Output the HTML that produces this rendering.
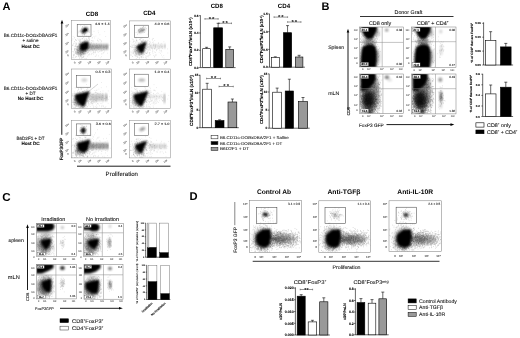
<!DOCTYPE html>
<html><head><meta charset="utf-8"><style>
html,body{margin:0;padding:0;background:#fff;width:520px;height:338px;overflow:hidden}
svg{display:block;font-family:"Liberation Sans", sans-serif;filter:grayscale(1);text-rendering:geometricPrecision}
</style></head><body>
<svg width="520" height="338" viewBox="0 0 520 338">
<defs>
<filter id="b05" x="-50%" y="-50%" width="200%" height="200%"><feGaussianBlur stdDeviation="0.5"/></filter>
<filter id="b08" x="-50%" y="-50%" width="200%" height="200%"><feGaussianBlur stdDeviation="0.8"/></filter>
<filter id="b1" x="-50%" y="-50%" width="200%" height="200%"><feGaussianBlur stdDeviation="1"/></filter>
<filter id="b15" x="-50%" y="-50%" width="200%" height="200%"><feGaussianBlur stdDeviation="1.5"/></filter>
<filter id="b2" x="-50%" y="-50%" width="200%" height="200%"><feGaussianBlur stdDeviation="2"/></filter>
<filter id="b3" x="-50%" y="-50%" width="200%" height="200%"><feGaussianBlur stdDeviation="3"/></filter>
</defs>
<rect width="520" height="338" fill="#fff"/>
<text x="6.4" y="9.8" font-size="11" text-anchor="middle" font-weight="bold" fill="#000">A</text>
<text x="325.5" y="9.8" font-size="11" text-anchor="middle" font-weight="bold" fill="#000">B</text>
<text x="6.4" y="200.5" font-size="11.6" text-anchor="middle" font-weight="bold" fill="#000">C</text>
<text x="193.5" y="200.4" font-size="11.2" text-anchor="middle" font-weight="bold" fill="#000">D</text>
<text x="69.1" y="25.377000000000002" font-size="2.6" text-anchor="end" fill="#555" transform="rotate(-30 69.1 25.377000000000002)" stroke="#555" stroke-width="0.08">10⁴</text>
<text x="69.1" y="34.301" font-size="2.6" text-anchor="end" fill="#555" transform="rotate(-30 69.1 34.301)" stroke="#555" stroke-width="0.08">10³</text>
<text x="69.1" y="43.322" font-size="2.6" text-anchor="end" fill="#555" transform="rotate(-30 69.1 43.322)" stroke="#555" stroke-width="0.08">10²</text>
<text x="69.1" y="51.567" font-size="2.6" text-anchor="end" fill="#555" transform="rotate(-30 69.1 51.567)" stroke="#555" stroke-width="0.08">10¹</text>
<text x="69.1" y="55.73799999999999" font-size="2.6" text-anchor="end" fill="#555" transform="rotate(-30 69.1 55.73799999999999)" stroke="#555" stroke-width="0.08">0</text>
<text x="75.2" y="63.4" font-size="2.6" text-anchor="middle" fill="#555" transform="rotate(-30 75.2 63.4)" stroke="#555" stroke-width="0.08">0</text>
<text x="80.39999999999999" y="63.4" font-size="2.6" text-anchor="middle" fill="#555" transform="rotate(-30 80.39999999999999 63.4)" stroke="#555" stroke-width="0.08">10¹</text>
<text x="89.9" y="63.4" font-size="2.6" text-anchor="middle" fill="#555" transform="rotate(-30 89.9 63.4)" stroke="#555" stroke-width="0.08">10²</text>
<text x="99.4" y="63.4" font-size="2.6" text-anchor="middle" fill="#555" transform="rotate(-30 99.4 63.4)" stroke="#555" stroke-width="0.08">10³</text>
<text x="108.0" y="63.4" font-size="2.6" text-anchor="middle" fill="#555" transform="rotate(-30 108.0 63.4)" stroke="#555" stroke-width="0.08">10⁴</text>
<clipPath id="c1"><rect x="71.3" y="20.6" width="39.4" height="38.8"/></clipPath><g clip-path="url(#c1)">
<path d="M85.7 50.1h.6M86.0 45.1h.6M79.6 45.7h.6M98.0 49.5h.6M97.3 48.5h.6M91.6 48.1h.6M73.0 52.1h.6M92.6 50.0h.6M72.8 36.5h.6M80.0 44.2h.6M90.7 46.7h.6M92.7 43.1h.6M90.8 49.4h.6M82.0 57.3h.6M93.0 54.2h.6M82.4 42.6h.6M84.9 46.4h.6M93.7 48.5h.6M84.0 41.3h.6M83.3 54.3h.6M80.7 48.5h.6M91.8 38.1h.6M88.4 54.8h.6M69.9 45.1h.6M87.0 42.1h.6M92.5 46.6h.6M74.8 52.0h.6M94.0 52.7h.6M101.0 49.2h.6M89.1 39.2h.6M93.5 43.3h.6M83.9 39.4h.6M79.3 43.8h.6M99.6 34.8h.6M74.9 48.4h.6M101.0 50.5h.6M70.9 31.9h.6M91.2 42.6h.6M77.9 52.9h.6M97.9 47.9h.6M90.2 49.6h.6M102.3 50.7h.6M92.7 50.3h.6M73.9 54.7h.6M96.6 50.2h.6M70.2 43.2h.6M95.6 36.1h.6M86.3 53.1h.6M76.2 56.7h.6M93.0 46.1h.6M90.9 50.9h.6M89.1 53.9h.6M82.0 44.5h.6M97.4 47.2h.6M80.1 52.7h.6M101.2 44.3h.6M75.6 46.2h.6M86.7 45.2h.6M100.6 40.8h.6M99.3 39.4h.6M80.9 50.8h.6M98.2 52.2h.6M91.1 47.9h.6M89.4 50.5h.6M86.4 48.7h.6M93.2 47.0h.6M94.9 50.4h.6M106.1 48.9h.6M84.2 44.8h.6M87.9 52.5h.6M85.0 49.3h.6M104.5 31.6h.6M77.9 48.5h.6M91.6 48.4h.6M84.1 50.9h.6M90.5 43.9h.6M109.9 49.1h.6M83.0 46.4h.6M86.0 46.6h.6M63.4 44.1h.6M97.1 40.0h.6M87.4 52.7h.6M95.7 55.9h.6M72.7 44.9h.6M84.9 50.7h.6M97.8 30.9h.6M97.8 38.3h.6M94.1 38.0h.6M89.6 54.2h.6M86.7 48.1h.6M95.2 47.8h.6M87.2 56.2h.6M97.4 45.2h.6M112.7 40.1h.6M96.2 45.4h.6M89.2 51.2h.6M90.0 50.8h.6M74.3 37.9h.6M93.5 41.2h.6M78.8 38.2h.6M99.4 51.5h.6M101.3 41.4h.6M88.0 40.2h.6M94.9 56.5h.6M80.0 56.4h.6M96.9 45.9h.6M70.3 55.4h.6M87.1 43.4h.6M91.6 49.5h.6M101.5 40.9h.6M98.2 55.9h.6M101.1 45.9h.6M81.3 53.1h.6M89.0 47.7h.6M100.8 45.4h.6M67.3 44.7h.6M71.3 51.9h.6M90.9 43.3h.6M87.9 52.0h.6M88.7 55.0h.6M87.4 53.2h.6M101.4 56.7h.6M82.0 52.3h.6M71.1 40.5h.6M70.3 53.4h.6M76.9 46.9h.6M86.3 46.8h.6M82.7 48.4h.6M104.1 47.3h.6M92.8 53.0h.6M86.2 39.4h.6M83.0 53.4h.6M73.2 43.4h.6M97.1 51.8h.6M88.1 51.8h.6M89.5 39.9h.6M73.9 43.2h.6M96.3 43.6h.6M79.9 42.4h.6M74.2 46.3h.6M77.4 49.2h.6M66.8 49.0h.6M82.2 35.3h.6M94.5 45.3h.6M67.9 41.7h.6M90.6 44.2h.6M95.0 51.5h.6M94.0 49.0h.6M100.0 51.0h.6M92.1 34.5h.6M96.1 54.9h.6M85.3 44.2h.6M105.5 36.5h.6M92.2 61.5h.6M79.7 51.1h.6M105.0 46.3h.6M93.1 52.4h.6M79.8 46.5h.6M90.6 52.0h.6M87.7 45.8h.6M78.9 44.8h.6M96.0 47.6h.6M80.3 42.0h.6M112.0 53.8h.6M93.7 31.4h.6M93.6 49.9h.6M103.2 49.6h.6M87.4 50.1h.6M70.5 53.2h.6M90.9 42.8h.6M99.9 57.9h.6M75.4 43.0h.6M90.6 48.1h.6M84.4 41.2h.6M107.1 53.2h.6M77.3 38.9h.6M103.3 52.9h.6M104.4 51.9h.6M80.2 48.6h.6M68.6 42.5h.6M87.5 50.1h.6M81.5 46.3h.6M92.1 49.3h.6M93.7 48.3h.6M85.1 51.7h.6M88.4 42.0h.6M82.4 47.0h.6M87.0 47.9h.6M88.0 48.1h.6M86.8 39.4h.6M91.8 53.3h.6M91.9 45.9h.6M92.0 41.2h.6M70.9 47.4h.6M79.6 51.4h.6M78.2 31.2h.6M78.6 56.5h.6M84.6 38.8h.6M81.1 50.1h.6M92.5 48.1h.6M101.4 51.2h.6M87.8 50.6h.6M102.9 52.8h.6M97.2 40.5h.6M86.7 51.4h.6M85.3 53.4h.6M93.4 52.4h.6M86.1 62.3h.6M99.2 45.7h.6M88.8 62.6h.6M84.9 52.2h.6M96.8 47.0h.6M77.5 48.1h.6M91.2 53.8h.6M95.0 47.1h.6M95.7 50.2h.6M89.9 47.3h.6M85.8 51.1h.6M78.5 43.2h.6M88.0 38.2h.6M84.1 34.9h.6M81.9 50.4h.6M93.1 46.7h.6M85.9 38.5h.6M104.5 50.1h.6M97.8 41.7h.6M86.3 36.1h.6M95.0 52.6h.6M70.9 46.7h.6M93.7 36.4h.6M71.6 40.6h.6M82.3 38.6h.6M88.3 48.5h.6M93.7 51.2h.6M101.5 54.0h.6M76.2 44.0h.6M78.5 40.5h.6M87.3 47.0h.6M92.4 37.5h.6M76.9 46.9h.6M86.2 45.1h.6M87.4 42.4h.6M94.3 49.1h.6M87.2 43.0h.6M86.4 30.7h.6M79.2 47.2h.6M74.5 48.2h.6M89.3 38.7h.6M85.7 45.1h.6M92.1 50.7h.6M87.7 41.9h.6M86.7 46.6h.6M94.6 48.8h.6M81.5 38.9h.6M84.6 42.6h.6M78.0 46.3h.6M83.6 47.6h.6M92.7 44.5h.6M108.9 45.1h.6M97.9 47.7h.6M98.0 32.7h.6M81.2 48.5h.6M93.4 61.0h.6M90.9 54.7h.6M94.9 52.7h.6M92.6 46.1h.6M92.6 40.5h.6M98.6 40.9h.6M90.2 59.7h.6M86.0 47.1h.6M98.5 47.2h.6M80.7 48.5h.6M93.2 51.3h.6M81.0 57.5h.6M103.0 47.1h.6M90.4 44.4h.6M100.7 42.8h.6M94.1 44.1h.6M81.8 51.3h.6M100.0 46.9h.6M81.9 51.9h.6M87.6 48.9h.6M101.7 53.8h.6M83.3 60.7h.6M88.0 51.7h.6M82.2 46.7h.6M72.3 57.7h.6M100.3 39.7h.6M74.5 37.3h.6M98.6 44.2h.6M87.5 45.1h.6M86.9 40.5h.6M88.2 38.4h.6M87.4 48.9h.6M92.2 45.6h.6M79.9 48.0h.6M83.6 56.4h.6M94.9 46.3h.6M83.8 42.8h.6M79.6 44.9h.6" stroke="#000" stroke-width=".6" opacity="0.2"/>
<path d="M81.2 52.6h.6M82.3 60.5h.6M77.2 50.1h.6M91.2 40.7h.6M77.9 50.8h.6M80.6 52.0h.6M79.0 51.8h.6M80.2 53.9h.6M72.4 45.6h.6M80.0 44.8h.6M75.8 53.1h.6M77.4 53.2h.6M83.0 51.5h.6M82.0 49.5h.6M74.4 49.8h.6M81.8 47.4h.6M79.6 53.7h.6M76.5 53.2h.6M87.5 47.2h.6M80.6 49.2h.6M86.2 51.6h.6M83.6 46.5h.6M79.9 50.0h.6M72.9 57.2h.6M83.6 41.3h.6M83.0 49.3h.6M81.8 51.8h.6M74.0 48.9h.6M86.0 47.1h.6M75.9 43.2h.6M75.1 51.7h.6M86.8 52.1h.6M81.0 61.2h.6M77.9 46.6h.6M82.1 52.7h.6M75.9 44.2h.6M81.2 51.2h.6M74.8 49.0h.6M77.8 52.3h.6M79.5 49.6h.6M78.6 55.3h.6M85.6 48.2h.6M83.4 46.2h.6M80.3 53.7h.6M86.1 48.1h.6M79.7 51.0h.6M74.0 50.1h.6M77.3 51.9h.6M75.5 40.1h.6M80.2 51.3h.6M77.8 54.4h.6M78.9 47.0h.6M81.9 42.2h.6M77.3 49.9h.6M83.4 49.2h.6M81.2 46.7h.6M81.2 58.3h.6M77.3 61.8h.6M77.4 50.1h.6M80.7 55.1h.6M75.1 39.5h.6M82.4 54.0h.6M82.5 63.2h.6M80.8 51.3h.6M83.7 51.8h.6M86.7 43.8h.6M78.5 32.8h.6M83.2 48.1h.6M83.7 60.8h.6M80.0 48.7h.6M78.0 45.8h.6M77.5 53.2h.6M80.1 50.3h.6M79.3 54.6h.6M82.0 49.3h.6M82.7 49.2h.6M75.4 57.3h.6M81.9 45.2h.6M84.3 51.7h.6M73.7 58.0h.6M81.3 54.5h.6M80.8 49.3h.6M73.8 54.9h.6M80.1 48.6h.6M81.4 50.4h.6M82.7 48.1h.6M79.9 39.3h.6M78.3 53.4h.6M85.3 48.2h.6M79.5 57.9h.6M78.7 53.7h.6M86.7 50.2h.6M84.9 46.4h.6M80.8 49.6h.6M80.5 55.6h.6M89.6 46.7h.6M77.7 52.5h.6M75.8 52.5h.6M82.3 48.6h.6M82.1 42.3h.6M83.0 42.3h.6M77.2 47.2h.6M78.4 54.3h.6M80.3 48.0h.6M82.2 57.9h.6M80.0 51.8h.6M85.0 51.3h.6M74.9 62.5h.6M88.8 40.1h.6M79.8 52.1h.6M83.9 53.3h.6M78.9 44.7h.6M80.4 55.2h.6M75.6 44.9h.6M79.9 40.3h.6M79.0 47.8h.6M81.8 46.5h.6M76.5 48.0h.6M79.8 46.7h.6M80.0 53.8h.6M84.7 58.5h.6M76.9 47.9h.6M70.1 59.5h.6M77.1 49.8h.6M82.1 43.2h.6M81.9 49.9h.6M72.7 51.5h.6M84.8 40.7h.6M83.2 51.0h.6M81.9 52.2h.6M85.2 48.9h.6M83.5 48.0h.6M82.9 45.9h.6M79.6 58.7h.6M81.8 49.2h.6M75.4 46.0h.6M80.8 54.7h.6M81.7 52.6h.6M79.8 56.8h.6M78.4 47.3h.6M83.6 50.3h.6M78.9 47.1h.6M79.0 53.1h.6M81.4 44.0h.6M81.7 50.9h.6M76.0 53.9h.6M78.9 48.3h.6M83.2 56.6h.6M77.2 52.2h.6M76.5 61.6h.6M78.0 56.0h.6M77.4 54.1h.6M88.9 37.3h.6M78.3 52.5h.6M79.6 46.7h.6M88.6 50.4h.6M73.4 54.3h.6M73.1 55.8h.6M77.7 50.7h.6M85.0 50.6h.6M74.4 41.5h.6M84.7 53.7h.6M76.7 54.3h.6M82.0 53.2h.6M71.0 48.5h.6M83.6 53.7h.6M83.5 37.7h.6M80.7 52.5h.6M90.2 45.2h.6M78.7 50.2h.6M83.5 47.8h.6M84.6 46.1h.6M81.1 47.4h.6M80.6 46.5h.6M73.6 55.5h.6M81.2 47.2h.6M80.8 55.0h.6M76.1 49.4h.6M82.2 52.6h.6M78.7 39.5h.6M85.0 51.6h.6M80.1 48.6h.6M81.1 47.9h.6M75.9 46.3h.6M77.6 46.9h.6M75.4 53.2h.6M74.8 53.3h.6M75.9 51.8h.6M85.5 51.0h.6M77.1 50.2h.6M80.6 41.3h.6M77.6 50.8h.6M78.1 50.4h.6M82.9 53.8h.6M83.6 52.9h.6M78.8 49.9h.6M78.9 48.4h.6M79.3 41.4h.6M78.7 49.9h.6M76.1 49.9h.6M82.1 49.2h.6M88.3 37.0h.6M79.2 40.9h.6M83.9 63.3h.6M70.0 50.6h.6M82.1 48.5h.6M82.2 38.8h.6M83.4 51.9h.6M80.1 47.1h.6M82.6 47.6h.6M80.9 47.4h.6M71.0 49.8h.6M80.8 53.8h.6M76.5 49.8h.6M82.5 50.7h.6M85.0 60.0h.6M76.4 40.4h.6M83.4 57.6h.6M83.7 54.1h.6M77.5 46.4h.6M83.6 45.4h.6M72.7 45.0h.6M90.0 59.6h.6M77.3 46.4h.6M80.9 46.3h.6M85.2 49.6h.6M75.7 56.5h.6M77.7 51.1h.6M79.9 48.4h.6M81.3 46.5h.6M72.6 39.0h.6M74.9 46.2h.6M79.9 50.3h.6M82.2 50.6h.6M76.8 46.5h.6M71.5 49.2h.6M81.9 52.6h.6M79.5 49.1h.6M83.7 50.1h.6M83.0 52.9h.6M80.9 56.5h.6M77.7 48.2h.6M76.8 46.0h.6M86.2 58.8h.6M80.1 52.8h.6M84.7 54.0h.6M84.8 43.7h.6M77.4 52.3h.6M85.7 50.5h.6M76.6 48.2h.6" stroke="#000" stroke-width=".6" opacity="0.3"/>
<path d="M82.3 28.8h.6M87.8 29.2h.6M84.1 34.8h.6M87.0 31.2h.6M82.5 31.3h.6M88.1 31.7h.6M87.2 30.7h.6M85.3 30.1h.6M85.1 33.1h.6M80.4 30.4h.6M84.6 29.4h.6M83.2 32.1h.6M89.0 31.8h.6M84.8 27.4h.6M88.8 30.7h.6M83.9 28.3h.6M83.9 28.3h.6M84.2 31.4h.6M84.1 31.1h.6M81.9 33.4h.6M82.4 26.9h.6M83.5 29.0h.6M81.5 29.8h.6M84.7 28.1h.6M83.7 33.4h.6M85.7 30.2h.6M84.3 30.3h.6M83.9 32.0h.6M83.8 25.7h.6M83.9 28.7h.6M85.6 29.3h.6M84.4 34.9h.6M81.4 28.3h.6M80.5 25.7h.6M79.3 31.2h.6M82.4 26.8h.6M80.3 31.7h.6M82.1 29.8h.6M84.8 33.2h.6M88.9 32.6h.6" stroke="#000" stroke-width=".6" opacity="0.3"/>
<ellipse cx="84.6" cy="30.4" rx="3.6" ry="2.2" fill="#000" opacity="1" filter="url(#b08)" transform="rotate(-35 84.6 30.4)"/>
<ellipse cx="85.3" cy="30" rx="1.8" ry="1.4" fill="#000" opacity="0.6" filter="url(#b05)"/>
<rect x="88.5" y="44.2" width="19.0" height="5.399999999999999" fill="#000" stroke="none" stroke-width="0" opacity="0.25" filter="url(#b1)"/>
<ellipse cx="90" cy="46.75" rx="0.6" ry="3.049999999999997" fill="#000" opacity="0.42" filter="url(#b08)"/>
<ellipse cx="92.7" cy="46.75" rx="0.6" ry="3.049999999999997" fill="#000" opacity="0.42" filter="url(#b08)"/>
<ellipse cx="95.2" cy="46.75" rx="0.6" ry="3.049999999999997" fill="#000" opacity="0.42" filter="url(#b08)"/>
<ellipse cx="97.9" cy="46.75" rx="0.6" ry="3.049999999999997" fill="#000" opacity="0.42" filter="url(#b08)"/>
<ellipse cx="100.6" cy="46.75" rx="0.6" ry="3.049999999999997" fill="#000" opacity="0.42" filter="url(#b08)"/>
<ellipse cx="103.6" cy="46.75" rx="0.6" ry="3.049999999999997" fill="#000" opacity="0.42" filter="url(#b08)"/>
<ellipse cx="107" cy="46.75" rx="0.6" ry="3.049999999999997" fill="#000" opacity="0.75" filter="url(#b08)"/>
<ellipse cx="81" cy="51" rx="4.5" ry="4" fill="#000" opacity="0.35" filter="url(#b15)"/>
<path d="M79.5 44L86 41.2L89 42.5L88.5 49L84 51.3L80 50Z" fill="#000" opacity="1" filter="url(#b1)"/>
</g>
<rect x="71.3" y="20.6" width="39.4" height="38.8" fill="none" stroke="#888" stroke-width="0.5"/>
<rect x="77.2" y="24.4" width="13.799999999999997" height="11.800000000000004" fill="none" stroke="#444" stroke-width="0.5"/>
<text x="109.89999999999999" y="24.8" font-size="3.3" text-anchor="end" fill="#222" textLength="15" lengthAdjust="spacingAndGlyphs" stroke="#222" stroke-width="0.08">4.9 ± 1.1</text>
<text x="127.10000000000001" y="25.64625" font-size="2.6" text-anchor="end" fill="#555" transform="rotate(-30 127.10000000000001 25.64625)" stroke="#555" stroke-width="0.08">10⁴</text>
<text x="127.10000000000001" y="34.50125" font-size="2.6" text-anchor="end" fill="#555" transform="rotate(-30 127.10000000000001 34.50125)" stroke="#555" stroke-width="0.08">10³</text>
<text x="127.10000000000001" y="43.4525" font-size="2.6" text-anchor="end" fill="#555" transform="rotate(-30 127.10000000000001 43.4525)" stroke="#555" stroke-width="0.08">10²</text>
<text x="127.10000000000001" y="51.63375" font-size="2.6" text-anchor="end" fill="#555" transform="rotate(-30 127.10000000000001 51.63375)" stroke="#555" stroke-width="0.08">10¹</text>
<text x="127.10000000000001" y="55.772499999999994" font-size="2.6" text-anchor="end" fill="#555" transform="rotate(-30 127.10000000000001 55.772499999999994)" stroke="#555" stroke-width="0.08">0</text>
<text x="133.20000000000002" y="63.4" font-size="2.6" text-anchor="middle" fill="#555" transform="rotate(-30 133.20000000000002 63.4)" stroke="#555" stroke-width="0.08">0</text>
<text x="138.4" y="63.4" font-size="2.6" text-anchor="middle" fill="#555" transform="rotate(-30 138.4 63.4)" stroke="#555" stroke-width="0.08">10¹</text>
<text x="147.9" y="63.4" font-size="2.6" text-anchor="middle" fill="#555" transform="rotate(-30 147.9 63.4)" stroke="#555" stroke-width="0.08">10²</text>
<text x="157.4" y="63.4" font-size="2.6" text-anchor="middle" fill="#555" transform="rotate(-30 157.4 63.4)" stroke="#555" stroke-width="0.08">10³</text>
<text x="166.0" y="63.4" font-size="2.6" text-anchor="middle" fill="#555" transform="rotate(-30 166.0 63.4)" stroke="#555" stroke-width="0.08">10⁴</text>
<clipPath id="c2"><rect x="129.3" y="20.9" width="41" height="38.5"/></clipPath><g clip-path="url(#c2)">
<path d="M146.3 48.9h.6M161.2 55.1h.6M142.2 50.3h.6M147.6 48.3h.6M140.5 41.4h.6M140.2 40.3h.6M156.0 50.7h.6M134.1 55.0h.6M153.0 38.5h.6M161.6 52.0h.6M163.6 41.8h.6M149.8 50.1h.6M146.8 48.9h.6M154.5 40.5h.6M133.8 41.0h.6M140.0 45.0h.6M148.3 49.3h.6M145.3 44.6h.6M141.0 52.8h.6M151.9 48.5h.6M142.1 55.8h.6M139.7 51.2h.6M155.4 46.7h.6M152.4 42.4h.6M154.1 49.0h.6M130.7 51.3h.6M137.0 54.4h.6M138.9 47.2h.6M147.5 46.3h.6M147.3 45.2h.6M151.0 48.0h.6M146.9 34.2h.6M155.5 48.2h.6M129.0 48.5h.6M149.2 53.4h.6M135.3 55.7h.6M143.6 60.0h.6M143.7 51.4h.6M141.7 42.4h.6M154.9 52.5h.6M158.8 52.3h.6M139.8 39.7h.6M139.1 44.6h.6M137.7 50.9h.6M148.0 46.7h.6M146.6 47.3h.6M146.9 51.8h.6M153.6 44.6h.6M131.4 55.1h.6M146.0 53.5h.6M130.2 46.4h.6M145.2 40.8h.6M140.4 51.6h.6M154.7 56.0h.6M137.2 41.0h.6M149.7 52.7h.6M146.7 41.5h.6M152.0 52.0h.6M150.0 45.6h.6M147.7 52.0h.6M140.0 38.8h.6M148.0 50.4h.6M145.1 52.4h.6M139.7 47.6h.6M142.3 50.9h.6M159.4 46.7h.6M163.5 55.6h.6M152.1 50.9h.6M160.9 47.1h.6M144.0 42.7h.6M149.3 54.7h.6M149.8 50.1h.6M143.2 48.8h.6M132.2 53.2h.6M141.3 42.5h.6M138.2 43.9h.6M152.7 53.3h.6M132.8 52.6h.6M153.0 45.1h.6M131.6 44.3h.6M139.3 49.7h.6M141.8 37.9h.6M147.1 40.3h.6M153.1 42.0h.6M138.8 43.7h.6M140.1 54.5h.6M152.7 51.0h.6M147.9 40.3h.6M140.3 45.2h.6M136.2 50.5h.6M138.3 44.5h.6M135.6 37.7h.6M150.4 54.7h.6M146.6 43.1h.6M120.7 48.9h.6M155.9 49.5h.6M153.3 55.4h.6M155.1 45.8h.6M154.5 51.9h.6M131.2 46.0h.6M132.2 47.5h.6M150.2 42.7h.6M126.5 54.5h.6M148.4 55.4h.6M133.1 53.3h.6M163.7 58.0h.6M143.1 49.3h.6M143.6 53.0h.6M154.3 48.4h.6M132.8 51.7h.6M140.8 51.1h.6M147.4 56.1h.6M155.2 45.7h.6M148.1 56.8h.6M140.2 50.2h.6M155.7 54.3h.6M149.7 41.4h.6M133.7 49.2h.6M148.5 60.7h.6M137.2 53.7h.6M151.9 39.6h.6M137.6 48.8h.6M140.6 47.2h.6M149.2 44.0h.6M149.2 44.8h.6M140.1 50.7h.6M139.8 49.4h.6M159.4 48.1h.6M143.7 51.7h.6M141.7 53.4h.6M133.5 51.1h.6M140.4 44.0h.6M160.9 43.7h.6M160.8 51.3h.6M158.1 43.1h.6M155.8 55.3h.6M144.0 47.4h.6M167.1 48.9h.6M141.2 44.9h.6M149.0 49.7h.6M146.6 56.6h.6M142.0 50.4h.6M158.1 43.0h.6M154.3 57.2h.6M132.8 42.5h.6M135.7 38.8h.6M149.1 38.7h.6M149.5 55.3h.6M130.5 46.4h.6M127.7 51.9h.6M138.4 46.7h.6M145.5 50.7h.6M141.9 48.1h.6M140.1 48.6h.6M134.4 48.3h.6M127.6 45.5h.6M162.2 48.4h.6M133.7 49.3h.6M136.2 39.7h.6M138.4 51.7h.6M148.5 47.5h.6M136.7 42.6h.6M157.1 49.2h.6M136.4 37.4h.6M132.7 60.4h.6M134.7 47.6h.6M146.9 47.2h.6M142.5 41.1h.6M135.5 56.4h.6M138.2 52.2h.6M129.8 46.6h.6M147.3 53.2h.6M134.9 51.0h.6M148.5 44.3h.6M149.3 43.5h.6M137.8 47.9h.6M120.6 47.5h.6M136.0 40.7h.6M141.2 51.8h.6M141.4 54.3h.6M134.6 41.4h.6M159.0 50.0h.6M153.5 43.9h.6M152.2 49.3h.6M150.8 48.1h.6M155.9 44.8h.6M136.3 40.6h.6M155.4 44.3h.6M135.6 43.3h.6M141.0 41.6h.6M142.4 44.9h.6M140.0 43.2h.6M145.3 45.7h.6M146.0 49.2h.6M148.1 37.1h.6M140.2 44.0h.6M152.0 40.1h.6M138.6 46.5h.6M142.0 53.0h.6M141.0 52.8h.6M131.8 38.9h.6M156.0 50.2h.6M149.4 48.6h.6M149.4 41.9h.6M153.5 45.3h.6M153.9 48.4h.6M127.2 41.6h.6M155.1 47.3h.6M141.4 49.2h.6M141.2 45.3h.6M145.9 48.7h.6M158.7 48.2h.6M161.9 57.0h.6M160.4 53.3h.6M146.2 48.7h.6M143.7 44.3h.6M144.4 44.8h.6M159.8 50.7h.6M141.0 38.4h.6M144.5 45.9h.6M135.2 42.3h.6M124.7 50.8h.6M144.4 60.9h.6M144.7 47.3h.6M158.0 48.7h.6M146.5 46.1h.6M139.6 55.5h.6M154.0 56.6h.6M141.9 48.2h.6M137.1 52.8h.6M132.5 50.8h.6M154.9 55.1h.6M136.5 53.4h.6M138.6 44.2h.6M133.1 53.8h.6M159.8 45.0h.6M138.2 46.3h.6M167.6 53.0h.6M140.1 39.0h.6M138.9 53.9h.6M161.8 46.7h.6M138.8 45.5h.6M128.0 52.5h.6M135.2 53.3h.6M129.6 41.6h.6M147.6 44.2h.6M152.0 48.0h.6M134.4 51.1h.6M152.6 38.4h.6M161.4 50.5h.6" stroke="#000" stroke-width=".6" opacity="0.2"/>
<path d="M141.7 41.6h.6M136.5 48.4h.6M142.8 43.4h.6M135.9 40.9h.6M138.2 51.6h.6M133.1 47.3h.6M140.8 57.1h.6M141.3 48.6h.6M134.9 45.8h.6M136.7 50.7h.6M138.8 57.5h.6M140.0 45.2h.6M144.4 54.3h.6M139.4 46.8h.6M132.5 45.4h.6M142.2 46.4h.6M134.4 50.9h.6M139.9 52.7h.6M141.3 56.3h.6M136.1 54.4h.6M135.5 53.1h.6M139.6 51.1h.6M142.4 49.9h.6M142.9 53.9h.6M139.5 47.4h.6M136.4 47.6h.6M138.3 49.9h.6M149.4 52.9h.6M141.7 46.1h.6M136.5 48.6h.6M139.7 45.3h.6M144.6 47.5h.6M142.8 39.5h.6M139.0 51.3h.6M139.7 52.7h.6M140.0 50.7h.6M132.4 46.8h.6M130.8 52.8h.6M140.1 49.1h.6M136.1 47.4h.6M145.5 57.8h.6M138.8 55.8h.6M133.4 41.3h.6M137.3 46.1h.6M137.0 50.8h.6M149.6 47.0h.6M139.2 51.2h.6M138.9 54.2h.6M145.2 44.4h.6M139.6 48.8h.6M140.2 43.1h.6M132.8 39.6h.6M140.8 50.9h.6M139.3 39.4h.6M137.7 46.6h.6M134.1 45.9h.6M141.4 52.4h.6M138.9 52.3h.6M136.9 50.3h.6M139.1 52.5h.6M138.8 49.4h.6M138.5 47.1h.6M146.8 52.3h.6M140.5 60.3h.6M143.9 43.0h.6M141.4 53.8h.6M145.6 55.9h.6M141.7 44.7h.6M136.0 51.2h.6M140.8 45.4h.6M137.7 48.2h.6M139.2 51.5h.6M138.0 44.4h.6M143.3 57.2h.6M138.6 54.6h.6M140.6 53.0h.6M140.7 46.6h.6M141.0 54.5h.6M135.9 58.8h.6M146.3 58.2h.6M146.0 53.3h.6M137.8 47.3h.6M136.2 50.5h.6M138.9 53.0h.6M131.9 60.4h.6M147.0 49.9h.6M141.4 52.1h.6M140.0 49.1h.6M138.6 46.3h.6M139.6 49.9h.6M140.1 46.2h.6M139.1 50.2h.6M141.1 45.2h.6M140.5 54.4h.6M141.1 48.3h.6M137.3 48.9h.6M141.6 57.0h.6M138.4 47.1h.6M140.3 50.9h.6M135.8 46.7h.6M138.6 53.0h.6M134.8 45.4h.6M140.7 44.5h.6M139.4 51.6h.6M138.6 45.4h.6M138.8 48.5h.6M140.2 46.2h.6M142.8 42.5h.6M138.4 50.0h.6M142.4 47.3h.6M140.9 47.4h.6M141.6 57.8h.6M137.6 52.0h.6M135.8 54.4h.6M143.2 50.2h.6M135.0 51.8h.6M143.0 54.9h.6M141.8 41.8h.6M136.6 56.4h.6M134.7 55.1h.6M145.6 53.4h.6M142.9 48.5h.6M134.7 49.5h.6M138.3 49.8h.6M141.4 49.3h.6M139.7 51.9h.6M139.0 58.3h.6M140.5 50.4h.6M138.3 47.2h.6M143.7 50.7h.6M135.2 47.5h.6M138.5 48.0h.6M142.8 44.8h.6M140.7 50.6h.6M134.9 50.2h.6M138.7 52.3h.6M137.4 51.4h.6M133.2 45.1h.6M141.7 54.7h.6M139.0 47.3h.6M142.8 40.6h.6M136.2 53.0h.6M141.3 45.4h.6M132.4 56.5h.6M139.5 46.0h.6M139.2 54.1h.6M129.9 55.0h.6M141.6 40.6h.6M141.7 42.0h.6M143.0 51.8h.6M146.9 47.3h.6M139.0 54.7h.6M136.8 46.8h.6M137.7 49.7h.6M135.2 52.2h.6M140.9 50.3h.6M145.0 48.5h.6M143.6 47.5h.6M141.6 41.3h.6M139.7 49.2h.6M137.3 47.3h.6M137.8 46.8h.6M131.3 47.3h.6M137.1 47.6h.6M135.3 49.4h.6M141.7 48.9h.6M137.3 56.1h.6M142.4 54.1h.6M143.0 48.5h.6M138.5 55.0h.6M137.1 49.5h.6M140.3 51.7h.6M138.0 54.4h.6M138.4 53.3h.6M142.7 53.0h.6M141.6 44.8h.6M134.4 47.2h.6M140.7 56.8h.6M134.7 51.4h.6M136.0 46.7h.6M138.0 53.1h.6M139.7 55.3h.6M135.6 54.0h.6M142.3 50.3h.6M140.7 47.5h.6M135.2 48.2h.6M136.8 63.0h.6M137.3 57.4h.6M139.7 51.4h.6M141.6 46.5h.6M142.2 51.7h.6M133.7 52.7h.6M140.9 52.0h.6M144.5 48.1h.6M140.8 53.4h.6M135.8 55.4h.6M133.9 44.1h.6M140.8 45.1h.6M138.6 42.6h.6M139.2 44.9h.6" stroke="#000" stroke-width=".6" opacity="0.3"/>
<path d="M142.7 27.3h.6M143.0 29.9h.6M141.9 30.3h.6M142.1 27.8h.6M138.9 29.5h.6M143.0 26.4h.6M139.4 29.2h.6M138.5 31.1h.6M141.3 28.8h.6M138.7 32.0h.6M139.7 31.6h.6M143.0 26.6h.6M138.4 30.4h.6M142.7 32.0h.6M144.1 32.5h.6M140.6 30.0h.6M144.0 29.5h.6M144.9 27.2h.6M143.7 30.1h.6M135.8 32.4h.6M142.6 30.4h.6M138.5 29.5h.6M146.2 28.7h.6M138.1 30.1h.6M140.5 28.6h.6M139.2 32.5h.6M137.4 34.3h.6M140.1 28.2h.6" stroke="#000" stroke-width=".6" opacity="0.3"/>
<ellipse cx="141.7" cy="30.4" rx="3.6" ry="1.7" fill="#000" opacity="0.45" filter="url(#b1)" transform="rotate(-25 141.7 30.4)"/>
<rect x="148" y="44.5" width="17" height="3.5" fill="#000" stroke="none" stroke-width="0" opacity="0.1" filter="url(#b1)"/>
<ellipse cx="151" cy="46.1" rx="0.44999999999999996" ry="2.5" fill="#000" opacity="0.12" filter="url(#b08)"/>
<ellipse cx="154.5" cy="46.1" rx="0.44999999999999996" ry="2.5" fill="#000" opacity="0.12" filter="url(#b08)"/>
<ellipse cx="158" cy="46.1" rx="0.44999999999999996" ry="2.5" fill="#000" opacity="0.12" filter="url(#b08)"/>
<ellipse cx="161.5" cy="46.1" rx="0.44999999999999996" ry="2.5" fill="#000" opacity="0.12" filter="url(#b08)"/>
<ellipse cx="165.1" cy="46.1" rx="0.44999999999999996" ry="2.5" fill="#000" opacity="0.45" filter="url(#b08)"/>
<ellipse cx="139.5" cy="50.5" rx="4.5" ry="3.5" fill="#000" opacity="0.3" filter="url(#b15)"/>
<path d="M136.5 46L145.8 41.6L146.5 43L143.5 52L141 53L137.5 49Z" fill="#000" opacity="1" filter="url(#b1)"/>
</g>
<rect x="129.3" y="20.9" width="41" height="38.5" fill="none" stroke="#888" stroke-width="0.5"/>
<rect x="134.3" y="25.2" width="14.299999999999983" height="12.3" fill="none" stroke="#444" stroke-width="0.5"/>
<text x="169.5" y="25.099999999999998" font-size="3.3" text-anchor="end" fill="#222" textLength="15" lengthAdjust="spacingAndGlyphs" stroke="#222" stroke-width="0.08">4.0 ± 0.6</text>
<text x="69.1" y="73.84875" font-size="2.6" text-anchor="end" fill="#555" transform="rotate(-30 69.1 73.84875)" stroke="#555" stroke-width="0.08">10⁴</text>
<text x="69.1" y="82.93375" font-size="2.6" text-anchor="end" fill="#555" transform="rotate(-30 69.1 82.93375)" stroke="#555" stroke-width="0.08">10³</text>
<text x="69.1" y="92.11749999999999" font-size="2.6" text-anchor="end" fill="#555" transform="rotate(-30 69.1 92.11749999999999)" stroke="#555" stroke-width="0.08">10²</text>
<text x="69.1" y="100.51125" font-size="2.6" text-anchor="end" fill="#555" transform="rotate(-30 69.1 100.51125)" stroke="#555" stroke-width="0.08">10¹</text>
<text x="69.1" y="104.7575" font-size="2.6" text-anchor="end" fill="#555" transform="rotate(-30 69.1 104.7575)" stroke="#555" stroke-width="0.08">0</text>
<text x="75.2" y="112.5" font-size="2.6" text-anchor="middle" fill="#555" transform="rotate(-30 75.2 112.5)" stroke="#555" stroke-width="0.08">0</text>
<text x="80.39999999999999" y="112.5" font-size="2.6" text-anchor="middle" fill="#555" transform="rotate(-30 80.39999999999999 112.5)" stroke="#555" stroke-width="0.08">10¹</text>
<text x="89.9" y="112.5" font-size="2.6" text-anchor="middle" fill="#555" transform="rotate(-30 89.9 112.5)" stroke="#555" stroke-width="0.08">10²</text>
<text x="99.4" y="112.5" font-size="2.6" text-anchor="middle" fill="#555" transform="rotate(-30 99.4 112.5)" stroke="#555" stroke-width="0.08">10³</text>
<text x="108.0" y="112.5" font-size="2.6" text-anchor="middle" fill="#555" transform="rotate(-30 108.0 112.5)" stroke="#555" stroke-width="0.08">10⁴</text>
<clipPath id="c3"><rect x="71.3" y="69" width="40" height="39.5"/></clipPath><g clip-path="url(#c3)">
<path d="M95.9 102.4h.6M77.6 103.5h.6M69.6 93.5h.6M99.3 97.5h.6M75.0 102.1h.6M97.2 98.9h.6M69.9 96.9h.6M92.2 103.6h.6M106.5 97.5h.6M83.2 98.8h.6M100.1 93.4h.6M101.1 82.5h.6M96.0 94.9h.6M92.6 103.1h.6M76.2 98.5h.6M90.4 102.5h.6M78.7 93.1h.6M68.8 114.2h.6M86.1 97.7h.6M73.1 104.6h.6M82.7 107.6h.6M96.5 99.1h.6M95.3 92.3h.6M84.7 95.5h.6M75.3 99.1h.6M86.6 107.6h.6M54.5 95.0h.6M78.8 96.2h.6M92.2 101.4h.6M88.3 96.2h.6M92.9 101.2h.6M69.6 97.4h.6M74.3 91.9h.6M89.5 99.4h.6M89.1 93.7h.6M86.0 93.5h.6M91.8 103.1h.6M105.6 106.6h.6M79.9 96.3h.6M78.6 100.8h.6M107.8 103.3h.6M66.0 91.5h.6M75.1 102.1h.6M88.0 100.8h.6M105.8 94.0h.6M79.5 110.8h.6M91.4 94.3h.6M67.7 89.9h.6M63.6 99.4h.6M88.4 105.0h.6M86.6 94.8h.6M80.6 110.4h.6M70.3 100.0h.6M88.3 102.7h.6M84.0 102.0h.6M96.2 98.1h.6M83.4 97.9h.6M78.4 97.8h.6M85.0 100.3h.6M101.4 106.8h.6M83.5 102.6h.6M90.9 103.6h.6M88.2 100.6h.6M83.3 94.3h.6M96.7 106.8h.6M94.6 101.6h.6M90.7 96.3h.6M70.2 103.0h.6M90.0 95.7h.6M78.4 106.7h.6M70.0 109.6h.6M94.4 113.2h.6M80.8 98.9h.6M82.9 99.9h.6M85.9 94.5h.6M98.7 94.3h.6M82.9 102.3h.6M82.6 96.4h.6M91.6 96.8h.6M75.5 98.4h.6M85.8 109.2h.6M77.0 104.8h.6M80.1 96.9h.6M84.7 100.6h.6M96.6 109.5h.6M81.6 107.0h.6M98.0 103.9h.6M80.4 104.4h.6M86.9 101.1h.6M85.3 103.0h.6M99.2 105.8h.6M85.9 105.0h.6M102.5 93.4h.6M102.7 91.0h.6M93.4 102.6h.6M102.8 100.7h.6M83.2 94.2h.6M75.5 103.6h.6M85.6 94.7h.6M93.3 94.4h.6M83.6 96.2h.6M104.5 107.8h.6M86.4 89.6h.6M90.8 99.4h.6M91.5 102.4h.6M84.8 104.6h.6M96.4 100.3h.6M83.9 96.1h.6M94.9 92.4h.6M86.4 94.5h.6M74.1 102.6h.6M87.7 99.2h.6M96.7 90.0h.6M87.3 100.7h.6M96.3 92.5h.6M95.2 100.3h.6M101.6 105.8h.6M93.5 111.9h.6M88.0 96.5h.6M84.6 93.4h.6M87.7 87.7h.6M87.2 101.6h.6M97.9 96.9h.6M101.9 95.1h.6M86.7 87.7h.6M80.4 94.3h.6M102.6 102.1h.6M77.2 102.1h.6M92.7 97.6h.6M88.2 97.2h.6M82.7 88.6h.6M87.1 106.5h.6M102.0 97.4h.6M80.7 97.8h.6M96.8 101.1h.6M82.3 101.1h.6M86.0 102.0h.6M84.0 90.4h.6M88.6 103.5h.6M77.2 98.4h.6M96.6 96.8h.6M81.7 110.9h.6M96.1 105.0h.6M78.8 108.5h.6M71.9 96.0h.6M95.2 106.8h.6M78.9 95.1h.6M89.9 87.7h.6M94.2 102.3h.6M83.6 102.1h.6M95.5 100.8h.6M93.1 107.8h.6M83.4 99.9h.6M82.9 105.0h.6M84.0 101.8h.6M89.3 99.4h.6M104.6 98.5h.6M101.7 103.8h.6M100.8 98.0h.6M97.0 103.4h.6M82.1 100.6h.6M86.8 98.8h.6M100.6 94.8h.6M71.7 88.9h.6M83.6 95.3h.6M88.1 102.3h.6M105.0 100.8h.6M92.5 94.7h.6M93.6 106.9h.6M100.9 87.7h.6M96.6 108.2h.6M96.0 90.4h.6M85.0 102.4h.6M92.0 94.3h.6M79.4 104.6h.6M75.1 107.3h.6M88.2 100.7h.6M75.2 95.6h.6M94.6 90.5h.6M107.9 90.9h.6M76.2 99.2h.6M92.6 103.2h.6M84.4 97.8h.6M85.7 95.7h.6M63.2 104.5h.6M90.4 99.9h.6M82.0 100.4h.6M87.9 98.6h.6M98.6 89.1h.6M90.4 92.9h.6M84.9 107.6h.6M77.6 98.4h.6M82.3 104.5h.6M78.6 89.3h.6M92.9 97.0h.6M84.9 105.2h.6M79.5 96.8h.6M89.4 101.4h.6M83.0 105.0h.6M109.5 96.6h.6M106.0 86.8h.6M101.5 97.0h.6M89.3 97.0h.6M81.9 91.6h.6M84.2 106.5h.6M98.9 97.0h.6M82.9 95.0h.6M76.5 109.4h.6M94.4 99.7h.6M83.3 93.1h.6M100.6 103.5h.6M78.9 104.7h.6M77.4 102.7h.6M78.8 96.6h.6M92.8 101.5h.6M97.7 94.2h.6M103.2 106.7h.6M87.9 101.7h.6M80.5 98.1h.6M75.3 99.5h.6M89.9 106.7h.6M97.1 103.7h.6M84.5 97.7h.6M84.7 100.3h.6M69.5 103.4h.6M73.0 96.0h.6M88.2 96.0h.6M104.0 98.4h.6M103.1 105.8h.6M83.2 101.3h.6M100.5 97.1h.6M88.8 95.8h.6M88.6 97.0h.6M88.8 104.8h.6M101.4 99.8h.6M89.9 103.9h.6M85.2 92.9h.6M98.7 93.6h.6M96.9 93.4h.6M105.6 93.0h.6M96.2 107.6h.6M78.8 107.6h.6M80.1 88.8h.6M94.9 103.0h.6M86.1 84.5h.6M87.5 97.2h.6M84.4 97.3h.6M70.8 95.7h.6M105.3 107.9h.6M84.5 94.9h.6M91.8 105.1h.6M94.9 92.3h.6M89.6 99.8h.6M101.8 105.9h.6M93.0 106.0h.6M84.2 107.9h.6M83.9 101.3h.6M96.8 93.7h.6M81.3 88.9h.6M89.6 98.7h.6M84.9 101.9h.6M67.7 98.9h.6M88.8 97.5h.6M95.6 109.1h.6M83.7 93.6h.6M82.2 99.5h.6M93.6 94.0h.6M97.6 93.1h.6M95.9 101.5h.6M92.5 111.4h.6M85.5 98.0h.6M92.6 104.0h.6M75.1 100.6h.6M80.9 102.6h.6M101.1 99.3h.6M87.0 100.1h.6M59.6 103.4h.6M93.4 99.9h.6M84.2 94.8h.6M86.3 106.0h.6M87.0 106.8h.6M63.3 96.4h.6M90.6 98.9h.6M72.1 95.2h.6M100.0 91.6h.6M78.5 92.7h.6M82.7 102.7h.6M93.7 87.3h.6M102.0 95.6h.6M82.4 108.6h.6M87.2 91.9h.6M81.9 94.8h.6M78.3 97.1h.6M96.4 101.0h.6M74.7 115.1h.6M78.5 99.7h.6M88.3 103.4h.6M84.8 101.6h.6M108.2 99.6h.6M77.6 100.9h.6" stroke="#000" stroke-width=".6" opacity="0.2"/>
<path d="M75.9 99.2h.6M79.7 102.6h.6M77.9 105.1h.6M78.3 94.7h.6M82.4 99.3h.6M83.7 97.9h.6M81.2 102.5h.6M68.6 93.8h.6M74.7 107.8h.6M71.7 105.4h.6M83.2 103.4h.6M81.6 98.6h.6M79.0 102.1h.6M80.6 104.4h.6M78.2 97.6h.6M76.8 103.0h.6M72.6 95.0h.6M77.4 98.3h.6M78.0 88.2h.6M77.7 99.8h.6M82.0 91.5h.6M77.8 103.3h.6M80.9 106.7h.6M83.1 96.0h.6M81.4 99.4h.6M75.9 108.4h.6M76.6 96.9h.6M77.4 96.9h.6M82.9 102.8h.6M84.4 103.0h.6M76.6 106.0h.6M76.5 98.8h.6M78.4 101.2h.6M83.6 98.1h.6M80.4 100.9h.6M74.2 95.7h.6M78.2 102.9h.6M80.2 103.3h.6M79.2 98.8h.6M80.6 96.2h.6M73.8 99.4h.6M73.5 98.5h.6M76.1 98.3h.6M78.8 97.1h.6M77.4 92.8h.6M79.6 96.8h.6M80.6 87.4h.6M75.9 102.2h.6M69.6 99.3h.6M79.4 101.5h.6M73.2 102.1h.6M79.6 96.3h.6M81.9 100.8h.6M79.1 98.8h.6M81.1 101.5h.6M83.4 103.2h.6M76.6 99.9h.6M82.5 99.2h.6M80.5 103.5h.6M78.3 89.8h.6M79.5 102.0h.6M79.5 97.3h.6M83.7 100.3h.6M76.6 97.5h.6M80.4 95.7h.6M75.1 110.7h.6M84.1 106.1h.6M84.3 103.9h.6M72.5 106.8h.6M83.8 103.4h.6M71.4 107.0h.6M84.3 98.6h.6M79.5 104.8h.6M78.7 106.3h.6M79.3 104.3h.6M79.3 93.8h.6M75.1 116.3h.6M80.1 107.3h.6M83.4 109.3h.6M81.1 98.1h.6M79.1 91.7h.6M78.3 105.4h.6M70.6 102.0h.6M82.2 107.4h.6M75.4 97.8h.6M71.7 96.1h.6M81.1 111.0h.6M74.6 107.7h.6M80.7 98.6h.6M87.5 88.8h.6M78.7 102.1h.6M87.3 109.7h.6M87.8 101.7h.6M82.8 107.6h.6M81.0 102.7h.6M78.3 99.0h.6M74.2 110.5h.6M77.3 90.9h.6M80.0 100.8h.6M79.7 109.8h.6M78.6 99.7h.6M76.1 100.9h.6M77.3 102.0h.6M91.1 102.9h.6M75.7 110.4h.6M82.4 105.0h.6M81.8 105.0h.6M81.6 107.9h.6M82.9 107.6h.6M77.0 101.0h.6M76.2 105.7h.6M82.2 98.7h.6M81.3 113.8h.6M83.8 95.6h.6M78.6 104.1h.6M78.9 102.9h.6M83.6 102.6h.6M74.7 104.5h.6M78.6 101.6h.6M76.8 94.3h.6M74.1 99.3h.6M74.8 87.8h.6M83.5 95.3h.6M76.2 103.6h.6M69.6 107.5h.6M76.0 104.2h.6M77.1 102.5h.6M79.4 101.0h.6M71.9 93.8h.6M78.8 107.9h.6M76.9 103.6h.6M79.6 103.4h.6M82.9 93.7h.6M80.1 100.1h.6M77.8 96.8h.6M75.9 96.0h.6M74.7 113.2h.6M85.6 101.0h.6M81.9 96.2h.6M68.2 92.1h.6M79.6 108.0h.6M78.8 96.1h.6M78.1 96.1h.6M73.6 99.9h.6M77.4 97.0h.6M75.5 96.5h.6M79.9 107.8h.6M78.2 111.9h.6M72.7 102.3h.6M74.5 100.2h.6M79.4 103.7h.6M83.4 98.3h.6M74.2 100.1h.6M80.1 97.6h.6M82.5 109.2h.6M73.5 102.8h.6M83.0 91.6h.6M79.8 99.9h.6M73.5 107.4h.6M79.8 98.7h.6M80.7 104.1h.6M82.0 103.8h.6M80.6 95.3h.6M77.4 101.6h.6M68.2 111.4h.6M77.5 95.9h.6M71.9 102.2h.6M79.1 98.2h.6M77.4 96.7h.6M76.1 100.5h.6M76.5 104.3h.6M78.4 101.6h.6M80.6 107.2h.6M81.3 102.1h.6M78.4 97.1h.6M77.7 104.3h.6M79.9 99.1h.6M73.8 93.5h.6M80.3 106.0h.6M80.5 94.3h.6M78.2 102.1h.6M75.4 102.7h.6M78.2 96.9h.6M74.2 105.0h.6M80.4 96.7h.6M75.0 105.3h.6M81.3 99.5h.6M85.2 99.6h.6M74.9 106.3h.6M78.3 102.7h.6M79.1 96.1h.6M74.4 100.1h.6M84.5 96.1h.6M84.3 102.1h.6M74.7 102.3h.6M81.2 96.6h.6M70.7 102.7h.6M74.7 103.1h.6M71.6 100.3h.6M75.8 93.8h.6M78.1 101.8h.6M76.8 95.3h.6M79.8 92.5h.6M81.1 103.4h.6M85.5 105.3h.6M80.4 102.3h.6M79.1 94.6h.6M84.7 103.6h.6M77.9 95.4h.6M84.8 103.6h.6M74.4 104.3h.6M86.4 100.9h.6M80.6 99.0h.6M76.6 106.2h.6M91.0 101.6h.6M78.5 104.9h.6M77.8 104.5h.6M82.2 96.1h.6M74.8 100.6h.6M82.2 102.3h.6M83.8 94.3h.6M80.9 98.0h.6M79.4 102.6h.6M75.2 99.9h.6M74.5 102.3h.6M75.7 98.6h.6M79.8 97.8h.6M83.5 97.9h.6M82.3 102.4h.6M75.0 99.9h.6M75.8 99.2h.6M77.9 109.8h.6M77.4 108.6h.6M80.7 94.7h.6M70.0 104.3h.6M71.3 104.5h.6M83.0 102.9h.6M78.2 99.8h.6M80.0 99.5h.6M76.9 99.2h.6M83.5 98.0h.6M80.5 95.4h.6M76.2 94.3h.6M78.2 104.3h.6M80.2 98.6h.6M81.4 99.3h.6M80.4 102.3h.6M81.1 89.0h.6M74.0 104.7h.6M78.6 111.9h.6" stroke="#000" stroke-width=".6" opacity="0.3"/>
<ellipse cx="84.3" cy="80" rx="3" ry="1.8" fill="#000" opacity="0.18" filter="url(#b1)"/>
<line x1="88" y1="92" x2="98" y2="84" stroke="#bbb" stroke-width="0.6"/>
<rect x="90" y="94" width="16" height="7" fill="#000" stroke="none" stroke-width="0" opacity="0.15" filter="url(#b1)"/>
<ellipse cx="91" cy="97.45" rx="0.55" ry="3.75" fill="#000" opacity="0.25" filter="url(#b08)"/>
<ellipse cx="94" cy="97.45" rx="0.55" ry="3.75" fill="#000" opacity="0.25" filter="url(#b08)"/>
<ellipse cx="96.7" cy="97.45" rx="0.55" ry="3.75" fill="#000" opacity="0.25" filter="url(#b08)"/>
<ellipse cx="99.3" cy="97.45" rx="0.55" ry="3.75" fill="#000" opacity="0.25" filter="url(#b08)"/>
<ellipse cx="102.5" cy="97.45" rx="0.55" ry="3.75" fill="#000" opacity="0.25" filter="url(#b08)"/>
<ellipse cx="106.6" cy="97.45" rx="0.55" ry="3.75" fill="#000" opacity="0.6" filter="url(#b08)"/>
<ellipse cx="79" cy="101" rx="5" ry="5" fill="#000" opacity="0.4" filter="url(#b15)"/>
<path d="M75.2 94.5L88.9 91.2L89.5 92.5L84.5 106L82.5 107L77 101.5L74.8 97Z" fill="#000" opacity="1" filter="url(#b1)"/>
</g>
<rect x="71.3" y="69" width="40" height="39.5" fill="none" stroke="#888" stroke-width="0.5"/>
<rect x="76.5" y="75.5" width="14.099999999999994" height="11.700000000000003" fill="none" stroke="#444" stroke-width="0.5"/>
<text x="110.5" y="73.2" font-size="3.3" text-anchor="end" fill="#222" textLength="15" lengthAdjust="spacingAndGlyphs" stroke="#222" stroke-width="0.08">0.5 ± 0.3</text>
<text x="127.10000000000001" y="73.84875" font-size="2.6" text-anchor="end" fill="#555" transform="rotate(-30 127.10000000000001 73.84875)" stroke="#555" stroke-width="0.08">10⁴</text>
<text x="127.10000000000001" y="82.93375" font-size="2.6" text-anchor="end" fill="#555" transform="rotate(-30 127.10000000000001 82.93375)" stroke="#555" stroke-width="0.08">10³</text>
<text x="127.10000000000001" y="92.11749999999999" font-size="2.6" text-anchor="end" fill="#555" transform="rotate(-30 127.10000000000001 92.11749999999999)" stroke="#555" stroke-width="0.08">10²</text>
<text x="127.10000000000001" y="100.51125" font-size="2.6" text-anchor="end" fill="#555" transform="rotate(-30 127.10000000000001 100.51125)" stroke="#555" stroke-width="0.08">10¹</text>
<text x="127.10000000000001" y="104.7575" font-size="2.6" text-anchor="end" fill="#555" transform="rotate(-30 127.10000000000001 104.7575)" stroke="#555" stroke-width="0.08">0</text>
<text x="133.20000000000002" y="112.5" font-size="2.6" text-anchor="middle" fill="#555" transform="rotate(-30 133.20000000000002 112.5)" stroke="#555" stroke-width="0.08">0</text>
<text x="138.4" y="112.5" font-size="2.6" text-anchor="middle" fill="#555" transform="rotate(-30 138.4 112.5)" stroke="#555" stroke-width="0.08">10¹</text>
<text x="147.9" y="112.5" font-size="2.6" text-anchor="middle" fill="#555" transform="rotate(-30 147.9 112.5)" stroke="#555" stroke-width="0.08">10²</text>
<text x="157.4" y="112.5" font-size="2.6" text-anchor="middle" fill="#555" transform="rotate(-30 157.4 112.5)" stroke="#555" stroke-width="0.08">10³</text>
<text x="166.0" y="112.5" font-size="2.6" text-anchor="middle" fill="#555" transform="rotate(-30 166.0 112.5)" stroke="#555" stroke-width="0.08">10⁴</text>
<clipPath id="c4"><rect x="129.3" y="69" width="41" height="39.5"/></clipPath><g clip-path="url(#c4)">
<path d="M144.0 95.3h.6M159.0 100.7h.6M162.5 100.5h.6M144.2 101.5h.6M139.1 95.8h.6M141.2 96.9h.6M152.8 95.7h.6M148.8 95.6h.6M153.7 84.7h.6M144.2 98.8h.6M136.6 102.9h.6M147.9 104.2h.6M154.4 101.1h.6M144.7 92.7h.6M144.1 95.8h.6M148.2 95.8h.6M172.6 90.3h.6M156.2 95.7h.6M143.9 102.5h.6M146.0 92.1h.6M149.6 97.1h.6M128.1 99.0h.6M136.8 94.4h.6M150.2 99.4h.6M143.5 108.5h.6M149.6 95.0h.6M148.1 97.4h.6M126.8 90.4h.6M133.9 108.0h.6M144.4 96.7h.6M141.1 102.7h.6M146.2 106.2h.6M152.8 105.9h.6M145.0 99.8h.6M142.2 97.2h.6M131.0 95.2h.6M137.7 94.9h.6M156.6 99.3h.6M156.6 102.1h.6M154.0 102.8h.6M140.7 101.9h.6M143.2 95.4h.6M156.4 108.4h.6M137.5 106.4h.6M153.2 93.9h.6M148.4 99.8h.6M149.3 96.3h.6M134.9 98.2h.6M153.5 101.8h.6M151.7 103.3h.6M137.4 97.8h.6M149.0 102.8h.6M147.4 100.5h.6M147.2 108.1h.6M127.1 97.9h.6M167.5 99.1h.6M130.1 98.6h.6M133.6 94.7h.6M147.9 106.3h.6M150.0 101.2h.6M154.8 99.0h.6M138.6 97.5h.6M148.9 96.7h.6M140.2 96.3h.6M133.0 93.1h.6M145.2 96.3h.6M146.3 104.8h.6M148.6 97.8h.6M135.8 92.8h.6M149.3 93.8h.6M149.7 92.8h.6M147.2 97.6h.6M154.6 96.1h.6M142.8 99.2h.6M146.5 106.1h.6M143.8 95.4h.6M143.2 100.3h.6M148.0 101.3h.6M134.0 109.9h.6M161.9 97.8h.6M135.5 98.7h.6M149.6 87.3h.6M146.1 90.9h.6M150.0 104.6h.6M155.0 90.8h.6M158.0 102.4h.6M142.9 100.4h.6M159.1 96.4h.6M145.9 95.3h.6M156.0 87.6h.6M158.3 93.3h.6M154.0 90.2h.6M137.9 95.1h.6M153.2 90.2h.6M151.2 94.9h.6M156.8 96.5h.6M150.2 97.2h.6M161.5 96.3h.6M145.8 107.5h.6M146.7 101.3h.6M139.6 99.0h.6M126.4 98.5h.6M140.4 90.8h.6M133.7 103.5h.6M149.7 90.7h.6M161.7 94.7h.6M142.8 99.2h.6M136.2 90.2h.6M139.5 103.7h.6M154.2 90.4h.6M156.4 98.2h.6M150.3 98.2h.6M149.6 93.2h.6M138.1 94.6h.6M142.8 101.0h.6M135.5 105.7h.6M140.5 95.2h.6M152.1 100.1h.6M143.1 92.9h.6M137.3 90.3h.6M155.9 103.2h.6M162.2 100.4h.6M148.9 101.6h.6M154.2 96.8h.6M149.1 108.4h.6M131.3 91.2h.6M137.7 101.6h.6M156.3 96.4h.6M151.8 97.8h.6M148.6 95.4h.6M145.8 98.0h.6M155.8 108.7h.6M130.3 100.6h.6M146.0 102.7h.6M155.2 101.8h.6M153.0 93.4h.6M131.2 106.0h.6M156.5 93.4h.6M157.2 101.2h.6M124.7 102.3h.6M137.4 103.6h.6M140.1 94.4h.6M132.6 97.0h.6M154.8 94.8h.6M129.9 108.3h.6M162.0 101.3h.6M141.3 92.2h.6M131.8 100.7h.6M157.3 92.9h.6M146.0 96.7h.6M143.8 100.4h.6M164.1 94.9h.6M153.4 103.2h.6M143.5 97.3h.6M134.4 103.2h.6M141.4 94.8h.6M146.6 93.9h.6M137.0 96.6h.6M158.9 97.0h.6M150.6 90.9h.6M129.1 106.8h.6M142.5 90.6h.6M145.1 100.9h.6M131.0 93.7h.6M148.3 93.6h.6M152.9 102.6h.6M149.8 95.9h.6M145.6 94.9h.6M144.9 99.5h.6M143.4 102.7h.6M168.5 95.4h.6M149.0 102.0h.6M151.6 96.9h.6M141.8 102.8h.6M151.4 100.4h.6M139.0 101.0h.6M152.9 97.1h.6M151.6 108.5h.6M129.7 100.9h.6M135.8 91.4h.6M144.0 100.6h.6M146.5 92.4h.6M133.5 95.3h.6M146.1 94.0h.6M132.9 106.5h.6M138.7 97.2h.6M141.2 95.2h.6M146.3 96.6h.6M151.4 92.3h.6M133.1 107.4h.6M145.3 101.7h.6M156.3 100.7h.6M146.3 90.5h.6M132.1 102.7h.6M151.9 100.8h.6M131.5 87.7h.6M136.8 92.3h.6M147.4 93.1h.6M159.8 95.0h.6M141.1 102.2h.6M148.9 93.6h.6M153.2 107.3h.6M135.3 96.8h.6M136.6 88.6h.6M151.5 101.4h.6M154.5 100.1h.6M128.4 97.9h.6M140.2 92.3h.6M136.3 101.7h.6M143.4 107.5h.6M150.1 88.7h.6M153.8 104.1h.6M146.3 92.1h.6M161.5 91.6h.6M145.3 88.7h.6M135.0 89.7h.6M155.5 103.7h.6M142.5 91.4h.6M145.5 99.8h.6M132.6 92.4h.6M145.1 101.4h.6M146.7 100.2h.6M135.1 85.9h.6M148.7 93.5h.6M144.9 96.2h.6M150.2 94.2h.6M158.7 98.2h.6M150.6 101.1h.6M155.1 100.0h.6M130.6 94.9h.6M162.4 100.3h.6M150.9 100.3h.6M140.4 94.7h.6M140.3 103.7h.6M149.2 106.7h.6M150.4 107.2h.6M150.0 92.2h.6M161.3 99.7h.6M156.5 99.1h.6M143.1 98.8h.6M136.1 92.1h.6M138.2 95.4h.6M134.0 97.5h.6M148.7 107.9h.6M162.2 97.8h.6M153.8 96.9h.6M149.5 97.8h.6M141.2 98.4h.6M132.9 100.2h.6M143.4 92.7h.6" stroke="#000" stroke-width=".6" opacity="0.2"/>
<path d="M136.6 103.7h.6M135.3 103.3h.6M140.2 108.7h.6M133.7 100.5h.6M140.0 108.4h.6M139.0 104.7h.6M132.2 98.1h.6M144.5 99.6h.6M146.5 97.4h.6M136.9 93.1h.6M140.5 102.3h.6M146.0 101.8h.6M137.0 94.1h.6M137.7 105.7h.6M140.9 107.1h.6M141.4 100.8h.6M140.4 101.9h.6M132.7 109.4h.6M139.5 95.8h.6M139.5 102.4h.6M141.9 108.1h.6M126.0 103.7h.6M144.1 96.3h.6M130.7 102.4h.6M139.3 102.7h.6M133.6 98.7h.6M138.8 104.7h.6M146.7 102.5h.6M135.6 89.3h.6M142.3 100.3h.6M137.6 96.1h.6M140.9 92.1h.6M138.4 101.6h.6M139.2 107.5h.6M137.6 101.5h.6M141.4 93.3h.6M136.8 101.3h.6M141.8 97.0h.6M141.2 102.9h.6M132.1 93.7h.6M132.3 101.7h.6M138.8 104.6h.6M141.3 98.3h.6M142.2 105.1h.6M139.9 103.4h.6M132.9 102.8h.6M133.9 95.1h.6M136.6 101.7h.6M137.8 99.4h.6M134.0 101.9h.6M135.1 94.0h.6M138.4 108.2h.6M136.4 95.7h.6M143.5 109.5h.6M136.8 100.0h.6M138.8 115.7h.6M138.5 105.9h.6M139.8 91.9h.6M133.6 94.9h.6M139.7 101.5h.6M145.1 99.7h.6M139.2 101.4h.6M138.6 112.5h.6M139.1 108.3h.6M143.2 98.0h.6M140.7 99.1h.6M138.4 101.8h.6M138.1 98.7h.6M144.2 99.7h.6M140.8 109.4h.6M140.5 106.1h.6M143.5 106.4h.6M144.9 93.9h.6M145.8 101.1h.6M131.0 97.8h.6M132.4 100.9h.6M132.1 96.0h.6M139.2 101.8h.6M134.8 99.8h.6M137.6 101.4h.6M138.0 99.9h.6M141.5 93.0h.6M136.0 101.7h.6M136.4 98.2h.6M136.3 102.0h.6M143.0 100.1h.6M136.9 102.8h.6M137.0 91.3h.6M139.1 99.1h.6M135.7 104.1h.6M138.2 98.2h.6M129.3 92.4h.6M138.1 100.4h.6M139.8 102.1h.6M136.1 94.7h.6M133.6 100.3h.6M133.4 104.8h.6M132.7 92.0h.6M137.2 92.1h.6M144.5 96.0h.6M137.8 99.8h.6M134.7 92.2h.6M130.6 105.3h.6M142.1 111.8h.6M132.2 103.8h.6M137.9 105.2h.6M135.9 104.6h.6M141.6 104.0h.6M143.8 100.1h.6M144.2 97.5h.6M144.7 87.3h.6M138.1 97.0h.6M138.0 106.2h.6M140.9 101.5h.6M144.8 93.6h.6M134.7 108.5h.6M139.3 90.6h.6M139.4 95.1h.6M143.9 106.7h.6M135.8 107.5h.6M134.7 105.6h.6M140.3 100.4h.6M132.3 99.6h.6M128.8 98.2h.6M130.6 107.1h.6M134.1 88.8h.6M140.3 102.8h.6M136.0 111.6h.6M141.1 101.3h.6M135.4 86.2h.6M139.9 105.8h.6M135.6 93.9h.6M137.8 92.6h.6M138.0 104.9h.6M144.0 102.3h.6M138.8 104.7h.6M143.6 99.4h.6M133.1 97.0h.6M133.0 96.6h.6M137.5 102.7h.6M138.6 101.3h.6M136.6 103.1h.6M141.5 104.8h.6M144.0 99.5h.6M137.0 109.5h.6M138.8 103.1h.6M136.7 105.8h.6M136.4 96.0h.6M137.8 98.8h.6M141.3 99.1h.6M138.5 99.9h.6M139.4 97.8h.6M142.4 93.9h.6M136.5 97.5h.6M140.6 101.2h.6M139.9 99.3h.6M135.1 95.4h.6M136.7 98.3h.6M139.1 102.8h.6M141.9 100.5h.6M135.0 95.7h.6M138.2 102.8h.6M145.8 101.9h.6M145.0 110.4h.6M133.8 107.1h.6M142.5 107.7h.6M138.0 105.8h.6M136.1 100.6h.6M138.1 109.9h.6M137.1 105.8h.6M138.3 97.5h.6M139.0 104.3h.6M135.2 104.2h.6M135.2 96.6h.6M138.9 99.8h.6M134.1 92.9h.6M138.1 102.2h.6M136.2 101.9h.6M131.9 103.0h.6M139.7 102.4h.6M135.5 101.4h.6M138.5 106.3h.6M139.1 102.3h.6M135.1 105.3h.6M142.7 98.5h.6M140.6 102.5h.6M137.8 94.6h.6M145.0 91.7h.6M139.2 99.1h.6M142.6 98.9h.6M138.2 104.1h.6M139.8 98.4h.6M140.7 103.0h.6M142.0 98.4h.6M137.8 99.0h.6M134.7 102.3h.6M139.6 108.1h.6M136.7 102.9h.6M142.6 100.4h.6M138.3 101.7h.6" stroke="#000" stroke-width=".6" opacity="0.3"/>
<ellipse cx="141.7" cy="80" rx="3.4" ry="1.6" fill="#000" opacity="0.3" filter="url(#b1)"/>
<rect x="148" y="95" width="15" height="3.5" fill="#000" stroke="none" stroke-width="0" opacity="0.08" filter="url(#b1)"/>
<ellipse cx="164.5" cy="98.5" rx="0.7" ry="5" fill="#000" opacity="0.45" filter="url(#b08)"/>
<ellipse cx="138" cy="101" rx="5" ry="5" fill="#000" opacity="0.4" filter="url(#b15)"/>
<path d="M133.9 94.5L147.5 91.1L148.2 92.5L142.5 105.5L140.5 106.5L135.5 101L133.6 97Z" fill="#000" opacity="1" filter="url(#b1)"/>
</g>
<rect x="129.3" y="69" width="41" height="39.5" fill="none" stroke="#888" stroke-width="0.5"/>
<rect x="134.25" y="74.2" width="14.349999999999994" height="12.299999999999997" fill="none" stroke="#444" stroke-width="0.5"/>
<text x="169.5" y="73.2" font-size="3.3" text-anchor="end" fill="#222" textLength="15" lengthAdjust="spacingAndGlyphs" stroke="#222" stroke-width="0.08">1.0 ± 0.4</text>
<text x="69.1" y="124.954" font-size="2.6" text-anchor="end" fill="#555" transform="rotate(-30 69.1 124.954)" stroke="#555" stroke-width="0.08">10⁴</text>
<text x="69.1" y="133.602" font-size="2.6" text-anchor="end" fill="#555" transform="rotate(-30 69.1 133.602)" stroke="#555" stroke-width="0.08">10³</text>
<text x="69.1" y="142.34400000000002" font-size="2.6" text-anchor="end" fill="#555" transform="rotate(-30 69.1 142.34400000000002)" stroke="#555" stroke-width="0.08">10²</text>
<text x="69.1" y="150.334" font-size="2.6" text-anchor="end" fill="#555" transform="rotate(-30 69.1 150.334)" stroke="#555" stroke-width="0.08">10¹</text>
<text x="69.1" y="154.376" font-size="2.6" text-anchor="end" fill="#555" transform="rotate(-30 69.1 154.376)" stroke="#555" stroke-width="0.08">0</text>
<text x="75.2" y="161.9" font-size="2.6" text-anchor="middle" fill="#555" transform="rotate(-30 75.2 161.9)" stroke="#555" stroke-width="0.08">0</text>
<text x="80.39999999999999" y="161.9" font-size="2.6" text-anchor="middle" fill="#555" transform="rotate(-30 80.39999999999999 161.9)" stroke="#555" stroke-width="0.08">10¹</text>
<text x="89.9" y="161.9" font-size="2.6" text-anchor="middle" fill="#555" transform="rotate(-30 89.9 161.9)" stroke="#555" stroke-width="0.08">10²</text>
<text x="99.4" y="161.9" font-size="2.6" text-anchor="middle" fill="#555" transform="rotate(-30 99.4 161.9)" stroke="#555" stroke-width="0.08">10³</text>
<text x="108.0" y="161.9" font-size="2.6" text-anchor="middle" fill="#555" transform="rotate(-30 108.0 161.9)" stroke="#555" stroke-width="0.08">10⁴</text>
<clipPath id="c5"><rect x="71.3" y="120.3" width="40.3" height="37.6"/></clipPath><g clip-path="url(#c5)">
<path d="M81.8 141.1h.6M98.0 148.0h.6M87.3 139.6h.6M89.1 154.0h.6M77.7 141.7h.6M98.0 155.6h.6M101.9 143.7h.6M93.4 142.5h.6M92.7 144.8h.6M89.8 155.0h.6M91.0 145.6h.6M88.5 148.6h.6M83.4 148.2h.6M93.4 156.3h.6M69.5 139.9h.6M76.9 152.2h.6M109.8 148.2h.6M89.1 153.8h.6M66.2 145.9h.6M60.1 147.9h.6M83.5 144.1h.6M91.0 143.5h.6M97.9 147.0h.6M91.4 162.1h.6M84.0 152.5h.6M80.6 154.4h.6M96.6 147.8h.6M96.9 156.6h.6M100.3 147.0h.6M87.5 153.6h.6M74.9 143.4h.6M92.3 150.4h.6M104.6 157.5h.6M90.9 149.6h.6M76.2 145.9h.6M90.3 145.7h.6M88.5 150.6h.6M79.5 143.6h.6M72.2 153.8h.6M78.6 136.9h.6M94.9 145.7h.6M96.6 144.8h.6M106.9 151.2h.6M89.3 147.7h.6M86.2 151.8h.6M105.8 144.5h.6M78.3 150.5h.6M97.5 138.1h.6M81.8 141.1h.6M93.0 150.0h.6M81.5 140.3h.6M94.1 134.8h.6M93.7 146.1h.6M105.1 152.9h.6M82.9 145.4h.6M85.5 142.7h.6M88.7 152.7h.6M74.6 145.7h.6M101.3 151.4h.6M80.8 142.2h.6M80.4 137.5h.6M98.2 147.4h.6M81.8 138.5h.6M84.6 144.0h.6M103.3 144.3h.6M89.0 153.3h.6M93.9 145.9h.6M68.7 155.3h.6M93.3 144.4h.6M87.2 141.4h.6M80.0 138.2h.6M92.4 150.1h.6M89.5 151.6h.6M92.7 147.7h.6M80.2 150.5h.6M98.5 150.7h.6M99.0 144.2h.6M79.3 154.4h.6M82.8 148.4h.6M86.3 147.1h.6M85.6 143.8h.6M72.2 158.2h.6M89.8 135.7h.6M80.0 140.4h.6M81.4 132.0h.6M93.1 156.7h.6M85.8 151.4h.6M93.3 139.7h.6M98.8 137.1h.6M82.9 144.9h.6M99.1 147.7h.6M86.9 142.3h.6M88.8 147.2h.6M94.4 155.2h.6M94.5 147.1h.6M86.7 156.4h.6M89.8 146.9h.6M103.8 156.2h.6M93.0 146.4h.6M82.4 153.3h.6M84.0 152.6h.6M81.1 147.6h.6M91.5 147.9h.6M90.1 149.2h.6M78.1 140.5h.6M86.7 157.6h.6M86.9 141.6h.6M82.2 147.2h.6M98.4 143.7h.6M92.9 148.1h.6M84.9 141.5h.6M86.7 142.8h.6M92.7 136.7h.6M97.9 151.4h.6M93.1 155.8h.6M93.3 137.0h.6M88.5 149.6h.6M82.0 140.4h.6M91.8 150.0h.6M84.3 145.6h.6M83.5 143.7h.6M87.5 153.3h.6M73.9 145.0h.6M102.2 148.9h.6M89.4 151.9h.6M79.2 139.9h.6M73.4 138.5h.6M90.2 152.0h.6M84.3 143.0h.6M91.5 150.6h.6M90.3 135.9h.6M83.2 132.2h.6M90.1 142.0h.6M82.2 155.8h.6M99.6 149.8h.6M90.4 148.0h.6M82.9 146.7h.6M104.8 141.9h.6M82.2 147.9h.6M95.8 151.9h.6M79.5 146.2h.6M85.7 139.8h.6M88.7 144.2h.6M96.1 149.5h.6M81.2 147.5h.6M84.9 143.3h.6M83.7 153.2h.6M84.4 137.0h.6M81.2 151.7h.6M106.8 140.9h.6M84.9 145.1h.6M75.7 149.3h.6M87.6 148.6h.6M107.6 145.4h.6M94.9 151.9h.6M82.4 143.5h.6M101.6 151.2h.6M89.3 140.6h.6M95.7 150.1h.6M107.2 155.6h.6M95.0 148.6h.6M88.5 143.8h.6M90.7 148.4h.6M93.7 153.3h.6M90.7 143.8h.6M95.1 156.1h.6M80.7 149.5h.6M92.8 150.1h.6M92.4 146.5h.6M87.1 156.8h.6M103.2 138.8h.6M65.8 149.6h.6M82.1 144.0h.6M74.1 149.1h.6M87.5 143.9h.6M95.9 161.2h.6M100.9 153.8h.6M84.4 150.8h.6M87.7 153.7h.6M93.1 146.8h.6M92.8 142.8h.6M94.9 155.8h.6M84.8 150.2h.6M73.4 152.5h.6M95.7 141.1h.6M103.2 147.7h.6M72.9 139.0h.6M95.6 145.4h.6M97.7 138.0h.6M87.1 152.7h.6M82.1 151.0h.6M84.9 149.0h.6M90.8 160.0h.6M77.2 151.5h.6M99.5 140.4h.6M88.7 160.5h.6M97.2 129.7h.6M85.9 137.0h.6M90.7 142.8h.6M83.1 142.1h.6M90.6 144.3h.6M80.1 145.7h.6M91.6 142.0h.6M97.7 137.3h.6M91.6 144.7h.6M101.8 143.3h.6M82.2 139.2h.6M105.4 150.6h.6M78.5 145.0h.6M79.6 155.9h.6M91.7 135.1h.6M89.8 152.3h.6M88.0 149.8h.6M87.0 148.2h.6M89.9 142.9h.6M91.0 148.0h.6M87.7 143.0h.6M79.1 148.4h.6M95.2 132.9h.6M83.3 154.9h.6M96.0 142.8h.6M99.8 141.2h.6M81.1 158.3h.6M84.2 145.7h.6M73.6 141.1h.6M77.7 146.2h.6M71.9 153.2h.6M84.9 143.5h.6M82.5 151.3h.6M101.4 144.6h.6M102.1 156.4h.6M99.7 148.7h.6M75.0 150.9h.6M84.4 148.1h.6M71.5 145.4h.6M90.0 141.5h.6M90.6 156.8h.6M90.0 143.0h.6M108.9 134.4h.6M79.9 149.4h.6M82.8 133.6h.6M90.3 151.9h.6M81.0 155.6h.6M92.4 154.0h.6M74.6 147.0h.6M102.0 158.8h.6M99.6 147.0h.6M89.6 143.3h.6M97.6 142.9h.6M89.1 134.9h.6M74.8 157.4h.6M88.5 148.3h.6M68.7 146.8h.6M106.2 138.3h.6M67.1 146.1h.6M83.3 145.8h.6M77.0 139.1h.6M77.2 150.8h.6M87.6 151.8h.6M78.5 150.5h.6M84.1 147.5h.6M96.2 147.2h.6M84.9 137.2h.6M88.6 151.6h.6M82.4 146.6h.6M72.4 139.2h.6M91.5 154.6h.6M85.3 137.2h.6M84.7 137.8h.6M85.6 158.3h.6M90.6 146.1h.6M97.1 144.8h.6M90.9 148.2h.6M91.9 138.4h.6M94.3 152.2h.6M67.9 131.0h.6M80.1 155.8h.6M88.2 151.0h.6M92.9 152.2h.6M82.4 143.6h.6M91.3 150.6h.6M93.1 149.0h.6M83.7 153.5h.6M92.2 153.3h.6M65.5 153.0h.6M66.4 148.2h.6M82.1 147.7h.6M83.8 145.2h.6M89.7 149.0h.6M80.9 132.1h.6M81.1 150.2h.6M80.5 149.5h.6M84.7 141.4h.6M98.4 156.8h.6M87.1 146.7h.6M96.5 139.1h.6M80.3 153.7h.6M96.0 144.1h.6M81.1 149.1h.6M75.5 144.0h.6" stroke="#000" stroke-width=".6" opacity="0.2"/>
<path d="M79.1 137.8h.6M82.3 153.8h.6M84.2 142.9h.6M74.9 146.0h.6M74.8 160.2h.6M76.1 148.5h.6M80.8 152.3h.6M85.7 144.6h.6M83.5 150.7h.6M75.4 150.7h.6M74.4 158.0h.6M77.1 155.0h.6M85.2 146.9h.6M76.4 150.6h.6M75.8 154.5h.6M80.7 146.2h.6M77.3 153.6h.6M74.2 158.4h.6M76.9 149.0h.6M76.3 158.1h.6M83.3 156.5h.6M82.6 150.4h.6M86.7 153.3h.6M81.7 152.9h.6M82.9 151.4h.6M79.3 142.1h.6M88.2 143.5h.6M71.4 146.5h.6M87.7 156.1h.6M77.6 151.3h.6M79.9 140.1h.6M78.7 151.5h.6M84.7 144.0h.6M71.0 142.1h.6M81.3 150.4h.6M80.6 150.7h.6M78.5 143.2h.6M81.8 151.9h.6M82.3 156.2h.6M75.1 138.3h.6M72.9 160.7h.6M76.3 152.0h.6M79.9 153.6h.6M92.8 147.4h.6M79.3 147.0h.6M81.0 152.6h.6M76.1 156.6h.6M84.6 152.2h.6M79.6 148.8h.6M73.4 153.3h.6M76.1 147.5h.6M84.0 145.4h.6M77.9 154.3h.6M87.4 146.5h.6M84.4 146.7h.6M81.6 152.4h.6M75.4 155.1h.6M87.2 150.3h.6M81.1 144.1h.6M87.2 150.3h.6M74.9 153.8h.6M74.2 146.6h.6M71.5 156.9h.6M88.8 146.8h.6M77.4 147.1h.6M77.7 152.8h.6M85.8 145.0h.6M81.8 141.0h.6M86.1 149.6h.6M77.2 157.7h.6M79.6 156.8h.6M84.3 158.3h.6M76.8 150.3h.6M81.5 149.0h.6M86.1 146.4h.6M84.0 156.8h.6M72.2 145.2h.6M76.4 147.3h.6M81.6 149.1h.6M80.3 147.7h.6M79.7 152.4h.6M83.0 146.1h.6M79.5 146.2h.6M79.3 142.8h.6M83.8 153.4h.6M79.5 146.6h.6M78.2 146.7h.6M73.8 158.2h.6M93.2 143.9h.6M75.3 152.9h.6M82.4 142.1h.6M72.3 152.7h.6M72.0 157.1h.6M78.0 150.4h.6M80.0 147.2h.6M79.4 148.5h.6M85.0 149.5h.6M79.9 147.4h.6M77.5 146.3h.6M80.0 159.2h.6M84.5 151.2h.6M86.7 155.1h.6M80.8 149.2h.6M75.6 151.2h.6M78.7 142.1h.6M74.9 159.7h.6M80.9 152.5h.6M80.8 147.7h.6M81.8 155.4h.6M78.8 152.6h.6M84.1 147.6h.6M80.7 146.3h.6M82.4 148.2h.6M84.6 146.2h.6M86.8 148.4h.6M76.6 145.5h.6M82.7 145.7h.6M87.2 156.4h.6M82.1 142.9h.6M79.9 146.4h.6M72.8 152.1h.6M88.8 147.3h.6M83.2 156.4h.6M76.2 148.3h.6M81.1 152.4h.6M75.4 151.1h.6M79.6 154.8h.6M73.6 147.2h.6M78.0 148.4h.6M82.9 146.9h.6M91.0 146.5h.6M83.4 155.1h.6M83.9 149.0h.6M76.7 148.7h.6M82.7 150.6h.6M82.3 152.9h.6M76.5 145.3h.6M85.8 147.6h.6M73.7 159.3h.6M76.7 145.3h.6M83.9 144.3h.6M76.5 155.2h.6M76.7 162.5h.6M80.4 163.4h.6M80.5 150.3h.6M77.4 148.9h.6M78.0 149.9h.6M83.1 143.6h.6M76.3 139.5h.6M86.0 149.6h.6M79.9 149.7h.6M84.0 151.6h.6M83.4 149.2h.6M79.5 149.7h.6M72.6 155.4h.6M73.7 145.0h.6M82.7 150.3h.6M83.3 158.5h.6M87.4 156.9h.6M79.1 160.2h.6M76.5 149.6h.6M84.0 148.9h.6M79.5 148.2h.6M85.5 137.7h.6M85.1 155.3h.6M79.7 152.8h.6M76.1 155.5h.6M92.2 145.4h.6M85.6 149.7h.6M78.6 147.6h.6M79.2 143.7h.6M74.6 158.3h.6M79.9 152.8h.6M81.2 152.4h.6M73.9 145.3h.6M82.5 155.0h.6M75.4 147.1h.6M75.7 153.3h.6M81.4 150.2h.6M77.4 151.7h.6M80.1 146.3h.6M81.3 146.7h.6M83.8 153.1h.6M77.2 152.9h.6M80.3 146.5h.6M76.3 141.7h.6M75.5 151.7h.6M84.8 146.9h.6M80.6 151.7h.6M83.1 152.2h.6M84.9 153.8h.6M77.0 152.0h.6M70.6 149.1h.6M80.1 152.9h.6M78.8 154.2h.6M85.3 145.8h.6M77.8 151.3h.6M82.0 150.7h.6M83.3 144.1h.6M83.1 155.8h.6M84.4 152.1h.6M79.0 152.0h.6M79.7 142.1h.6M77.6 149.8h.6M77.9 145.3h.6M79.1 148.1h.6M80.3 149.8h.6M80.7 155.0h.6M80.5 152.0h.6M75.1 135.3h.6M78.4 153.4h.6M78.6 146.9h.6M75.0 154.5h.6M77.9 151.2h.6M84.5 152.7h.6M89.0 149.3h.6M83.8 153.5h.6M77.4 150.2h.6M77.7 144.9h.6M81.2 146.1h.6M86.7 146.3h.6M77.8 150.5h.6M77.9 150.3h.6M77.6 142.9h.6M70.3 143.6h.6M86.1 152.2h.6M80.6 147.7h.6M79.4 151.5h.6M74.4 146.0h.6M76.4 156.3h.6M75.8 155.9h.6M78.1 163.6h.6M79.7 150.2h.6M85.4 154.4h.6M83.8 144.7h.6M84.5 158.4h.6M79.6 147.6h.6M75.6 155.1h.6M81.2 150.0h.6M75.1 158.1h.6M83.5 149.9h.6M85.9 145.2h.6M83.5 145.0h.6M85.6 148.6h.6M84.9 147.9h.6M81.6 155.7h.6M76.4 150.5h.6M76.6 154.3h.6M77.6 148.1h.6M79.2 155.8h.6" stroke="#000" stroke-width=".6" opacity="0.3"/>
<path d="M80.4 130.3h.6M82.2 129.0h.6M81.0 130.0h.6M83.5 126.5h.6M83.6 127.4h.6M80.6 130.2h.6M82.4 132.9h.6M81.8 125.9h.6M79.0 130.8h.6M83.6 133.1h.6M81.7 132.1h.6M80.3 133.6h.6M82.8 128.7h.6M83.4 134.8h.6M80.9 127.3h.6M80.5 127.5h.6M82.9 131.3h.6M82.6 130.9h.6M86.0 129.7h.6M79.9 124.7h.6M83.6 128.7h.6M82.4 131.4h.6M84.2 126.5h.6M80.6 130.6h.6M82.6 133.3h.6M81.7 125.2h.6M85.9 126.3h.6M80.6 131.4h.6M83.6 131.7h.6M84.3 128.6h.6M86.1 126.2h.6M81.5 131.1h.6M83.3 128.0h.6M87.0 134.1h.6M80.7 131.3h.6M81.4 129.3h.6M85.5 130.7h.6" stroke="#000" stroke-width=".6" opacity="0.3"/>
<ellipse cx="83.3" cy="130.4" rx="2.4" ry="3" fill="#000" opacity="0.95" filter="url(#b08)"/>
<rect x="89.5" y="143" width="18.0" height="6" fill="#000" stroke="none" stroke-width="0" opacity="0.27" filter="url(#b1)"/>
<ellipse cx="91" cy="146.05" rx="0.6" ry="3.3500000000000085" fill="#000" opacity="0.45" filter="url(#b08)"/>
<ellipse cx="93.8" cy="146.05" rx="0.6" ry="3.3500000000000085" fill="#000" opacity="0.45" filter="url(#b08)"/>
<ellipse cx="96.5" cy="146.05" rx="0.6" ry="3.3500000000000085" fill="#000" opacity="0.45" filter="url(#b08)"/>
<ellipse cx="99.3" cy="146.05" rx="0.6" ry="3.3500000000000085" fill="#000" opacity="0.45" filter="url(#b08)"/>
<ellipse cx="102" cy="146.05" rx="0.6" ry="3.3500000000000085" fill="#000" opacity="0.45" filter="url(#b08)"/>
<ellipse cx="104.8" cy="146.05" rx="0.6" ry="3.3500000000000085" fill="#000" opacity="0.45" filter="url(#b08)"/>
<ellipse cx="107.5" cy="146.05" rx="0.6" ry="3.3500000000000085" fill="#000" opacity="0.75" filter="url(#b08)"/>
<ellipse cx="80" cy="151" rx="5" ry="3.5" fill="#000" opacity="0.35" filter="url(#b15)"/>
<path d="M76.5 143L89.5 139.5L90.2 141L88 150L84 153L78 150Z" fill="#000" opacity="1" filter="url(#b1)"/>
</g>
<rect x="71.3" y="120.3" width="40.3" height="37.6" fill="none" stroke="#888" stroke-width="0.5"/>
<rect x="76.5" y="123.9" width="14.299999999999997" height="11.699999999999989" fill="none" stroke="#444" stroke-width="0.5"/>
<text x="110.8" y="124.5" font-size="3.3" text-anchor="end" fill="#222" textLength="15" lengthAdjust="spacingAndGlyphs" stroke="#222" stroke-width="0.08">3.6 ± 0.6</text>
<text x="127.10000000000001" y="124.954" font-size="2.6" text-anchor="end" fill="#555" transform="rotate(-30 127.10000000000001 124.954)" stroke="#555" stroke-width="0.08">10⁴</text>
<text x="127.10000000000001" y="133.602" font-size="2.6" text-anchor="end" fill="#555" transform="rotate(-30 127.10000000000001 133.602)" stroke="#555" stroke-width="0.08">10³</text>
<text x="127.10000000000001" y="142.34400000000002" font-size="2.6" text-anchor="end" fill="#555" transform="rotate(-30 127.10000000000001 142.34400000000002)" stroke="#555" stroke-width="0.08">10²</text>
<text x="127.10000000000001" y="150.334" font-size="2.6" text-anchor="end" fill="#555" transform="rotate(-30 127.10000000000001 150.334)" stroke="#555" stroke-width="0.08">10¹</text>
<text x="127.10000000000001" y="154.376" font-size="2.6" text-anchor="end" fill="#555" transform="rotate(-30 127.10000000000001 154.376)" stroke="#555" stroke-width="0.08">0</text>
<text x="133.20000000000002" y="161.9" font-size="2.6" text-anchor="middle" fill="#555" transform="rotate(-30 133.20000000000002 161.9)" stroke="#555" stroke-width="0.08">0</text>
<text x="138.4" y="161.9" font-size="2.6" text-anchor="middle" fill="#555" transform="rotate(-30 138.4 161.9)" stroke="#555" stroke-width="0.08">10¹</text>
<text x="147.9" y="161.9" font-size="2.6" text-anchor="middle" fill="#555" transform="rotate(-30 147.9 161.9)" stroke="#555" stroke-width="0.08">10²</text>
<text x="157.4" y="161.9" font-size="2.6" text-anchor="middle" fill="#555" transform="rotate(-30 157.4 161.9)" stroke="#555" stroke-width="0.08">10³</text>
<text x="166.0" y="161.9" font-size="2.6" text-anchor="middle" fill="#555" transform="rotate(-30 166.0 161.9)" stroke="#555" stroke-width="0.08">10⁴</text>
<clipPath id="c6"><rect x="129.3" y="120.3" width="41" height="37.6"/></clipPath><g clip-path="url(#c6)">
<path d="M145.0 147.5h.6M135.4 153.1h.6M139.2 153.5h.6M141.9 144.7h.6M159.4 148.0h.6M140.2 144.3h.6M151.4 156.4h.6M151.5 145.0h.6M135.9 143.6h.6M144.9 148.2h.6M140.1 153.4h.6M137.4 143.4h.6M150.5 149.4h.6M142.5 151.8h.6M133.3 155.2h.6M165.7 156.8h.6M147.1 156.8h.6M146.5 153.6h.6M144.2 148.0h.6M150.7 138.3h.6M144.1 155.6h.6M119.7 148.9h.6M154.3 148.6h.6M147.8 153.9h.6M149.0 137.5h.6M137.5 145.5h.6M147.3 144.8h.6M145.1 155.3h.6M119.6 152.8h.6M154.4 150.0h.6M146.1 147.3h.6M149.3 148.2h.6M139.5 150.9h.6M138.6 146.8h.6M142.8 141.2h.6M151.4 146.7h.6M135.5 146.6h.6M133.6 154.2h.6M150.6 156.9h.6M140.9 150.5h.6M137.3 142.7h.6M145.2 149.1h.6M154.3 145.7h.6M155.9 151.8h.6M138.1 146.1h.6M137.8 155.5h.6M141.1 151.4h.6M154.2 145.7h.6M141.6 148.7h.6M139.0 140.7h.6M137.3 148.7h.6M147.7 155.8h.6M129.6 149.5h.6M135.7 152.8h.6M152.2 147.6h.6M159.2 145.1h.6M141.3 141.8h.6M140.1 147.6h.6M152.0 153.4h.6M143.6 143.4h.6M143.0 144.9h.6M141.8 145.0h.6M138.2 146.7h.6M141.4 146.2h.6M133.6 147.7h.6M151.1 150.2h.6M141.1 141.3h.6M134.4 141.2h.6M140.3 145.5h.6M130.1 150.3h.6M132.2 143.6h.6M139.6 151.1h.6M162.4 145.2h.6M143.6 145.1h.6M144.2 146.2h.6M168.0 141.6h.6M145.0 143.1h.6M149.2 144.4h.6M151.1 141.6h.6M164.8 148.0h.6M130.2 150.5h.6M141.8 141.3h.6M149.9 144.4h.6M152.6 144.3h.6M154.0 147.7h.6M149.2 147.8h.6M142.8 145.2h.6M150.0 150.5h.6M142.4 158.1h.6M161.1 141.3h.6M155.7 146.7h.6M148.1 143.1h.6M160.7 142.9h.6M145.3 143.4h.6M163.2 153.2h.6M134.3 144.8h.6M149.2 144.9h.6M142.9 141.7h.6M148.2 141.6h.6M153.4 158.8h.6M143.1 155.1h.6M149.3 143.7h.6M142.9 142.3h.6M147.0 150.5h.6M154.3 145.6h.6M135.4 146.6h.6M160.9 148.4h.6M145.4 136.8h.6M142.2 149.7h.6M137.6 153.6h.6M141.0 142.7h.6M140.9 146.6h.6M154.9 144.2h.6M130.2 146.6h.6M150.6 154.6h.6M136.0 154.3h.6M152.0 149.2h.6M139.2 142.7h.6M137.5 151.6h.6M147.9 152.3h.6M162.1 147.1h.6M145.6 156.4h.6M134.4 144.8h.6M142.7 145.2h.6M147.3 142.9h.6M156.3 140.3h.6M138.8 138.7h.6M133.6 149.9h.6M151.6 146.1h.6M153.5 150.0h.6M140.9 146.8h.6M149.3 156.9h.6M142.1 148.8h.6M150.8 153.0h.6M149.8 152.3h.6M136.6 145.7h.6M128.9 146.8h.6M166.6 148.2h.6M146.8 148.3h.6M147.3 140.5h.6M139.9 146.2h.6M147.5 142.8h.6M145.1 143.4h.6M134.3 143.8h.6M138.9 151.1h.6M157.9 149.9h.6M144.1 144.3h.6M132.1 144.5h.6M159.8 152.7h.6M148.0 145.8h.6M146.0 149.1h.6M145.9 149.1h.6M139.2 147.3h.6M142.9 152.3h.6M135.0 153.4h.6M145.2 144.6h.6M146.2 147.6h.6M143.9 149.1h.6M140.9 138.8h.6M152.2 146.9h.6M160.7 148.9h.6M128.3 153.1h.6M139.9 149.7h.6M165.6 152.4h.6M136.3 146.6h.6M131.8 150.3h.6M151.0 142.0h.6M150.0 151.6h.6M153.1 143.8h.6M139.9 141.6h.6M134.6 148.6h.6M146.4 153.4h.6M148.4 145.5h.6M133.4 154.6h.6M147.5 146.9h.6M137.1 141.9h.6M151.6 142.3h.6M151.2 150.1h.6M142.6 139.1h.6M149.6 153.9h.6M138.7 140.9h.6M155.6 147.7h.6M140.5 153.0h.6M143.6 149.2h.6M142.4 143.4h.6M147.9 142.9h.6M130.3 144.4h.6M156.9 152.4h.6M165.2 151.9h.6M160.3 148.3h.6M142.2 149.3h.6M137.6 150.6h.6M142.0 148.3h.6M138.5 146.4h.6M154.7 146.0h.6M140.1 148.4h.6M153.8 146.1h.6M135.7 139.5h.6M134.2 152.2h.6M145.2 149.4h.6M155.5 148.4h.6M150.3 144.6h.6M131.8 150.1h.6M145.2 149.8h.6M136.6 146.4h.6M163.8 143.0h.6M146.9 153.4h.6M144.0 147.7h.6M127.2 150.8h.6M142.1 153.3h.6M145.2 145.3h.6M149.8 145.9h.6M141.5 154.5h.6M154.7 147.6h.6M153.1 151.0h.6M151.1 147.3h.6M146.6 149.0h.6M151.0 148.8h.6M141.1 146.7h.6M150.0 142.3h.6M145.9 150.7h.6M147.5 145.7h.6M145.8 144.7h.6M154.7 145.3h.6M131.3 141.3h.6M148.6 148.1h.6M141.8 140.8h.6M144.7 143.0h.6M140.2 147.1h.6M139.2 148.6h.6M139.5 144.8h.6M144.0 154.1h.6M159.9 151.6h.6M139.5 147.1h.6M154.1 150.9h.6M131.7 146.8h.6M139.5 150.7h.6M151.6 144.5h.6M164.9 145.7h.6M167.5 146.3h.6M145.3 156.2h.6M141.4 144.8h.6M159.0 146.9h.6M150.2 141.1h.6M161.8 151.8h.6M149.1 150.5h.6M141.6 144.8h.6M132.2 148.8h.6M156.9 151.2h.6M154.1 150.5h.6" stroke="#000" stroke-width=".6" opacity="0.2"/>
<path d="M135.8 144.5h.6M141.2 150.8h.6M142.4 148.9h.6M136.0 152.0h.6M137.1 143.0h.6M136.9 146.3h.6M135.2 147.7h.6M142.3 160.2h.6M144.9 148.3h.6M142.9 149.8h.6M140.4 147.2h.6M138.7 142.9h.6M145.1 146.8h.6M141.0 147.6h.6M139.9 145.0h.6M137.7 154.0h.6M141.0 141.7h.6M141.9 144.5h.6M140.0 152.3h.6M136.8 148.7h.6M138.2 151.8h.6M142.1 155.9h.6M140.1 158.6h.6M135.8 157.7h.6M138.1 153.4h.6M138.6 150.4h.6M135.9 151.7h.6M145.9 150.7h.6M138.9 150.1h.6M141.4 149.2h.6M139.0 151.0h.6M143.5 154.1h.6M135.4 147.4h.6M139.1 153.7h.6M142.3 149.2h.6M146.3 149.4h.6M143.8 156.2h.6M144.5 150.9h.6M141.0 143.5h.6M132.9 147.5h.6M141.5 154.6h.6M138.6 154.5h.6M141.0 156.6h.6M133.5 146.5h.6M135.7 145.6h.6M144.6 146.1h.6M136.2 148.4h.6M142.0 148.1h.6M141.5 152.4h.6M136.8 140.0h.6M135.9 144.7h.6M144.6 147.0h.6M135.3 151.7h.6M139.2 146.1h.6M142.8 154.0h.6M140.0 146.8h.6M136.0 141.3h.6M140.3 151.7h.6M135.8 150.2h.6M150.2 145.2h.6M133.1 152.7h.6M137.5 148.0h.6M141.1 149.5h.6M142.4 152.3h.6M143.0 150.6h.6M131.6 155.9h.6M133.2 154.5h.6M139.9 144.1h.6M139.2 153.8h.6M135.5 150.2h.6M136.5 145.8h.6M136.9 155.5h.6M141.4 149.9h.6M138.7 150.6h.6M140.0 150.8h.6M133.1 154.0h.6M136.1 138.9h.6M141.4 144.9h.6M138.5 149.7h.6M137.0 152.3h.6M138.1 148.9h.6M135.7 148.9h.6M135.4 150.2h.6M143.5 154.4h.6M140.5 144.2h.6M142.5 154.0h.6M146.1 140.4h.6M139.1 148.6h.6M142.7 145.4h.6M137.7 160.0h.6M142.4 141.5h.6M139.1 155.9h.6M136.9 152.6h.6M139.3 143.8h.6M136.8 154.9h.6M143.1 147.5h.6M142.9 147.0h.6M139.9 149.9h.6M134.7 151.4h.6M137.7 138.3h.6M136.1 146.4h.6M136.1 145.8h.6M136.6 139.5h.6M142.1 150.3h.6M139.9 148.9h.6M139.2 148.9h.6M135.2 143.5h.6M139.3 154.4h.6M139.8 157.0h.6M134.3 148.9h.6M136.9 155.3h.6M144.8 147.8h.6M141.5 149.0h.6M135.6 149.6h.6M135.4 156.7h.6M141.0 155.1h.6M140.2 139.6h.6M141.8 150.4h.6M130.8 150.5h.6M142.5 157.4h.6M135.5 153.4h.6M140.1 149.3h.6M138.0 152.3h.6M141.0 152.9h.6M137.6 144.4h.6M143.5 155.6h.6M137.1 149.9h.6M141.8 142.5h.6M140.7 160.4h.6M139.9 147.0h.6M146.0 150.1h.6M139.7 148.2h.6M139.6 142.3h.6M134.6 143.7h.6M142.1 149.6h.6M143.0 141.2h.6M136.9 156.3h.6M136.3 142.0h.6M136.4 148.5h.6M139.0 155.6h.6M143.6 156.7h.6M141.0 147.9h.6M137.3 143.6h.6M143.4 155.4h.6M139.3 146.2h.6M141.3 152.1h.6M139.5 145.0h.6M139.8 147.6h.6M141.5 152.6h.6M140.5 148.2h.6M144.2 153.3h.6M143.4 153.6h.6M141.3 151.7h.6M135.3 142.2h.6M135.8 152.7h.6M142.1 150.8h.6M139.3 157.9h.6M137.6 142.3h.6M133.7 148.6h.6M141.4 153.2h.6M138.2 153.5h.6M138.8 146.9h.6M137.7 153.3h.6M142.3 145.2h.6M135.6 150.5h.6M146.3 145.0h.6M134.7 151.8h.6M140.7 147.4h.6M138.9 152.1h.6M133.0 149.9h.6M141.1 154.0h.6M143.0 149.7h.6M134.1 155.8h.6M141.6 147.3h.6M142.6 154.5h.6M138.5 139.8h.6M137.4 146.7h.6M136.1 149.7h.6M135.3 151.7h.6M145.5 144.9h.6M142.6 147.7h.6M140.9 149.5h.6M143.4 146.9h.6M141.5 146.7h.6M139.8 149.9h.6M142.7 143.2h.6M134.4 156.0h.6M140.3 157.3h.6M135.5 150.9h.6M141.1 157.6h.6M138.8 148.1h.6M141.5 149.6h.6M136.4 153.3h.6M132.5 145.6h.6M143.7 147.8h.6M137.9 151.6h.6M142.8 152.3h.6M135.7 147.6h.6M142.6 149.5h.6M136.8 153.8h.6" stroke="#000" stroke-width=".6" opacity="0.3"/>
<ellipse cx="142.3" cy="129" rx="3" ry="1.5" fill="#000" opacity="0.45" filter="url(#b1)" transform="rotate(-25 142.3 129)"/>
<rect x="148.8" y="144" width="17.19999999999999" height="4.5" fill="#000" stroke="none" stroke-width="0" opacity="0.12" filter="url(#b1)"/>
<ellipse cx="150" cy="146.3" rx="0.44999999999999996" ry="2.8999999999999915" fill="#000" opacity="0.15" filter="url(#b08)"/>
<ellipse cx="153.5" cy="146.3" rx="0.44999999999999996" ry="2.8999999999999915" fill="#000" opacity="0.15" filter="url(#b08)"/>
<ellipse cx="157" cy="146.3" rx="0.44999999999999996" ry="2.8999999999999915" fill="#000" opacity="0.15" filter="url(#b08)"/>
<ellipse cx="160.5" cy="146.3" rx="0.44999999999999996" ry="2.8999999999999915" fill="#000" opacity="0.15" filter="url(#b08)"/>
<ellipse cx="164" cy="146.3" rx="0.44999999999999996" ry="2.8999999999999915" fill="#000" opacity="0.15" filter="url(#b08)"/>
<ellipse cx="165.8" cy="146.3" rx="0.44999999999999996" ry="2.8999999999999915" fill="#000" opacity="0.25" filter="url(#b08)"/>
<ellipse cx="139" cy="151" rx="4.5" ry="3" fill="#000" opacity="0.3" filter="url(#b15)"/>
<path d="M135.2 144.7L146.2 140.8L146.8 142.2L142 152.5L140 153L135.5 148.5Z" fill="#000" opacity="1" filter="url(#b1)"/>
</g>
<rect x="129.3" y="120.3" width="41" height="37.6" fill="none" stroke="#888" stroke-width="0.5"/>
<rect x="134.25" y="123.5" width="14.349999999999994" height="12.099999999999994" fill="none" stroke="#444" stroke-width="0.5"/>
<text x="169.5" y="124.5" font-size="3.3" text-anchor="end" fill="#222" textLength="15" lengthAdjust="spacingAndGlyphs" stroke="#222" stroke-width="0.08">2.7 ± 1.0</text>
<text x="92" y="15.5" font-size="6.2" text-anchor="middle" font-weight="bold" fill="#000" textLength="12.3" lengthAdjust="spacingAndGlyphs">CD8</text>
<text x="149.3" y="15.4" font-size="6.2" text-anchor="middle" font-weight="bold" fill="#000" textLength="12.3" lengthAdjust="spacingAndGlyphs">CD4</text>
<line x1="61.8" y1="22" x2="61.8" y2="134.8" stroke="#000" stroke-width="0.9"/>
<path d="M60.6 23.5L62 19.8L63.4 23.5Z" fill="#000" opacity="1"/>
<text x="63.4" y="148.9" font-size="4.6" text-anchor="middle" fill="#000" transform="rotate(-90 63.4 148.9)" textLength="22.7" lengthAdjust="spacingAndGlyphs" stroke="#000" stroke-width="0.2">FoxP3GFP</text>
<line x1="77" y1="166.2" x2="170.5" y2="166.2" stroke="#000" stroke-width="0.9"/>
<text x="121.75" y="175.5" font-size="6.0" text-anchor="middle" fill="#111" textLength="32.3" lengthAdjust="spacingAndGlyphs" stroke="#111" stroke-width="0.08">Proliferation</text>
<text x="30.5" y="37.3" font-size="4.6" text-anchor="middle" fill="#111" stroke="#111" stroke-width="0.08">B6.CD11c-DOGxDBA/2F1</text>
<text x="30.5" y="42.4" font-size="4.6" text-anchor="middle" fill="#111" stroke="#111" stroke-width="0.08">+ saline</text>
<text x="30.5" y="47.5" font-size="4.6" text-anchor="middle" font-weight="bold" fill="#111" stroke="#111" stroke-width="0.1">Host DC</text>
<text x="30.5" y="89.8" font-size="4.6" text-anchor="middle" fill="#111" stroke="#111" stroke-width="0.08">B6.CD11c-DOGxDBA/2F1</text>
<text x="30.5" y="94.89999999999999" font-size="4.6" text-anchor="middle" fill="#111" stroke="#111" stroke-width="0.08">+ DT</text>
<text x="30.5" y="100.0" font-size="4.6" text-anchor="middle" font-weight="bold" fill="#111" stroke="#111" stroke-width="0.1">No Host DC</text>
<text x="30.5" y="140.2" font-size="4.6" text-anchor="middle" fill="#111" stroke="#111" stroke-width="0.08">B6D2F1 + DT</text>
<text x="30.5" y="145.29999999999998" font-size="4.6" text-anchor="middle" font-weight="bold" fill="#111" stroke="#111" stroke-width="0.1">Host DC</text>
<line x1="200.4" y1="15.3" x2="200.4" y2="67.6" stroke="#000" stroke-width="0.6"/>
<line x1="199.1" y1="15.7" x2="200.4" y2="15.7" stroke="#000" stroke-width="0.6"/>
<text x="198.6" y="16.852" font-size="3.2" text-anchor="end" font-weight="bold" fill="#000" stroke="#000" stroke-width="0.1">0.6</text>
<line x1="199.1" y1="33" x2="200.4" y2="33" stroke="#000" stroke-width="0.6"/>
<text x="198.6" y="34.152" font-size="3.2" text-anchor="end" font-weight="bold" fill="#000" stroke="#000" stroke-width="0.1">0.4</text>
<line x1="199.1" y1="50.3" x2="200.4" y2="50.3" stroke="#000" stroke-width="0.6"/>
<text x="198.6" y="51.452" font-size="3.2" text-anchor="end" font-weight="bold" fill="#000" stroke="#000" stroke-width="0.1">0.2</text>
<line x1="199.1" y1="67.6" x2="200.4" y2="67.6" stroke="#000" stroke-width="0.6"/>
<text x="198.6" y="68.752" font-size="3.2" text-anchor="end" font-weight="bold" fill="#000" stroke="#000" stroke-width="0.1">0.0</text>
<line x1="200.4" y1="67.6" x2="235.6" y2="67.6" stroke="#000" stroke-width="0.6"/>
<line x1="206.6" y1="48.7" x2="206.6" y2="47.3" stroke="#000" stroke-width="0.6"/>
<line x1="205.1" y1="47.3" x2="208.1" y2="47.3" stroke="#000" stroke-width="0.6"/>
<rect x="202.7" y="48.7" width="7.800000000000011" height="18.89999999999999" fill="#fff" stroke="#000" stroke-width="0.6"/>
<line x1="218.14999999999998" y1="27.8" x2="218.14999999999998" y2="23.3" stroke="#000" stroke-width="0.6"/>
<line x1="216.64999999999998" y1="23.3" x2="219.64999999999998" y2="23.3" stroke="#000" stroke-width="0.6"/>
<rect x="213.7" y="27.8" width="8.900000000000006" height="39.8" fill="#000" stroke="#000" stroke-width="0.6"/>
<line x1="229.7" y1="49.4" x2="229.7" y2="46.9" stroke="#000" stroke-width="0.6"/>
<line x1="228.2" y1="46.9" x2="231.2" y2="46.9" stroke="#000" stroke-width="0.6"/>
<rect x="225.8" y="49.4" width="7.799999999999983" height="18.199999999999996" fill="#999" stroke="#000" stroke-width="0.6"/>
<text x="192.3" y="41.7" font-size="4.3" text-anchor="middle" font-weight="bold" fill="#000" transform="rotate(-90 192.3 41.7)" textLength="48.8" lengthAdjust="spacingAndGlyphs" stroke="#000" stroke-width="0.1">CD8⁺FoxP3⁺/mLN (x10⁴)</text>
<line x1="204.9" y1="18.9" x2="218.2" y2="18.9" stroke="#333" stroke-width="0.5"/>
<line x1="204.9" y1="18.099999999999998" x2="204.9" y2="19.7" stroke="#333" stroke-width="0.5"/>
<line x1="218.2" y1="18.099999999999998" x2="218.2" y2="19.7" stroke="#333" stroke-width="0.5"/>
<text x="212.05" y="20.82" font-size="6" text-anchor="middle" font-weight="bold" fill="#000" letter-spacing="1.0">**</text>
<line x1="218.7" y1="23.3" x2="231.5" y2="23.3" stroke="#333" stroke-width="0.5"/>
<line x1="218.7" y1="22.5" x2="218.7" y2="24.1" stroke="#333" stroke-width="0.5"/>
<line x1="231.5" y1="22.5" x2="231.5" y2="24.1" stroke="#333" stroke-width="0.5"/>
<text x="225.6" y="25.22" font-size="6" text-anchor="middle" font-weight="bold" fill="#000" letter-spacing="1.0">**</text>
<line x1="269.5" y1="13.8" x2="269.5" y2="67.2" stroke="#000" stroke-width="0.6"/>
<line x1="268.2" y1="13.9" x2="269.5" y2="13.9" stroke="#000" stroke-width="0.6"/>
<text x="267.7" y="15.052" font-size="3.2" text-anchor="end" font-weight="bold" fill="#000" stroke="#000" stroke-width="0.1">1.5</text>
<line x1="268.2" y1="31.7" x2="269.5" y2="31.7" stroke="#000" stroke-width="0.6"/>
<text x="267.7" y="32.852" font-size="3.2" text-anchor="end" font-weight="bold" fill="#000" stroke="#000" stroke-width="0.1">1.0</text>
<line x1="268.2" y1="49.4" x2="269.5" y2="49.4" stroke="#000" stroke-width="0.6"/>
<text x="267.7" y="50.552" font-size="3.2" text-anchor="end" font-weight="bold" fill="#000" stroke="#000" stroke-width="0.1">0.5</text>
<line x1="268.2" y1="67.2" x2="269.5" y2="67.2" stroke="#000" stroke-width="0.6"/>
<text x="267.7" y="68.352" font-size="3.2" text-anchor="end" font-weight="bold" fill="#000" stroke="#000" stroke-width="0.1">0.0</text>
<line x1="269.5" y1="67.2" x2="304.9" y2="67.2" stroke="#000" stroke-width="0.6"/>
<line x1="275.3" y1="57.6" x2="275.3" y2="56.8" stroke="#000" stroke-width="0.6"/>
<line x1="273.8" y1="56.8" x2="276.8" y2="56.8" stroke="#000" stroke-width="0.6"/>
<rect x="271.3" y="57.6" width="8.0" height="9.600000000000001" fill="#fff" stroke="#000" stroke-width="0.6"/>
<line x1="287.54999999999995" y1="32.7" x2="287.54999999999995" y2="25.6" stroke="#000" stroke-width="0.6"/>
<line x1="286.04999999999995" y1="25.6" x2="289.04999999999995" y2="25.6" stroke="#000" stroke-width="0.6"/>
<rect x="283.4" y="32.7" width="8.300000000000011" height="34.5" fill="#000" stroke="#000" stroke-width="0.6"/>
<line x1="299.1" y1="57" x2="299.1" y2="55.3" stroke="#000" stroke-width="0.6"/>
<line x1="297.6" y1="55.3" x2="300.6" y2="55.3" stroke="#000" stroke-width="0.6"/>
<rect x="295.3" y="57" width="7.599999999999966" height="10.200000000000003" fill="#999" stroke="#000" stroke-width="0.6"/>
<text x="263" y="39.3" font-size="4.3" text-anchor="middle" font-weight="bold" fill="#000" transform="rotate(-90 263 39.3)" textLength="48" lengthAdjust="spacingAndGlyphs" stroke="#000" stroke-width="0.1">CD4⁺FoxP3⁺/mLN (x10⁴)</text>
<line x1="274" y1="17.1" x2="287.6" y2="17.1" stroke="#333" stroke-width="0.5"/>
<line x1="274" y1="16.3" x2="274" y2="17.900000000000002" stroke="#333" stroke-width="0.5"/>
<line x1="287.6" y1="16.3" x2="287.6" y2="17.900000000000002" stroke="#333" stroke-width="0.5"/>
<text x="281.3" y="19.020000000000003" font-size="6" text-anchor="middle" font-weight="bold" fill="#000" letter-spacing="1.0">**</text>
<line x1="287.6" y1="22" x2="301" y2="22" stroke="#333" stroke-width="0.5"/>
<line x1="287.6" y1="21.2" x2="287.6" y2="22.8" stroke="#333" stroke-width="0.5"/>
<line x1="301" y1="21.2" x2="301" y2="22.8" stroke="#333" stroke-width="0.5"/>
<text x="294.8" y="23.92" font-size="6" text-anchor="middle" font-weight="bold" fill="#000" letter-spacing="1.0">**</text>
<line x1="200" y1="74.8" x2="200" y2="127.7" stroke="#000" stroke-width="0.6"/>
<line x1="198.7" y1="75.3" x2="200" y2="75.3" stroke="#000" stroke-width="0.6"/>
<text x="198.2" y="76.452" font-size="3.2" text-anchor="end" font-weight="bold" fill="#000" stroke="#000" stroke-width="0.1">15</text>
<line x1="198.7" y1="92.8" x2="200" y2="92.8" stroke="#000" stroke-width="0.6"/>
<text x="198.2" y="93.952" font-size="3.2" text-anchor="end" font-weight="bold" fill="#000" stroke="#000" stroke-width="0.1">10</text>
<line x1="198.7" y1="110.2" x2="200" y2="110.2" stroke="#000" stroke-width="0.6"/>
<text x="198.2" y="111.352" font-size="3.2" text-anchor="end" font-weight="bold" fill="#000" stroke="#000" stroke-width="0.1">5</text>
<line x1="198.7" y1="127.7" x2="200" y2="127.7" stroke="#000" stroke-width="0.6"/>
<text x="198.2" y="128.852" font-size="3.2" text-anchor="end" font-weight="bold" fill="#000" stroke="#000" stroke-width="0.1">0</text>
<line x1="200" y1="127.7" x2="238.8" y2="127.7" stroke="#000" stroke-width="0.6"/>
<line x1="207.14999999999998" y1="89.2" x2="207.14999999999998" y2="83.3" stroke="#000" stroke-width="0.6"/>
<line x1="205.64999999999998" y1="83.3" x2="208.64999999999998" y2="83.3" stroke="#000" stroke-width="0.6"/>
<rect x="202.7" y="89.2" width="8.900000000000006" height="38.5" fill="#fff" stroke="#000" stroke-width="0.6"/>
<line x1="219.6" y1="120.6" x2="219.6" y2="119.8" stroke="#000" stroke-width="0.6"/>
<line x1="218.1" y1="119.8" x2="221.1" y2="119.8" stroke="#000" stroke-width="0.6"/>
<rect x="215.2" y="120.6" width="8.800000000000011" height="7.1000000000000085" fill="#000" stroke="#000" stroke-width="0.6"/>
<line x1="232.4" y1="102" x2="232.4" y2="99" stroke="#000" stroke-width="0.6"/>
<line x1="230.9" y1="99" x2="233.9" y2="99" stroke="#000" stroke-width="0.6"/>
<rect x="228" y="102" width="8.800000000000011" height="25.700000000000003" fill="#999" stroke="#000" stroke-width="0.6"/>
<text x="192.7" y="100.6" font-size="4.5" text-anchor="middle" font-weight="bold" fill="#000" transform="rotate(-90 192.7 100.6)" textLength="50.6" lengthAdjust="spacingAndGlyphs" stroke="#000" stroke-width="0.1">CD8⁺FoxP3⁺/mLN (x10³)</text>
<line x1="206.6" y1="78.5" x2="220.5" y2="78.5" stroke="#333" stroke-width="0.5"/>
<line x1="206.6" y1="77.7" x2="206.6" y2="79.3" stroke="#333" stroke-width="0.5"/>
<line x1="220.5" y1="77.7" x2="220.5" y2="79.3" stroke="#333" stroke-width="0.5"/>
<text x="214.05" y="80.42" font-size="6" text-anchor="middle" font-weight="bold" fill="#000" letter-spacing="1.0">**</text>
<line x1="219" y1="86.5" x2="233.3" y2="86.5" stroke="#333" stroke-width="0.5"/>
<line x1="219" y1="85.7" x2="219" y2="87.3" stroke="#333" stroke-width="0.5"/>
<line x1="233.3" y1="85.7" x2="233.3" y2="87.3" stroke="#333" stroke-width="0.5"/>
<text x="226.65" y="88.42" font-size="6" text-anchor="middle" font-weight="bold" fill="#000" letter-spacing="1.0">**</text>
<line x1="269.2" y1="73.8" x2="269.2" y2="128.2" stroke="#000" stroke-width="0.6"/>
<line x1="267.9" y1="73.9" x2="269.2" y2="73.9" stroke="#000" stroke-width="0.6"/>
<text x="267.4" y="75.052" font-size="3.2" text-anchor="end" font-weight="bold" fill="#000" stroke="#000" stroke-width="0.1">15</text>
<line x1="267.9" y1="92" x2="269.2" y2="92" stroke="#000" stroke-width="0.6"/>
<text x="267.4" y="93.152" font-size="3.2" text-anchor="end" font-weight="bold" fill="#000" stroke="#000" stroke-width="0.1">10</text>
<line x1="267.9" y1="110.1" x2="269.2" y2="110.1" stroke="#000" stroke-width="0.6"/>
<text x="267.4" y="111.252" font-size="3.2" text-anchor="end" font-weight="bold" fill="#000" stroke="#000" stroke-width="0.1">5</text>
<line x1="267.9" y1="128.2" x2="269.2" y2="128.2" stroke="#000" stroke-width="0.6"/>
<text x="267.4" y="129.35199999999998" font-size="3.2" text-anchor="end" font-weight="bold" fill="#000" stroke="#000" stroke-width="0.1">0</text>
<line x1="269.2" y1="128.2" x2="309.7" y2="128.2" stroke="#000" stroke-width="0.6"/>
<line x1="277.15" y1="92.2" x2="277.15" y2="88.1" stroke="#000" stroke-width="0.6"/>
<line x1="275.65" y1="88.1" x2="278.65" y2="88.1" stroke="#000" stroke-width="0.6"/>
<rect x="272.7" y="92.2" width="8.900000000000034" height="35.999999999999986" fill="#fff" stroke="#000" stroke-width="0.6"/>
<line x1="289.35" y1="91" x2="289.35" y2="79.2" stroke="#000" stroke-width="0.6"/>
<line x1="287.85" y1="79.2" x2="290.85" y2="79.2" stroke="#000" stroke-width="0.6"/>
<rect x="285.2" y="91" width="8.300000000000011" height="37.19999999999999" fill="#000" stroke="#000" stroke-width="0.6"/>
<line x1="303.0" y1="101.6" x2="303.0" y2="97.5" stroke="#000" stroke-width="0.6"/>
<line x1="301.5" y1="97.5" x2="304.5" y2="97.5" stroke="#000" stroke-width="0.6"/>
<rect x="298.3" y="101.6" width="9.399999999999977" height="26.599999999999994" fill="#999" stroke="#000" stroke-width="0.6"/>
<text x="263" y="99.7" font-size="4.3" text-anchor="middle" font-weight="bold" fill="#000" transform="rotate(-90 263 99.7)" textLength="48.8" lengthAdjust="spacingAndGlyphs" stroke="#000" stroke-width="0.1">CD4⁺FoxP3⁺/mLN (x10³)</text>
<text x="216.8" y="7.7" font-size="6.2" text-anchor="middle" font-weight="bold" fill="#000" textLength="12.2" lengthAdjust="spacingAndGlyphs">CD8</text>
<text x="284" y="7.7" font-size="6.2" text-anchor="middle" font-weight="bold" fill="#000" textLength="12.3" lengthAdjust="spacingAndGlyphs">CD4</text>
<rect x="211.1" y="135.6" width="6.8" height="3.2" fill="#fff" stroke="#222" stroke-width="0.55"/>
<text x="219.9" y="138.6" font-size="4.1" text-anchor="start" fill="#222" textLength="68.9" lengthAdjust="spacingAndGlyphs" stroke="#222" stroke-width="0.08">B6.CD11c-DOGxDBA/2F1 + Saline</text>
<rect x="211.1" y="141.5" width="6.8" height="3.2" fill="#000" stroke="#222" stroke-width="0.55"/>
<text x="219.9" y="144.5" font-size="4.1" text-anchor="start" fill="#222" textLength="62.3" lengthAdjust="spacingAndGlyphs" stroke="#222" stroke-width="0.08">B6.CD11c-DOGxDBA/2F1 + DT</text>
<rect x="211.1" y="147.3" width="6.8" height="3.2" fill="#999" stroke="#222" stroke-width="0.55"/>
<text x="219.9" y="150.3" font-size="4.1" text-anchor="start" fill="#222" textLength="29.3" lengthAdjust="spacingAndGlyphs" stroke="#222" stroke-width="0.08">B6D2F1 + DT</text>
<text x="408.5" y="14.1" font-size="5.3" text-anchor="middle" fill="#111" textLength="27.9" lengthAdjust="spacingAndGlyphs" stroke="#111" stroke-width="0.08">Donor Graft</text>
<line x1="360" y1="16.5" x2="453.5" y2="16.5" stroke="#000" stroke-width="0.8"/>
<text x="380" y="25.2" font-size="5.4" text-anchor="middle" fill="#111" textLength="22.2" lengthAdjust="spacingAndGlyphs" stroke="#111" stroke-width="0.08">CD8 only</text>
<text x="432.8" y="25.2" font-size="5.4" text-anchor="middle" fill="#111" textLength="31.5" lengthAdjust="spacingAndGlyphs" stroke="#111" stroke-width="0.08">CD8⁺ + CD4⁺</text>
<text x="336.2" y="49.2" font-size="5.1" text-anchor="middle" fill="#111" textLength="16" lengthAdjust="spacingAndGlyphs" stroke="#111" stroke-width="0.08">Spleen</text>
<text x="333.7" y="95" font-size="5.2" text-anchor="middle" fill="#111" textLength="11" lengthAdjust="spacingAndGlyphs" stroke="#111" stroke-width="0.08">mLN</text>
<line x1="348" y1="32" x2="348" y2="110" stroke="#000" stroke-width="0.9"/>
<path d="M346.7 32.5L348 28.8L349.3 32.5Z" fill="#000" opacity="1"/>
<text x="349.8" y="111.3" font-size="4.3" text-anchor="middle" fill="#111" transform="rotate(-90 349.8 111.3)" textLength="8.6" lengthAdjust="spacingAndGlyphs" stroke="#111" stroke-width="0.08">CD8</text>
<text x="371.35" y="126.6" font-size="4.8" text-anchor="middle" fill="#111" textLength="24.9" lengthAdjust="spacingAndGlyphs" stroke="#111" stroke-width="0.08">FoxP3 GFP</text>
<line x1="386.5" y1="124.6" x2="451" y2="124.6" stroke="#000" stroke-width="0.9"/>
<path d="M450.5 123.3L454.3 124.6L450.5 125.9Z" fill="#000" opacity="1"/>
<text x="357.7" y="31.099999999999998" font-size="2.5" text-anchor="end" fill="#555" stroke="#555" stroke-width="0.08">10⁴</text>
<text x="357.7" y="40.0" font-size="2.5" text-anchor="end" fill="#555" stroke="#555" stroke-width="0.08">10³</text>
<text x="357.7" y="49.3" font-size="2.5" text-anchor="end" fill="#555" stroke="#555" stroke-width="0.08">10²</text>
<text x="357.7" y="59.199999999999996" font-size="2.5" text-anchor="end" fill="#555" stroke="#555" stroke-width="0.08">10¹</text>
<text x="357.7" y="63.699999999999996" font-size="2.5" text-anchor="end" fill="#555" stroke="#555" stroke-width="0.08">0</text>
<text x="362.7" y="70.2" font-size="2.5" text-anchor="middle" fill="#555" stroke="#555" stroke-width="0.08">0</text>
<text x="368.7" y="70.2" font-size="2.5" text-anchor="middle" fill="#555" stroke="#555" stroke-width="0.08">10¹</text>
<text x="381.7" y="70.2" font-size="2.5" text-anchor="middle" fill="#555" stroke="#555" stroke-width="0.08">10²</text>
<text x="391.7" y="70.2" font-size="2.5" text-anchor="middle" fill="#555" stroke="#555" stroke-width="0.08">10³</text>
<text x="400.7" y="70.2" font-size="2.5" text-anchor="middle" fill="#555" stroke="#555" stroke-width="0.08">10⁴</text>
<clipPath id="c7"><rect x="359.7" y="27" width="43.6" height="39.9"/></clipPath><g clip-path="url(#c7)">
<path d="M373.7 47.4h.6M364.0 33.6h.6M365.7 38.7h.6M366.6 42.3h.6M365.9 35.7h.6M371.2 38.0h.6M364.2 44.2h.6M371.2 34.6h.6M369.6 31.7h.6M363.3 35.6h.6M370.3 37.5h.6M365.3 30.4h.6M361.3 44.7h.6M370.3 33.2h.6M373.9 39.6h.6M366.9 34.1h.6M373.7 38.6h.6M375.9 38.7h.6M366.1 34.1h.6M365.6 38.2h.6M369.8 39.9h.6M370.7 32.0h.6M367.8 32.5h.6M370.8 30.7h.6M366.2 32.9h.6M366.0 35.8h.6M375.3 35.8h.6M362.4 35.6h.6M372.0 39.7h.6M369.8 46.6h.6M373.6 37.4h.6M374.0 30.6h.6M368.0 32.8h.6M369.5 44.8h.6M366.5 44.6h.6M364.2 43.8h.6M361.3 32.9h.6M373.1 36.6h.6M369.3 36.9h.6M369.5 36.1h.6M364.4 35.6h.6M369.2 32.7h.6M370.7 45.5h.6M361.5 34.4h.6M367.5 37.1h.6M369.1 33.5h.6M368.6 37.0h.6M368.3 44.4h.6M369.3 29.9h.6M361.8 39.8h.6M367.2 34.0h.6M362.8 35.5h.6M368.3 33.7h.6M367.2 41.3h.6M372.1 39.6h.6M367.9 30.5h.6M372.1 44.2h.6M374.3 42.6h.6M369.9 38.8h.6M368.6 43.0h.6M367.5 47.3h.6M372.1 35.5h.6M368.7 29.3h.6M365.5 35.6h.6M379.4 33.1h.6M372.7 37.4h.6M367.4 40.0h.6M360.0 41.5h.6M377.2 38.4h.6M368.4 37.8h.6M371.6 34.7h.6M369.2 39.4h.6M367.2 38.9h.6M370.2 40.4h.6M364.4 34.4h.6M366.8 42.7h.6M369.8 29.1h.6M363.1 46.3h.6M370.2 30.8h.6M364.7 37.7h.6M374.9 44.8h.6M367.1 35.6h.6M377.1 32.3h.6M375.5 38.6h.6M369.1 43.2h.6M370.8 33.0h.6M362.0 37.1h.6M370.9 43.6h.6M371.4 44.3h.6M372.2 38.0h.6M370.6 38.9h.6M366.0 36.5h.6M369.3 34.8h.6M362.3 30.1h.6M370.9 39.5h.6M369.2 31.4h.6M372.4 35.1h.6M362.2 47.8h.6M371.0 34.9h.6M375.2 43.5h.6M369.8 28.8h.6M367.0 35.6h.6M370.7 36.4h.6M370.2 29.2h.6M365.9 43.9h.6M362.4 41.4h.6M378.8 40.1h.6M362.6 43.0h.6M360.6 38.6h.6M366.9 43.0h.6M373.9 37.9h.6M376.5 41.7h.6M366.6 32.3h.6M379.5 35.1h.6M370.5 36.4h.6M366.6 29.3h.6M368.1 36.4h.6M373.0 34.5h.6M361.9 31.8h.6M368.5 38.2h.6M371.9 35.2h.6M371.1 37.7h.6M376.1 36.7h.6M369.3 39.7h.6M374.0 32.6h.6M366.6 35.7h.6M373.4 37.1h.6M377.5 44.6h.6M372.7 30.2h.6M375.4 39.0h.6M363.5 37.3h.6M372.0 41.7h.6M369.5 34.5h.6M372.0 33.3h.6M368.4 40.7h.6M362.4 38.8h.6M360.1 32.5h.6M363.3 36.6h.6M371.8 36.8h.6M372.7 37.5h.6M367.8 39.4h.6M367.7 37.7h.6M373.3 34.3h.6M373.7 31.7h.6M367.7 28.6h.6M366.4 44.7h.6M370.3 43.1h.6M362.3 32.1h.6M370.7 41.0h.6M372.4 28.9h.6M370.9 36.7h.6M369.2 39.3h.6M367.5 28.8h.6M364.0 30.0h.6M362.9 36.4h.6M374.4 33.6h.6M365.4 31.5h.6M361.1 37.3h.6M366.6 35.8h.6M364.5 39.3h.6M363.4 39.6h.6M365.8 40.8h.6M364.8 39.1h.6M370.6 36.6h.6M375.9 37.8h.6M364.8 40.3h.6M365.1 34.4h.6M368.8 37.9h.6M376.2 28.6h.6M367.6 42.5h.6M368.0 38.6h.6M375.4 31.1h.6M368.9 40.8h.6M366.1 28.5h.6M364.3 37.9h.6M369.5 45.9h.6M374.5 29.5h.6M373.2 41.4h.6M375.8 36.3h.6M366.3 37.7h.6M375.5 40.0h.6M376.1 40.8h.6M366.1 32.1h.6M376.8 29.7h.6M367.2 35.5h.6M364.7 34.2h.6M368.7 48.5h.6M368.4 34.5h.6M369.2 41.5h.6M365.1 35.0h.6M361.0 40.4h.6M371.7 44.3h.6M363.4 47.5h.6M372.5 35.7h.6M367.0 35.5h.6M363.4 40.7h.6M366.0 33.5h.6M371.0 37.5h.6M366.1 35.9h.6M366.5 43.5h.6M373.1 33.5h.6M368.5 43.6h.6M367.4 45.6h.6M370.7 40.2h.6M370.2 39.8h.6M370.8 39.6h.6M366.5 41.4h.6M369.0 31.9h.6M364.2 37.8h.6M368.6 50.8h.6M362.0 35.8h.6M366.1 39.7h.6M374.9 44.8h.6M364.3 43.0h.6M363.4 38.5h.6M369.5 40.0h.6M365.2 43.5h.6M368.4 36.9h.6M367.5 31.8h.6M371.9 38.6h.6M370.7 46.0h.6M364.9 35.6h.6M368.7 41.1h.6M367.9 41.5h.6M370.7 28.5h.6M365.7 27.2h.6M367.4 35.0h.6M371.3 37.8h.6M368.4 43.1h.6M371.3 31.0h.6M365.7 38.6h.6M376.2 36.0h.6M368.0 38.3h.6M372.1 36.6h.6M370.0 35.0h.6M366.3 33.1h.6M371.6 34.3h.6M371.1 39.0h.6M364.5 31.1h.6M368.0 40.9h.6M374.7 38.9h.6M367.0 39.6h.6M368.7 40.0h.6M364.2 31.7h.6M365.9 36.8h.6M370.2 35.3h.6M370.2 40.3h.6M363.6 36.5h.6M361.9 34.3h.6M372.7 33.5h.6M376.9 39.5h.6M372.6 37.5h.6M372.5 42.3h.6M369.2 34.4h.6M366.3 46.4h.6M367.9 34.8h.6M365.6 28.8h.6M366.5 38.6h.6M366.6 33.3h.6M370.5 39.2h.6M366.8 38.5h.6M364.4 41.2h.6M364.4 35.4h.6M369.3 35.0h.6M363.7 47.2h.6M375.4 28.5h.6M369.2 30.8h.6M370.1 30.7h.6M371.3 39.6h.6M376.2 42.9h.6M366.7 41.6h.6M366.7 36.5h.6M366.5 28.4h.6M371.4 27.1h.6M367.7 39.6h.6M369.2 29.3h.6M365.8 40.3h.6M373.5 44.8h.6M360.7 39.2h.6M366.6 40.7h.6M361.3 36.3h.6M371.8 33.9h.6M367.1 32.2h.6M373.6 30.5h.6M364.7 35.4h.6M367.3 47.3h.6M369.9 32.9h.6M371.3 38.7h.6" stroke="#000" stroke-width=".6" opacity="0.3"/>
<path d="M370.1 54.5h.6M371.0 45.9h.6M362.8 51.7h.6M363.3 60.5h.6M378.2 64.6h.6M370.9 57.6h.6M365.4 44.9h.6M371.4 43.5h.6M370.2 53.9h.6M372.4 55.4h.6M369.2 50.5h.6M360.3 52.3h.6M372.1 63.1h.6M375.4 47.2h.6M364.1 60.5h.6M370.2 43.2h.6M359.8 56.2h.6M366.5 47.0h.6M360.4 49.4h.6M379.4 55.8h.6M367.4 46.0h.6M370.4 51.3h.6M364.6 65.8h.6M370.8 48.1h.6M375.9 54.6h.6M371.2 56.2h.6M374.5 59.8h.6M367.0 60.6h.6M366.8 56.0h.6M376.7 46.7h.6M363.6 51.9h.6M366.3 65.1h.6M376.4 51.5h.6M369.6 52.2h.6M372.0 60.2h.6M372.4 61.0h.6M378.1 53.7h.6M372.1 53.5h.6M368.9 56.7h.6M368.4 57.7h.6M364.5 53.8h.6M365.7 45.9h.6M365.2 51.1h.6M368.0 42.8h.6M367.4 46.2h.6M364.7 56.5h.6M374.1 57.2h.6M366.3 51.6h.6M375.3 42.3h.6M374.3 43.3h.6M365.6 55.4h.6M371.1 54.6h.6M373.4 55.3h.6M364.8 63.8h.6M376.0 65.0h.6M366.7 61.0h.6M360.8 47.0h.6M374.5 58.9h.6M367.2 32.2h.6M370.9 53.5h.6M368.7 56.8h.6M372.4 52.9h.6M364.3 52.2h.6M378.4 49.6h.6M373.9 56.0h.6M372.3 52.9h.6M364.3 62.8h.6M367.4 52.1h.6M370.4 53.5h.6M367.2 48.0h.6M369.9 57.5h.6M377.7 54.8h.6M360.1 58.6h.6M379.9 51.6h.6M364.8 53.7h.6M367.8 43.2h.6M371.5 48.2h.6M374.8 56.5h.6M366.2 53.0h.6M373.4 50.9h.6M370.7 62.6h.6M364.3 50.4h.6M370.9 55.1h.6M368.1 50.9h.6M375.4 42.4h.6M368.9 55.7h.6M368.9 44.2h.6M368.1 56.2h.6M365.4 57.5h.6M369.2 58.1h.6M367.9 51.4h.6M369.6 63.5h.6M373.1 54.4h.6M366.4 63.3h.6M371.4 61.9h.6M367.3 48.3h.6M369.6 50.1h.6M374.3 61.7h.6M375.2 63.1h.6M366.4 48.3h.6M373.5 62.9h.6M369.0 46.0h.6M361.2 57.1h.6M364.6 49.7h.6M370.9 63.2h.6M375.1 54.7h.6M367.0 60.0h.6M363.1 45.4h.6M373.7 55.0h.6M373.7 51.8h.6M362.9 41.9h.6M370.0 62.1h.6M370.5 54.7h.6M366.7 63.5h.6M368.5 43.7h.6M375.4 49.9h.6M370.6 55.0h.6M373.9 56.9h.6M374.7 56.7h.6M366.4 51.0h.6M371.9 48.5h.6M373.3 53.1h.6M364.1 48.2h.6M372.5 55.2h.6M367.3 55.0h.6M366.6 65.5h.6M369.6 51.4h.6M369.6 47.2h.6M363.5 53.7h.6M378.5 46.3h.6M368.0 42.6h.6M369.5 56.7h.6M372.3 44.5h.6M365.7 49.9h.6M367.7 54.7h.6M366.2 61.2h.6M376.2 46.6h.6M373.9 55.2h.6M374.8 63.3h.6M371.9 41.9h.6M369.4 51.1h.6M370.9 55.3h.6M373.9 42.4h.6M365.1 54.4h.6M370.3 51.8h.6M368.6 55.4h.6M373.8 54.1h.6M369.9 40.7h.6M370.5 36.9h.6M370.7 54.2h.6M368.7 49.3h.6M366.6 61.5h.6M370.5 54.8h.6M366.3 56.7h.6M374.6 54.8h.6M366.9 45.7h.6M369.2 47.8h.6M361.6 61.8h.6M365.6 39.0h.6M368.2 44.6h.6M363.3 60.6h.6M370.7 56.7h.6M367.7 58.8h.6M376.3 58.8h.6M367.9 44.0h.6M371.9 45.1h.6M369.6 65.2h.6M365.6 58.9h.6M360.9 41.3h.6M370.5 60.5h.6M367.0 54.8h.6M366.7 64.4h.6M362.4 49.7h.6M361.2 47.8h.6M368.6 55.2h.6M377.5 53.3h.6M370.4 57.8h.6M370.0 66.5h.6M369.4 56.2h.6M368.1 55.0h.6M368.4 62.8h.6M368.8 55.5h.6M368.5 61.0h.6M366.4 62.4h.6M365.9 60.5h.6M378.2 56.8h.6M368.3 45.7h.6M372.3 55.1h.6M373.2 49.8h.6M370.7 52.4h.6M362.3 54.9h.6M371.9 59.7h.6M363.2 46.9h.6M363.9 47.0h.6M367.3 57.1h.6M378.2 56.5h.6M375.9 42.0h.6M376.3 61.3h.6M370.9 61.5h.6M372.7 41.3h.6M368.3 65.4h.6M367.0 49.8h.6M367.0 57.5h.6M369.6 50.1h.6M371.3 59.9h.6M364.2 46.2h.6M368.8 49.5h.6M365.7 53.9h.6M368.8 59.5h.6M372.8 58.5h.6M374.2 47.4h.6M371.7 57.9h.6M363.5 49.7h.6M370.9 55.6h.6M362.5 50.6h.6M376.2 61.7h.6M369.1 65.7h.6M364.2 53.6h.6M373.4 52.3h.6M363.2 59.6h.6M376.6 35.0h.6M369.5 45.1h.6M367.2 43.8h.6M368.9 49.4h.6M363.8 51.4h.6M363.4 55.6h.6M366.5 42.6h.6M369.9 49.0h.6M365.9 46.8h.6M373.8 51.8h.6M368.0 56.4h.6M362.6 56.8h.6M367.9 58.5h.6M366.8 55.3h.6M371.3 62.6h.6M365.3 62.7h.6M363.8 53.5h.6M369.3 56.1h.6M367.8 62.3h.6M359.8 55.6h.6M371.4 55.1h.6M370.0 62.4h.6M364.7 59.7h.6M374.0 53.2h.6M364.5 46.6h.6M370.8 48.6h.6M362.2 52.7h.6M376.3 60.4h.6M363.7 63.2h.6M366.0 59.7h.6M371.5 51.5h.6M367.9 64.2h.6M371.2 54.5h.6M373.3 58.8h.6M370.3 42.6h.6M369.4 51.2h.6M372.3 50.2h.6M370.9 46.7h.6M373.1 49.2h.6M368.6 59.6h.6M367.1 55.1h.6M359.8 47.9h.6M372.0 62.4h.6M366.4 55.7h.6M367.7 45.6h.6M361.0 44.9h.6M375.1 51.9h.6M378.3 60.0h.6M370.6 60.1h.6M372.6 62.3h.6M363.9 50.6h.6M366.0 55.8h.6M367.5 45.3h.6M379.2 48.2h.6M370.6 54.7h.6M364.5 60.6h.6M371.0 52.5h.6M372.9 49.4h.6M373.1 60.4h.6M360.0 53.5h.6M370.3 61.0h.6M369.5 54.9h.6M367.0 52.7h.6M368.7 46.6h.6M371.9 52.4h.6M371.3 51.0h.6M370.7 56.0h.6M373.1 58.7h.6M373.3 53.7h.6M368.4 52.9h.6M362.5 54.0h.6M374.1 61.1h.6M364.5 57.4h.6M372.4 44.3h.6M370.4 57.6h.6M372.4 57.0h.6M360.1 39.1h.6M378.5 51.9h.6M375.0 65.0h.6M369.1 46.0h.6M375.5 54.7h.6M371.3 58.8h.6M373.4 63.0h.6M361.7 43.9h.6M369.4 55.1h.6M372.5 53.9h.6M375.5 64.1h.6M373.8 48.8h.6M368.3 54.5h.6M363.3 48.1h.6M369.5 45.4h.6M371.4 58.7h.6M367.5 52.3h.6M371.7 58.8h.6M370.5 45.4h.6M365.5 52.1h.6M365.1 61.3h.6M366.7 51.1h.6M364.9 51.5h.6M360.9 57.1h.6M374.6 56.2h.6M366.1 64.9h.6M371.1 46.9h.6M365.9 50.2h.6M368.5 64.5h.6M365.2 53.8h.6M369.3 45.6h.6M366.3 59.8h.6M374.3 40.3h.6M372.2 52.7h.6M375.1 59.9h.6M378.4 57.4h.6M366.7 48.5h.6M361.6 59.4h.6M371.2 61.4h.6M370.4 43.2h.6M366.7 53.1h.6M369.5 61.0h.6M375.7 57.2h.6M362.8 56.9h.6M367.6 63.8h.6M374.0 51.4h.6M373.4 55.1h.6M371.0 65.6h.6" stroke="#000" stroke-width=".6" opacity="0.3"/>
<ellipse cx="369.2" cy="42" rx="6.5" ry="3" fill="#000" opacity="0.45" filter="url(#b15)"/>
<path d="M361.2 26L377.2 26L376.7 31L374.2 36L372.2 38.8L367.2 39.2L364.2 36L361.7 31Z" fill="#000" opacity="1" filter="url(#b1)"/>
<path d="M362.7 46.5L367.7 44.3L372.7 44.3L375.7 46.5L376.9 52L376.9 60L376.2 68L360.2 68L360.7 57L361.5 50Z" fill="#000" opacity="1" filter="url(#b1)"/>
<ellipse cx="377.7" cy="57" rx="2" ry="8" fill="#000" opacity="0.3" filter="url(#b15)"/>
<ellipse cx="377.2" cy="33" rx="2" ry="4" fill="#000" opacity="0.3" filter="url(#b15)"/>
<ellipse cx="386.7" cy="30.2" rx="1.6" ry="1.4" fill="#000" opacity="0.45" filter="url(#b08)"/>
</g>
<rect x="359.7" y="27" width="43.6" height="39.9" fill="none" stroke="#777" stroke-width="0.5"/>
<line x1="382.2" y1="27" x2="382.2" y2="66.9" stroke="#888" stroke-width="0.5"/>
<line x1="359.7" y1="42.4" x2="403.3" y2="42.4" stroke="#888" stroke-width="0.5"/>
<rect x="360.5" y="28" width="8" height="3.5" fill="#fff" stroke="#333" stroke-width="0.3"/>
<text x="364.5" y="30.8" font-size="3" text-anchor="middle" font-weight="bold" fill="#000" stroke="#000" stroke-width="0.1">20.1</text>
<rect x="360.5" y="62.400000000000006" width="8" height="3.5" fill="#fff" stroke="#333" stroke-width="0.3"/>
<text x="364.5" y="65.2" font-size="3" text-anchor="middle" font-weight="bold" fill="#000" stroke="#000" stroke-width="0.1">80.0</text>
<text x="402.3" y="31" font-size="3" text-anchor="end" fill="#222" stroke="#222" stroke-width="0.08">0.08</text>
<text x="402.3" y="65.4" font-size="3" text-anchor="end" fill="#222" stroke="#222" stroke-width="0.08">0.00</text>
<text x="409.3" y="31.099999999999998" font-size="2.5" text-anchor="end" fill="#555" stroke="#555" stroke-width="0.08">10⁴</text>
<text x="409.3" y="40.0" font-size="2.5" text-anchor="end" fill="#555" stroke="#555" stroke-width="0.08">10³</text>
<text x="409.3" y="49.3" font-size="2.5" text-anchor="end" fill="#555" stroke="#555" stroke-width="0.08">10²</text>
<text x="409.3" y="59.199999999999996" font-size="2.5" text-anchor="end" fill="#555" stroke="#555" stroke-width="0.08">10¹</text>
<text x="409.3" y="63.699999999999996" font-size="2.5" text-anchor="end" fill="#555" stroke="#555" stroke-width="0.08">0</text>
<text x="414.3" y="70.6" font-size="2.5" text-anchor="middle" fill="#555" stroke="#555" stroke-width="0.08">0</text>
<text x="420.3" y="70.6" font-size="2.5" text-anchor="middle" fill="#555" stroke="#555" stroke-width="0.08">10¹</text>
<text x="433.3" y="70.6" font-size="2.5" text-anchor="middle" fill="#555" stroke="#555" stroke-width="0.08">10²</text>
<text x="443.3" y="70.6" font-size="2.5" text-anchor="middle" fill="#555" stroke="#555" stroke-width="0.08">10³</text>
<text x="452.3" y="70.6" font-size="2.5" text-anchor="middle" fill="#555" stroke="#555" stroke-width="0.08">10⁴</text>
<clipPath id="c8"><rect x="411.3" y="27" width="44.7" height="40.3"/></clipPath><g clip-path="url(#c8)">
<path d="M417.4 36.7h.6M429.3 33.3h.6M423.5 37.7h.6M420.7 30.6h.6M419.4 32.2h.6M427.3 38.2h.6M425.6 31.2h.6M424.7 37.7h.6M427.2 33.5h.6M426.1 43.7h.6M430.5 32.4h.6M417.5 29.8h.6M426.8 39.9h.6M424.0 32.8h.6M428.1 44.9h.6M422.3 36.4h.6M427.8 39.5h.6M428.5 35.0h.6M424.0 35.3h.6M420.0 35.5h.6M421.2 39.5h.6M421.2 37.3h.6M418.9 31.0h.6M428.9 32.2h.6M430.6 41.6h.6M412.3 33.9h.6M420.6 37.1h.6M421.7 34.0h.6M428.1 36.4h.6M426.8 33.6h.6M419.4 43.5h.6M421.3 31.6h.6M421.7 42.2h.6M421.8 33.5h.6M425.3 41.8h.6M421.6 35.4h.6M420.9 50.2h.6M421.7 45.5h.6M421.8 39.0h.6M413.5 37.9h.6M422.7 35.5h.6M420.7 30.3h.6M415.9 37.8h.6M419.7 36.6h.6M421.7 34.5h.6M419.3 46.1h.6M417.6 34.5h.6M421.2 31.4h.6M418.2 41.2h.6M426.6 37.6h.6M428.0 33.0h.6M427.3 45.2h.6M420.8 45.8h.6M418.9 31.5h.6M422.3 33.1h.6M425.3 31.6h.6M422.9 27.4h.6M422.4 42.1h.6M421.3 38.5h.6M427.4 31.6h.6M416.9 37.4h.6M423.7 35.7h.6M418.2 42.9h.6M417.3 35.7h.6M422.3 40.5h.6M420.5 33.0h.6M431.5 32.9h.6M426.1 36.3h.6M420.4 36.8h.6M421.4 38.5h.6M422.8 32.3h.6M420.8 48.4h.6M430.7 40.1h.6M423.5 35.5h.6M428.7 34.8h.6M418.9 40.4h.6M418.2 33.1h.6M428.9 29.2h.6M422.2 37.6h.6M423.7 29.9h.6M421.5 35.4h.6M431.1 41.9h.6M419.2 41.3h.6M425.4 36.5h.6M421.4 35.7h.6M415.7 33.9h.6M426.7 44.1h.6M430.8 35.2h.6M421.3 30.8h.6M426.2 28.9h.6M417.9 31.6h.6M424.3 41.1h.6M418.4 45.8h.6M423.2 32.9h.6M424.1 36.9h.6M426.2 38.7h.6M432.2 42.7h.6M419.7 40.8h.6M425.9 32.1h.6M419.2 33.1h.6M411.6 40.1h.6M421.6 43.0h.6M420.0 37.4h.6M425.7 41.7h.6M423.9 31.9h.6M432.3 41.2h.6M428.6 44.9h.6M428.8 39.0h.6M424.6 40.1h.6M415.8 41.0h.6M418.2 39.1h.6M418.0 40.5h.6M420.4 49.1h.6M423.4 39.5h.6M418.5 35.6h.6M422.3 35.6h.6M420.6 32.7h.6M425.9 35.1h.6M418.9 38.8h.6M418.9 36.2h.6M420.3 32.5h.6M421.5 33.0h.6M417.0 38.7h.6M421.2 29.9h.6M420.8 37.9h.6M424.4 38.8h.6M423.7 39.9h.6M420.3 33.1h.6M425.3 35.0h.6M422.6 40.2h.6M426.7 43.0h.6M419.5 35.2h.6M425.0 30.0h.6M417.0 40.0h.6M419.8 32.5h.6M426.1 39.6h.6M426.6 35.4h.6M421.3 35.4h.6M423.9 27.1h.6M419.5 40.5h.6M419.1 36.7h.6M423.1 39.5h.6M420.4 31.5h.6M430.1 28.5h.6M423.0 36.1h.6M430.9 46.9h.6M426.9 32.1h.6M419.0 33.3h.6M420.3 38.3h.6M419.1 35.8h.6M429.1 44.0h.6M414.3 32.4h.6M420.9 43.3h.6M421.1 46.3h.6M424.2 44.0h.6M418.7 35.5h.6M427.1 39.8h.6M414.3 35.7h.6M423.3 40.1h.6M419.7 45.5h.6M423.2 44.0h.6M424.3 37.4h.6M421.1 31.3h.6M426.4 40.7h.6M426.7 35.2h.6M418.1 35.2h.6M421.2 36.9h.6M426.9 32.6h.6M420.4 40.4h.6M426.5 47.7h.6M424.9 32.9h.6M418.0 33.2h.6M422.9 38.2h.6M422.3 34.0h.6M421.7 36.6h.6M425.2 37.4h.6M419.0 31.3h.6M429.1 36.6h.6M421.8 36.9h.6M427.5 35.5h.6M423.3 35.9h.6M425.1 32.1h.6M423.5 42.0h.6M427.8 40.0h.6M423.9 44.6h.6M425.7 43.8h.6M417.3 31.7h.6M426.1 35.7h.6M420.6 32.4h.6M429.1 31.2h.6M423.0 30.3h.6M421.8 47.9h.6M433.3 34.6h.6M418.1 44.9h.6M418.8 28.4h.6M424.1 31.8h.6M416.2 42.5h.6M419.3 31.9h.6M423.3 36.1h.6M427.5 37.5h.6M429.6 42.5h.6M430.4 42.4h.6M422.9 39.6h.6M422.7 29.5h.6M417.4 40.6h.6M412.1 33.0h.6M416.9 36.7h.6M418.0 38.2h.6M421.7 34.7h.6M422.9 30.8h.6M421.3 38.8h.6M427.2 40.4h.6M429.1 30.1h.6M425.5 44.6h.6M424.3 31.6h.6M424.3 34.5h.6M419.7 42.2h.6M421.8 31.6h.6M419.6 46.5h.6M418.8 40.3h.6M423.4 42.7h.6M421.3 32.4h.6M419.7 32.0h.6M421.2 43.1h.6M425.5 36.1h.6M425.3 38.3h.6M427.5 45.0h.6M421.2 36.8h.6M421.8 42.9h.6M424.3 40.8h.6M426.5 33.9h.6M423.1 43.7h.6M426.6 40.9h.6M421.3 35.3h.6M418.8 35.7h.6M422.3 30.1h.6M427.7 33.3h.6M423.7 39.9h.6M420.1 28.3h.6M426.8 39.0h.6M421.5 42.5h.6M426.5 32.4h.6M422.2 28.5h.6M421.4 43.8h.6M418.9 41.0h.6M415.9 35.6h.6M426.7 45.3h.6M424.6 40.7h.6M415.1 46.2h.6M433.4 39.9h.6M422.9 38.3h.6M422.7 34.0h.6M422.5 36.4h.6M425.5 40.3h.6M426.9 39.9h.6M418.3 43.7h.6M424.0 34.5h.6M430.8 31.7h.6M417.4 34.6h.6M424.4 40.9h.6M423.1 40.2h.6M419.5 34.1h.6M423.1 30.5h.6M423.4 35.1h.6M425.6 32.1h.6M420.3 34.3h.6M421.0 32.2h.6M421.4 30.5h.6M424.9 40.3h.6M422.5 36.1h.6M418.7 32.4h.6M421.6 32.6h.6M417.4 37.8h.6M422.5 35.1h.6M419.0 36.8h.6M419.5 34.9h.6M423.4 40.5h.6M425.9 34.1h.6M427.9 31.4h.6M421.8 43.3h.6M432.9 37.6h.6M421.0 35.2h.6M417.3 36.3h.6M420.7 33.4h.6M427.8 33.3h.6M430.0 41.1h.6M425.4 34.2h.6M420.4 27.4h.6M423.8 35.7h.6M424.3 33.8h.6M424.7 29.8h.6M413.0 39.3h.6" stroke="#000" stroke-width=".6" opacity="0.3"/>
<path d="M427.8 30.7h.6M428.8 52.3h.6M421.8 43.1h.6M417.7 60.5h.6M419.0 54.7h.6M426.9 44.8h.6M420.3 46.1h.6M415.9 49.7h.6M427.9 55.4h.6M425.8 54.0h.6M420.5 55.7h.6M431.3 57.9h.6M425.5 39.6h.6M418.7 61.3h.6M428.5 51.9h.6M421.5 51.5h.6M426.4 55.2h.6M429.8 64.2h.6M421.1 50.3h.6M421.4 48.2h.6M420.5 54.5h.6M426.9 42.8h.6M415.8 49.0h.6M421.1 58.5h.6M418.8 66.7h.6M420.0 53.3h.6M422.8 64.1h.6M424.0 55.2h.6M420.0 56.3h.6M424.5 52.3h.6M422.5 40.8h.6M420.0 64.2h.6M429.4 54.4h.6M420.6 62.8h.6M419.6 65.6h.6M428.1 46.8h.6M421.5 45.6h.6M423.9 51.9h.6M415.3 46.9h.6M423.7 43.2h.6M427.8 58.5h.6M421.7 65.9h.6M418.1 60.3h.6M416.0 52.5h.6M425.6 50.9h.6M422.0 60.0h.6M429.9 65.1h.6M424.8 53.0h.6M431.6 38.3h.6M426.7 54.7h.6M426.0 57.5h.6M421.6 55.0h.6M422.4 64.1h.6M421.3 50.8h.6M425.7 60.0h.6M424.6 57.2h.6M429.6 63.7h.6M423.6 53.4h.6M425.7 40.5h.6M420.0 49.5h.6M423.4 52.0h.6M434.4 60.7h.6M422.5 52.5h.6M428.5 61.4h.6M427.0 64.4h.6M420.8 49.9h.6M419.1 55.8h.6M427.4 46.8h.6M420.0 44.6h.6M432.2 61.2h.6M423.6 45.5h.6M417.6 50.0h.6M422.7 45.1h.6M421.5 64.5h.6M422.6 55.8h.6M412.5 52.9h.6M421.8 49.6h.6M415.9 54.4h.6M417.6 50.8h.6M414.9 54.3h.6M426.9 48.5h.6M424.1 43.2h.6M425.3 59.2h.6M420.7 61.9h.6M418.3 55.4h.6M430.6 54.8h.6M417.1 64.0h.6M425.1 52.8h.6M413.8 40.3h.6M415.2 66.6h.6M424.0 48.4h.6M428.1 66.4h.6M418.5 58.8h.6M414.6 57.9h.6M431.3 44.0h.6M422.8 50.1h.6M422.1 55.7h.6M423.9 61.9h.6M425.0 63.2h.6M427.4 63.6h.6M419.3 58.2h.6M420.8 48.4h.6M431.9 57.3h.6M422.8 38.6h.6M421.4 61.0h.6M421.6 50.8h.6M429.6 52.6h.6M420.9 54.2h.6M421.4 63.2h.6M425.3 54.5h.6M420.8 53.2h.6M430.7 52.6h.6M425.7 42.7h.6M424.1 60.4h.6M428.6 57.5h.6M425.3 57.5h.6M423.5 48.6h.6M425.4 54.1h.6M425.6 61.1h.6M423.3 51.6h.6M424.0 45.3h.6M423.9 48.1h.6M424.7 56.0h.6M421.5 45.6h.6M422.8 49.7h.6M421.9 60.4h.6M427.1 44.9h.6M427.0 65.6h.6M427.9 57.2h.6M421.0 43.1h.6M423.0 57.2h.6M417.6 45.5h.6M432.0 55.9h.6M426.3 50.4h.6M415.3 53.6h.6M429.0 49.8h.6M414.0 53.7h.6M421.2 55.1h.6M417.6 52.6h.6M419.9 61.9h.6M423.3 61.8h.6M422.3 38.3h.6M413.2 59.2h.6M426.7 61.8h.6M422.2 41.1h.6M420.2 58.2h.6M429.1 52.3h.6M419.9 49.0h.6M427.4 61.8h.6M413.8 64.5h.6M418.1 43.5h.6M414.9 49.3h.6M416.6 49.8h.6M423.3 58.2h.6M420.3 42.6h.6M420.6 49.7h.6M414.0 56.1h.6M415.5 41.4h.6M429.8 62.3h.6M429.5 55.9h.6M420.6 54.3h.6M416.0 60.8h.6M423.8 52.6h.6M413.6 54.1h.6M430.3 66.3h.6M426.7 52.3h.6M423.2 59.3h.6M423.5 63.2h.6M419.4 36.9h.6M415.9 60.2h.6M427.7 55.0h.6M425.1 55.6h.6M423.4 51.3h.6M420.6 64.3h.6M421.3 54.7h.6M428.3 62.7h.6M420.7 57.0h.6M417.7 56.0h.6M424.1 55.0h.6M423.3 57.9h.6M422.9 51.2h.6M417.9 53.1h.6M430.3 53.2h.6M419.4 51.3h.6M416.9 58.8h.6M417.8 62.1h.6M426.9 59.5h.6M427.5 54.3h.6M414.1 54.5h.6M425.6 42.9h.6M416.7 63.6h.6M424.7 65.5h.6M425.8 55.5h.6M424.6 61.6h.6M422.4 53.4h.6M424.1 52.5h.6M434.1 49.0h.6M415.3 44.9h.6M427.6 51.8h.6M423.3 53.3h.6M423.9 43.7h.6M423.0 50.5h.6M427.8 59.9h.6M416.5 47.4h.6M425.3 64.4h.6M426.2 53.8h.6M427.9 36.6h.6M420.0 47.4h.6M417.6 59.4h.6M423.9 57.2h.6M421.9 59.9h.6M426.3 50.5h.6M427.1 47.7h.6M431.0 44.8h.6M421.2 46.5h.6M422.8 65.3h.6M429.4 58.0h.6M419.7 62.1h.6M427.2 54.7h.6M416.1 53.3h.6M414.1 56.2h.6M428.7 49.7h.6M420.4 45.5h.6M426.3 61.5h.6M425.4 56.9h.6M427.4 54.0h.6M426.0 61.4h.6M428.9 59.0h.6M423.0 60.6h.6M415.1 41.2h.6M430.4 56.1h.6M417.5 50.4h.6M421.8 55.6h.6M418.9 62.8h.6M425.8 41.8h.6M416.6 55.5h.6M423.9 51.7h.6M422.6 56.3h.6M417.0 55.5h.6M433.6 49.9h.6M417.6 60.2h.6M429.1 63.2h.6M419.5 54.4h.6M423.6 53.4h.6M424.5 63.5h.6M425.2 54.9h.6M426.2 55.7h.6M428.5 62.2h.6M432.7 40.9h.6M423.1 52.6h.6M419.0 55.6h.6M425.2 59.1h.6M421.9 44.6h.6M425.3 59.8h.6M432.9 62.4h.6M422.6 46.0h.6M423.5 60.9h.6M425.0 65.5h.6M417.5 49.6h.6M423.4 45.3h.6M419.6 65.9h.6M424.0 54.2h.6M419.8 55.4h.6M422.4 46.5h.6M426.4 44.9h.6M428.9 52.3h.6M411.3 42.8h.6M424.0 48.1h.6M431.5 65.9h.6M432.9 62.1h.6M429.2 50.2h.6M429.0 51.5h.6M422.3 44.2h.6M422.8 58.2h.6M422.3 46.2h.6M427.0 62.2h.6M422.1 61.2h.6M427.4 47.2h.6M422.4 40.3h.6M417.4 58.4h.6M418.2 58.1h.6M424.4 38.6h.6M420.2 67.0h.6M422.6 56.0h.6M419.1 42.3h.6M421.6 48.1h.6M423.1 39.6h.6M418.8 57.6h.6M418.1 61.8h.6M418.4 53.9h.6M429.1 59.2h.6M420.9 42.9h.6M414.6 64.6h.6M425.1 55.5h.6M428.8 56.2h.6M418.9 54.2h.6M422.1 54.9h.6M423.9 53.0h.6M419.2 47.1h.6M413.2 51.3h.6M415.0 40.2h.6M417.9 38.8h.6M429.4 64.9h.6M425.9 34.9h.6M422.7 47.0h.6M413.9 52.9h.6M428.3 58.5h.6M415.3 49.7h.6M418.8 64.1h.6M422.1 47.2h.6M418.0 39.3h.6M418.3 62.2h.6M413.0 56.5h.6M422.0 61.5h.6M416.8 62.3h.6M414.4 54.8h.6M421.5 56.0h.6M417.6 61.9h.6M434.3 67.0h.6M417.8 50.4h.6M426.2 56.1h.6M418.7 64.9h.6M425.1 63.2h.6M421.7 65.2h.6M420.2 46.1h.6M422.5 43.8h.6M428.8 60.9h.6M414.1 56.4h.6M426.8 52.1h.6M424.6 50.3h.6M422.2 54.3h.6M425.0 47.2h.6M416.9 57.6h.6M420.0 59.2h.6M420.0 44.5h.6M426.2 57.1h.6M426.2 52.3h.6M420.7 65.1h.6M425.1 54.5h.6M423.0 59.8h.6M418.7 57.2h.6M417.7 40.2h.6M423.5 55.8h.6M425.8 59.5h.6M426.0 61.3h.6M417.2 64.8h.6M416.2 60.5h.6M427.1 63.1h.6M430.2 43.9h.6M424.4 58.7h.6M428.8 47.8h.6M422.6 52.0h.6M421.7 53.8h.6M421.8 40.8h.6M422.3 55.5h.6M419.0 49.8h.6M427.2 53.5h.6M417.6 58.8h.6M419.5 66.9h.6M428.1 54.0h.6M425.6 48.6h.6M414.6 61.8h.6M430.7 52.6h.6M419.9 40.6h.6M433.3 45.4h.6M417.6 53.4h.6" stroke="#000" stroke-width=".6" opacity="0.3"/>
<ellipse cx="423.0" cy="42" rx="6.5" ry="3" fill="#000" opacity="0.45" filter="url(#b15)"/>
<path d="M415.0 26L431.0 26L430.5 31L428.0 36L426.0 38.8L421.0 39.2L418.0 36L415.5 31Z" fill="#000" opacity="1" filter="url(#b1)"/>
<path d="M416.5 46.5L421.5 44.3L426.5 44.3L429.5 46.5L430.7 52L430.7 60L430.0 68L414.0 68L414.5 57L415.3 50Z" fill="#000" opacity="1" filter="url(#b1)"/>
<ellipse cx="431.5" cy="57" rx="2" ry="8" fill="#000" opacity="0.3" filter="url(#b15)"/>
<ellipse cx="431.0" cy="33" rx="2" ry="4" fill="#000" opacity="0.3" filter="url(#b15)"/>
<ellipse cx="440.8" cy="31.5" rx="1.3" ry="2" fill="#000" opacity="0.2" filter="url(#b08)"/>
<ellipse cx="441.3" cy="50" rx="1.2" ry="5.5" fill="#000" opacity="0.15" filter="url(#b08)"/>
<path d="M443.1 50.3h.6M441.3 50.1h.6M442.6 49.8h.6M441.5 49.6h.6M439.6 56.7h.6M440.3 43.4h.6M440.6 50.2h.6M442.5 42.6h.6M439.4 50.9h.6M441.9 44.5h.6M439.6 50.9h.6M441.1 41.9h.6M440.0 57.5h.6M439.7 55.3h.6M439.0 57.5h.6M443.7 46.8h.6M440.3 53.2h.6M439.4 52.8h.6M443.1 51.3h.6M441.8 49.2h.6M442.8 45.9h.6M443.7 49.9h.6M440.8 41.8h.6M440.6 51.2h.6M443.2 41.9h.6M441.1 46.6h.6M439.5 50.0h.6M440.2 54.4h.6M437.2 53.7h.6M438.4 40.2h.6M442.1 48.3h.6M441.5 45.1h.6M439.7 46.3h.6M441.2 45.8h.6M440.7 45.7h.6M441.7 44.3h.6M438.2 36.8h.6M441.3 50.5h.6M442.8 46.3h.6M439.6 42.5h.6" stroke="#000" stroke-width=".6" opacity="0.2"/>
</g>
<rect x="411.3" y="27" width="44.7" height="40.3" fill="none" stroke="#777" stroke-width="0.5"/>
<line x1="435.5" y1="27" x2="435.5" y2="67.3" stroke="#888" stroke-width="0.5"/>
<line x1="411.3" y1="41.7" x2="456.0" y2="41.7" stroke="#888" stroke-width="0.5"/>
<rect x="412.1" y="28" width="8" height="3.5" fill="#fff" stroke="#333" stroke-width="0.3"/>
<text x="416.1" y="30.8" font-size="3" text-anchor="middle" font-weight="bold" fill="#000" stroke="#000" stroke-width="0.1">27.1</text>
<rect x="412.1" y="62.8" width="8" height="3.5" fill="#fff" stroke="#333" stroke-width="0.3"/>
<text x="416.1" y="65.6" font-size="3" text-anchor="middle" font-weight="bold" fill="#000" stroke="#000" stroke-width="0.1">72.6</text>
<text x="455.0" y="31" font-size="3" text-anchor="end" fill="#222" stroke="#222" stroke-width="0.08">0.08</text>
<text x="455.0" y="65.8" font-size="3" text-anchor="end" fill="#222" stroke="#222" stroke-width="0.08">0.17</text>
<text x="357.7" y="78.10000000000001" font-size="2.5" text-anchor="end" fill="#555" stroke="#555" stroke-width="0.08">10⁴</text>
<text x="357.7" y="87.0" font-size="2.5" text-anchor="end" fill="#555" stroke="#555" stroke-width="0.08">10³</text>
<text x="357.7" y="96.30000000000001" font-size="2.5" text-anchor="end" fill="#555" stroke="#555" stroke-width="0.08">10²</text>
<text x="357.7" y="106.2" font-size="2.5" text-anchor="end" fill="#555" stroke="#555" stroke-width="0.08">10¹</text>
<text x="357.7" y="110.7" font-size="2.5" text-anchor="end" fill="#555" stroke="#555" stroke-width="0.08">0</text>
<text x="362.7" y="116.8" font-size="2.5" text-anchor="middle" fill="#555" stroke="#555" stroke-width="0.08">0</text>
<text x="368.7" y="116.8" font-size="2.5" text-anchor="middle" fill="#555" stroke="#555" stroke-width="0.08">10¹</text>
<text x="381.7" y="116.8" font-size="2.5" text-anchor="middle" fill="#555" stroke="#555" stroke-width="0.08">10²</text>
<text x="391.7" y="116.8" font-size="2.5" text-anchor="middle" fill="#555" stroke="#555" stroke-width="0.08">10³</text>
<text x="400.7" y="116.8" font-size="2.5" text-anchor="middle" fill="#555" stroke="#555" stroke-width="0.08">10⁴</text>
<clipPath id="c9"><rect x="359.7" y="74" width="43.6" height="39.5"/></clipPath><g clip-path="url(#c9)">
<path d="M373.9 92.4h.6M375.2 97.3h.6M368.2 81.2h.6M366.0 105.1h.6M366.3 104.1h.6M360.6 107.2h.6M371.5 86.8h.6M366.8 92.1h.6M370.7 79.8h.6M364.9 105.2h.6M370.5 104.7h.6M374.4 87.7h.6M362.3 102.2h.6M369.9 98.7h.6M365.2 107.2h.6M372.4 108.3h.6M367.7 104.3h.6M369.4 89.5h.6M369.3 83.0h.6M368.7 99.6h.6M373.5 88.5h.6M362.4 91.4h.6M365.5 91.9h.6M379.5 87.5h.6M369.1 97.3h.6M365.7 91.5h.6M360.4 90.4h.6M376.9 110.8h.6M368.1 104.4h.6M372.2 99.0h.6M368.9 109.0h.6M372.8 96.0h.6M368.4 106.4h.6M366.4 91.5h.6M368.2 93.5h.6M376.7 101.2h.6M369.2 93.2h.6M377.5 102.0h.6M381.2 106.2h.6M368.5 93.0h.6M368.1 99.6h.6M374.1 102.4h.6M378.4 84.3h.6M369.9 85.2h.6M364.0 92.6h.6M366.1 89.2h.6M361.3 108.3h.6M367.9 106.7h.6M363.6 77.1h.6M366.4 105.9h.6M366.6 101.6h.6M363.8 110.6h.6M372.1 107.5h.6M368.2 109.6h.6M370.1 93.6h.6M366.2 98.5h.6M364.7 87.2h.6M370.4 104.4h.6M368.1 105.6h.6M378.4 86.6h.6M371.1 89.3h.6M366.1 99.6h.6M374.3 102.9h.6M367.7 107.9h.6M377.7 102.4h.6M359.9 96.6h.6M368.1 83.4h.6M369.4 104.8h.6M368.3 96.4h.6M377.8 92.4h.6M364.5 98.3h.6M375.9 103.3h.6M370.1 93.5h.6M376.5 106.0h.6M360.1 101.0h.6M373.1 92.3h.6M362.6 95.3h.6M360.0 103.1h.6M366.9 82.0h.6M369.6 108.7h.6M362.7 94.8h.6M379.7 99.7h.6M366.6 99.7h.6M374.0 88.9h.6M369.2 83.3h.6M361.0 84.1h.6M374.3 100.8h.6M373.7 109.0h.6M370.0 100.1h.6M371.9 102.2h.6M363.8 95.5h.6M368.9 98.3h.6M365.6 96.8h.6M371.3 99.7h.6M372.9 105.4h.6M372.8 106.7h.6M374.3 110.6h.6M373.2 92.4h.6M376.6 104.6h.6M370.0 87.7h.6M372.1 94.8h.6M367.5 78.7h.6M378.2 87.5h.6M363.6 102.2h.6M372.8 90.8h.6M369.7 100.3h.6M370.6 102.7h.6M374.0 94.7h.6M367.6 89.1h.6M373.8 103.3h.6M369.5 100.8h.6M371.5 95.9h.6M371.5 86.2h.6M374.5 94.3h.6M366.5 84.4h.6M369.0 96.4h.6M366.2 83.9h.6M370.6 101.8h.6M376.0 102.6h.6M378.1 108.8h.6M369.1 88.5h.6M372.1 106.7h.6M361.1 86.8h.6M373.5 93.0h.6M377.7 99.9h.6M366.7 86.0h.6M373.0 82.5h.6M362.5 86.1h.6M379.1 113.4h.6M368.5 94.5h.6M373.6 109.2h.6M368.6 108.2h.6M368.5 86.5h.6M380.5 91.8h.6M369.7 86.7h.6M373.4 99.7h.6M368.1 94.4h.6M366.5 91.5h.6M361.9 108.9h.6M374.6 85.4h.6M363.3 101.7h.6M368.0 95.7h.6M371.1 96.4h.6M375.7 106.9h.6M372.7 112.2h.6M368.4 93.0h.6M361.1 76.7h.6M371.7 88.3h.6M375.6 79.0h.6M368.9 94.5h.6M363.7 108.1h.6M367.5 102.1h.6M366.8 99.3h.6M367.2 98.7h.6M369.1 91.8h.6M372.1 96.3h.6M364.3 88.5h.6M372.1 110.0h.6M362.5 94.2h.6M372.2 107.4h.6M373.6 87.3h.6M369.9 106.1h.6M371.0 96.0h.6M363.2 99.5h.6M369.3 98.3h.6M378.0 108.7h.6M365.3 100.1h.6M368.0 98.9h.6M378.7 106.3h.6M369.9 92.0h.6M368.8 101.3h.6M366.9 107.9h.6M369.8 87.3h.6M368.2 96.9h.6M375.2 108.1h.6M377.7 112.1h.6M371.4 99.0h.6M375.3 97.8h.6M362.7 93.9h.6M373.4 103.5h.6M363.6 108.8h.6M371.4 84.4h.6M372.3 107.1h.6M372.6 95.2h.6M365.3 108.1h.6M370.9 97.9h.6M367.5 88.7h.6M375.8 104.9h.6M365.9 111.8h.6M368.4 88.9h.6M375.1 110.5h.6M367.5 87.0h.6M369.3 76.1h.6M370.0 111.8h.6M371.2 91.4h.6M373.6 93.5h.6M376.7 94.8h.6M381.0 94.8h.6M370.8 89.5h.6M362.6 101.1h.6M371.6 89.2h.6M372.8 94.3h.6M366.6 97.3h.6M371.9 104.6h.6M376.5 101.4h.6M365.7 91.8h.6M371.7 87.2h.6M368.8 94.5h.6M369.2 99.6h.6M375.4 112.8h.6M374.6 107.1h.6M363.8 107.4h.6M376.9 85.8h.6M370.1 90.8h.6M366.5 107.7h.6M371.1 94.6h.6M376.1 89.5h.6M365.0 92.9h.6M365.6 104.2h.6M368.4 88.5h.6M367.2 80.1h.6M370.6 98.9h.6M373.1 95.9h.6M371.9 89.6h.6M369.8 99.4h.6M363.0 103.3h.6M370.5 98.5h.6M369.7 91.1h.6M365.0 103.3h.6M368.5 90.9h.6M365.7 106.4h.6M370.2 107.5h.6M369.6 87.3h.6M374.5 100.9h.6M366.1 95.2h.6M364.3 105.5h.6M367.4 102.3h.6M371.1 95.7h.6M371.7 95.8h.6M363.2 94.2h.6M363.2 104.8h.6M373.3 92.7h.6M373.1 100.2h.6M375.1 89.6h.6M369.8 89.1h.6M365.9 110.3h.6M372.4 105.0h.6M365.4 79.7h.6M360.2 101.3h.6M375.8 106.2h.6M365.7 110.2h.6M368.7 103.5h.6M368.6 112.3h.6M366.8 78.7h.6M368.0 99.7h.6M371.2 91.5h.6M368.4 87.8h.6M368.4 98.8h.6M371.0 112.8h.6M372.1 87.6h.6M370.1 97.9h.6M364.2 104.5h.6M380.2 104.1h.6M374.0 107.6h.6M369.0 106.7h.6M365.3 99.6h.6M373.6 109.7h.6M368.1 95.4h.6M372.3 97.3h.6M370.5 105.2h.6M365.5 105.9h.6M371.8 95.6h.6M362.8 92.3h.6M369.5 106.4h.6M370.8 87.9h.6M374.4 101.6h.6M372.1 89.2h.6M363.6 106.1h.6M377.4 101.3h.6M368.6 94.0h.6M360.3 106.8h.6M369.2 109.0h.6M365.8 107.4h.6M365.8 103.2h.6M377.2 91.7h.6M374.7 97.9h.6M364.6 99.8h.6M373.2 91.6h.6M368.2 92.9h.6M365.5 96.1h.6M374.2 93.6h.6M376.5 94.6h.6M365.9 107.6h.6M377.4 92.2h.6M372.9 87.6h.6M367.5 94.7h.6M373.6 86.8h.6M366.9 91.8h.6M370.2 87.0h.6M370.9 84.6h.6M374.2 86.3h.6M376.5 90.5h.6M363.8 102.2h.6M380.8 103.3h.6M373.3 87.4h.6M360.0 101.4h.6M375.2 99.2h.6M369.7 110.3h.6M365.1 107.8h.6M374.2 92.4h.6M370.4 99.0h.6M372.9 89.3h.6M368.4 98.8h.6M369.9 98.2h.6M371.1 96.3h.6M367.0 107.2h.6M366.2 95.2h.6M364.9 87.8h.6M372.1 97.6h.6M369.0 102.0h.6M368.8 104.0h.6M379.5 101.1h.6M368.3 112.7h.6M373.5 83.2h.6M376.9 99.9h.6M374.3 87.8h.6M365.1 92.2h.6M372.7 88.0h.6M365.9 106.4h.6M366.2 99.0h.6M364.8 82.9h.6M369.2 96.9h.6M361.9 106.6h.6M374.1 105.8h.6M366.9 87.8h.6M369.2 99.5h.6M368.8 92.8h.6M364.3 91.5h.6M369.2 93.7h.6M378.7 95.6h.6M372.1 93.9h.6M368.7 89.4h.6M367.1 84.7h.6M364.0 101.8h.6M369.0 93.0h.6M373.6 93.1h.6M372.0 94.7h.6M374.9 106.4h.6M370.0 107.7h.6M372.4 111.7h.6M369.0 84.3h.6M370.8 100.1h.6M367.7 96.2h.6M368.2 86.9h.6M379.0 91.1h.6M363.9 84.0h.6M365.1 97.6h.6M377.6 103.3h.6M365.8 87.0h.6M363.7 97.3h.6M374.4 93.7h.6M370.5 78.9h.6M375.6 97.1h.6M373.3 106.7h.6M364.3 98.6h.6M370.6 91.3h.6M373.4 96.8h.6M370.6 112.4h.6M368.9 107.1h.6M365.6 99.3h.6M375.5 78.8h.6M372.6 95.6h.6M375.5 99.6h.6M369.3 86.7h.6M367.9 91.6h.6M368.1 99.9h.6M362.5 107.3h.6M368.3 103.3h.6M368.1 94.6h.6M366.1 100.7h.6M371.9 89.3h.6M368.0 107.4h.6M374.4 97.1h.6M362.0 94.8h.6M365.8 108.9h.6M360.6 106.0h.6M361.4 92.9h.6M362.1 91.8h.6M367.3 101.2h.6M366.5 104.0h.6M379.1 99.4h.6M363.5 96.4h.6M369.1 94.8h.6M375.9 108.2h.6M380.4 102.6h.6M373.3 90.9h.6M366.4 106.0h.6M370.4 88.1h.6M369.7 87.2h.6M369.4 87.5h.6M364.7 93.4h.6M363.3 93.2h.6M375.4 105.0h.6M373.4 95.1h.6M370.4 91.2h.6M368.7 90.9h.6M361.9 89.2h.6M380.0 101.5h.6M365.6 97.0h.6M367.2 108.7h.6M369.5 92.4h.6M373.3 100.8h.6M366.0 91.2h.6M370.4 83.5h.6M364.8 106.9h.6M374.3 107.8h.6M367.3 92.7h.6M368.2 93.7h.6M376.5 96.0h.6M376.9 91.7h.6M371.7 112.3h.6M365.7 92.2h.6M366.4 83.8h.6M368.1 92.3h.6M381.5 93.8h.6M374.8 97.7h.6M371.2 104.3h.6M366.6 98.3h.6M370.4 112.6h.6M377.2 99.4h.6M362.5 105.7h.6M369.4 108.3h.6M369.9 99.6h.6M373.2 91.5h.6M365.0 106.2h.6M373.3 105.2h.6M377.0 86.2h.6M374.8 79.8h.6M369.9 100.9h.6M375.2 107.5h.6M364.6 95.6h.6M368.8 91.8h.6M365.2 92.1h.6M375.8 110.0h.6M373.7 112.8h.6M370.1 88.4h.6M366.1 99.8h.6M375.1 108.7h.6M364.8 106.4h.6M366.8 103.2h.6M374.5 111.0h.6M366.8 100.1h.6M371.9 94.3h.6M370.1 103.2h.6M360.8 92.3h.6M366.6 81.8h.6M364.5 102.5h.6M373.3 101.9h.6M372.8 92.7h.6M378.2 88.1h.6M372.4 95.6h.6M360.5 105.9h.6M368.2 104.2h.6M376.4 99.4h.6M366.1 96.1h.6M369.3 110.7h.6M374.2 112.0h.6M373.7 91.2h.6M374.6 106.5h.6M369.0 102.1h.6M367.9 86.9h.6M369.1 104.7h.6M367.7 78.2h.6M365.3 107.6h.6M370.8 107.9h.6M365.6 94.3h.6M364.3 91.1h.6M372.4 99.2h.6M367.0 100.6h.6M362.6 94.5h.6M361.6 84.7h.6M362.4 88.3h.6M378.1 110.1h.6M376.4 92.9h.6M373.0 88.0h.6M366.7 100.1h.6M361.1 99.7h.6M372.9 79.7h.6M369.0 99.3h.6M363.6 103.0h.6M370.3 91.5h.6M378.4 100.3h.6M367.0 96.0h.6M360.3 96.0h.6M372.6 99.8h.6M362.9 90.4h.6M359.7 85.8h.6M370.2 100.6h.6M364.7 96.1h.6M365.3 103.5h.6M373.0 93.0h.6M367.2 87.1h.6M369.5 105.6h.6M372.7 111.1h.6M367.9 90.0h.6M375.2 106.2h.6M366.1 107.7h.6M369.5 97.6h.6M379.5 102.7h.6M371.3 95.2h.6M370.7 107.4h.6M372.1 91.3h.6M372.0 96.9h.6M371.3 96.3h.6M367.5 78.4h.6M373.3 93.9h.6M371.4 78.1h.6M370.9 106.7h.6M370.6 86.3h.6M374.8 93.3h.6M366.5 99.7h.6M372.0 86.9h.6M369.6 98.5h.6M377.3 109.4h.6M364.8 101.2h.6M378.3 89.0h.6M367.7 91.3h.6M372.4 101.6h.6M369.4 103.9h.6M365.4 94.6h.6M369.4 98.5h.6M376.7 98.7h.6M376.6 100.1h.6M375.8 99.6h.6M364.7 90.4h.6M379.6 95.2h.6M365.1 106.3h.6M361.4 106.2h.6M371.6 103.6h.6M363.1 101.4h.6M374.7 97.5h.6M375.1 98.2h.6M371.5 95.2h.6M362.3 96.6h.6M372.3 91.2h.6M376.7 96.0h.6M365.5 109.1h.6M368.7 84.5h.6M367.2 90.1h.6M368.6 89.8h.6M370.0 102.1h.6M366.5 96.2h.6M368.8 105.4h.6M365.7 104.7h.6M376.3 96.3h.6M364.4 95.2h.6M360.1 93.1h.6M363.2 96.5h.6M367.6 102.6h.6M370.2 101.8h.6M369.4 100.5h.6M363.5 103.9h.6M376.6 108.0h.6M362.4 101.8h.6M360.8 104.8h.6M368.5 93.9h.6M365.6 95.9h.6M369.6 89.3h.6M369.9 100.3h.6M372.5 97.6h.6M375.1 100.9h.6M362.1 103.6h.6M372.7 74.1h.6M368.7 101.4h.6M369.8 98.9h.6M368.8 110.4h.6M371.7 95.5h.6M365.0 93.3h.6M371.4 99.3h.6M371.3 110.2h.6M375.8 101.8h.6M369.9 97.4h.6M368.4 107.0h.6M362.8 88.7h.6M367.2 89.3h.6M365.6 108.7h.6M362.5 95.8h.6M366.5 89.1h.6M361.6 98.6h.6M367.5 107.9h.6M379.7 95.4h.6M365.3 95.4h.6M372.2 106.4h.6M364.5 102.3h.6M369.5 108.3h.6M367.4 96.1h.6M365.0 86.1h.6M371.1 104.4h.6M375.7 100.4h.6M367.1 89.7h.6M363.3 91.5h.6M371.5 98.8h.6M368.1 88.6h.6M369.5 102.8h.6M364.0 85.8h.6M367.9 100.4h.6M368.2 111.9h.6M370.4 89.0h.6M373.9 92.2h.6M373.4 98.9h.6M376.3 89.0h.6M373.6 101.8h.6M364.7 104.3h.6M365.5 96.6h.6M376.7 100.3h.6M377.7 92.1h.6M376.8 83.8h.6M368.7 95.3h.6M367.0 109.0h.6M366.4 101.2h.6M379.7 105.4h.6M367.4 91.4h.6M374.5 108.0h.6M373.9 77.2h.6M364.8 105.2h.6M367.5 105.5h.6M361.6 98.9h.6M374.6 92.8h.6M378.3 90.1h.6M368.6 106.3h.6M368.5 93.0h.6M369.6 103.9h.6M379.1 110.2h.6M379.9 97.7h.6M360.6 97.6h.6M367.4 89.0h.6M366.8 97.4h.6M370.0 106.3h.6M364.7 108.3h.6M369.9 104.6h.6M376.5 86.9h.6M378.4 91.5h.6M371.9 107.8h.6M374.7 83.9h.6M370.6 108.2h.6M369.0 97.3h.6M370.1 112.8h.6M366.7 89.5h.6M363.6 93.2h.6M368.4 101.1h.6M369.2 82.5h.6M361.1 104.1h.6M373.6 85.8h.6M374.8 76.1h.6M360.6 102.6h.6M369.5 93.9h.6M367.7 96.0h.6M369.1 89.9h.6M366.6 103.0h.6M372.6 86.0h.6M367.0 112.1h.6M373.6 112.9h.6M362.3 88.6h.6M367.6 88.5h.6M363.7 91.7h.6M368.7 105.5h.6M372.8 82.2h.6M377.9 95.0h.6M364.2 97.7h.6M367.5 85.5h.6M378.3 92.8h.6M366.4 102.9h.6M378.9 102.4h.6M364.7 102.0h.6M375.8 101.4h.6M373.3 93.7h.6M369.3 82.8h.6M365.7 87.8h.6M369.7 111.5h.6M364.6 97.2h.6M376.1 91.0h.6M365.4 108.9h.6M371.7 102.8h.6M374.3 91.3h.6M370.9 92.1h.6M365.7 99.2h.6M372.1 86.5h.6M365.5 103.5h.6M370.6 104.0h.6M368.0 90.8h.6M374.0 103.4h.6M365.5 104.0h.6M378.4 95.5h.6M364.3 100.3h.6M370.2 103.1h.6M362.0 100.2h.6M374.6 104.3h.6M373.2 108.8h.6M365.1 109.0h.6M370.8 89.0h.6M368.1 100.5h.6M371.5 110.2h.6M370.8 93.4h.6M365.2 106.4h.6M367.4 90.9h.6M363.8 108.7h.6M363.8 98.9h.6M367.2 96.3h.6M365.2 99.4h.6M373.0 107.5h.6M367.7 87.5h.6M361.5 98.1h.6M369.9 99.1h.6M362.0 92.2h.6M365.6 104.1h.6M367.4 103.6h.6M372.5 80.7h.6M368.4 109.4h.6M366.9 99.2h.6M369.0 87.0h.6M373.2 94.0h.6M377.4 108.4h.6M376.2 106.6h.6M373.6 110.6h.6M371.9 99.3h.6M374.2 90.0h.6M370.5 91.7h.6M368.2 89.5h.6M365.1 99.8h.6M370.4 105.6h.6M369.2 103.8h.6M373.5 91.7h.6M360.4 91.9h.6M368.3 93.3h.6M372.3 91.2h.6M373.5 86.7h.6M375.0 99.7h.6M367.5 87.3h.6M378.9 92.9h.6M377.7 76.4h.6M379.5 98.2h.6M375.2 103.6h.6M367.7 99.3h.6M363.4 86.0h.6M370.4 104.7h.6M370.6 87.1h.6M374.4 98.9h.6M373.8 95.5h.6M368.2 107.6h.6M377.3 87.3h.6M363.6 106.8h.6M371.7 98.6h.6M364.3 107.2h.6M370.7 100.1h.6M371.8 93.4h.6M371.9 99.3h.6M373.7 101.5h.6M362.6 91.7h.6M368.2 108.6h.6M366.1 108.3h.6M375.7 106.0h.6M371.5 109.1h.6M371.9 107.0h.6M369.0 110.8h.6M371.6 80.9h.6M375.7 96.4h.6M364.8 95.4h.6M368.1 108.4h.6M371.5 97.5h.6M369.6 90.1h.6M366.2 93.9h.6M368.4 87.7h.6M367.5 107.1h.6M372.2 98.1h.6M371.6 96.0h.6M363.2 106.0h.6M363.0 102.8h.6M367.8 95.6h.6M360.6 97.4h.6M371.9 83.8h.6M368.5 93.7h.6M364.2 103.8h.6M378.8 101.9h.6M375.4 104.9h.6M369.3 103.3h.6M377.0 94.3h.6M368.9 85.8h.6M374.6 101.4h.6M371.1 109.9h.6M359.9 110.5h.6M370.2 105.1h.6M377.3 90.9h.6M364.9 101.7h.6M369.4 92.9h.6M369.0 91.6h.6M370.4 94.7h.6M379.1 88.8h.6M372.9 98.8h.6M378.4 89.5h.6M366.1 94.7h.6M367.5 89.4h.6M376.4 111.7h.6M368.9 91.4h.6M362.2 104.0h.6M366.8 103.0h.6M373.2 101.9h.6M370.4 97.9h.6M367.8 94.2h.6M370.5 102.7h.6M374.8 96.2h.6M376.4 89.8h.6M380.3 106.7h.6M377.7 112.3h.6M363.1 97.1h.6M372.3 107.5h.6M370.1 86.5h.6M376.4 96.6h.6M372.1 95.3h.6M369.1 85.9h.6M373.4 92.5h.6M359.9 101.8h.6M369.5 106.7h.6M374.2 87.3h.6M368.7 98.1h.6M370.2 88.7h.6M370.1 106.9h.6M376.6 111.1h.6M373.9 75.6h.6M368.2 93.3h.6M374.7 98.1h.6M371.7 102.4h.6M368.5 110.3h.6M379.8 105.4h.6M366.6 100.4h.6M375.1 104.5h.6M365.9 106.6h.6M373.7 103.3h.6M367.4 97.9h.6M367.3 95.5h.6M368.1 95.3h.6M370.2 99.0h.6M366.3 96.9h.6M369.2 102.5h.6M372.1 94.9h.6M365.1 83.5h.6M362.8 101.7h.6M364.6 112.4h.6M368.8 94.7h.6M368.8 93.3h.6M366.2 98.7h.6M361.7 99.3h.6M369.2 90.1h.6M375.4 101.3h.6M375.7 92.2h.6M362.8 87.5h.6M361.0 81.3h.6M378.3 93.9h.6M370.8 93.3h.6M368.9 112.1h.6M360.1 89.3h.6M370.4 90.0h.6M373.5 109.6h.6M374.6 104.8h.6M368.8 107.0h.6M365.3 87.5h.6M368.3 95.9h.6M376.5 89.3h.6M376.0 91.2h.6M362.7 83.0h.6M369.5 85.2h.6M370.9 98.5h.6M367.5 80.9h.6M366.8 102.0h.6M359.9 104.2h.6M369.8 93.2h.6M370.8 103.9h.6M369.6 91.2h.6M374.0 92.0h.6M371.7 106.7h.6M376.9 112.2h.6M375.4 99.4h.6M368.6 99.7h.6M373.3 90.7h.6M378.1 83.9h.6M375.2 86.7h.6M363.7 93.6h.6M368.1 86.1h.6M373.1 97.0h.6M377.1 89.0h.6M359.7 104.2h.6M368.5 106.7h.6M362.9 81.1h.6M367.2 110.6h.6M378.4 86.0h.6M366.3 81.7h.6M365.1 89.5h.6M372.1 108.2h.6M374.2 100.0h.6M373.6 112.0h.6M371.4 105.7h.6M372.5 97.2h.6M365.9 94.5h.6M369.8 94.6h.6M367.8 91.8h.6M374.4 95.9h.6M369.1 96.1h.6M376.9 93.3h.6M377.5 90.4h.6M378.1 103.5h.6M367.0 102.1h.6M376.0 89.6h.6M368.5 100.8h.6M368.6 95.5h.6M369.8 100.8h.6M374.0 111.2h.6M369.0 85.1h.6M367.3 95.0h.6M375.6 80.1h.6M366.2 96.9h.6M373.3 101.6h.6M374.4 96.6h.6M368.4 108.8h.6M379.2 101.4h.6M370.6 90.4h.6M381.3 101.6h.6M373.1 83.8h.6M368.8 96.2h.6M378.2 96.4h.6M363.3 90.7h.6M373.5 99.1h.6M369.9 96.6h.6M370.4 101.2h.6M367.1 95.6h.6M371.0 88.4h.6M372.2 78.5h.6M373.2 97.0h.6M363.3 110.0h.6M365.7 108.8h.6M369.4 112.4h.6M368.5 107.2h.6M368.0 81.3h.6M371.9 102.3h.6M371.9 112.9h.6M365.7 85.3h.6M371.1 91.9h.6M369.2 98.0h.6M365.2 107.8h.6M371.1 107.5h.6M368.1 92.2h.6M366.8 90.2h.6M372.2 99.3h.6M363.8 84.3h.6M365.0 81.8h.6M364.9 84.5h.6M373.6 87.7h.6M366.5 97.0h.6M369.9 101.8h.6M373.9 103.8h.6M367.8 109.2h.6M371.8 91.7h.6M377.9 87.5h.6M372.3 109.2h.6M370.4 101.1h.6M370.4 104.0h.6M371.0 98.1h.6M373.6 81.1h.6M371.1 95.3h.6M380.4 100.6h.6M366.1 103.9h.6M367.6 87.5h.6M368.2 102.5h.6M376.2 107.4h.6M371.0 96.6h.6M370.8 108.8h.6M369.0 108.4h.6M365.4 97.9h.6M373.9 104.3h.6M370.8 93.4h.6M360.0 94.1h.6M365.1 94.4h.6M378.3 91.2h.6M374.3 97.9h.6M363.7 99.0h.6M373.8 87.5h.6M363.4 94.6h.6M373.7 92.7h.6M372.0 102.1h.6M369.8 102.0h.6M376.6 96.3h.6M371.5 88.5h.6M365.8 97.1h.6M374.1 92.0h.6M362.2 106.3h.6M364.0 99.1h.6M372.4 89.6h.6M371.5 107.8h.6M368.2 104.5h.6M370.4 89.7h.6M366.4 92.6h.6M376.9 108.3h.6M371.0 84.1h.6M367.1 94.5h.6M371.3 86.2h.6M367.4 94.0h.6M379.7 103.9h.6M373.9 98.8h.6M362.8 106.2h.6M366.1 80.9h.6M373.7 94.9h.6M369.7 102.6h.6M368.5 101.7h.6M376.7 95.2h.6M367.8 98.2h.6M373.2 94.5h.6M370.2 92.0h.6M369.3 102.8h.6M365.3 96.4h.6M361.9 91.8h.6M370.1 102.7h.6M364.2 97.1h.6M364.7 100.8h.6M371.1 102.0h.6M368.6 85.4h.6M366.7 86.1h.6M366.1 97.5h.6M375.5 92.3h.6M365.6 99.8h.6M361.4 107.0h.6M375.0 106.6h.6M369.2 104.5h.6M367.9 106.5h.6M366.2 90.8h.6M371.8 94.0h.6M373.3 90.4h.6M371.2 89.3h.6M363.9 87.1h.6M361.1 96.0h.6M378.4 94.0h.6M374.7 96.4h.6M375.5 81.7h.6M364.5 101.7h.6M373.2 96.0h.6M371.4 102.8h.6M367.8 106.9h.6M365.2 104.7h.6M374.6 99.8h.6M367.9 97.8h.6M362.1 80.2h.6M373.8 89.9h.6M371.6 98.4h.6M360.3 90.0h.6M368.3 102.2h.6M370.1 86.8h.6M366.9 98.9h.6M362.9 94.1h.6M366.8 79.2h.6M378.9 105.8h.6M367.2 106.4h.6M364.1 111.6h.6M367.7 99.3h.6M366.6 98.8h.6M371.5 98.3h.6M365.3 104.7h.6M372.7 98.0h.6M375.3 91.5h.6M376.5 96.6h.6M377.8 94.1h.6M368.4 99.9h.6M375.5 110.8h.6M367.3 91.6h.6M373.8 109.0h.6M373.5 95.1h.6M376.5 97.8h.6M370.6 103.5h.6M366.7 78.0h.6M370.9 104.4h.6M372.0 102.8h.6M370.6 107.2h.6M370.3 111.2h.6M370.0 105.1h.6M366.8 100.7h.6M372.0 99.2h.6M377.9 98.4h.6M375.7 101.1h.6M375.5 90.0h.6M367.8 106.6h.6M365.4 101.5h.6M372.7 99.7h.6M372.0 102.8h.6M368.5 101.7h.6M367.0 94.0h.6M361.3 97.1h.6M360.7 98.3h.6M370.8 88.4h.6M370.1 100.6h.6M367.8 89.9h.6M369.1 101.6h.6M372.0 92.4h.6M370.3 110.1h.6M375.4 94.1h.6M377.9 82.4h.6M368.7 91.8h.6M370.8 98.6h.6M375.8 92.8h.6M380.0 82.8h.6M369.2 103.6h.6M374.5 94.9h.6M373.6 79.9h.6M367.1 103.0h.6M361.2 86.1h.6M371.9 108.1h.6M375.9 92.2h.6M372.4 82.3h.6M361.8 102.8h.6M367.6 89.0h.6M359.8 95.9h.6M381.6 80.1h.6M364.1 108.0h.6M370.1 108.1h.6M369.5 97.0h.6M372.1 101.1h.6M361.7 89.6h.6M368.5 101.0h.6M363.2 91.6h.6M365.7 101.0h.6M367.4 103.4h.6M371.8 89.9h.6M368.1 86.9h.6M370.3 105.2h.6M364.4 82.2h.6M372.5 95.4h.6M369.6 102.1h.6M371.7 106.3h.6M367.3 78.4h.6M367.1 95.3h.6M367.5 101.5h.6M368.4 109.6h.6M366.3 97.9h.6M364.6 89.1h.6M367.7 104.8h.6M369.8 96.4h.6M361.9 79.5h.6M368.6 95.9h.6M379.1 101.3h.6M372.0 106.7h.6M364.9 87.0h.6M367.7 111.2h.6M375.0 92.8h.6M363.0 106.3h.6M375.6 88.2h.6M378.3 91.1h.6M373.7 96.2h.6M367.9 92.5h.6M373.4 103.5h.6M374.0 95.5h.6M378.9 96.3h.6M363.5 111.4h.6M370.4 98.5h.6M374.3 101.1h.6M364.4 98.7h.6M368.8 100.4h.6M374.6 103.6h.6M371.3 93.5h.6M373.1 100.4h.6M377.5 105.5h.6M377.8 102.4h.6M370.6 92.6h.6M370.2 94.7h.6M372.8 110.2h.6M372.5 106.5h.6M371.1 101.2h.6M362.9 99.1h.6M370.0 97.3h.6M368.4 100.8h.6M366.6 96.2h.6M364.9 87.2h.6M366.8 94.3h.6M363.9 76.1h.6M378.6 107.2h.6M367.6 103.0h.6M363.7 83.5h.6M371.5 103.2h.6M366.0 98.0h.6M375.4 99.5h.6M370.7 103.2h.6M362.8 100.2h.6M366.3 81.1h.6M374.5 96.3h.6M360.7 86.6h.6M375.6 110.7h.6M371.9 101.2h.6M373.5 103.9h.6M362.8 104.7h.6M375.1 94.4h.6M364.7 93.6h.6M366.5 102.7h.6M373.9 98.2h.6M368.0 82.1h.6M367.4 89.1h.6M366.7 101.1h.6M364.9 93.2h.6M363.4 95.7h.6M368.1 107.0h.6M373.2 93.3h.6M366.0 99.8h.6M372.5 96.6h.6M368.8 98.2h.6M363.8 100.4h.6M372.8 98.5h.6M363.5 98.0h.6M369.1 100.8h.6M367.4 105.4h.6M375.6 105.4h.6M371.0 108.9h.6M369.5 96.5h.6M361.9 98.2h.6M376.3 89.5h.6M373.9 86.7h.6M369.9 87.6h.6M371.3 96.7h.6M374.0 93.4h.6M360.2 93.8h.6M372.9 107.1h.6M371.2 98.2h.6M373.4 96.3h.6M367.2 100.0h.6M375.7 93.6h.6M372.4 92.3h.6M365.7 99.6h.6M362.4 90.5h.6M363.2 92.7h.6M373.0 98.7h.6M362.4 77.0h.6M372.1 92.5h.6M375.4 94.5h.6M362.5 92.4h.6M361.3 85.5h.6M373.6 93.3h.6M373.4 93.1h.6M368.4 93.2h.6M366.7 92.2h.6M377.8 97.5h.6M376.5 107.9h.6M369.1 96.7h.6M367.0 99.1h.6M372.2 98.0h.6M365.2 89.5h.6M378.8 112.9h.6M362.9 92.4h.6M369.4 103.2h.6M369.0 100.1h.6M371.6 108.0h.6M362.5 107.7h.6M372.1 102.8h.6M361.4 96.0h.6M368.2 103.6h.6M373.4 104.1h.6M362.6 109.1h.6M370.0 106.2h.6M369.6 91.9h.6M373.8 94.0h.6M368.4 107.8h.6M372.1 113.3h.6M376.2 88.6h.6M361.2 108.2h.6M372.9 95.8h.6M368.0 93.2h.6M379.5 96.6h.6M362.1 106.0h.6M369.2 101.1h.6M367.5 97.7h.6M365.9 94.7h.6M371.4 109.2h.6M372.6 106.9h.6M364.6 100.8h.6M371.8 106.1h.6M366.2 96.4h.6M366.8 107.9h.6M375.6 94.2h.6M368.9 100.0h.6M364.7 97.1h.6M374.4 104.8h.6M365.9 92.4h.6M369.0 85.3h.6M371.3 99.1h.6M362.3 96.0h.6M366.0 95.7h.6M364.8 109.9h.6M364.3 104.7h.6M370.7 110.6h.6M369.3 98.1h.6M370.0 81.8h.6M367.9 88.4h.6M368.9 112.0h.6M365.5 101.9h.6M375.3 106.2h.6M367.4 83.1h.6M371.8 103.0h.6M367.8 94.4h.6M379.2 84.5h.6M366.8 92.9h.6M361.0 92.1h.6M365.2 108.8h.6M360.0 86.3h.6M371.0 84.8h.6M363.0 89.7h.6M368.7 102.0h.6M366.1 95.7h.6M373.5 96.8h.6M373.6 93.1h.6M372.3 109.0h.6M367.8 95.2h.6M368.7 102.1h.6M363.0 98.4h.6M366.4 110.3h.6M360.1 103.7h.6M367.9 91.7h.6M370.3 96.1h.6M369.8 100.1h.6M376.2 94.7h.6M378.8 75.0h.6M379.6 108.5h.6M378.2 99.8h.6M371.2 89.5h.6M376.9 88.2h.6M365.2 98.1h.6M370.9 101.0h.6M363.2 95.2h.6M372.3 108.2h.6M373.8 101.7h.6M368.2 93.5h.6M366.8 97.3h.6M372.5 93.8h.6M380.9 89.6h.6M374.1 96.4h.6M368.8 94.9h.6M378.0 95.6h.6M372.6 99.1h.6M373.7 103.1h.6M378.7 91.9h.6M365.1 112.6h.6M376.6 98.7h.6M368.0 100.3h.6M376.7 91.6h.6M377.6 97.6h.6M367.6 94.8h.6M362.4 93.4h.6M364.7 100.1h.6M373.6 98.5h.6M370.6 101.6h.6M378.4 103.0h.6M378.2 97.6h.6M371.5 92.6h.6M372.9 90.9h.6M372.2 92.8h.6M367.7 108.5h.6M370.4 104.9h.6M368.3 82.3h.6M377.7 96.6h.6M366.0 106.2h.6M363.4 91.8h.6M375.9 92.2h.6M375.8 95.5h.6M368.4 98.7h.6M366.9 107.2h.6M375.6 98.7h.6M372.9 102.7h.6M378.8 84.7h.6M375.2 105.9h.6M367.9 98.3h.6M367.7 108.6h.6M363.3 103.3h.6M376.6 103.0h.6M367.0 94.2h.6M375.6 90.1h.6M360.6 96.1h.6M361.4 102.0h.6M364.8 106.2h.6M369.0 86.1h.6M365.4 92.7h.6M365.0 108.6h.6M364.1 101.2h.6M366.4 103.1h.6M361.8 84.9h.6M372.4 110.3h.6M362.0 95.5h.6M366.8 90.2h.6M374.9 98.6h.6M362.0 96.3h.6M376.9 92.1h.6M366.8 91.1h.6M370.5 93.4h.6M374.5 91.1h.6M361.6 102.0h.6M371.1 100.2h.6M366.4 94.4h.6M365.2 96.6h.6M367.1 102.8h.6M369.7 102.8h.6M378.6 95.8h.6M368.0 101.3h.6M381.1 95.1h.6M378.9 108.2h.6M364.2 101.5h.6M376.9 98.6h.6M364.7 112.1h.6M366.8 77.6h.6M365.1 94.1h.6M369.4 104.6h.6M373.4 102.6h.6M365.5 113.3h.6M376.2 98.5h.6M366.5 97.7h.6M368.4 92.2h.6M369.6 92.5h.6M373.1 92.6h.6M372.3 100.9h.6M370.5 102.6h.6M365.8 104.4h.6M369.7 94.5h.6M379.2 107.5h.6M368.1 102.9h.6M373.4 111.6h.6M375.2 96.7h.6M368.2 88.3h.6M371.1 105.5h.6M367.5 103.8h.6M370.3 94.2h.6M362.9 107.6h.6M363.7 89.4h.6M371.0 103.7h.6M378.0 77.6h.6M379.8 99.6h.6M370.4 101.4h.6M367.7 95.7h.6M375.4 83.4h.6M369.0 102.9h.6M360.6 96.8h.6M378.0 101.3h.6M373.5 104.1h.6M370.9 101.2h.6M365.2 96.4h.6M379.8 87.7h.6M368.7 87.3h.6M366.7 91.6h.6M362.9 100.2h.6M364.5 102.6h.6M379.6 76.3h.6M368.7 80.3h.6M369.0 101.3h.6M370.8 108.4h.6M370.5 83.4h.6M377.9 90.0h.6M369.1 100.9h.6M364.8 98.9h.6M377.9 83.7h.6M360.5 94.3h.6M368.7 87.2h.6M371.8 86.8h.6M372.8 97.6h.6M370.5 86.7h.6M368.5 102.2h.6M360.0 89.1h.6M373.3 97.5h.6M363.7 94.6h.6M368.3 101.9h.6M377.0 79.3h.6M363.2 98.1h.6M375.1 101.6h.6M377.1 103.2h.6M372.2 111.2h.6M367.2 93.4h.6M364.1 100.2h.6M372.1 106.2h.6M377.7 103.5h.6M376.5 96.0h.6M364.4 104.4h.6M375.3 109.6h.6M368.8 94.1h.6M367.7 101.2h.6M369.4 96.5h.6M371.1 95.6h.6M371.5 93.0h.6M361.2 95.4h.6M380.1 91.1h.6M374.7 109.7h.6M366.7 100.3h.6M378.2 99.7h.6M365.6 99.1h.6M371.3 94.5h.6M368.0 91.0h.6M372.8 99.8h.6M371.6 93.7h.6M372.4 95.5h.6M371.3 96.7h.6M366.0 88.6h.6M360.6 91.0h.6M368.6 88.0h.6M376.5 88.0h.6M369.1 92.6h.6M373.9 85.5h.6M371.4 100.0h.6M372.8 101.8h.6M370.5 82.7h.6M367.9 89.9h.6M372.6 96.0h.6M370.5 107.6h.6M369.1 112.7h.6M374.3 85.2h.6M366.5 108.6h.6M366.9 108.4h.6M366.6 97.0h.6M375.4 84.4h.6M370.1 94.1h.6M370.6 112.9h.6M372.4 86.3h.6M375.0 94.1h.6M370.6 108.1h.6M368.0 106.4h.6M370.7 90.2h.6M368.0 86.3h.6M376.2 99.5h.6M375.0 88.4h.6M374.4 87.7h.6M371.2 97.9h.6M366.4 100.7h.6M369.9 90.5h.6M365.6 86.7h.6M377.2 99.3h.6M367.7 104.0h.6M365.0 87.9h.6M371.7 111.8h.6M371.4 99.4h.6M379.3 84.6h.6M369.3 86.3h.6M363.0 95.9h.6M366.3 100.4h.6M364.1 95.8h.6M374.2 79.0h.6M368.0 95.5h.6M366.9 97.0h.6M359.8 94.2h.6M366.8 89.1h.6M374.1 90.5h.6M377.5 102.4h.6M365.2 103.3h.6M366.5 103.0h.6M374.8 108.1h.6M363.9 96.9h.6M369.7 87.4h.6M372.0 104.0h.6M362.1 93.2h.6M363.6 86.9h.6M363.8 110.0h.6M366.0 94.6h.6M375.1 106.9h.6M377.4 79.9h.6M373.9 82.7h.6M366.2 94.4h.6M368.8 108.2h.6M368.7 97.5h.6M372.5 101.9h.6M372.5 82.9h.6M372.5 100.8h.6M373.0 97.5h.6M372.0 86.6h.6M375.9 87.4h.6M377.4 106.8h.6M369.4 95.4h.6M374.0 95.3h.6M363.2 100.4h.6M363.0 94.0h.6M379.6 105.1h.6M367.2 97.4h.6M366.1 97.9h.6M361.7 104.0h.6M369.8 92.7h.6M367.3 93.8h.6M366.5 93.7h.6M376.9 103.9h.6M372.0 101.2h.6M363.4 76.9h.6M378.0 104.3h.6M370.9 100.4h.6M370.8 98.2h.6M368.3 78.5h.6M372.8 98.4h.6M375.1 100.7h.6M368.1 103.3h.6M370.7 94.1h.6M367.6 94.3h.6M368.1 94.1h.6M369.1 107.8h.6M367.1 96.6h.6M365.6 86.1h.6M365.0 93.5h.6M370.5 95.1h.6M363.1 94.8h.6M378.0 90.3h.6M370.1 106.8h.6M365.3 93.0h.6M366.8 99.4h.6M370.3 99.3h.6M372.3 95.4h.6M370.5 86.0h.6M367.9 111.2h.6M371.0 92.3h.6M370.5 107.2h.6M360.3 87.1h.6M366.1 94.2h.6M369.2 92.9h.6M370.3 98.8h.6M363.3 92.5h.6M362.9 100.5h.6M371.1 103.7h.6M364.9 93.3h.6M360.8 101.0h.6M375.6 101.9h.6M373.2 100.0h.6M371.7 106.2h.6M368.2 105.3h.6M374.5 101.7h.6M371.2 86.9h.6M375.7 90.3h.6M366.1 90.5h.6M372.8 89.5h.6M372.2 102.9h.6M370.3 95.0h.6M373.0 109.5h.6M367.2 88.8h.6M366.4 90.3h.6M368.4 96.6h.6" stroke="#000" stroke-width=".6" opacity="0.4"/>
<path d="M358.5 112.5h.6M364.4 101.5h.6M359.9 92.5h.6M363.6 105.3h.6M371.1 93.5h.6M368.6 112.8h.6M366.6 109.3h.6M368.9 98.6h.6M371.7 100.5h.6M369.1 101.7h.6M366.8 104.9h.6M373.0 94.2h.6M363.2 104.6h.6M371.6 102.9h.6M366.9 107.1h.6M374.0 98.7h.6M361.3 102.4h.6M370.8 96.3h.6M372.2 109.5h.6M370.8 99.1h.6M362.5 107.8h.6M368.7 108.0h.6M362.3 86.8h.6M372.2 109.8h.6M366.6 104.0h.6M369.5 108.3h.6M366.9 101.0h.6M363.8 110.0h.6M368.1 84.2h.6M369.1 100.7h.6M362.6 101.0h.6M362.6 101.4h.6M365.5 107.0h.6M363.7 93.4h.6M365.3 96.0h.6M370.7 102.8h.6M361.0 98.9h.6M367.6 103.8h.6M360.3 103.2h.6M368.9 109.7h.6M372.1 103.3h.6M362.5 101.8h.6M370.3 98.6h.6M372.7 98.4h.6M363.2 108.8h.6M367.3 105.9h.6M366.5 104.2h.6M365.4 115.0h.6M370.3 103.3h.6M369.6 108.8h.6M365.6 105.0h.6M368.5 100.7h.6M364.6 102.8h.6M366.5 101.6h.6M359.9 104.4h.6M370.3 104.4h.6M374.5 109.0h.6M366.3 100.1h.6M369.7 101.8h.6M361.2 104.7h.6M366.5 102.7h.6M370.1 105.1h.6M375.8 99.7h.6M367.3 105.8h.6M365.9 101.0h.6M374.7 95.6h.6M369.1 93.8h.6M369.0 92.9h.6M363.0 110.6h.6M373.8 104.7h.6M356.9 109.9h.6M368.7 97.6h.6M366.3 96.3h.6M367.3 103.5h.6M368.2 108.6h.6M365.1 91.2h.6M363.0 96.7h.6M366.2 101.5h.6M367.5 111.9h.6M367.8 97.7h.6M366.5 98.9h.6M366.7 107.4h.6M363.2 108.1h.6M374.8 112.8h.6M374.2 104.5h.6M362.3 115.6h.6M367.5 105.3h.6M366.3 98.6h.6M370.2 95.9h.6M362.2 107.2h.6M366.2 99.1h.6M369.7 112.2h.6M366.6 103.2h.6M369.9 109.4h.6M371.8 107.9h.6M365.1 107.1h.6M367.7 94.2h.6M372.6 107.3h.6M373.2 103.6h.6M370.6 103.6h.6M368.3 109.3h.6M367.9 107.5h.6M367.6 111.1h.6M370.3 94.4h.6M374.3 106.5h.6M365.7 100.4h.6M375.6 104.5h.6M369.7 107.4h.6M365.3 114.1h.6M376.1 99.5h.6M372.2 94.6h.6M366.4 104.4h.6M367.9 107.3h.6M369.3 106.1h.6M367.2 105.7h.6M365.5 115.3h.6M367.9 111.1h.6M368.1 103.1h.6M367.0 96.6h.6M376.0 106.4h.6M368.2 101.3h.6M372.8 102.1h.6M365.9 100.9h.6M373.8 105.8h.6M367.1 100.3h.6M372.8 105.7h.6M366.4 109.2h.6M371.2 98.3h.6M372.3 110.3h.6M366.7 96.4h.6M372.1 102.0h.6M366.9 102.4h.6M366.6 108.8h.6M363.4 107.1h.6M372.3 110.1h.6M370.6 105.5h.6M366.9 103.3h.6M364.2 113.6h.6M367.3 98.2h.6M371.0 112.7h.6M368.8 102.2h.6M363.3 107.7h.6M366.8 100.2h.6M370.1 96.6h.6M370.6 90.1h.6M365.3 95.8h.6M366.8 108.6h.6M362.6 111.8h.6M365.0 101.3h.6M371.6 99.8h.6M373.5 102.8h.6M367.4 98.5h.6M372.3 103.6h.6M365.8 98.6h.6M365.2 103.5h.6M364.9 108.6h.6M367.6 100.5h.6M369.6 112.2h.6M359.5 106.1h.6M372.0 104.8h.6M371.0 95.2h.6M364.8 109.8h.6M367.4 104.4h.6M370.2 106.1h.6M369.5 101.2h.6M366.6 111.5h.6M365.8 95.8h.6M366.4 109.1h.6M374.8 104.9h.6M365.3 107.5h.6M368.9 110.7h.6M369.8 108.3h.6M369.8 106.4h.6M364.2 103.1h.6M374.0 111.6h.6M371.5 106.3h.6M367.3 106.0h.6M366.5 110.2h.6M366.5 99.7h.6M361.5 112.9h.6M364.8 99.1h.6M369.4 114.2h.6M370.4 102.1h.6M370.0 99.3h.6M366.8 104.2h.6M367.8 108.4h.6M369.9 114.7h.6M371.0 102.4h.6M368.8 99.2h.6M365.4 102.1h.6M371.8 100.1h.6M361.7 98.3h.6M363.1 103.0h.6M366.6 97.4h.6M364.7 101.7h.6M369.3 107.5h.6M373.0 102.6h.6M370.3 104.4h.6M363.6 100.4h.6M376.3 103.1h.6M374.2 108.7h.6M374.3 102.9h.6M371.4 102.3h.6M363.5 97.4h.6M369.5 94.9h.6M369.3 99.1h.6M369.2 96.2h.6M371.1 102.7h.6M361.9 95.9h.6M368.1 94.7h.6M369.1 106.8h.6M365.3 111.9h.6M373.4 105.8h.6M369.6 106.7h.6M366.8 111.5h.6M365.8 89.8h.6M367.9 106.5h.6M371.0 97.8h.6M373.2 99.4h.6M370.3 108.2h.6M368.5 110.4h.6M365.9 115.6h.6M369.8 101.6h.6M377.9 104.0h.6M361.6 112.1h.6M373.8 100.7h.6M364.0 110.4h.6M368.1 98.6h.6M366.0 104.4h.6M371.7 112.9h.6M365.5 112.7h.6M362.0 108.1h.6M367.3 106.5h.6M366.2 100.0h.6M369.0 110.4h.6M359.3 104.3h.6M366.3 97.9h.6M362.7 106.9h.6M370.0 107.7h.6M360.2 95.4h.6M365.5 101.6h.6M374.7 101.8h.6M368.4 109.7h.6M374.3 106.1h.6M369.2 115.0h.6M366.3 93.8h.6M365.0 102.2h.6M372.9 105.8h.6M372.5 104.6h.6M368.0 100.7h.6M363.1 106.9h.6M369.3 107.3h.6M365.8 101.6h.6M369.3 107.5h.6M375.6 99.1h.6M371.7 109.0h.6M366.9 104.8h.6M367.7 112.7h.6M377.7 105.8h.6M366.9 109.4h.6M369.8 103.0h.6M370.8 109.0h.6M366.3 108.8h.6M359.2 96.7h.6M366.7 104.9h.6M362.2 112.4h.6M366.4 104.9h.6M367.7 108.3h.6M365.6 108.2h.6M364.7 95.6h.6M369.9 104.9h.6M371.3 93.0h.6M368.3 100.4h.6M367.1 101.8h.6M366.4 100.2h.6M371.8 94.2h.6M361.4 106.0h.6M375.7 99.7h.6M364.4 97.4h.6M363.9 111.1h.6M370.5 109.1h.6M369.2 105.3h.6M365.6 98.5h.6M370.3 118.1h.6M366.4 111.2h.6M365.1 104.2h.6M374.4 103.6h.6M370.3 100.8h.6M375.1 97.0h.6M370.0 102.7h.6M368.6 106.1h.6M373.0 109.0h.6M371.9 106.1h.6M363.7 111.7h.6M373.8 106.8h.6M370.9 102.7h.6M362.3 109.6h.6M365.1 114.9h.6M370.5 103.9h.6M365.5 104.6h.6M364.0 101.9h.6M374.0 102.3h.6M375.0 103.5h.6M369.5 98.7h.6M366.7 101.5h.6M362.5 115.0h.6M370.1 103.5h.6M363.6 104.2h.6M363.8 98.5h.6M367.1 116.3h.6M361.1 107.2h.6M365.7 87.5h.6M362.4 103.2h.6M368.1 99.7h.6M374.7 107.1h.6M365.4 94.6h.6M368.5 100.2h.6M371.8 98.0h.6M372.5 101.4h.6M368.6 102.5h.6M370.3 110.6h.6M365.7 98.9h.6M375.2 109.5h.6M375.2 109.5h.6M368.4 113.3h.6M365.3 101.6h.6M366.3 107.9h.6M364.5 103.0h.6M364.6 102.7h.6M372.2 110.4h.6M367.0 118.6h.6M365.1 106.6h.6M366.0 91.3h.6M363.2 111.1h.6M361.4 120.7h.6M367.4 105.6h.6M372.7 104.2h.6M365.4 100.5h.6M364.2 107.2h.6M366.0 106.9h.6M362.0 101.5h.6M375.8 106.1h.6M367.4 110.8h.6M368.9 112.8h.6M363.3 108.4h.6M363.7 107.9h.6M377.4 112.8h.6M364.5 106.4h.6M369.6 99.9h.6M368.8 97.9h.6M371.6 109.2h.6M367.2 108.0h.6M377.1 103.1h.6M360.6 105.9h.6M366.1 99.5h.6M371.3 109.8h.6M370.1 113.4h.6M365.4 101.6h.6M369.5 88.5h.6M357.2 106.0h.6M367.0 104.3h.6M364.1 105.3h.6M371.9 100.4h.6M370.0 103.1h.6M367.2 104.7h.6M373.7 107.0h.6M370.5 104.9h.6M359.4 109.4h.6M367.7 104.6h.6M365.8 95.2h.6M373.6 114.5h.6M373.9 93.5h.6M369.9 97.2h.6M367.1 101.1h.6M365.4 99.6h.6M365.9 108.5h.6M374.1 109.3h.6M367.7 103.2h.6M366.8 103.9h.6M365.4 103.0h.6M371.1 102.7h.6M364.6 103.3h.6M368.1 103.6h.6M366.8 108.1h.6M367.6 98.2h.6M370.0 99.9h.6M370.8 108.7h.6M369.7 105.8h.6M362.5 102.9h.6M368.3 107.7h.6M363.4 103.1h.6M361.8 105.0h.6M368.1 104.7h.6M374.2 108.2h.6M367.0 100.7h.6M366.0 108.5h.6M371.4 101.1h.6M367.3 101.5h.6M370.5 105.1h.6M365.0 98.9h.6M372.9 96.0h.6M360.7 86.4h.6M375.7 100.9h.6M371.1 107.2h.6M371.1 110.5h.6M365.9 103.9h.6M371.6 107.2h.6M364.8 99.7h.6M362.1 105.5h.6M365.7 95.1h.6M365.6 105.9h.6M368.5 102.7h.6M368.4 107.8h.6M363.1 99.3h.6M371.6 108.2h.6M362.3 99.9h.6M373.5 108.3h.6M367.2 109.9h.6M373.2 112.1h.6M362.3 96.6h.6M365.8 103.7h.6M366.4 105.4h.6M373.6 110.3h.6M371.7 104.0h.6M374.3 106.6h.6M368.7 103.9h.6M360.5 116.4h.6M367.7 109.2h.6M376.7 102.9h.6M363.2 109.9h.6M368.7 98.6h.6M371.6 104.1h.6M364.0 89.5h.6M363.9 106.2h.6M363.7 109.6h.6M376.5 105.8h.6M368.7 103.6h.6M371.2 104.2h.6M371.9 112.2h.6M371.1 98.5h.6M370.4 102.5h.6M369.0 109.6h.6M365.2 105.2h.6M373.6 99.2h.6M367.0 108.2h.6M366.9 109.9h.6M363.8 95.4h.6M369.3 103.2h.6M369.0 109.5h.6M371.9 102.0h.6M366.2 92.9h.6M363.9 105.4h.6M368.6 95.5h.6M370.9 103.8h.6M372.1 102.0h.6M371.6 97.7h.6M360.5 99.4h.6M370.5 106.4h.6M360.3 104.9h.6M370.4 113.6h.6M370.9 106.9h.6M361.5 106.1h.6M360.0 102.3h.6M366.3 98.5h.6M363.8 103.2h.6M370.1 100.3h.6M369.0 108.1h.6M367.7 114.9h.6M366.5 99.8h.6M360.3 110.1h.6M370.5 103.0h.6M369.0 103.3h.6M371.2 104.0h.6M368.7 103.6h.6M364.3 91.4h.6M369.9 96.9h.6M369.3 107.7h.6M375.2 99.8h.6M368.4 109.4h.6M365.1 100.7h.6M369.5 115.8h.6M372.0 109.5h.6M364.0 107.8h.6M372.3 96.8h.6M367.8 102.9h.6M370.3 94.1h.6M370.6 104.0h.6M366.7 92.0h.6M359.6 100.9h.6M370.3 106.4h.6M370.7 94.4h.6M368.6 111.7h.6M361.6 107.7h.6M364.9 107.1h.6M368.2 94.8h.6M363.6 111.2h.6M367.3 111.1h.6M369.1 109.1h.6M366.2 105.3h.6M366.3 109.2h.6" stroke="#000" stroke-width=".6" opacity="0.45"/>
<ellipse cx="370.2" cy="96" rx="8.5" ry="14" fill="#000" opacity="0.4" filter="url(#b2)"/>
<ellipse cx="368.2" cy="99.5" rx="6" ry="8.5" fill="#000" opacity="0.8" filter="url(#b2)"/>
<ellipse cx="369.2" cy="111.5" rx="4" ry="1.8" fill="#000" opacity="0.7" filter="url(#b1)"/>
<path d="M360.2 73L375.7 73L375.9 79L373.7 84L369.7 88L365.7 90.5L360.7 91.5Z" fill="#000" opacity="1" filter="url(#b1)"/>
<ellipse cx="375.7" cy="83" rx="3" ry="6" fill="#000" opacity="0.35" filter="url(#b15)"/>
<ellipse cx="386.9" cy="77.2" rx="2.2" ry="1.8" fill="#000" opacity="0.55" filter="url(#b08)"/>
<ellipse cx="389.7" cy="80" rx="2.5" ry="1.5" fill="#000" opacity="0.12" filter="url(#b1)"/>
</g>
<rect x="359.7" y="74" width="43.6" height="39.5" fill="none" stroke="#777" stroke-width="0.5"/>
<line x1="382.9" y1="74" x2="382.9" y2="113.5" stroke="#888" stroke-width="0.5"/>
<line x1="359.7" y1="88.7" x2="403.3" y2="88.7" stroke="#888" stroke-width="0.5"/>
<rect x="360.5" y="75" width="8" height="3.5" fill="#fff" stroke="#333" stroke-width="0.3"/>
<text x="364.5" y="77.8" font-size="3" text-anchor="middle" font-weight="bold" fill="#000" stroke="#000" stroke-width="0.1">26.4</text>
<rect x="360.5" y="109.0" width="8" height="3.5" fill="#fff" stroke="#333" stroke-width="0.3"/>
<text x="364.5" y="111.8" font-size="3" text-anchor="middle" font-weight="bold" fill="#000" stroke="#000" stroke-width="0.1">73.5</text>
<text x="402.3" y="78" font-size="3" text-anchor="end" fill="#222" stroke="#222" stroke-width="0.08">0.10</text>
<text x="402.3" y="112.0" font-size="3" text-anchor="end" fill="#222" stroke="#222" stroke-width="0.08">0.02</text>
<text x="409.7" y="78.10000000000001" font-size="2.5" text-anchor="end" fill="#555" stroke="#555" stroke-width="0.08">10⁴</text>
<text x="409.7" y="87.0" font-size="2.5" text-anchor="end" fill="#555" stroke="#555" stroke-width="0.08">10³</text>
<text x="409.7" y="96.30000000000001" font-size="2.5" text-anchor="end" fill="#555" stroke="#555" stroke-width="0.08">10²</text>
<text x="409.7" y="106.2" font-size="2.5" text-anchor="end" fill="#555" stroke="#555" stroke-width="0.08">10¹</text>
<text x="409.7" y="110.7" font-size="2.5" text-anchor="end" fill="#555" stroke="#555" stroke-width="0.08">0</text>
<text x="414.7" y="117.2" font-size="2.5" text-anchor="middle" fill="#555" stroke="#555" stroke-width="0.08">0</text>
<text x="420.7" y="117.2" font-size="2.5" text-anchor="middle" fill="#555" stroke="#555" stroke-width="0.08">10¹</text>
<text x="433.7" y="117.2" font-size="2.5" text-anchor="middle" fill="#555" stroke="#555" stroke-width="0.08">10²</text>
<text x="443.7" y="117.2" font-size="2.5" text-anchor="middle" fill="#555" stroke="#555" stroke-width="0.08">10³</text>
<text x="452.7" y="117.2" font-size="2.5" text-anchor="middle" fill="#555" stroke="#555" stroke-width="0.08">10⁴</text>
<clipPath id="c10"><rect x="411.7" y="74" width="44.3" height="39.9"/></clipPath><g clip-path="url(#c10)">
<path d="M418.7 107.5h.6M430.3 87.7h.6M420.9 102.6h.6M431.4 107.8h.6M422.3 83.3h.6M426.4 93.0h.6M422.8 101.5h.6M414.1 107.1h.6M426.8 102.9h.6M425.0 101.1h.6M414.2 93.7h.6M426.2 95.2h.6M421.9 101.2h.6M422.3 100.2h.6M424.4 98.0h.6M415.8 95.7h.6M427.0 92.3h.6M424.3 100.6h.6M417.0 74.0h.6M421.7 91.4h.6M418.4 106.0h.6M417.6 101.0h.6M422.4 99.7h.6M432.6 81.3h.6M427.0 96.8h.6M420.3 92.3h.6M422.0 98.4h.6M416.8 111.9h.6M417.7 96.9h.6M414.9 99.3h.6M423.7 107.2h.6M427.1 93.8h.6M430.5 97.1h.6M430.2 112.6h.6M419.6 88.9h.6M424.7 110.2h.6M423.9 107.3h.6M425.0 105.6h.6M429.0 95.5h.6M414.1 97.0h.6M417.5 87.9h.6M420.9 104.1h.6M411.8 85.2h.6M426.1 90.5h.6M419.7 109.5h.6M427.9 101.1h.6M424.7 75.0h.6M424.8 101.3h.6M414.2 99.6h.6M424.3 97.0h.6M426.1 105.5h.6M422.1 95.9h.6M415.4 107.7h.6M418.7 100.7h.6M430.1 104.6h.6M414.9 97.3h.6M417.9 84.1h.6M417.4 103.0h.6M423.6 96.3h.6M422.7 88.1h.6M417.6 96.6h.6M426.1 95.3h.6M420.9 100.8h.6M429.7 87.3h.6M424.7 99.6h.6M421.4 100.1h.6M420.5 87.5h.6M426.3 97.0h.6M419.9 104.4h.6M416.8 91.9h.6M426.2 105.4h.6M432.7 94.1h.6M413.9 85.4h.6M415.3 98.9h.6M420.5 92.3h.6M416.3 92.1h.6M419.8 108.1h.6M425.2 109.6h.6M426.2 104.5h.6M428.1 101.8h.6M430.1 107.6h.6M431.6 99.9h.6M420.2 102.4h.6M419.7 92.1h.6M424.1 88.5h.6M420.9 110.0h.6M422.4 105.0h.6M425.2 101.3h.6M422.3 103.2h.6M416.5 102.9h.6M415.9 91.6h.6M418.6 86.7h.6M424.5 103.6h.6M425.8 91.7h.6M425.6 88.3h.6M432.4 89.8h.6M419.5 104.3h.6M416.6 99.7h.6M427.1 99.3h.6M426.8 93.8h.6M425.0 79.6h.6M429.9 92.4h.6M417.1 98.2h.6M431.0 92.0h.6M421.6 95.0h.6M416.7 86.9h.6M424.9 104.0h.6M417.7 99.9h.6M424.2 101.2h.6M420.8 98.4h.6M423.2 89.0h.6M420.9 104.7h.6M418.7 109.1h.6M420.4 88.7h.6M420.1 86.5h.6M425.0 84.5h.6M421.8 96.0h.6M420.1 101.6h.6M423.3 93.3h.6M426.2 94.2h.6M426.6 109.4h.6M423.8 105.9h.6M414.5 102.8h.6M413.6 96.5h.6M425.5 75.3h.6M417.5 91.5h.6M416.6 98.2h.6M425.2 88.2h.6M418.3 82.3h.6M417.9 80.3h.6M413.6 102.0h.6M426.5 91.1h.6M423.6 91.4h.6M427.5 112.8h.6M418.2 94.0h.6M430.2 111.3h.6M421.6 103.4h.6M413.1 95.5h.6M420.2 96.7h.6M423.3 84.8h.6M412.3 98.5h.6M425.7 102.2h.6M422.0 84.3h.6M419.2 84.8h.6M432.4 101.1h.6M425.7 99.7h.6M419.6 108.0h.6M426.5 103.4h.6M424.9 104.3h.6M420.2 101.7h.6M422.1 95.9h.6M419.3 108.2h.6M416.2 96.4h.6M427.3 97.4h.6M423.6 87.8h.6M415.5 112.1h.6M422.6 97.3h.6M414.2 89.2h.6M416.1 97.6h.6M421.1 92.8h.6M418.1 98.9h.6M428.1 86.1h.6M414.0 107.6h.6M414.0 94.5h.6M422.3 113.4h.6M421.3 107.1h.6M422.5 91.2h.6M422.7 80.6h.6M426.2 110.5h.6M420.6 105.0h.6M416.0 110.5h.6M418.2 91.2h.6M417.6 83.0h.6M414.0 96.3h.6M424.1 93.2h.6M413.2 100.8h.6M427.2 98.9h.6M415.9 95.5h.6M428.3 107.4h.6M421.2 101.7h.6M418.9 99.1h.6M418.5 99.4h.6M418.9 99.7h.6M425.5 97.8h.6M414.7 102.2h.6M420.4 93.8h.6M424.8 90.9h.6M426.8 102.7h.6M418.0 92.1h.6M421.0 90.3h.6M426.8 78.9h.6M422.5 95.0h.6M415.8 103.4h.6M419.1 101.9h.6M419.3 95.6h.6M424.5 106.1h.6M427.1 97.8h.6M429.7 95.1h.6M414.3 82.1h.6M413.9 90.7h.6M412.0 100.8h.6M421.9 97.7h.6M423.0 97.1h.6M420.3 95.3h.6M421.9 88.4h.6M428.6 111.1h.6M416.5 105.7h.6M412.9 103.1h.6M417.7 106.6h.6M422.3 106.1h.6M425.0 102.5h.6M420.2 111.6h.6M423.6 102.1h.6M429.5 95.8h.6M431.1 107.2h.6M422.1 85.7h.6M428.3 95.4h.6M422.2 99.1h.6M426.9 103.4h.6M411.9 92.4h.6M423.6 99.5h.6M426.0 102.8h.6M430.5 91.9h.6M428.8 101.3h.6M423.3 103.8h.6M419.9 104.1h.6M420.6 104.1h.6M417.6 108.0h.6M413.5 92.4h.6M421.5 100.1h.6M417.4 94.6h.6M423.1 106.9h.6M428.7 94.0h.6M421.4 95.4h.6M413.5 94.2h.6M427.8 86.6h.6M431.1 99.6h.6M430.3 93.1h.6M428.6 104.5h.6M426.0 104.4h.6M424.9 103.5h.6M428.2 101.6h.6M425.1 101.7h.6M422.5 90.6h.6M412.0 89.4h.6M415.0 85.4h.6M425.5 95.2h.6M425.9 94.1h.6M423.8 96.3h.6M430.4 108.9h.6M423.3 113.2h.6M426.2 105.6h.6M415.4 92.8h.6M422.7 96.2h.6M418.9 81.0h.6M417.7 97.1h.6M423.4 88.9h.6M421.0 113.5h.6M422.6 81.3h.6M420.7 98.1h.6M428.6 99.7h.6M429.2 100.9h.6M428.1 109.6h.6M430.1 99.7h.6M415.2 99.7h.6M424.3 92.0h.6M426.2 96.7h.6M426.0 99.7h.6M416.7 107.0h.6M432.6 105.9h.6M423.3 83.3h.6M423.5 97.8h.6M417.5 81.7h.6M424.2 106.3h.6M421.6 110.2h.6M421.6 89.8h.6M421.4 101.8h.6M417.8 91.3h.6M423.2 105.5h.6M420.5 102.2h.6M419.0 95.1h.6M422.8 106.3h.6M430.3 97.0h.6M426.3 95.0h.6M424.0 85.9h.6M417.9 86.6h.6M427.3 94.2h.6M422.2 98.7h.6M420.7 88.0h.6M432.2 81.1h.6M421.6 104.0h.6M420.7 97.2h.6M423.4 100.1h.6M420.0 107.3h.6M424.5 110.9h.6M422.3 81.0h.6M412.9 93.7h.6M424.2 84.1h.6M418.7 108.7h.6M423.6 92.0h.6M421.2 99.0h.6M419.5 95.4h.6M418.4 100.0h.6M430.3 110.5h.6M421.1 86.1h.6M413.8 99.3h.6M423.0 92.6h.6M417.5 96.2h.6M423.2 103.8h.6M424.8 77.7h.6M418.6 100.3h.6M423.8 104.9h.6M413.8 111.5h.6M415.4 96.3h.6M419.3 94.0h.6M417.6 105.0h.6M426.0 101.1h.6M415.0 92.7h.6M421.5 101.5h.6M418.8 95.8h.6M420.2 77.0h.6M417.8 112.0h.6M426.3 87.8h.6M426.0 99.5h.6M417.5 104.9h.6M418.5 95.5h.6M421.9 99.9h.6M419.5 100.6h.6M421.8 99.7h.6M423.9 92.6h.6M414.5 97.4h.6M428.4 100.9h.6M423.0 91.7h.6M415.7 87.4h.6M416.9 94.9h.6M413.6 97.0h.6M413.4 103.6h.6M421.7 83.0h.6M418.9 100.0h.6M423.8 104.7h.6M419.9 96.8h.6M420.5 102.7h.6M418.1 96.7h.6M422.6 95.1h.6M416.0 109.7h.6M424.5 90.2h.6M432.3 91.5h.6M417.2 94.9h.6M424.7 110.9h.6M429.1 102.8h.6M422.2 103.7h.6M417.6 92.0h.6M424.6 99.8h.6M423.1 89.3h.6M423.1 85.7h.6M426.7 98.2h.6M418.4 94.0h.6M418.1 109.8h.6M421.9 100.3h.6M416.7 86.8h.6M423.1 94.3h.6M424.5 107.1h.6M421.2 102.7h.6M422.7 100.1h.6M419.0 100.1h.6M424.1 98.7h.6M419.4 85.6h.6M416.1 111.5h.6M427.2 100.6h.6M423.4 96.8h.6M425.4 106.3h.6M420.5 100.7h.6M426.9 84.5h.6M416.8 93.2h.6M415.6 94.3h.6M417.3 94.7h.6M424.3 88.0h.6M422.3 109.9h.6M422.8 87.6h.6M418.6 108.1h.6M420.4 92.7h.6M426.0 91.9h.6M415.9 103.3h.6M421.9 92.5h.6M424.3 107.5h.6M427.5 99.0h.6M424.2 102.3h.6M413.9 112.3h.6M418.3 93.3h.6M417.4 89.8h.6M427.6 98.1h.6M418.7 82.4h.6M422.7 97.6h.6M416.3 97.2h.6M412.1 103.6h.6M415.3 102.3h.6M422.3 79.9h.6M415.9 92.5h.6M426.0 103.2h.6M425.2 112.4h.6M420.3 93.7h.6M411.9 89.2h.6M424.8 90.9h.6M417.2 106.2h.6M428.6 82.7h.6M424.3 98.0h.6M426.6 95.2h.6M421.2 110.2h.6M418.7 101.7h.6M425.2 97.1h.6M426.4 102.5h.6M426.2 83.5h.6M416.3 100.6h.6M428.0 110.4h.6M421.9 91.7h.6M416.0 81.4h.6M419.2 103.0h.6M421.4 85.4h.6M421.3 98.5h.6M417.9 110.6h.6M424.1 107.5h.6M422.3 89.7h.6M427.5 107.6h.6M418.7 86.7h.6M426.1 93.2h.6M415.7 97.4h.6M424.7 91.7h.6M422.0 106.6h.6M425.8 84.7h.6M425.6 113.3h.6M426.7 97.4h.6M423.8 84.6h.6M418.7 93.6h.6M432.8 98.1h.6M416.7 112.6h.6M428.3 83.9h.6M420.8 83.6h.6M427.3 78.6h.6M431.6 89.0h.6M424.6 101.1h.6M426.3 89.6h.6M426.4 95.7h.6M424.6 100.1h.6M429.1 87.0h.6M414.5 103.7h.6M420.9 103.9h.6M415.4 98.9h.6M413.0 99.1h.6M425.6 112.7h.6M419.2 106.1h.6M428.9 89.1h.6M420.4 82.2h.6M417.2 101.9h.6M425.6 110.4h.6M418.6 78.3h.6M416.5 103.2h.6M421.7 104.1h.6M420.2 103.8h.6M416.7 89.7h.6M421.0 83.0h.6M428.3 95.9h.6M416.7 90.7h.6M416.7 99.2h.6M419.9 105.5h.6M415.7 97.5h.6M413.9 94.1h.6M429.0 97.1h.6M426.5 97.6h.6M416.1 90.5h.6M415.9 101.0h.6M430.6 105.4h.6M416.7 99.1h.6M418.0 108.2h.6M414.7 104.7h.6M415.4 94.1h.6M422.7 99.3h.6M421.5 97.5h.6M417.3 97.1h.6M421.4 90.0h.6M424.8 99.6h.6M417.8 109.3h.6M418.8 81.7h.6M428.4 94.8h.6M429.5 101.8h.6M417.1 107.7h.6M424.2 106.1h.6M422.0 111.5h.6M426.7 95.2h.6M413.9 97.7h.6M422.2 89.6h.6M420.8 111.0h.6M419.3 107.8h.6M416.9 89.7h.6M426.7 96.6h.6M422.9 107.0h.6M430.4 87.4h.6M424.9 100.0h.6M422.5 113.6h.6M420.5 92.9h.6M424.4 80.6h.6M423.7 90.4h.6M423.5 91.7h.6M424.5 95.9h.6M418.0 102.8h.6M425.7 84.2h.6M415.0 95.8h.6M419.8 109.6h.6M430.1 102.2h.6M427.5 95.3h.6M414.6 100.7h.6M412.5 112.2h.6M423.1 108.1h.6M418.4 84.1h.6M420.7 102.3h.6M420.6 93.7h.6M422.2 96.4h.6M429.1 86.7h.6M423.2 84.8h.6M421.6 101.9h.6M423.5 100.7h.6M417.8 85.5h.6M426.8 95.0h.6M414.6 111.5h.6M413.3 106.4h.6M423.5 108.9h.6M421.8 83.6h.6M420.9 94.3h.6M423.3 96.5h.6M424.7 87.5h.6M418.9 93.6h.6M423.9 83.2h.6M412.3 107.0h.6M422.3 106.7h.6M422.0 100.3h.6M423.7 102.0h.6M415.4 96.9h.6M431.4 110.4h.6M417.3 89.8h.6M420.8 107.3h.6M426.6 93.0h.6M413.0 108.4h.6M429.6 103.9h.6M424.9 103.0h.6M431.5 107.5h.6M429.4 88.1h.6M419.0 98.0h.6M421.6 97.5h.6M420.7 97.0h.6M419.9 85.7h.6M427.7 98.2h.6M423.7 98.4h.6M417.6 84.2h.6M420.2 102.7h.6M421.1 104.4h.6M417.6 95.5h.6M422.5 97.2h.6M422.7 110.5h.6M419.5 99.2h.6M418.3 102.8h.6M422.9 91.6h.6M416.4 87.6h.6M420.2 99.4h.6M419.1 97.1h.6M422.5 99.9h.6M432.0 101.3h.6M425.2 93.6h.6M418.9 104.8h.6M418.6 92.3h.6M413.9 100.6h.6M421.2 102.8h.6M417.2 87.3h.6M427.6 98.2h.6M425.9 88.1h.6M414.9 76.1h.6M423.3 106.6h.6M428.7 113.4h.6M412.1 88.6h.6M418.9 91.2h.6M420.6 91.1h.6M414.0 97.7h.6M422.4 91.3h.6M421.9 86.7h.6M420.0 95.1h.6M419.3 97.4h.6M415.0 86.4h.6M417.3 104.4h.6M416.7 89.9h.6M432.2 95.8h.6M419.7 90.3h.6M429.5 102.6h.6M423.1 111.9h.6M415.4 83.4h.6M427.6 101.8h.6M419.0 104.9h.6M415.0 101.1h.6M426.9 105.7h.6M419.8 94.6h.6M419.4 104.0h.6M419.6 96.8h.6M427.1 97.0h.6M423.0 96.9h.6M421.8 78.7h.6M416.7 101.2h.6M418.3 92.7h.6M417.7 89.7h.6M412.2 102.0h.6M421.4 90.7h.6M419.5 106.5h.6M427.1 101.2h.6M427.8 106.8h.6M419.3 104.9h.6M422.5 104.7h.6M415.1 101.2h.6M419.0 94.8h.6M421.6 97.6h.6M430.7 97.5h.6M423.0 107.3h.6M429.7 89.6h.6M423.3 86.4h.6M424.3 110.4h.6M418.9 95.6h.6M428.0 101.8h.6M426.0 94.0h.6M420.0 94.8h.6M430.0 85.0h.6M419.0 111.6h.6M421.3 88.5h.6M422.9 96.1h.6M421.1 102.4h.6M425.9 84.9h.6M422.8 111.1h.6M414.6 97.2h.6M415.5 103.8h.6M417.2 95.1h.6M419.5 102.0h.6M414.8 85.8h.6M422.7 109.9h.6M419.0 101.6h.6M423.1 98.9h.6M421.6 93.2h.6M420.4 108.5h.6M424.0 109.2h.6M417.8 99.0h.6M418.3 86.4h.6M426.4 95.5h.6M423.0 85.6h.6M420.3 96.9h.6M419.6 106.9h.6M424.1 99.2h.6M422.9 94.1h.6M417.9 95.5h.6M416.3 96.5h.6M421.1 107.9h.6M418.9 99.2h.6M421.5 92.6h.6M421.3 82.5h.6M427.6 92.9h.6M421.5 82.1h.6M424.7 86.7h.6M428.9 88.8h.6M417.8 103.8h.6M428.4 80.6h.6M412.8 112.2h.6M424.0 84.6h.6M419.4 104.1h.6M419.6 111.3h.6M417.9 99.5h.6M427.8 111.0h.6M422.9 103.1h.6M419.9 97.4h.6M418.6 101.4h.6M426.1 89.1h.6M415.5 98.4h.6M432.2 100.0h.6M422.4 97.6h.6M412.8 91.7h.6M429.6 79.4h.6M431.1 87.4h.6M429.6 96.8h.6M424.8 93.1h.6M419.3 99.8h.6M420.0 88.4h.6M420.2 103.7h.6M417.6 101.2h.6M414.6 98.8h.6M415.6 104.8h.6M416.2 103.4h.6M427.5 90.7h.6M421.9 90.4h.6M424.2 104.7h.6M427.7 109.8h.6M428.5 91.5h.6M422.3 102.7h.6M422.7 86.3h.6M422.0 74.9h.6M431.3 96.4h.6M433.6 88.7h.6M424.4 105.0h.6M414.1 95.0h.6M424.2 103.8h.6M423.7 74.8h.6M430.1 84.3h.6M423.7 106.2h.6M416.5 83.9h.6M423.1 94.0h.6M421.1 96.2h.6M421.0 100.7h.6M418.9 97.7h.6M418.7 90.2h.6M423.5 90.6h.6M424.5 97.7h.6M427.3 103.2h.6M425.1 98.9h.6M421.9 107.6h.6M425.2 86.0h.6M422.1 106.9h.6M422.5 86.6h.6M425.7 103.3h.6M427.7 99.5h.6M422.2 105.6h.6M415.8 113.2h.6M423.8 99.9h.6M425.6 105.0h.6M421.1 91.0h.6M426.4 106.3h.6M423.6 92.4h.6M422.2 89.5h.6M426.3 112.5h.6M417.1 93.2h.6M414.7 99.4h.6M420.5 98.1h.6M421.8 93.8h.6M422.2 97.4h.6M417.9 95.2h.6M418.6 86.4h.6M421.5 81.3h.6M424.4 97.7h.6M422.5 108.3h.6M426.7 94.0h.6M423.5 108.6h.6M420.8 101.3h.6M423.8 88.7h.6M423.1 94.5h.6M420.3 101.8h.6M425.1 89.9h.6M420.3 96.2h.6M416.6 101.3h.6M420.6 91.7h.6M426.6 97.2h.6M415.5 97.1h.6M420.7 100.6h.6M433.5 102.9h.6M429.2 96.4h.6M424.1 102.4h.6M421.1 100.1h.6M419.3 104.1h.6M416.9 113.2h.6M421.0 101.2h.6M422.4 83.5h.6M423.9 90.1h.6M422.7 94.2h.6M420.2 84.4h.6M414.7 93.0h.6M416.0 100.1h.6M414.3 99.9h.6M424.5 91.3h.6M416.6 94.9h.6M425.8 110.4h.6M433.0 98.7h.6M424.9 99.7h.6M421.5 88.4h.6M419.8 107.9h.6M428.9 92.6h.6M421.8 102.0h.6M420.7 81.9h.6M423.3 89.3h.6M420.1 92.4h.6M429.6 80.5h.6M413.5 93.5h.6M418.1 104.9h.6M429.9 91.4h.6M424.6 96.1h.6M430.8 90.6h.6M424.9 93.4h.6M421.1 93.9h.6M420.9 98.4h.6M418.4 100.4h.6M414.8 105.2h.6M416.6 81.4h.6M426.0 94.9h.6M418.8 106.1h.6M423.9 85.2h.6M419.0 92.0h.6M420.1 113.0h.6M424.0 102.9h.6M422.5 78.2h.6M418.9 97.7h.6M417.9 96.1h.6M417.1 87.9h.6M428.0 80.6h.6M427.1 87.7h.6M420.3 80.0h.6M425.1 89.0h.6M422.9 103.9h.6M416.5 90.6h.6M416.0 102.9h.6M423.2 107.0h.6M414.0 89.7h.6M421.0 94.0h.6M423.3 108.0h.6M422.3 90.8h.6M421.4 91.5h.6M420.5 97.4h.6M415.0 100.1h.6M425.5 104.1h.6M415.5 98.9h.6M426.5 93.8h.6M425.3 93.5h.6M421.6 92.8h.6M413.8 90.5h.6M422.5 95.4h.6M421.6 92.8h.6M426.3 96.4h.6M423.7 93.7h.6M428.5 97.1h.6M423.9 84.0h.6M418.1 100.9h.6M414.7 84.8h.6M421.0 83.9h.6M427.4 101.8h.6M420.0 108.8h.6M418.1 87.4h.6M426.4 98.1h.6M420.4 107.2h.6M420.9 103.7h.6M422.8 108.3h.6M424.5 93.8h.6M429.6 94.8h.6M430.8 86.6h.6M421.9 78.0h.6M424.4 109.9h.6M419.6 102.2h.6M420.5 110.8h.6M423.4 101.1h.6M427.4 84.4h.6M425.3 99.2h.6M428.5 98.2h.6M424.8 97.5h.6M416.5 93.5h.6M420.7 86.1h.6M421.4 93.8h.6M431.3 95.8h.6M422.3 98.8h.6M425.3 83.6h.6M412.5 112.1h.6M417.3 90.0h.6M427.8 100.6h.6M417.4 104.6h.6M415.7 112.5h.6M420.0 101.0h.6M416.6 97.1h.6M433.0 79.8h.6M419.1 100.5h.6M420.5 102.0h.6M427.8 87.9h.6M418.2 109.7h.6M431.9 74.1h.6M424.5 106.9h.6M418.1 90.2h.6M415.7 96.2h.6M415.6 104.3h.6M418.1 102.6h.6M413.4 105.9h.6M425.2 106.4h.6M426.8 98.4h.6M430.1 94.8h.6M422.5 112.6h.6M419.3 98.0h.6M423.0 99.6h.6M420.5 107.0h.6M433.0 94.6h.6M413.9 93.8h.6M414.4 86.7h.6M416.2 107.5h.6M422.5 104.3h.6M421.1 107.1h.6M419.6 109.6h.6M426.3 100.0h.6M414.0 88.2h.6M423.1 88.7h.6M420.8 96.6h.6M428.9 91.9h.6M422.4 93.9h.6M417.7 101.9h.6M426.8 85.3h.6M422.5 102.6h.6M416.2 94.4h.6M423.3 97.2h.6M429.0 90.2h.6M420.4 102.7h.6M421.3 95.8h.6M421.1 101.6h.6M425.6 88.6h.6M416.9 87.9h.6M424.0 81.5h.6M421.7 102.4h.6M420.7 95.7h.6M432.5 80.5h.6M423.1 91.4h.6M419.9 97.5h.6M412.0 103.5h.6M422.8 103.0h.6M418.6 104.6h.6M419.3 104.9h.6M428.8 103.6h.6M414.1 98.7h.6M422.8 86.7h.6M413.7 109.8h.6M416.4 101.7h.6M420.0 96.7h.6M419.4 98.1h.6M430.2 90.2h.6M424.4 102.3h.6M418.2 88.3h.6M417.0 103.1h.6M422.6 107.1h.6M423.6 99.1h.6M421.8 100.1h.6M422.0 104.0h.6M417.2 107.5h.6M430.3 97.2h.6M424.7 87.6h.6M422.3 85.3h.6M426.9 98.5h.6M427.4 108.0h.6M417.9 105.2h.6M421.2 102.9h.6M418.4 103.7h.6M424.9 110.9h.6M420.9 98.6h.6M424.4 96.5h.6M432.6 78.4h.6M412.7 93.6h.6M425.4 98.2h.6M423.9 84.6h.6M424.9 102.8h.6M430.4 105.3h.6M418.5 91.5h.6M415.8 93.7h.6M421.2 109.1h.6M430.4 98.7h.6M424.9 96.6h.6M414.9 102.7h.6M417.9 83.8h.6M417.3 111.2h.6M415.6 110.1h.6M414.5 97.4h.6M424.4 94.5h.6M416.6 98.1h.6M430.6 103.9h.6M422.8 103.1h.6M428.0 109.8h.6M420.3 90.3h.6M416.5 98.6h.6M420.2 98.1h.6M418.1 110.6h.6M417.2 91.1h.6M415.5 88.4h.6M413.1 90.8h.6M420.5 104.2h.6M412.3 101.9h.6M421.1 98.0h.6M425.3 108.2h.6M420.2 109.0h.6M422.1 90.0h.6M424.5 106.7h.6M423.0 97.8h.6M420.4 104.0h.6M412.2 100.7h.6M414.9 93.5h.6M422.8 108.9h.6M421.7 89.9h.6M417.8 92.7h.6M422.3 86.3h.6M426.3 98.9h.6M419.6 99.9h.6M415.6 99.8h.6M423.6 108.5h.6M432.4 92.5h.6M423.7 91.1h.6M422.4 108.2h.6M425.2 95.5h.6M431.3 105.9h.6M428.3 98.8h.6M428.8 96.8h.6M426.4 98.4h.6M421.7 84.4h.6M427.0 103.1h.6M418.4 98.6h.6M424.9 103.7h.6M427.8 99.3h.6M422.8 100.6h.6M419.6 111.4h.6M418.2 93.4h.6M420.5 84.1h.6M427.3 87.7h.6M429.8 106.4h.6M432.5 92.8h.6M420.1 94.1h.6M426.0 90.2h.6M420.0 77.7h.6M422.0 99.9h.6M432.4 90.7h.6M426.9 103.1h.6M426.5 88.3h.6M426.9 99.6h.6M418.0 94.5h.6M430.0 83.3h.6M423.5 111.5h.6M425.7 97.7h.6M418.7 81.8h.6M424.6 92.7h.6M419.7 100.9h.6M421.1 108.1h.6M416.4 84.0h.6M426.5 95.0h.6M414.5 107.6h.6M424.5 82.8h.6M422.4 86.0h.6M417.2 110.5h.6M429.9 104.2h.6M413.6 105.5h.6M417.3 93.6h.6M419.0 107.7h.6M424.5 103.2h.6M419.4 93.5h.6M427.6 92.6h.6M420.2 103.1h.6M420.8 106.9h.6M424.8 103.8h.6M433.1 86.5h.6M417.5 75.7h.6M418.1 90.9h.6M425.6 109.4h.6M427.6 96.4h.6M419.8 80.6h.6M426.5 89.6h.6M425.3 92.0h.6M424.4 89.5h.6M423.8 85.7h.6M417.5 99.3h.6M426.2 86.9h.6M416.8 83.4h.6M431.4 100.7h.6M423.5 94.1h.6M432.2 103.3h.6M421.2 109.1h.6M425.0 95.5h.6M419.8 98.1h.6M429.3 85.2h.6M412.7 104.2h.6M427.5 111.3h.6M424.9 84.4h.6M426.2 99.6h.6M416.2 83.5h.6M413.3 98.7h.6M414.7 101.3h.6M420.9 103.9h.6M426.5 89.7h.6M419.7 104.8h.6M418.2 107.3h.6M425.0 106.2h.6M418.5 105.2h.6M420.6 100.0h.6M425.2 92.9h.6M421.5 76.3h.6M418.0 103.7h.6M415.8 78.7h.6M413.9 95.3h.6M425.4 102.9h.6M414.0 101.7h.6M415.1 108.0h.6M423.9 92.2h.6M419.2 97.3h.6M418.6 108.7h.6M423.4 92.8h.6M424.2 85.4h.6M422.6 95.0h.6M418.6 97.5h.6M423.0 84.6h.6M426.1 92.6h.6M423.7 113.2h.6M415.9 113.2h.6M417.3 107.6h.6M418.7 109.5h.6M426.6 101.1h.6M417.3 107.6h.6M423.8 88.1h.6M424.7 96.5h.6M421.1 89.0h.6M422.9 105.9h.6M417.2 105.4h.6M412.0 99.0h.6M423.2 89.2h.6M422.6 86.0h.6M431.8 101.6h.6M427.6 89.5h.6M428.9 96.5h.6M427.9 101.7h.6M423.5 107.7h.6M418.6 94.2h.6M427.6 102.2h.6M418.9 88.1h.6M426.6 96.6h.6M414.8 101.7h.6M423.3 74.9h.6M416.8 105.0h.6M419.2 97.5h.6M421.3 111.1h.6M423.5 96.5h.6M418.3 107.2h.6M418.1 101.8h.6M423.9 104.8h.6M425.9 100.6h.6M432.1 105.2h.6M417.8 89.7h.6M418.1 110.2h.6M416.0 112.4h.6M424.0 92.6h.6M416.5 97.1h.6M425.7 97.3h.6M425.5 99.5h.6M428.8 93.5h.6M421.0 87.6h.6M420.1 88.9h.6M413.8 95.9h.6M425.3 77.4h.6M415.1 85.2h.6M423.7 103.2h.6M423.4 96.3h.6M417.7 99.7h.6M417.2 95.9h.6M423.8 95.7h.6M428.0 78.0h.6M413.5 107.1h.6M418.8 93.7h.6M418.9 97.4h.6M420.9 101.3h.6M417.1 99.9h.6M416.5 98.6h.6M423.2 97.6h.6M422.9 104.0h.6M416.3 97.5h.6M427.2 106.5h.6M426.8 90.4h.6M418.3 107.0h.6M421.7 100.7h.6M419.9 106.3h.6M422.6 88.9h.6M423.6 94.8h.6M420.4 103.2h.6M422.5 92.7h.6M415.7 93.9h.6M421.0 87.1h.6M418.4 98.6h.6M415.3 95.0h.6M423.0 99.5h.6M413.0 98.3h.6M416.7 108.0h.6M421.2 112.5h.6M423.6 87.3h.6M426.6 93.5h.6M421.2 98.9h.6M415.0 108.7h.6M422.5 88.5h.6M414.6 102.2h.6M428.0 101.7h.6M423.3 94.2h.6M427.4 103.0h.6M417.6 92.4h.6M424.0 105.0h.6M416.5 90.3h.6M430.1 106.3h.6M425.6 97.0h.6M421.5 99.3h.6M423.9 92.5h.6M419.0 89.3h.6M416.8 110.3h.6M418.2 91.1h.6M427.3 96.5h.6M421.5 104.4h.6M427.6 100.2h.6M429.8 91.9h.6M419.0 104.3h.6M425.1 82.2h.6M420.1 104.3h.6M413.5 99.9h.6M417.3 83.5h.6M420.5 97.5h.6M419.6 92.3h.6M426.2 88.6h.6M418.5 85.3h.6M427.7 84.7h.6M430.6 89.7h.6M421.5 112.9h.6M416.2 110.1h.6M415.0 93.9h.6M424.6 101.2h.6M423.4 101.0h.6M429.8 83.4h.6M418.1 106.0h.6M414.1 91.8h.6M424.4 98.8h.6M420.9 90.1h.6M417.2 89.2h.6M415.1 99.3h.6M423.9 89.6h.6M422.4 86.1h.6M423.7 95.2h.6M421.4 99.9h.6M428.5 100.0h.6M418.3 99.6h.6M423.8 103.0h.6M427.2 90.7h.6M415.5 103.8h.6M415.9 102.3h.6M414.1 90.7h.6M423.7 95.6h.6M425.3 100.4h.6M423.4 103.2h.6M413.6 108.6h.6M414.4 90.1h.6M423.8 94.7h.6M415.5 78.3h.6M424.6 87.7h.6M419.8 100.4h.6M421.4 101.9h.6M430.3 104.6h.6M416.4 97.8h.6M420.5 90.4h.6M425.1 94.7h.6M422.9 104.0h.6M432.6 92.6h.6M430.0 100.9h.6M417.9 99.7h.6M418.5 94.4h.6M412.7 95.6h.6M424.4 94.5h.6M421.9 99.3h.6M420.4 100.8h.6M420.8 102.3h.6M417.5 98.8h.6M430.5 90.8h.6M417.5 106.8h.6M423.4 99.6h.6M422.7 94.5h.6M419.0 102.9h.6M422.6 104.1h.6M422.2 111.0h.6M426.9 91.4h.6M430.0 93.1h.6M427.0 91.4h.6M423.6 99.7h.6M429.2 78.7h.6M425.7 93.7h.6M422.2 82.4h.6M419.7 92.3h.6M426.4 100.6h.6M420.9 108.9h.6M418.3 105.3h.6M420.5 102.5h.6M420.2 111.1h.6M425.9 90.8h.6M419.4 110.6h.6M429.5 87.3h.6M422.6 104.0h.6M420.7 106.8h.6M422.2 90.6h.6M421.5 96.4h.6M420.6 99.2h.6M423.6 91.3h.6M425.3 84.1h.6M425.3 102.9h.6M424.0 84.9h.6M419.1 100.3h.6M424.2 105.3h.6M413.7 98.7h.6M427.4 87.9h.6M415.4 94.2h.6M420.3 96.1h.6M428.3 101.0h.6M411.7 105.7h.6M422.3 106.3h.6M421.6 111.1h.6M422.5 94.1h.6M415.4 106.9h.6M421.0 82.6h.6M426.2 110.4h.6M428.2 91.8h.6M424.2 105.3h.6M414.0 111.7h.6M424.4 106.2h.6M417.1 106.1h.6M421.5 95.8h.6M421.9 101.7h.6M413.8 98.6h.6M423.7 83.9h.6M425.3 98.6h.6M416.3 88.5h.6M415.3 106.7h.6M417.2 100.3h.6M419.4 106.8h.6M428.5 107.0h.6M425.2 108.3h.6M430.7 90.7h.6M423.2 92.7h.6M422.0 96.6h.6M422.4 105.1h.6M414.9 75.0h.6M423.2 108.3h.6M419.7 112.1h.6M433.6 99.3h.6M420.6 103.4h.6M425.8 85.1h.6M424.4 80.0h.6M416.1 100.7h.6M423.4 87.9h.6M422.0 110.4h.6M413.1 103.8h.6M428.5 86.5h.6M428.0 102.8h.6M420.1 98.9h.6M421.5 99.0h.6M420.7 92.0h.6M420.7 111.6h.6M417.7 87.1h.6M425.1 100.9h.6M424.1 90.0h.6M419.7 108.0h.6M430.2 101.1h.6M423.8 74.8h.6M418.3 110.6h.6M431.8 91.2h.6M414.9 94.9h.6M418.6 95.4h.6M416.6 104.7h.6M423.3 86.8h.6M424.7 100.7h.6M416.3 99.9h.6M423.5 92.1h.6M422.4 94.6h.6M418.4 93.9h.6M424.0 113.8h.6M419.4 99.8h.6M420.5 83.4h.6M421.3 96.9h.6M417.3 105.6h.6M423.8 96.0h.6M417.1 101.5h.6M417.5 91.0h.6M419.1 107.4h.6M420.2 97.3h.6M419.9 104.2h.6M420.8 106.3h.6M420.9 106.5h.6M420.1 92.0h.6M423.8 96.9h.6M419.3 111.9h.6M419.0 91.7h.6M419.9 111.9h.6M414.6 109.4h.6M424.3 95.2h.6M419.9 92.2h.6M414.3 84.2h.6M419.3 104.2h.6M416.7 95.8h.6M417.5 97.0h.6M423.7 109.9h.6M424.7 102.2h.6M428.8 105.4h.6M424.1 104.0h.6M425.9 89.4h.6M416.9 99.7h.6M412.2 96.4h.6M419.8 101.8h.6M425.2 110.8h.6M423.3 112.0h.6M418.3 102.7h.6M420.7 90.3h.6M422.8 107.7h.6M419.6 99.7h.6M427.2 97.1h.6M419.8 101.6h.6M423.8 102.6h.6M428.0 102.9h.6M415.2 84.0h.6M421.7 94.9h.6M422.9 103.7h.6M428.0 87.2h.6M425.5 100.6h.6M425.8 108.8h.6M424.1 91.7h.6M420.8 108.5h.6M413.6 106.9h.6M417.0 93.2h.6M426.7 96.3h.6M423.6 75.0h.6M412.8 103.5h.6M424.0 91.5h.6M422.6 90.5h.6M422.1 93.6h.6M416.1 105.3h.6M421.4 99.2h.6M414.9 92.4h.6M420.0 93.4h.6M423.2 99.2h.6M420.2 97.3h.6M423.5 108.1h.6M415.8 107.6h.6M426.1 106.1h.6M418.5 100.8h.6M432.4 86.7h.6M425.8 96.5h.6M430.1 100.1h.6M425.8 93.2h.6M418.8 113.6h.6M414.7 94.1h.6M420.1 87.4h.6M424.7 87.6h.6M421.6 96.7h.6M413.3 99.1h.6M425.7 101.4h.6M427.3 113.8h.6M425.2 97.1h.6M420.8 104.6h.6M414.9 89.3h.6M415.5 101.1h.6M417.7 105.4h.6M423.2 98.5h.6M426.1 96.5h.6M420.8 101.7h.6M425.5 91.4h.6M418.9 91.9h.6M424.4 102.5h.6M422.4 86.9h.6M417.1 85.6h.6M414.2 92.0h.6M422.9 103.4h.6M412.0 104.6h.6M423.3 113.4h.6M425.9 85.0h.6M423.9 101.0h.6M423.1 92.1h.6M428.9 99.7h.6M418.3 82.2h.6M420.0 86.2h.6M413.7 113.8h.6M421.0 107.8h.6M427.2 105.6h.6M419.1 88.0h.6M420.5 99.9h.6M420.6 96.0h.6M422.1 85.5h.6M426.9 87.9h.6M422.0 90.7h.6M428.5 93.6h.6M416.5 95.4h.6M426.0 87.4h.6M414.6 93.9h.6M420.5 107.4h.6M420.7 81.6h.6M419.1 104.5h.6M415.5 96.0h.6M417.9 102.4h.6M419.8 94.9h.6M424.0 105.8h.6M422.5 102.0h.6M422.3 87.6h.6M425.5 106.9h.6M417.3 82.5h.6M418.2 100.5h.6M428.8 100.8h.6M421.7 101.0h.6M413.4 95.4h.6M422.1 105.2h.6M417.8 94.7h.6M419.0 103.3h.6M432.0 100.4h.6M422.3 90.2h.6M420.9 111.9h.6M425.7 94.1h.6M422.7 90.3h.6M424.7 97.3h.6M425.6 110.4h.6M418.3 106.2h.6M423.7 93.8h.6M422.9 110.3h.6M422.3 107.8h.6M423.2 110.5h.6M420.7 95.7h.6M424.8 77.4h.6M418.7 113.0h.6M430.0 94.1h.6M417.4 102.4h.6M429.6 92.1h.6M426.0 94.0h.6M427.2 103.1h.6M429.1 97.9h.6M425.8 86.9h.6M416.3 103.5h.6M422.0 106.9h.6M433.7 92.9h.6M415.2 88.8h.6M418.2 109.6h.6M423.5 95.9h.6M425.0 97.1h.6M422.8 98.5h.6M414.3 106.3h.6M422.0 93.1h.6M422.4 91.9h.6M421.3 95.2h.6M423.3 90.1h.6M420.9 94.8h.6M416.3 98.0h.6M425.2 105.5h.6M423.2 97.6h.6M426.6 96.0h.6M425.1 82.5h.6M415.1 91.8h.6M427.6 96.2h.6M424.0 88.3h.6M421.6 92.4h.6M422.9 96.3h.6M419.0 75.4h.6M422.7 77.9h.6M418.8 84.2h.6M432.2 86.6h.6M419.4 102.1h.6M419.8 100.9h.6M426.5 92.6h.6M424.3 97.4h.6M414.5 101.3h.6M415.8 108.3h.6M421.6 100.2h.6M426.9 90.8h.6M417.3 112.0h.6M425.4 102.6h.6M416.5 92.9h.6M412.8 83.1h.6M419.2 102.1h.6M418.8 96.8h.6M422.0 111.2h.6M418.4 99.7h.6M426.0 87.3h.6M415.8 94.3h.6M429.2 93.8h.6M414.8 80.8h.6M422.5 108.4h.6M417.3 94.7h.6M415.6 91.6h.6M427.1 93.4h.6M415.9 104.2h.6M423.0 98.0h.6M432.8 101.3h.6M427.9 86.8h.6M421.2 110.4h.6M425.7 107.1h.6M413.5 95.8h.6M430.8 112.2h.6M429.1 106.0h.6M422.1 106.0h.6M428.4 89.3h.6M427.4 105.9h.6M418.8 113.4h.6M428.6 106.9h.6M419.1 101.1h.6M432.7 102.6h.6M417.9 91.6h.6M430.2 101.5h.6M418.0 96.6h.6M419.5 97.2h.6M431.7 92.0h.6M424.5 107.3h.6M433.1 92.6h.6M420.0 94.6h.6M414.7 98.4h.6M417.3 96.3h.6M422.5 105.5h.6M423.5 103.3h.6M424.6 97.5h.6M427.1 99.9h.6M414.2 93.4h.6M430.0 83.2h.6M431.5 99.5h.6M423.1 110.1h.6M423.0 93.9h.6M415.1 105.0h.6M422.2 89.5h.6M428.3 106.7h.6M414.8 99.3h.6M426.0 106.7h.6M414.3 102.8h.6M425.5 102.1h.6M412.5 94.0h.6M421.0 96.2h.6M426.8 94.7h.6M424.4 90.7h.6M421.5 108.7h.6M418.7 98.0h.6M413.6 87.0h.6M425.0 109.2h.6M418.0 96.5h.6M423.6 94.2h.6M422.1 94.5h.6M425.1 93.4h.6M419.0 85.4h.6M417.3 84.3h.6M420.9 107.6h.6M414.4 90.2h.6M417.4 102.6h.6M420.0 95.2h.6M416.3 95.7h.6M419.7 90.7h.6M429.7 102.8h.6M420.8 101.1h.6M418.7 97.9h.6M428.2 102.5h.6M420.2 99.1h.6M415.4 95.2h.6M419.4 95.9h.6M429.4 98.5h.6M428.3 98.1h.6M413.2 109.5h.6M418.6 97.1h.6M427.9 111.2h.6M422.6 110.0h.6M418.9 104.2h.6M416.6 107.3h.6M418.5 104.3h.6" stroke="#000" stroke-width=".6" opacity="0.4"/>
<path d="M414.8 113.0h.6M426.4 102.5h.6M420.0 98.1h.6M418.9 95.1h.6M422.7 103.7h.6M424.5 104.1h.6M418.8 98.9h.6M422.3 103.3h.6M414.8 94.9h.6M423.6 103.4h.6M419.4 100.7h.6M417.5 104.0h.6M420.5 96.7h.6M429.9 109.7h.6M411.9 104.5h.6M424.3 100.1h.6M414.1 107.4h.6M417.2 104.0h.6M426.5 104.1h.6M425.2 99.2h.6M412.2 101.7h.6M418.1 108.2h.6M421.5 91.8h.6M415.1 101.4h.6M416.7 100.1h.6M418.3 105.0h.6M413.5 98.3h.6M416.0 111.5h.6M419.0 94.9h.6M421.7 109.8h.6M413.1 96.5h.6M421.5 104.4h.6M422.2 113.9h.6M422.4 110.2h.6M417.7 112.7h.6M416.8 106.1h.6M411.4 101.5h.6M422.9 98.4h.6M417.8 90.7h.6M418.3 96.0h.6M419.9 101.1h.6M416.9 102.0h.6M418.0 104.0h.6M418.6 111.1h.6M424.1 88.6h.6M425.2 102.7h.6M421.2 98.4h.6M422.2 107.5h.6M417.4 97.1h.6M421.8 106.7h.6M416.0 90.9h.6M415.2 106.5h.6M424.9 98.0h.6M417.4 97.3h.6M421.2 99.1h.6M426.6 107.6h.6M418.9 101.5h.6M423.9 101.6h.6M418.1 104.6h.6M424.0 112.7h.6M418.3 96.5h.6M416.0 102.9h.6M422.3 87.9h.6M422.4 106.5h.6M420.6 94.9h.6M420.1 100.8h.6M415.9 107.7h.6M424.8 105.1h.6M422.1 110.1h.6M419.9 101.4h.6M425.8 100.2h.6M418.5 106.0h.6M418.1 98.1h.6M424.2 103.8h.6M417.0 100.4h.6M422.2 108.9h.6M420.6 111.0h.6M419.7 113.6h.6M423.5 97.0h.6M419.4 105.9h.6M419.7 97.9h.6M421.7 103.5h.6M413.8 96.1h.6M418.2 109.6h.6M419.7 105.1h.6M423.6 102.6h.6M419.9 103.5h.6M423.5 99.9h.6M421.4 99.5h.6M420.2 110.6h.6M416.7 106.9h.6M420.1 105.3h.6M421.9 104.4h.6M421.8 114.9h.6M417.1 97.4h.6M422.8 106.3h.6M427.8 100.2h.6M422.7 100.6h.6M417.9 100.3h.6M416.6 98.2h.6M418.6 103.0h.6M420.1 108.9h.6M416.3 103.4h.6M416.4 109.0h.6M416.2 101.8h.6M416.7 110.4h.6M415.1 97.0h.6M418.3 101.8h.6M416.2 110.8h.6M417.7 91.3h.6M419.1 96.0h.6M417.3 101.0h.6M416.3 101.4h.6M418.3 107.7h.6M429.8 99.7h.6M418.0 110.8h.6M426.5 108.7h.6M418.8 115.6h.6M420.2 111.2h.6M417.7 96.5h.6M425.1 98.6h.6M415.8 104.8h.6M416.2 108.0h.6M420.2 102.7h.6M417.6 112.8h.6M425.3 110.8h.6M414.7 113.9h.6M420.3 114.3h.6M421.9 99.9h.6M413.4 99.9h.6M424.6 101.2h.6M426.3 96.2h.6M422.4 103.3h.6M414.4 106.2h.6M418.3 102.2h.6M411.7 97.9h.6M417.3 103.0h.6M416.6 116.3h.6M418.2 105.2h.6M418.6 111.6h.6M422.1 110.0h.6M413.8 104.9h.6M419.3 107.8h.6M417.2 104.8h.6M416.0 101.8h.6M421.2 100.9h.6M416.5 103.1h.6M421.1 106.5h.6M415.2 101.4h.6M415.3 97.9h.6M429.1 111.3h.6M422.6 102.2h.6M423.2 113.3h.6M424.6 108.3h.6M415.9 118.5h.6M422.8 109.2h.6M421.2 106.2h.6M418.2 93.7h.6M426.8 119.7h.6M421.7 108.1h.6M419.7 108.6h.6M419.2 103.5h.6M422.2 93.6h.6M425.3 101.6h.6M421.9 107.7h.6M426.0 114.2h.6M414.7 98.2h.6M420.4 94.1h.6M422.2 103.2h.6M416.7 109.1h.6M416.1 99.5h.6M419.7 109.2h.6M419.0 101.9h.6M420.5 101.7h.6M412.5 109.6h.6M421.6 110.7h.6M420.2 106.8h.6M413.2 95.7h.6M412.1 111.1h.6M417.0 112.1h.6M421.4 101.2h.6M419.3 99.2h.6M417.9 106.0h.6M422.3 101.0h.6M413.5 110.9h.6M415.3 108.3h.6M413.7 98.5h.6M411.8 107.9h.6M421.4 122.8h.6M427.0 104.8h.6M411.6 102.6h.6M420.6 106.2h.6M420.2 97.9h.6M418.4 115.4h.6M417.5 101.6h.6M414.9 100.2h.6M424.3 106.2h.6M417.6 101.8h.6M422.8 100.5h.6M416.5 102.1h.6M409.5 110.9h.6M416.4 108.6h.6M419.5 110.1h.6M417.5 118.9h.6M421.8 102.7h.6M420.8 91.4h.6M415.1 91.6h.6M418.5 117.2h.6M420.9 95.1h.6M413.5 106.3h.6M422.1 102.7h.6M425.3 105.5h.6M427.6 109.1h.6M427.7 87.9h.6M422.6 108.7h.6M425.5 107.6h.6M421.1 105.9h.6M420.4 107.4h.6M425.9 94.2h.6M417.8 95.1h.6M417.2 105.7h.6M420.3 106.3h.6M422.5 106.6h.6M418.3 103.3h.6M415.4 101.3h.6M419.2 106.3h.6M413.3 110.7h.6M419.3 94.6h.6M418.9 107.5h.6M419.9 101.5h.6M416.0 105.3h.6M420.2 105.8h.6M418.0 111.4h.6M412.4 104.0h.6M413.1 92.2h.6M420.2 109.0h.6M418.4 106.7h.6M418.8 110.9h.6M417.2 107.2h.6M420.8 94.5h.6M424.1 100.5h.6M415.0 100.0h.6M422.9 101.5h.6M422.6 98.3h.6M420.5 93.6h.6M418.3 111.8h.6M417.4 105.1h.6M412.3 114.0h.6M418.6 106.7h.6M418.0 97.7h.6M418.1 102.0h.6M415.4 103.0h.6M415.6 101.0h.6M408.3 98.1h.6M420.7 105.3h.6M418.5 106.4h.6M426.2 106.1h.6M419.9 103.4h.6M420.8 107.8h.6M410.7 116.6h.6M423.2 106.8h.6M417.1 103.3h.6M416.4 112.0h.6M416.8 94.3h.6M418.6 98.9h.6M420.2 104.8h.6M416.1 94.7h.6M418.1 96.2h.6M418.7 105.0h.6M417.9 104.9h.6M417.8 113.8h.6M412.4 97.5h.6M423.8 96.6h.6M421.8 102.6h.6M419.4 95.5h.6M417.8 103.1h.6M411.0 104.0h.6M417.6 90.5h.6M420.0 101.8h.6M413.4 110.8h.6M418.9 97.2h.6M415.9 105.7h.6M417.2 108.1h.6M414.4 105.5h.6M421.1 107.0h.6M416.1 98.3h.6M414.9 104.5h.6M411.2 120.5h.6M418.2 111.1h.6M418.1 111.8h.6M418.3 109.9h.6M423.2 105.6h.6M414.4 106.4h.6M419.9 102.1h.6M418.4 108.0h.6M411.2 107.2h.6M425.5 99.9h.6M424.0 101.2h.6M418.1 101.8h.6M419.2 99.4h.6M417.0 102.5h.6M415.7 103.5h.6M423.2 99.0h.6M420.0 99.4h.6M414.8 103.8h.6M418.2 109.8h.6M422.0 104.4h.6M416.7 111.9h.6M414.2 99.4h.6M422.1 106.3h.6M421.6 102.6h.6M422.1 110.8h.6M411.8 107.0h.6M423.0 97.8h.6M415.6 106.0h.6M421.6 103.8h.6M412.9 105.1h.6M418.8 101.6h.6M423.2 91.3h.6M419.6 100.3h.6M421.5 102.0h.6M425.9 104.9h.6M417.2 94.3h.6M418.2 103.6h.6M425.3 106.0h.6M419.9 98.5h.6M420.0 98.2h.6M413.8 106.4h.6M417.5 96.0h.6M423.6 111.0h.6M421.0 94.2h.6M416.0 98.1h.6M420.2 123.8h.6M422.8 103.2h.6M416.0 95.6h.6M416.4 104.8h.6M418.3 106.8h.6M421.3 97.1h.6M422.5 104.0h.6M425.5 103.0h.6M417.9 103.1h.6M424.0 106.9h.6M423.8 109.9h.6M420.5 117.5h.6M418.9 102.5h.6M423.6 97.0h.6M420.5 109.7h.6M415.9 92.7h.6M413.8 110.5h.6M428.9 98.6h.6M414.3 96.4h.6M425.3 108.3h.6M421.9 99.6h.6M421.9 99.5h.6M421.5 99.4h.6M414.4 101.2h.6M420.9 105.7h.6M417.2 109.2h.6M413.2 92.3h.6M421.6 102.9h.6M419.2 101.1h.6M421.4 105.1h.6M424.7 98.2h.6M414.5 103.0h.6M418.4 102.0h.6M411.0 105.9h.6M425.9 105.9h.6M424.1 107.3h.6M420.4 106.1h.6M423.6 106.5h.6M421.9 103.4h.6M416.5 105.9h.6M417.8 107.2h.6M410.8 114.2h.6M424.5 112.7h.6M420.9 97.6h.6M417.9 96.9h.6M421.0 103.9h.6M420.1 92.9h.6M413.6 90.9h.6M424.9 106.7h.6M419.7 101.7h.6M412.5 101.6h.6M417.8 98.8h.6M423.4 91.9h.6M420.1 108.5h.6M422.6 94.9h.6M408.6 111.9h.6M425.0 102.8h.6M418.4 105.8h.6M423.7 104.5h.6M418.2 105.0h.6M421.0 115.9h.6M419.6 98.3h.6M427.0 112.6h.6M425.3 98.2h.6M417.2 95.7h.6M419.0 111.6h.6M423.2 104.1h.6M420.5 106.7h.6M419.0 97.6h.6M416.8 113.6h.6M415.9 97.1h.6M421.8 101.8h.6M418.2 104.7h.6M419.1 94.1h.6M423.3 105.1h.6M426.3 108.8h.6M417.3 101.2h.6M416.8 90.8h.6M422.5 99.8h.6M423.5 104.8h.6M419.2 113.4h.6M415.9 114.2h.6M418.2 116.5h.6M424.2 100.7h.6M426.6 106.3h.6M421.0 101.5h.6M419.5 101.4h.6M418.3 108.5h.6M422.9 111.2h.6M424.4 103.4h.6M422.6 102.3h.6M422.0 107.5h.6M421.2 99.2h.6M415.0 113.9h.6M416.6 100.2h.6M421.2 101.6h.6M421.4 111.9h.6M413.6 104.4h.6M422.1 95.6h.6M422.6 112.6h.6M419.9 106.7h.6M418.6 109.7h.6M417.7 103.9h.6M417.1 99.6h.6M424.3 103.5h.6M423.3 94.5h.6M415.0 98.6h.6M427.2 110.7h.6M428.5 101.2h.6M422.1 106.0h.6M418.7 107.4h.6M419.6 106.7h.6M412.7 97.7h.6M415.8 113.8h.6M423.2 98.2h.6M421.7 100.5h.6M415.3 98.5h.6M431.5 104.4h.6M419.4 111.2h.6M420.8 97.4h.6M428.2 116.9h.6M422.9 98.9h.6M419.5 104.6h.6M415.4 119.5h.6M419.8 100.6h.6M418.7 102.0h.6M409.8 104.7h.6M424.4 105.2h.6M421.5 103.4h.6M412.9 107.4h.6M422.4 97.8h.6M415.3 100.5h.6M414.5 89.3h.6M418.2 100.4h.6M420.2 110.9h.6M416.2 94.7h.6M419.3 107.9h.6M425.4 109.4h.6M420.3 104.2h.6M412.9 108.0h.6M422.8 103.4h.6M418.6 106.3h.6M421.5 106.9h.6M421.4 94.9h.6M417.5 94.2h.6M422.9 119.1h.6M416.6 103.1h.6M420.7 99.7h.6M426.4 105.1h.6M428.2 117.3h.6M421.7 99.4h.6M424.9 102.3h.6M416.6 102.7h.6M424.2 99.2h.6M418.8 109.0h.6M418.6 109.1h.6M424.5 101.0h.6M415.1 96.9h.6M424.7 107.1h.6M420.0 101.6h.6M423.9 101.1h.6M430.4 105.8h.6M413.4 110.1h.6M420.7 103.8h.6M419.0 110.9h.6M417.8 113.0h.6M416.7 109.2h.6M413.8 109.5h.6" stroke="#000" stroke-width=".6" opacity="0.45"/>
<ellipse cx="422.2" cy="96" rx="8.5" ry="14" fill="#000" opacity="0.4" filter="url(#b2)"/>
<ellipse cx="420.2" cy="99.5" rx="6" ry="8.5" fill="#000" opacity="0.8" filter="url(#b2)"/>
<ellipse cx="421.2" cy="111.5" rx="4" ry="1.8" fill="#000" opacity="0.7" filter="url(#b1)"/>
<path d="M412.2 73L427.7 73L427.9 79L425.7 84L421.7 88L417.7 90.5L412.7 91.5Z" fill="#000" opacity="1" filter="url(#b1)"/>
<ellipse cx="427.7" cy="83" rx="3" ry="6" fill="#000" opacity="0.35" filter="url(#b15)"/>
<ellipse cx="440.3" cy="79.8" rx="2" ry="2.2" fill="#000" opacity="0.4" filter="url(#b08)"/>
<ellipse cx="441.0" cy="96" rx="1.4" ry="5" fill="#000" opacity="0.5" filter="url(#b08)"/>
<ellipse cx="441.0" cy="102" rx="1.2" ry="7" fill="#000" opacity="0.2" filter="url(#b1)"/>
<path d="M439.6 96.5h.6M442.1 93.3h.6M441.8 97.9h.6M442.9 103.1h.6M441.4 96.8h.6M439.7 106.1h.6M440.7 90.5h.6M439.8 86.8h.6M439.7 95.2h.6M441.4 103.2h.6M442.2 87.2h.6M440.3 101.3h.6M441.5 97.7h.6M439.8 102.0h.6M440.9 96.4h.6M440.8 96.5h.6M441.4 104.2h.6M441.1 94.1h.6M440.8 96.9h.6M441.7 102.3h.6M443.4 103.0h.6M438.5 92.9h.6M439.1 99.6h.6M444.4 100.5h.6M440.2 105.9h.6M441.9 93.0h.6M439.6 106.4h.6M442.1 85.6h.6M439.9 101.1h.6M439.0 97.8h.6M439.7 88.0h.6M440.2 94.7h.6M441.4 87.7h.6M441.4 95.7h.6M438.6 104.9h.6M440.3 100.2h.6M443.3 100.2h.6M442.4 99.0h.6M440.1 98.9h.6M438.6 100.6h.6M442.2 100.3h.6M440.0 90.7h.6M439.9 96.1h.6M438.9 109.0h.6M439.8 98.6h.6M440.3 98.5h.6M437.8 91.8h.6M440.9 97.6h.6M441.5 94.7h.6M442.2 99.1h.6M440.9 97.9h.6M442.5 97.6h.6M443.3 98.5h.6M441.3 97.8h.6M441.4 100.5h.6M440.0 102.4h.6M444.8 101.0h.6M441.1 93.1h.6M439.8 93.0h.6M441.3 93.8h.6M443.3 95.3h.6M439.6 92.5h.6M440.8 97.0h.6M442.3 93.6h.6M441.5 103.4h.6M440.5 87.7h.6M441.3 103.8h.6M441.5 97.8h.6M438.1 107.2h.6M440.7 90.9h.6" stroke="#000" stroke-width=".6" opacity="0.25"/>
</g>
<rect x="411.7" y="74" width="44.3" height="39.9" fill="none" stroke="#777" stroke-width="0.5"/>
<line x1="435.5" y1="74" x2="435.5" y2="113.9" stroke="#888" stroke-width="0.5"/>
<line x1="411.7" y1="88.7" x2="456.0" y2="88.7" stroke="#888" stroke-width="0.5"/>
<rect x="412.5" y="75" width="8" height="3.5" fill="#fff" stroke="#333" stroke-width="0.3"/>
<text x="416.5" y="77.8" font-size="3" text-anchor="middle" font-weight="bold" fill="#000" stroke="#000" stroke-width="0.1">28.1</text>
<rect x="412.5" y="109.4" width="8" height="3.5" fill="#fff" stroke="#333" stroke-width="0.3"/>
<text x="416.5" y="112.2" font-size="3" text-anchor="middle" font-weight="bold" fill="#000" stroke="#000" stroke-width="0.1">73.5</text>
<text x="455.0" y="78" font-size="3" text-anchor="end" fill="#222" stroke="#222" stroke-width="0.08">0.43</text>
<text x="455.0" y="112.4" font-size="3" text-anchor="end" fill="#222" stroke="#222" stroke-width="0.08">1.36</text>
<line x1="483.6" y1="22.3" x2="483.6" y2="65" stroke="#000" stroke-width="0.6"/>
<line x1="482.3" y1="23.3" x2="483.6" y2="23.3" stroke="#000" stroke-width="0.6"/>
<text x="480.8" y="24.344" font-size="2.9" text-anchor="end" font-weight="bold" fill="#000" stroke="#000" stroke-width="0.1">0.15</text>
<line x1="482.3" y1="37.2" x2="483.6" y2="37.2" stroke="#000" stroke-width="0.6"/>
<text x="480.8" y="38.244" font-size="2.9" text-anchor="end" font-weight="bold" fill="#000" stroke="#000" stroke-width="0.1">0.10</text>
<line x1="482.3" y1="51.1" x2="483.6" y2="51.1" stroke="#000" stroke-width="0.6"/>
<text x="480.8" y="52.144" font-size="2.9" text-anchor="end" font-weight="bold" fill="#000" stroke="#000" stroke-width="0.1">0.05</text>
<line x1="482.3" y1="65" x2="483.6" y2="65" stroke="#000" stroke-width="0.6"/>
<text x="480.8" y="66.044" font-size="2.9" text-anchor="end" font-weight="bold" fill="#000" stroke="#000" stroke-width="0.1">0.00</text>
<line x1="483.6" y1="65" x2="513.1" y2="65" stroke="#000" stroke-width="0.6"/>
<line x1="490.65" y1="40.5" x2="490.65" y2="31.7" stroke="#000" stroke-width="0.6"/>
<line x1="489.15" y1="31.7" x2="492.15" y2="31.7" stroke="#000" stroke-width="0.6"/>
<rect x="485.4" y="40.5" width="10.5" height="24.5" fill="#fff" stroke="#000" stroke-width="0.6"/>
<line x1="505.8" y1="46.9" x2="505.8" y2="43.4" stroke="#000" stroke-width="0.6"/>
<line x1="504.3" y1="43.4" x2="507.3" y2="43.4" stroke="#000" stroke-width="0.6"/>
<rect x="500.5" y="46.9" width="10.600000000000023" height="18.1" fill="#000" stroke="#000" stroke-width="0.6"/>
<text x="472.6" y="42.8" font-size="3.2" text-anchor="middle" font-weight="bold" fill="#000" transform="rotate(-90 472.6 42.8)" textLength="39.2" lengthAdjust="spacingAndGlyphs" stroke="#000" stroke-width="0.1">% of CD8⁺ that are FoxP3⁺</text>
<line x1="482.7" y1="73.8" x2="482.7" y2="116.5" stroke="#000" stroke-width="0.6"/>
<line x1="481.4" y1="74.2" x2="482.7" y2="74.2" stroke="#000" stroke-width="0.6"/>
<text x="479.9" y="75.244" font-size="2.9" text-anchor="end" font-weight="bold" fill="#000" stroke="#000" stroke-width="0.1">0.8</text>
<line x1="481.4" y1="84.8" x2="482.7" y2="84.8" stroke="#000" stroke-width="0.6"/>
<text x="479.9" y="85.844" font-size="2.9" text-anchor="end" font-weight="bold" fill="#000" stroke="#000" stroke-width="0.1">0.6</text>
<line x1="481.4" y1="95.4" x2="482.7" y2="95.4" stroke="#000" stroke-width="0.6"/>
<text x="479.9" y="96.444" font-size="2.9" text-anchor="end" font-weight="bold" fill="#000" stroke="#000" stroke-width="0.1">0.4</text>
<line x1="481.4" y1="106" x2="482.7" y2="106" stroke="#000" stroke-width="0.6"/>
<text x="479.9" y="107.044" font-size="2.9" text-anchor="end" font-weight="bold" fill="#000" stroke="#000" stroke-width="0.1">0.2</text>
<line x1="481.4" y1="116.5" x2="482.7" y2="116.5" stroke="#000" stroke-width="0.6"/>
<text x="479.9" y="117.544" font-size="2.9" text-anchor="end" font-weight="bold" fill="#000" stroke="#000" stroke-width="0.1">0.0</text>
<line x1="482.7" y1="116.5" x2="513.1" y2="116.5" stroke="#000" stroke-width="0.6"/>
<line x1="490.7" y1="93.9" x2="490.7" y2="85" stroke="#000" stroke-width="0.6"/>
<line x1="489.2" y1="85" x2="492.2" y2="85" stroke="#000" stroke-width="0.6"/>
<rect x="485.4" y="93.9" width="10.600000000000023" height="22.599999999999994" fill="#fff" stroke="#000" stroke-width="0.6"/>
<line x1="505.8" y1="87.2" x2="505.8" y2="82.2" stroke="#000" stroke-width="0.6"/>
<line x1="504.3" y1="82.2" x2="507.3" y2="82.2" stroke="#000" stroke-width="0.6"/>
<rect x="500.5" y="87.2" width="10.600000000000023" height="29.299999999999997" fill="#000" stroke="#000" stroke-width="0.6"/>
<text x="472.5" y="93.7" font-size="3.1" text-anchor="middle" font-weight="bold" fill="#000" transform="rotate(-90 472.5 93.7)" textLength="37" lengthAdjust="spacingAndGlyphs" stroke="#000" stroke-width="0.1">% of CD8⁺ that are FoxP3⁺</text>
<rect x="475.9" y="122.8" width="8.1" height="4.3" fill="#fff" stroke="#000" stroke-width="0.6"/>
<rect x="475.9" y="130" width="8.1" height="3.7" fill="#000" stroke="#000" stroke-width="0.6"/>
<text x="487.1" y="127" font-size="5.3" text-anchor="start" fill="#111" textLength="23.7" lengthAdjust="spacingAndGlyphs" stroke="#111" stroke-width="0.08">CD8⁺ only</text>
<text x="487.1" y="133.9" font-size="5.3" text-anchor="start" fill="#111" textLength="30.5" lengthAdjust="spacingAndGlyphs" stroke="#111" stroke-width="0.08">CD8⁺ + CD4⁺</text>
<text x="53.3" y="220.6" font-size="5.4" text-anchor="middle" fill="#111" textLength="24" lengthAdjust="spacingAndGlyphs" stroke="#111" stroke-width="0.08">Irradiation</text>
<text x="102.5" y="220.6" font-size="5.5" text-anchor="middle" fill="#111" textLength="33" lengthAdjust="spacingAndGlyphs" stroke="#111" stroke-width="0.08">No Irradiation</text>
<text x="16.25" y="242" font-size="5.1" text-anchor="middle" fill="#111" textLength="15.3" lengthAdjust="spacingAndGlyphs" stroke="#111" stroke-width="0.08">spleen</text>
<text x="13.8" y="278.6" font-size="5.4" text-anchor="middle" fill="#111" textLength="11.9" lengthAdjust="spacingAndGlyphs" stroke="#111" stroke-width="0.08">mLN</text>
<line x1="27.5" y1="227.5" x2="27.5" y2="290" stroke="#000" stroke-width="0.9"/>
<path d="M26.2 228L27.5 224.3L28.8 228Z" fill="#000" opacity="1"/>
<text x="29.2" y="296.9" font-size="4.1" text-anchor="middle" fill="#111" transform="rotate(-90 29.2 296.9)" textLength="8.3" lengthAdjust="spacingAndGlyphs" stroke="#111" stroke-width="0.08">CD8</text>
<text x="44.5" y="309.7" font-size="3.8" text-anchor="middle" fill="#222" stroke="#222" stroke-width="0.08">FoxP3GFP</text>
<line x1="60" y1="308.3" x2="119.5" y2="308.3" stroke="#000" stroke-width="0.9"/>
<path d="M119 307L122.8 308.3L119 309.6Z" fill="#000" opacity="1"/>
<text x="34.6" y="227.5" font-size="2.3" text-anchor="end" fill="#555" stroke="#555" stroke-width="0.08">10⁴</text>
<text x="34.6" y="234.5" font-size="2.3" text-anchor="end" fill="#555" stroke="#555" stroke-width="0.08">10³</text>
<text x="34.6" y="243.5" font-size="2.3" text-anchor="end" fill="#555" stroke="#555" stroke-width="0.08">10²</text>
<text x="34.6" y="251.5" font-size="2.3" text-anchor="end" fill="#555" stroke="#555" stroke-width="0.08">10¹</text>
<text x="34.6" y="257.5" font-size="2.3" text-anchor="end" fill="#555" stroke="#555" stroke-width="0.08">0</text>
<text x="38.6" y="259.5" font-size="2.3" text-anchor="middle" fill="#555" stroke="#555" stroke-width="0.08">0</text>
<text x="44.6" y="259.5" font-size="2.3" text-anchor="middle" fill="#555" stroke="#555" stroke-width="0.08">10¹</text>
<text x="54.6" y="259.5" font-size="2.3" text-anchor="middle" fill="#555" stroke="#555" stroke-width="0.08">10²</text>
<text x="64.6" y="259.5" font-size="2.3" text-anchor="middle" fill="#555" stroke="#555" stroke-width="0.08">10³</text>
<text x="73.6" y="259.5" font-size="2.3" text-anchor="middle" fill="#555" stroke="#555" stroke-width="0.08">10⁴</text>
<clipPath id="c11"><rect x="36.6" y="223.6" width="39.7" height="32.9"/></clipPath><g clip-path="url(#c11)">
<path d="M36 223L53 223L54.6 226.5L53 230L48 231.6L36 231.6Z" fill="#000" opacity="1" filter="url(#b08)"/>
<ellipse cx="46" cy="234.5" rx="6" ry="1.5" fill="#000" opacity="0.25" filter="url(#b1)"/>
<path d="M43.4 245.7h.6M45.1 240.0h.6M49.3 248.2h.6M43.1 238.5h.6M39.2 250.5h.6M45.2 253.5h.6M46.9 241.9h.6M48.8 241.3h.6M43.6 247.6h.6M45.6 246.3h.6M45.8 250.4h.6M41.1 234.1h.6M53.5 241.3h.6M44.7 246.6h.6M41.4 242.1h.6M46.0 244.9h.6M48.5 243.5h.6M41.9 237.0h.6M37.3 246.2h.6M46.2 242.6h.6M47.7 238.4h.6M43.3 243.6h.6M41.5 243.3h.6M44.8 248.6h.6M48.5 239.7h.6M47.0 242.6h.6M48.8 241.7h.6M49.6 240.0h.6M42.7 249.4h.6M49.4 249.5h.6M53.7 250.3h.6M44.8 249.8h.6M41.1 249.1h.6M46.6 244.0h.6M41.6 250.5h.6M38.5 242.9h.6M42.9 240.4h.6M42.1 246.3h.6M53.6 254.1h.6M44.0 242.6h.6M47.6 240.3h.6M38.2 250.0h.6M43.0 253.0h.6M46.3 237.0h.6M46.1 247.4h.6M45.1 237.5h.6M38.1 254.8h.6M48.4 254.5h.6M47.7 244.7h.6M46.5 250.9h.6M42.5 251.6h.6M46.0 245.9h.6M46.8 246.5h.6M40.7 253.2h.6M42.7 243.4h.6M47.4 244.3h.6M44.4 242.8h.6M47.6 241.3h.6M38.2 236.1h.6M41.3 246.5h.6M51.3 247.9h.6M41.8 237.7h.6M48.5 247.5h.6M44.6 248.2h.6M47.5 247.5h.6M50.8 236.5h.6M41.9 241.9h.6M40.4 255.4h.6M46.4 247.1h.6M48.4 243.5h.6M48.6 243.7h.6M48.2 247.8h.6M50.7 236.6h.6M40.7 240.7h.6M41.2 246.9h.6M49.2 242.9h.6M49.6 249.6h.6M42.2 248.4h.6M51.3 242.2h.6M46.1 248.2h.6M47.2 244.5h.6M44.8 240.5h.6M53.6 253.2h.6M44.2 240.2h.6M46.8 253.5h.6M45.1 240.4h.6M49.1 246.2h.6M41.3 243.7h.6M45.6 238.8h.6M46.2 251.7h.6M49.6 251.6h.6M48.2 244.4h.6M47.6 251.5h.6M45.1 247.7h.6M42.1 244.9h.6M42.7 239.1h.6M37.4 242.3h.6M45.8 240.9h.6M45.6 249.5h.6M37.7 244.3h.6M47.5 248.0h.6M53.0 246.0h.6M50.4 241.9h.6M40.9 242.0h.6M43.0 249.7h.6M48.3 245.0h.6M40.9 245.7h.6M43.1 242.9h.6M37.2 253.4h.6M36.8 244.9h.6M48.5 254.2h.6M49.3 254.5h.6M45.8 236.7h.6M45.7 240.2h.6M40.6 238.6h.6M45.4 250.5h.6M43.6 237.9h.6M42.7 244.1h.6M50.1 245.6h.6M38.0 250.1h.6M39.2 241.6h.6M47.2 246.2h.6M46.3 243.9h.6M36.7 236.1h.6M41.2 239.5h.6M42.9 235.7h.6M44.4 247.6h.6M42.7 252.2h.6M45.9 250.0h.6M41.0 246.1h.6M38.6 234.6h.6M37.1 242.7h.6M46.4 242.9h.6M49.7 245.6h.6M45.0 245.7h.6M49.3 253.7h.6M38.6 245.5h.6M42.9 245.1h.6M42.8 239.9h.6M49.6 246.3h.6M41.7 252.9h.6M43.9 246.2h.6M44.2 245.8h.6M39.7 242.2h.6M44.1 244.5h.6M43.0 250.7h.6M43.9 240.2h.6M51.1 244.3h.6M49.9 247.9h.6M43.7 250.3h.6M38.4 238.2h.6M43.0 243.8h.6M37.1 239.2h.6M50.6 248.2h.6M45.9 252.2h.6M45.4 251.7h.6M49.7 241.8h.6M47.7 251.1h.6M46.3 242.7h.6M48.9 251.2h.6M44.9 247.8h.6M45.6 246.4h.6M46.6 242.8h.6M48.3 246.9h.6M52.8 246.6h.6M45.5 238.2h.6M42.7 243.4h.6M45.0 244.4h.6M52.6 242.3h.6M43.9 242.5h.6M47.7 235.9h.6M49.5 242.9h.6M38.6 253.0h.6M39.0 248.8h.6M45.1 241.3h.6M37.5 241.0h.6M48.4 244.5h.6M42.4 250.2h.6M45.1 245.3h.6M41.1 237.3h.6M42.9 246.5h.6M43.1 246.6h.6M43.8 243.6h.6M44.8 246.8h.6M44.1 242.4h.6M49.4 251.2h.6M50.1 248.9h.6M47.0 245.6h.6M48.4 241.3h.6M44.4 246.6h.6M44.3 238.1h.6M44.5 242.6h.6M42.1 248.2h.6M49.8 245.3h.6M39.8 243.9h.6M44.1 239.1h.6M42.2 245.6h.6M42.3 247.2h.6M39.1 248.4h.6M41.8 245.5h.6M45.0 242.0h.6M49.6 235.1h.6M45.8 248.3h.6M43.8 244.5h.6M39.8 244.5h.6M45.7 241.5h.6M45.0 242.8h.6M40.3 244.3h.6M41.4 249.5h.6M41.4 252.4h.6M44.8 244.6h.6M41.6 247.1h.6M40.3 236.4h.6M50.1 241.9h.6M52.0 246.1h.6M52.3 236.8h.6M42.9 246.2h.6M42.4 245.1h.6M44.2 248.3h.6M47.7 238.5h.6M52.3 236.7h.6M41.1 247.5h.6M44.1 248.4h.6M46.6 240.6h.6M37.5 251.0h.6M43.9 244.1h.6M43.5 243.3h.6M41.6 245.0h.6M46.0 238.0h.6M37.8 247.7h.6M48.9 241.8h.6M44.2 242.0h.6M46.7 244.3h.6M42.4 240.6h.6M46.9 246.7h.6M43.0 246.9h.6M45.7 233.7h.6M42.3 246.0h.6M50.6 246.8h.6M39.3 249.5h.6M43.6 249.2h.6M38.6 235.9h.6M37.7 247.9h.6M50.3 246.0h.6M45.7 244.1h.6M45.8 239.2h.6M50.5 249.0h.6M49.3 244.3h.6M48.7 250.0h.6M41.5 240.4h.6M48.9 247.4h.6M47.4 245.0h.6M41.2 245.5h.6M38.3 246.2h.6M41.0 240.0h.6M42.6 247.8h.6M43.4 239.0h.6M45.6 247.4h.6M50.8 238.0h.6M51.7 243.4h.6M49.5 247.6h.6M48.7 239.9h.6M47.3 235.9h.6M52.5 246.8h.6M47.2 245.2h.6M47.8 245.8h.6M40.7 242.8h.6M44.2 246.7h.6M43.0 244.3h.6M43.2 247.7h.6M49.3 246.8h.6M45.5 250.0h.6M40.5 253.2h.6M42.7 246.8h.6M40.7 241.4h.6M49.5 247.8h.6M44.1 249.1h.6M37.1 250.2h.6M41.2 244.7h.6M41.1 255.8h.6M52.0 235.6h.6M48.0 243.1h.6M51.7 246.5h.6M41.5 242.4h.6M45.2 253.9h.6M45.4 241.9h.6M43.1 249.3h.6M43.6 254.2h.6M49.0 245.6h.6M45.5 243.0h.6M51.9 243.7h.6M46.3 237.5h.6M44.1 245.7h.6M44.6 245.0h.6M49.5 248.6h.6M48.6 241.7h.6M42.6 244.8h.6M37.6 237.0h.6M46.5 244.8h.6M45.4 251.2h.6M43.9 237.7h.6M48.1 252.3h.6M38.2 245.0h.6M49.4 245.0h.6M42.9 250.0h.6M37.1 244.5h.6M42.0 244.4h.6M39.2 245.7h.6M50.7 247.2h.6M39.0 242.0h.6M41.5 236.8h.6M48.4 247.5h.6M44.2 252.7h.6M48.3 241.6h.6M45.2 244.0h.6M44.9 251.9h.6M50.8 239.6h.6M48.1 251.1h.6M45.6 247.5h.6M42.0 252.7h.6M44.1 242.0h.6M38.1 239.3h.6M47.2 245.0h.6M53.0 248.2h.6M46.5 240.6h.6M47.5 237.1h.6M41.5 252.3h.6M46.3 238.6h.6M42.1 244.1h.6M46.5 245.9h.6M48.3 234.8h.6M42.9 245.5h.6M49.8 241.5h.6M38.9 240.4h.6M39.3 242.1h.6M41.7 250.9h.6M47.6 244.0h.6M46.4 253.4h.6M43.7 238.8h.6M45.1 238.2h.6M46.1 249.5h.6M43.3 249.9h.6M50.6 254.8h.6M43.4 248.0h.6M48.8 249.2h.6M49.4 247.5h.6M48.2 249.8h.6M47.3 248.0h.6M46.3 244.6h.6M36.7 244.5h.6M45.2 242.0h.6M43.0 251.7h.6M42.6 244.3h.6M50.7 246.5h.6M47.4 242.0h.6M42.4 236.4h.6M48.0 245.1h.6M41.8 245.2h.6M50.1 249.9h.6M48.7 251.1h.6M46.2 245.0h.6M45.0 247.5h.6M37.2 246.5h.6M45.2 240.2h.6M42.5 251.2h.6M43.3 244.4h.6M51.9 239.8h.6M44.9 242.7h.6M42.7 244.0h.6M47.6 243.5h.6M49.4 248.9h.6M40.1 245.2h.6M44.2 238.0h.6M36.9 250.3h.6M46.4 251.5h.6M52.2 249.1h.6M46.7 251.8h.6M44.5 242.8h.6M49.5 248.4h.6M42.7 242.7h.6M39.3 256.1h.6M43.3 242.3h.6M42.3 242.2h.6M45.6 245.2h.6M45.7 253.9h.6M45.3 241.8h.6M48.2 246.2h.6M44.4 239.6h.6M45.8 246.0h.6M53.3 236.8h.6M38.0 247.9h.6M43.5 251.0h.6M36.7 236.9h.6M51.8 240.2h.6M41.0 244.0h.6M52.3 243.9h.6M48.6 244.0h.6M40.1 246.3h.6M36.8 250.4h.6M37.7 245.7h.6M46.9 240.9h.6M53.9 244.9h.6M47.0 237.0h.6M42.7 246.1h.6M48.4 248.0h.6M38.6 237.0h.6M39.9 250.9h.6M37.0 238.3h.6M45.6 244.6h.6M44.7 240.5h.6M46.6 244.3h.6M44.1 246.1h.6M43.9 243.9h.6M50.1 248.6h.6M45.3 245.6h.6M51.2 237.7h.6M37.2 239.2h.6M46.0 245.9h.6M43.4 240.8h.6M38.3 241.0h.6M41.2 244.7h.6M49.2 243.3h.6M39.8 247.1h.6M50.5 246.5h.6M42.9 242.8h.6M43.5 239.3h.6M49.1 243.2h.6M53.7 251.3h.6M42.8 240.7h.6M36.9 244.9h.6M46.7 242.9h.6M44.5 247.3h.6M41.4 244.6h.6M43.8 252.9h.6M48.0 244.3h.6M40.3 244.1h.6M41.3 242.9h.6M46.6 249.2h.6M49.5 241.8h.6M45.8 244.7h.6M49.6 249.7h.6M46.1 247.6h.6M44.3 244.6h.6M46.2 238.5h.6M43.2 249.3h.6M48.2 245.9h.6M47.5 240.7h.6M51.8 233.9h.6M43.4 240.9h.6M42.9 246.1h.6M45.5 250.1h.6M53.6 247.6h.6M40.8 245.0h.6M41.5 240.7h.6M43.2 249.9h.6M41.4 246.7h.6M41.6 249.5h.6M50.2 237.3h.6M48.3 240.3h.6M46.5 244.4h.6M48.8 238.3h.6M53.6 246.8h.6M42.1 251.6h.6M51.1 247.7h.6M42.7 240.7h.6M41.0 253.5h.6M45.3 244.8h.6M43.4 251.4h.6M43.4 249.5h.6M37.0 240.8h.6M46.5 239.9h.6M53.6 234.1h.6M46.7 247.8h.6M47.0 244.6h.6M46.2 241.7h.6M44.9 254.5h.6M44.9 250.8h.6M51.1 242.0h.6M53.7 237.0h.6M42.7 244.5h.6M43.8 248.2h.6M44.5 248.1h.6M41.3 236.6h.6M53.2 246.3h.6M46.8 238.8h.6M47.1 244.7h.6M47.2 245.6h.6M49.7 252.4h.6M43.4 243.0h.6M48.3 237.3h.6M41.8 243.0h.6M43.8 243.8h.6M39.7 247.9h.6M43.0 238.7h.6M46.5 253.1h.6M38.3 244.8h.6M41.8 253.5h.6M46.0 249.9h.6M52.4 248.4h.6M46.5 255.2h.6M38.3 239.0h.6M44.0 241.7h.6M44.3 235.0h.6M37.7 248.8h.6M44.1 247.2h.6M43.3 244.9h.6M38.2 254.4h.6M49.7 237.9h.6M43.0 246.9h.6M43.1 244.7h.6M45.9 235.2h.6M48.4 247.5h.6M40.6 244.0h.6M44.6 243.6h.6M45.2 236.9h.6M45.3 247.2h.6M46.7 247.4h.6M42.5 245.7h.6M49.3 245.4h.6M46.0 245.3h.6M47.4 238.2h.6M44.7 249.5h.6M41.0 248.0h.6M42.9 242.7h.6M40.0 240.2h.6M50.3 237.3h.6M45.6 237.7h.6M41.4 238.9h.6M43.8 246.8h.6M52.5 252.7h.6M40.6 246.3h.6M49.2 241.2h.6M42.9 249.9h.6M38.8 245.2h.6M44.7 243.5h.6M45.1 236.3h.6M48.7 242.6h.6M53.8 255.6h.6M42.9 255.3h.6M51.4 240.7h.6M43.8 251.4h.6M41.7 243.1h.6M39.7 241.2h.6M41.7 246.4h.6M46.1 243.0h.6M38.9 246.3h.6M47.8 244.7h.6M51.2 242.6h.6M48.8 246.4h.6M50.9 253.7h.6M39.8 235.4h.6M49.6 246.7h.6M46.5 242.6h.6M41.6 251.4h.6M47.1 242.1h.6M45.2 246.6h.6M39.1 241.6h.6M47.3 245.8h.6M38.8 246.7h.6M53.9 248.3h.6M39.1 242.6h.6M42.2 240.9h.6M41.3 241.9h.6M44.6 238.4h.6M49.1 246.7h.6M53.7 249.5h.6M49.3 247.8h.6M44.5 239.3h.6M48.0 245.5h.6M42.1 247.2h.6M46.5 241.6h.6M51.5 242.5h.6M45.6 250.7h.6M42.7 243.4h.6M47.0 243.3h.6M42.8 239.1h.6M46.0 243.0h.6M48.7 250.4h.6M44.9 249.2h.6M41.9 253.6h.6M42.5 244.4h.6M43.4 242.4h.6M48.6 245.0h.6M41.0 249.2h.6M45.2 248.1h.6M46.0 242.6h.6M36.9 243.5h.6M41.0 251.5h.6M44.0 252.9h.6M42.8 239.6h.6M39.0 238.3h.6M49.0 240.9h.6M43.6 248.1h.6M43.2 253.3h.6M50.3 248.9h.6M52.5 247.9h.6M45.9 250.9h.6M49.7 237.9h.6M50.0 250.5h.6M45.7 252.6h.6M39.8 246.2h.6M41.9 240.7h.6M46.2 237.5h.6M44.9 248.8h.6M41.7 239.3h.6M47.5 250.0h.6M49.1 242.3h.6M43.2 252.4h.6M48.9 246.8h.6M46.1 244.3h.6M47.8 248.8h.6M45.2 246.5h.6M38.8 244.4h.6M52.1 246.3h.6M38.9 242.7h.6M45.4 252.8h.6M44.4 245.8h.6M40.1 252.1h.6M39.7 249.0h.6M43.0 239.7h.6M46.5 254.0h.6M39.6 246.3h.6M41.9 250.8h.6M38.5 238.4h.6M43.3 238.3h.6M49.4 237.3h.6M45.3 242.5h.6" stroke="#000" stroke-width=".6" opacity="0.3"/>
<ellipse cx="44" cy="245" rx="7" ry="8" fill="#000" opacity="0.45" filter="url(#b2)"/>
<path d="M40.8 240.5L50.5 238.2L51.4 240L50 245L46.5 249.5L45 249L41.5 244Z" fill="#000" opacity="1" filter="url(#b1)"/>
<ellipse cx="62.4" cy="227.5" rx="1.6" ry="1.6" fill="#000" opacity="0.25" filter="url(#b08)"/>
<ellipse cx="62.4" cy="243" rx="1" ry="3" fill="#000" opacity="0.18" filter="url(#b08)"/>
<path d="M63.6 241.3h.6M62.2 248.8h.6M63.2 247.3h.6M64.1 244.8h.6M62.8 237.5h.6M60.4 241.7h.6M62.7 246.8h.6M61.5 242.0h.6M64.9 239.4h.6M62.2 242.7h.6M61.6 248.1h.6M60.5 242.1h.6M60.4 240.7h.6M64.3 236.4h.6M60.4 243.1h.6M62.8 240.6h.6M62.9 242.4h.6M61.9 243.4h.6M63.9 239.1h.6M63.4 244.0h.6M62.2 240.6h.6M62.8 245.8h.6M61.3 245.6h.6M62.4 245.9h.6M62.7 242.4h.6M62.7 245.3h.6M60.7 243.1h.6M59.5 243.8h.6M61.8 243.2h.6M63.6 246.2h.6" stroke="#000" stroke-width=".6" opacity="0.25"/>
</g>
<rect x="36.6" y="223.6" width="39.7" height="32.9" fill="none" stroke="#777" stroke-width="0.5"/>
<line x1="56.5" y1="223.6" x2="56.5" y2="256.5" stroke="#888" stroke-width="0.5"/>
<line x1="36.6" y1="232.8" x2="76.30000000000001" y2="232.8" stroke="#888" stroke-width="0.5"/>
<rect x="37.2" y="224.4" width="7" height="3" fill="#fff" stroke="#444" stroke-width="0.3"/>
<text x="40.7" y="226.79999999999998" font-size="2.6" text-anchor="middle" font-weight="bold" fill="#000" stroke="#000" stroke-width="0.1">78.1</text>
<rect x="37.2" y="252.7" width="8" height="3" fill="#fff" stroke="#444" stroke-width="0.3"/>
<text x="41.2" y="255.1" font-size="2.6" text-anchor="middle" font-weight="bold" fill="#000" stroke="#000" stroke-width="0.1">21.9</text>
<text x="75.30000000000001" y="227.1" font-size="2.8" text-anchor="end" fill="#222" stroke="#222" stroke-width="0.08">0.0</text>
<text x="75.30000000000001" y="255.0" font-size="2.8" text-anchor="end" fill="#222" stroke="#222" stroke-width="0.08">0.4</text>
<text x="81.6" y="227.5" font-size="2.3" text-anchor="end" fill="#555" stroke="#555" stroke-width="0.08">10⁴</text>
<text x="81.6" y="234.5" font-size="2.3" text-anchor="end" fill="#555" stroke="#555" stroke-width="0.08">10³</text>
<text x="81.6" y="243.5" font-size="2.3" text-anchor="end" fill="#555" stroke="#555" stroke-width="0.08">10²</text>
<text x="81.6" y="251.5" font-size="2.3" text-anchor="end" fill="#555" stroke="#555" stroke-width="0.08">10¹</text>
<text x="81.6" y="257.5" font-size="2.3" text-anchor="end" fill="#555" stroke="#555" stroke-width="0.08">0</text>
<text x="85.6" y="259.5" font-size="2.3" text-anchor="middle" fill="#555" stroke="#555" stroke-width="0.08">0</text>
<text x="91.6" y="259.5" font-size="2.3" text-anchor="middle" fill="#555" stroke="#555" stroke-width="0.08">10¹</text>
<text x="101.6" y="259.5" font-size="2.3" text-anchor="middle" fill="#555" stroke="#555" stroke-width="0.08">10²</text>
<text x="111.6" y="259.5" font-size="2.3" text-anchor="middle" fill="#555" stroke="#555" stroke-width="0.08">10³</text>
<text x="120.6" y="259.5" font-size="2.3" text-anchor="middle" fill="#555" stroke="#555" stroke-width="0.08">10⁴</text>
<clipPath id="c12"><rect x="83.6" y="223.6" width="39.7" height="32.9"/></clipPath><g clip-path="url(#c12)">
<ellipse cx="94.6" cy="227.3" rx="5" ry="4" fill="#000" opacity="1" filter="url(#b1)"/>
<path d="M83 225.5L92 224.5L93 230.5L83 230Z" fill="#000" opacity="0.9" filter="url(#b1)"/>
<ellipse cx="91" cy="234.5" rx="6" ry="1.5" fill="#000" opacity="0.2" filter="url(#b1)"/>
<path d="M98.4 250.1h.6M91.1 241.0h.6M90.4 247.4h.6M88.4 246.0h.6M92.9 242.3h.6M87.4 245.3h.6M93.9 239.9h.6M92.6 245.7h.6M88.1 247.3h.6M85.9 249.9h.6M88.8 250.5h.6M92.5 245.5h.6M86.0 249.1h.6M94.0 246.2h.6M92.1 248.8h.6M94.1 247.2h.6M95.9 244.4h.6M99.2 237.2h.6M84.7 248.2h.6M91.9 237.2h.6M86.6 241.4h.6M97.7 248.6h.6M84.6 238.0h.6M92.6 238.6h.6M89.3 242.1h.6M92.2 248.2h.6M88.9 242.4h.6M93.2 253.7h.6M93.9 243.2h.6M96.2 244.4h.6M85.9 248.6h.6M99.3 239.2h.6M95.4 238.7h.6M91.6 244.5h.6M90.5 244.6h.6M95.0 242.5h.6M91.0 243.5h.6M93.2 241.7h.6M95.5 246.7h.6M89.4 238.4h.6M90.8 250.5h.6M94.9 245.2h.6M94.3 252.5h.6M90.9 243.2h.6M93.0 235.2h.6M92.2 242.5h.6M98.0 248.1h.6M99.0 242.8h.6M98.6 245.9h.6M94.4 247.3h.6M86.4 249.9h.6M90.0 248.5h.6M91.8 239.9h.6M90.6 246.7h.6M90.7 254.1h.6M97.4 245.6h.6M90.4 252.8h.6M92.2 251.3h.6M86.0 234.6h.6M95.5 250.0h.6M91.3 244.2h.6M94.1 247.9h.6M91.7 245.2h.6M93.1 250.8h.6M93.6 243.5h.6M96.8 248.9h.6M89.7 244.7h.6M87.2 245.8h.6M88.8 251.7h.6M97.8 243.2h.6M88.1 252.0h.6M86.0 243.3h.6M90.3 246.4h.6M92.3 240.3h.6M95.9 247.1h.6M93.5 253.5h.6M100.4 246.5h.6M90.2 243.7h.6M91.5 239.4h.6M88.9 242.4h.6M94.4 249.0h.6M89.3 239.4h.6M91.9 235.8h.6M91.0 246.2h.6M93.8 242.8h.6M93.9 249.1h.6M90.5 239.5h.6M89.7 246.6h.6M93.3 236.1h.6M85.3 236.6h.6M100.1 247.3h.6M92.8 238.8h.6M99.2 247.1h.6M91.8 246.5h.6M96.0 234.5h.6M93.3 238.3h.6M90.2 244.0h.6M90.1 241.1h.6M92.8 242.9h.6M93.2 249.1h.6M88.2 244.1h.6M88.2 249.4h.6M95.3 250.5h.6M96.8 245.7h.6M87.6 241.1h.6M97.4 245.7h.6M95.6 242.0h.6M91.0 255.3h.6M96.4 236.7h.6M88.9 245.8h.6M96.7 250.2h.6M95.8 251.6h.6M95.1 249.6h.6M88.1 238.7h.6M89.7 251.8h.6M98.1 239.4h.6M90.8 245.5h.6M94.6 246.8h.6M98.7 246.5h.6M91.1 243.8h.6M96.9 243.7h.6M94.4 242.9h.6M86.8 233.7h.6M90.7 240.8h.6M95.6 243.1h.6M87.9 248.9h.6M90.1 256.1h.6M90.0 245.5h.6M88.6 253.2h.6M93.3 243.9h.6M91.6 234.1h.6M97.6 245.1h.6M97.2 240.6h.6M98.5 241.6h.6M92.2 255.7h.6M89.8 245.2h.6M91.3 245.7h.6M92.7 244.3h.6M94.0 242.8h.6M98.0 248.7h.6M86.9 242.3h.6M90.6 250.1h.6M88.2 243.2h.6M95.5 250.0h.6M91.5 244.0h.6M87.7 251.3h.6M85.0 241.5h.6M95.1 254.7h.6M90.6 247.4h.6M89.3 246.2h.6M89.6 247.3h.6M91.4 239.9h.6M85.1 239.8h.6M91.8 248.9h.6M97.0 250.2h.6M100.0 249.3h.6M93.4 236.0h.6M96.3 244.3h.6M90.3 238.0h.6M97.6 245.0h.6M90.1 240.9h.6M91.6 247.4h.6M94.7 245.7h.6M93.0 245.4h.6M90.1 251.2h.6M91.4 242.0h.6M99.7 240.1h.6M90.0 245.7h.6M91.2 244.6h.6M96.3 250.4h.6M86.0 255.0h.6M86.7 239.6h.6M95.0 239.7h.6M86.6 249.5h.6M94.3 247.1h.6M98.3 250.6h.6M89.9 242.6h.6M93.9 242.9h.6M93.2 249.7h.6M93.2 237.6h.6M99.4 244.7h.6M93.6 236.4h.6M91.8 238.3h.6M99.1 242.6h.6M85.8 244.4h.6M87.9 245.4h.6M87.8 236.0h.6M91.1 243.5h.6M88.4 248.7h.6M95.8 244.6h.6M91.6 247.0h.6M96.1 246.0h.6M87.0 248.4h.6M93.4 242.1h.6M85.2 247.8h.6M94.6 247.4h.6M92.7 251.8h.6M91.5 235.1h.6M91.4 246.0h.6M95.5 248.1h.6M95.1 247.5h.6M93.3 238.9h.6M90.6 250.4h.6M91.3 242.8h.6M95.8 234.7h.6M89.5 246.0h.6M88.4 235.9h.6M100.3 243.7h.6M92.3 248.3h.6M100.5 241.3h.6M91.3 243.3h.6M96.2 250.0h.6M99.1 242.7h.6M86.6 241.7h.6M87.3 247.3h.6M98.6 244.4h.6M91.4 245.3h.6M89.2 246.9h.6M90.8 245.9h.6M88.3 247.9h.6M93.5 240.5h.6M91.7 237.7h.6M85.6 239.2h.6M93.8 243.0h.6M91.8 246.5h.6M90.7 244.1h.6M89.4 256.5h.6M88.3 248.3h.6M90.9 254.6h.6M86.8 244.6h.6M93.7 242.5h.6M93.8 236.2h.6M93.8 238.7h.6M94.5 247.0h.6M91.4 242.1h.6M88.3 241.7h.6M98.9 240.8h.6M90.6 247.2h.6M85.9 242.8h.6M97.0 246.4h.6M94.5 248.8h.6M95.3 248.0h.6M98.3 238.9h.6M96.2 252.7h.6M91.4 243.6h.6M87.4 248.4h.6M93.0 248.0h.6M91.7 245.3h.6M89.2 250.7h.6M91.3 251.6h.6M95.9 241.2h.6M86.9 250.5h.6M93.7 243.1h.6M96.6 234.4h.6M94.5 243.2h.6M95.2 242.0h.6M89.8 248.6h.6M93.6 237.5h.6M94.3 248.7h.6M84.6 240.0h.6M86.8 239.9h.6M88.8 255.0h.6M87.4 240.0h.6M90.8 252.0h.6M90.1 250.0h.6M96.5 242.9h.6M93.7 250.3h.6M93.0 253.6h.6M93.7 253.4h.6M87.5 246.3h.6M89.4 242.9h.6M90.9 247.8h.6M85.4 236.0h.6M95.3 246.6h.6M96.2 249.4h.6M93.3 242.3h.6M94.1 240.1h.6M86.1 243.3h.6M97.9 244.1h.6M99.6 242.4h.6M86.6 241.6h.6M91.0 248.0h.6M88.7 246.1h.6M88.5 245.0h.6M90.4 246.4h.6M88.3 243.4h.6M95.2 245.1h.6M93.6 255.1h.6M88.2 246.9h.6M87.8 249.2h.6M89.3 251.8h.6M92.4 233.5h.6M86.8 248.5h.6M95.2 250.3h.6M94.1 242.6h.6M92.5 245.3h.6M91.9 250.3h.6M87.7 243.4h.6M97.8 244.3h.6M94.4 242.2h.6M92.1 251.8h.6M99.1 245.2h.6M89.0 252.9h.6M96.6 244.3h.6M91.6 244.7h.6M87.6 242.9h.6M93.3 236.1h.6M96.1 245.6h.6M84.5 237.2h.6M88.7 253.7h.6M94.0 239.1h.6M89.6 236.4h.6M87.6 235.9h.6M99.9 248.7h.6M97.7 247.4h.6M88.5 250.2h.6M94.0 241.2h.6M84.5 244.8h.6M86.4 243.5h.6M96.2 247.9h.6M92.5 243.6h.6M92.7 239.9h.6M95.3 253.4h.6M89.1 236.8h.6M91.9 235.9h.6M100.8 244.4h.6M93.7 245.9h.6M89.6 241.0h.6M87.0 255.5h.6M92.2 250.7h.6M98.6 243.4h.6M89.6 242.8h.6M93.5 239.7h.6M96.2 243.6h.6M88.4 248.7h.6M98.3 240.2h.6M91.0 244.0h.6M94.2 249.1h.6M91.3 240.0h.6M89.1 249.6h.6M100.2 245.9h.6M97.1 241.1h.6M86.1 240.0h.6M87.4 240.8h.6M90.2 238.0h.6M94.5 239.1h.6M90.8 248.0h.6M90.7 250.2h.6M89.5 251.2h.6M88.9 241.8h.6M85.2 246.7h.6M95.0 245.0h.6M98.4 248.4h.6M93.4 236.1h.6M91.1 246.8h.6M86.5 252.8h.6M93.3 253.0h.6M86.2 254.5h.6M98.1 245.7h.6M90.3 253.6h.6M87.4 243.8h.6M97.0 244.5h.6M88.2 238.7h.6M89.6 251.7h.6M86.3 248.3h.6M91.1 242.6h.6M91.2 252.1h.6M95.4 240.8h.6M94.2 238.3h.6M97.0 234.0h.6M89.9 249.8h.6M99.7 247.7h.6M96.1 248.4h.6M93.6 241.9h.6M92.6 241.3h.6M88.0 247.0h.6M90.3 245.9h.6M96.7 241.1h.6M96.4 238.8h.6M95.9 247.1h.6M94.1 248.8h.6M92.8 235.5h.6M99.5 246.1h.6M92.8 245.2h.6M93.7 243.7h.6M85.8 238.5h.6M99.9 248.2h.6M87.0 253.6h.6M93.2 238.9h.6M88.3 241.3h.6M97.1 249.0h.6M90.7 243.6h.6M88.6 245.5h.6M87.1 249.7h.6M91.4 250.0h.6M99.0 246.6h.6M87.6 246.3h.6M87.9 250.8h.6M90.4 243.9h.6M89.6 252.0h.6M94.2 244.6h.6M95.9 243.5h.6M88.1 244.7h.6M90.8 250.8h.6M88.7 239.1h.6M98.1 249.8h.6M90.2 245.6h.6M84.5 253.9h.6M91.3 247.7h.6M94.9 246.2h.6M93.0 244.0h.6M91.5 243.6h.6M92.6 233.7h.6M91.7 248.0h.6M95.1 236.5h.6M91.6 253.5h.6M91.0 243.9h.6M94.6 244.4h.6M89.5 241.4h.6M84.0 245.9h.6M94.5 248.2h.6M88.5 247.2h.6M87.1 236.0h.6M94.8 238.0h.6M85.5 243.2h.6M90.4 253.3h.6M96.6 256.3h.6M92.7 236.0h.6M86.0 246.4h.6M85.6 247.3h.6M96.7 248.2h.6M84.2 251.0h.6M99.8 250.6h.6M91.3 249.6h.6M96.5 253.1h.6M91.2 241.2h.6M91.0 241.0h.6M92.3 243.1h.6M95.4 241.1h.6M96.1 240.7h.6M97.5 251.6h.6M91.8 243.7h.6M93.5 247.4h.6M87.2 248.8h.6M86.4 246.0h.6M96.9 241.8h.6M90.4 246.8h.6M93.5 248.1h.6M86.0 246.7h.6M96.3 249.0h.6M98.7 237.0h.6M97.4 237.0h.6M86.8 246.0h.6M91.3 245.4h.6M96.9 238.2h.6M90.3 241.7h.6M97.4 248.0h.6M93.4 251.6h.6M90.8 240.0h.6M96.1 234.9h.6M93.2 244.8h.6M84.6 246.0h.6M88.0 252.4h.6M95.5 249.9h.6M96.5 244.9h.6M97.0 248.3h.6M94.5 250.8h.6M89.9 236.9h.6M86.3 248.8h.6M87.5 243.8h.6M89.4 250.3h.6M99.3 245.6h.6M88.8 241.8h.6M91.1 236.1h.6M86.4 246.0h.6M93.1 245.9h.6M93.5 240.9h.6M91.5 239.4h.6M93.1 234.0h.6M94.4 246.3h.6M90.1 245.8h.6M96.6 245.3h.6M100.8 251.6h.6M92.5 243.9h.6M86.6 239.1h.6M92.9 245.6h.6M93.6 254.1h.6M93.9 247.1h.6M90.9 239.0h.6M89.9 244.5h.6M95.2 248.7h.6M87.4 244.4h.6M95.4 237.2h.6M90.9 237.0h.6M88.9 251.3h.6M87.3 250.0h.6M91.3 236.3h.6M92.9 246.2h.6M90.8 251.6h.6M90.6 249.0h.6M92.0 242.1h.6M93.8 250.8h.6M98.5 251.5h.6M84.3 237.7h.6M90.8 251.5h.6M86.6 249.3h.6M96.7 243.5h.6M98.2 249.1h.6M91.3 252.9h.6M93.2 246.8h.6M95.8 242.8h.6M91.0 251.5h.6M91.5 252.3h.6M93.3 254.4h.6M98.8 238.7h.6M95.2 243.7h.6M89.4 249.8h.6M96.9 247.9h.6M97.1 253.9h.6M93.7 248.4h.6M94.3 253.3h.6M88.2 244.7h.6M86.6 242.0h.6M93.7 243.1h.6M88.7 243.8h.6M97.2 256.4h.6M92.7 241.1h.6M93.0 241.7h.6M93.6 248.8h.6M100.8 241.0h.6M91.5 240.5h.6M97.0 239.9h.6M98.0 254.9h.6M84.4 251.1h.6M91.9 256.2h.6M91.2 244.6h.6M88.0 248.7h.6M98.1 240.9h.6M95.9 247.9h.6M99.2 244.6h.6M88.7 246.4h.6M94.2 243.7h.6M87.9 248.6h.6M85.0 238.8h.6M91.6 237.7h.6M94.4 236.3h.6M91.3 247.4h.6M98.3 240.6h.6M93.4 251.7h.6M88.5 247.2h.6M97.3 251.2h.6M91.9 247.1h.6M88.9 248.1h.6M94.1 242.3h.6M88.4 245.3h.6M94.4 239.4h.6M88.1 249.2h.6M91.8 244.8h.6M96.8 243.7h.6M85.4 239.0h.6M91.5 244.1h.6M90.4 240.3h.6M84.2 243.8h.6M94.1 246.7h.6M86.9 241.8h.6M95.3 244.6h.6M91.7 245.2h.6M91.1 241.5h.6M97.1 247.0h.6M93.6 243.7h.6M93.7 243.7h.6M92.5 253.8h.6M94.6 250.6h.6M90.7 243.3h.6M85.8 253.2h.6M97.2 244.7h.6M94.2 246.5h.6M98.3 247.9h.6M91.7 239.4h.6M91.0 251.7h.6M88.9 243.8h.6M94.9 254.0h.6M89.9 249.6h.6M90.3 235.5h.6M90.2 239.2h.6M85.9 256.0h.6M85.2 243.4h.6M97.6 245.1h.6M91.9 252.5h.6M88.3 236.6h.6M90.3 238.9h.6M93.0 248.6h.6M91.7 244.8h.6M86.5 237.4h.6M93.4 252.8h.6M91.8 246.5h.6M88.2 234.6h.6M98.2 234.6h.6M94.3 249.7h.6M98.0 244.7h.6M96.3 243.7h.6M95.4 252.4h.6M91.9 235.5h.6M98.4 241.6h.6M89.5 250.5h.6M96.0 247.8h.6M89.4 249.0h.6M92.7 243.1h.6M88.4 247.7h.6M88.6 252.2h.6M83.8 239.5h.6M92.9 235.6h.6M100.5 237.3h.6M89.2 242.7h.6M92.8 252.7h.6M90.0 242.2h.6M97.9 244.9h.6M95.6 245.3h.6M89.7 241.6h.6M87.5 240.6h.6M92.8 244.8h.6M95.6 245.6h.6M93.9 240.2h.6M84.6 250.6h.6M100.2 243.4h.6M96.0 240.1h.6M87.9 247.2h.6M95.9 248.2h.6M97.1 245.5h.6M91.3 245.5h.6M88.0 243.0h.6M84.4 238.5h.6M95.6 242.0h.6M95.6 244.6h.6M91.6 248.2h.6M97.3 243.3h.6M93.1 256.0h.6M94.8 242.0h.6M88.2 242.5h.6" stroke="#000" stroke-width=".6" opacity="0.3"/>
<ellipse cx="91" cy="245" rx="7" ry="8" fill="#000" opacity="0.45" filter="url(#b2)"/>
<path d="M87.6 241L98 238.3L99 240L98 244.5L94.5 249L93 248.8L88.5 245Z" fill="#000" opacity="1" filter="url(#b1)"/>
<ellipse cx="110" cy="226.3" rx="1.3" ry="1.6" fill="#000" opacity="0.2" filter="url(#b08)"/>
<ellipse cx="109.4" cy="242.5" rx="1.3" ry="4.5" fill="#000" opacity="0.4" filter="url(#b08)"/>
<path d="M110.8 234.8h.6M110.2 241.3h.6M110.2 243.8h.6M107.5 241.0h.6M107.0 242.4h.6M108.5 246.7h.6M107.2 244.1h.6M108.2 241.0h.6M107.3 250.4h.6M109.1 243.3h.6M112.2 236.1h.6M109.3 239.3h.6M109.1 241.3h.6M110.0 246.0h.6M109.5 247.7h.6M109.0 237.8h.6M107.3 246.4h.6M109.0 244.9h.6M110.3 239.4h.6M111.0 246.0h.6M111.4 245.9h.6M108.0 245.3h.6M109.6 237.2h.6M110.5 242.0h.6M109.9 249.6h.6M111.0 241.3h.6M110.3 247.1h.6M109.6 247.4h.6M110.1 241.2h.6M111.1 242.0h.6M108.8 241.5h.6M107.2 247.3h.6M107.9 235.7h.6M109.8 234.2h.6M109.1 246.0h.6M109.8 244.5h.6M109.0 239.2h.6M109.8 246.1h.6M109.3 246.9h.6M106.4 239.3h.6M106.2 241.3h.6M109.6 237.9h.6M108.7 242.6h.6M108.4 242.1h.6M110.6 243.0h.6M110.7 244.8h.6M108.8 243.3h.6M110.5 240.7h.6M108.6 247.9h.6M110.4 245.6h.6" stroke="#000" stroke-width=".6" opacity="0.25"/>
</g>
<rect x="83.6" y="223.6" width="39.7" height="32.9" fill="none" stroke="#777" stroke-width="0.5"/>
<line x1="102.3" y1="223.6" x2="102.3" y2="256.5" stroke="#888" stroke-width="0.5"/>
<line x1="83.6" y1="232.8" x2="123.3" y2="232.8" stroke="#888" stroke-width="0.5"/>
<rect x="84.19999999999999" y="224.4" width="7" height="3" fill="#fff" stroke="#444" stroke-width="0.3"/>
<text x="87.69999999999999" y="226.79999999999998" font-size="2.6" text-anchor="middle" font-weight="bold" fill="#000" stroke="#000" stroke-width="0.1">44.0</text>
<rect x="84.19999999999999" y="252.7" width="8" height="3" fill="#fff" stroke="#444" stroke-width="0.3"/>
<text x="88.19999999999999" y="255.1" font-size="2.6" text-anchor="middle" font-weight="bold" fill="#000" stroke="#000" stroke-width="0.1">53.5</text>
<text x="122.3" y="227.1" font-size="2.8" text-anchor="end" fill="#222" stroke="#222" stroke-width="0.08">0.4</text>
<text x="122.3" y="255.0" font-size="2.8" text-anchor="end" fill="#222" stroke="#222" stroke-width="0.08">2.5</text>
<text x="34.6" y="268.5" font-size="2.3" text-anchor="end" fill="#555" stroke="#555" stroke-width="0.08">10⁴</text>
<text x="34.6" y="275.5" font-size="2.3" text-anchor="end" fill="#555" stroke="#555" stroke-width="0.08">10³</text>
<text x="34.6" y="284.5" font-size="2.3" text-anchor="end" fill="#555" stroke="#555" stroke-width="0.08">10²</text>
<text x="34.6" y="292.5" font-size="2.3" text-anchor="end" fill="#555" stroke="#555" stroke-width="0.08">10¹</text>
<text x="34.6" y="298.5" font-size="2.3" text-anchor="end" fill="#555" stroke="#555" stroke-width="0.08">0</text>
<text x="38.6" y="301.90000000000003" font-size="2.3" text-anchor="middle" fill="#555" stroke="#555" stroke-width="0.08">0</text>
<text x="44.6" y="301.90000000000003" font-size="2.3" text-anchor="middle" fill="#555" stroke="#555" stroke-width="0.08">10¹</text>
<text x="54.6" y="301.90000000000003" font-size="2.3" text-anchor="middle" fill="#555" stroke="#555" stroke-width="0.08">10²</text>
<text x="64.6" y="301.90000000000003" font-size="2.3" text-anchor="middle" fill="#555" stroke="#555" stroke-width="0.08">10³</text>
<text x="73.6" y="301.90000000000003" font-size="2.3" text-anchor="middle" fill="#555" stroke="#555" stroke-width="0.08">10⁴</text>
<clipPath id="c13"><rect x="36.6" y="264.6" width="39.7" height="34.3"/></clipPath><g clip-path="url(#c13)">
<path d="M36 264L53.5 264L53.5 268L48 271L42 273.5L36 273.8Z" fill="#000" opacity="1" filter="url(#b08)"/>
<ellipse cx="46" cy="276" rx="6" ry="1.2" fill="#000" opacity="0.2" filter="url(#b1)"/>
<path d="M42.6 285.9h.6M46.8 289.5h.6M49.0 280.4h.6M49.1 281.0h.6M40.6 284.1h.6M42.6 293.3h.6M41.9 287.9h.6M51.0 276.6h.6M48.7 298.4h.6M49.5 282.6h.6M44.6 287.9h.6M41.9 280.8h.6M50.3 281.8h.6M49.9 280.5h.6M42.1 284.7h.6M48.9 278.3h.6M45.0 293.8h.6M48.7 295.9h.6M44.4 277.9h.6M45.1 290.2h.6M40.3 285.1h.6M42.0 282.2h.6M44.1 283.2h.6M45.2 283.9h.6M39.3 282.8h.6M51.3 286.3h.6M46.0 291.2h.6M46.5 281.6h.6M41.0 291.9h.6M43.8 289.6h.6M43.2 292.3h.6M44.3 288.5h.6M49.2 295.0h.6M42.8 277.2h.6M46.8 281.7h.6M40.5 296.4h.6M44.5 280.5h.6M39.1 289.4h.6M46.6 289.4h.6M39.8 282.9h.6M44.9 284.6h.6M45.3 285.0h.6M44.8 288.1h.6M48.0 294.8h.6M51.6 277.8h.6M46.2 294.2h.6M47.9 295.0h.6M47.5 277.1h.6M48.3 285.1h.6M50.0 282.7h.6M48.9 279.2h.6M43.8 286.4h.6M50.2 282.1h.6M46.5 293.8h.6M36.8 296.4h.6M44.6 288.3h.6M53.9 286.7h.6M48.3 294.6h.6M51.7 294.4h.6M42.3 289.3h.6M38.5 279.6h.6M43.6 285.1h.6M42.4 282.4h.6M52.8 279.0h.6M47.4 279.4h.6M46.5 281.9h.6M50.4 294.5h.6M43.7 285.9h.6M46.6 277.6h.6M43.0 276.9h.6M42.4 287.0h.6M43.6 297.6h.6M47.9 283.5h.6M46.1 284.3h.6M41.4 296.3h.6M44.2 283.5h.6M51.5 285.3h.6M48.2 280.1h.6M43.2 292.5h.6M51.1 285.1h.6M42.8 293.3h.6M44.4 283.5h.6M44.0 285.6h.6M42.7 293.6h.6M52.6 281.5h.6M42.0 286.2h.6M41.5 287.6h.6M45.7 286.9h.6M41.7 288.8h.6M39.2 284.6h.6M44.3 287.3h.6M48.8 285.8h.6M40.4 289.5h.6M44.4 291.7h.6M52.5 296.2h.6M44.9 281.0h.6M46.0 285.8h.6M41.6 277.7h.6M50.2 281.0h.6M49.7 293.5h.6M40.7 289.4h.6M44.6 278.1h.6M42.1 287.8h.6M49.3 282.5h.6M44.0 293.3h.6M43.1 282.8h.6M38.1 289.6h.6M41.8 281.0h.6M42.9 282.4h.6M48.5 279.1h.6M48.9 289.1h.6M40.7 280.3h.6M41.7 286.5h.6M48.5 286.4h.6M41.5 281.0h.6M52.4 284.2h.6M52.9 286.3h.6M43.3 284.6h.6M47.2 291.8h.6M43.3 290.0h.6M39.1 276.9h.6M37.7 284.1h.6M41.9 291.2h.6M43.4 284.3h.6M43.6 278.0h.6M39.3 298.6h.6M47.6 278.1h.6M39.4 289.1h.6M42.8 283.4h.6M48.5 280.4h.6M39.1 289.6h.6M40.6 287.8h.6M53.2 278.2h.6M44.7 286.2h.6M45.5 286.0h.6M48.3 282.8h.6M40.7 288.1h.6M46.0 275.9h.6M48.3 284.6h.6M49.4 286.9h.6M39.3 284.6h.6M48.1 293.2h.6M44.1 290.8h.6M50.9 288.7h.6M51.5 290.9h.6M40.6 279.3h.6M41.2 297.4h.6M50.3 281.4h.6M41.2 287.0h.6M43.4 292.2h.6M45.8 293.9h.6M46.9 289.3h.6M40.7 288.7h.6M42.7 298.0h.6M46.4 287.2h.6M45.7 287.4h.6M43.2 291.0h.6M44.9 281.5h.6M49.0 291.6h.6M50.1 284.5h.6M49.2 296.3h.6M48.0 289.5h.6M44.8 277.5h.6M40.4 286.6h.6M49.7 290.2h.6M42.6 288.3h.6M44.5 282.6h.6M44.8 292.2h.6M39.9 284.5h.6M44.8 280.8h.6M40.8 289.8h.6M42.7 296.7h.6M45.7 275.5h.6M43.6 295.9h.6M49.5 285.1h.6M42.1 284.7h.6M40.2 281.4h.6M46.6 287.9h.6M45.9 286.1h.6M38.3 290.5h.6M45.1 292.0h.6M45.7 281.0h.6M49.3 291.9h.6M43.9 291.5h.6M47.1 284.2h.6M46.1 282.5h.6M51.1 284.4h.6M49.4 298.1h.6M45.3 291.2h.6M51.7 275.7h.6M39.6 288.1h.6M51.3 293.6h.6M42.2 289.4h.6M52.9 282.4h.6M45.5 283.8h.6M42.7 286.0h.6M37.3 281.3h.6M42.5 293.5h.6M40.1 292.5h.6M43.2 282.5h.6M37.5 288.1h.6M44.7 292.0h.6M47.5 295.3h.6M45.2 287.9h.6M47.3 288.8h.6M47.4 292.7h.6M47.5 276.8h.6M46.8 285.2h.6M40.6 292.9h.6M42.1 289.7h.6M41.9 290.8h.6M51.1 282.0h.6M41.5 292.9h.6M41.0 293.6h.6M46.8 281.7h.6M42.5 295.3h.6M48.9 288.1h.6M46.1 293.9h.6M42.3 289.3h.6M47.1 295.3h.6M43.4 286.1h.6M46.3 285.9h.6M43.9 290.6h.6M42.9 285.6h.6M46.2 288.0h.6M43.4 286.7h.6M39.6 282.7h.6M41.9 280.6h.6M44.0 286.7h.6M44.4 285.1h.6M42.5 292.7h.6M47.4 279.4h.6M46.0 282.2h.6M47.9 282.6h.6M46.4 282.8h.6M44.2 289.5h.6M48.1 278.9h.6M42.6 282.3h.6M37.5 288.7h.6M44.1 285.4h.6M41.4 298.0h.6M43.4 289.0h.6M40.2 286.4h.6M45.3 281.5h.6M40.1 280.8h.6M42.6 293.6h.6M45.5 283.5h.6M42.8 291.9h.6M42.0 281.8h.6M48.5 287.2h.6M50.9 285.7h.6M43.7 289.8h.6M45.9 287.4h.6M40.8 283.1h.6M41.6 284.2h.6M50.8 281.7h.6M47.1 289.8h.6M38.1 293.3h.6M46.0 289.4h.6M45.9 293.2h.6M46.8 283.2h.6M42.2 282.0h.6M41.5 282.0h.6M46.0 293.0h.6M44.1 293.4h.6M50.1 291.3h.6M49.8 290.1h.6M38.7 282.7h.6M46.0 287.0h.6M39.2 286.8h.6M38.4 285.6h.6M47.8 288.8h.6M42.4 290.9h.6M53.7 285.4h.6M45.6 278.5h.6M48.5 277.4h.6M44.0 292.6h.6M43.7 278.3h.6M40.5 285.3h.6M45.3 293.0h.6M51.2 291.1h.6M38.1 280.1h.6M48.4 279.1h.6M50.8 291.9h.6M45.3 292.1h.6M41.8 293.4h.6M45.4 283.5h.6M43.5 290.3h.6M43.2 284.3h.6M38.9 294.6h.6M44.9 287.0h.6M41.3 285.5h.6M46.4 289.6h.6M42.4 283.8h.6M47.9 296.2h.6M43.1 290.2h.6M48.3 289.3h.6M40.9 287.2h.6M45.4 280.3h.6M45.2 287.0h.6M41.8 297.1h.6M46.4 281.9h.6M50.4 285.3h.6M40.5 279.8h.6M49.8 279.9h.6M46.5 289.9h.6M42.4 291.6h.6M49.7 286.7h.6M45.0 291.1h.6M45.4 295.1h.6M48.4 287.6h.6M46.0 284.7h.6M48.0 282.7h.6M44.9 279.5h.6M45.3 289.9h.6M37.5 295.9h.6M37.6 290.9h.6M43.3 291.6h.6M47.9 288.7h.6M49.6 285.2h.6M46.1 285.2h.6M42.0 280.5h.6M46.7 297.5h.6M41.2 284.1h.6M41.9 289.5h.6M41.7 281.0h.6M46.1 288.3h.6M46.3 294.5h.6M38.7 293.8h.6M51.3 290.2h.6M51.9 292.1h.6M44.7 279.6h.6M45.3 278.1h.6M41.5 284.6h.6M46.9 283.2h.6M44.7 286.9h.6M46.2 290.8h.6M47.2 285.3h.6M45.8 283.2h.6M39.6 283.5h.6M48.5 289.3h.6M37.9 280.8h.6M37.2 289.6h.6M51.4 296.6h.6M47.3 294.2h.6M51.0 281.1h.6M52.2 282.2h.6M43.5 276.5h.6M49.1 284.1h.6M49.3 290.4h.6M43.3 290.4h.6M43.1 279.1h.6M42.9 283.3h.6M51.0 286.1h.6M46.6 287.1h.6M46.4 287.6h.6M43.7 278.8h.6M45.6 285.2h.6M40.5 285.6h.6M50.0 281.4h.6M48.6 277.4h.6M53.8 291.6h.6M41.8 289.5h.6M40.5 279.2h.6M43.2 282.0h.6M46.5 279.2h.6M46.8 289.8h.6M48.7 291.0h.6M48.2 293.5h.6M50.8 293.6h.6M50.4 278.8h.6M43.8 296.1h.6M42.3 291.6h.6M49.9 295.4h.6M42.2 288.5h.6M44.4 291.1h.6M50.4 286.9h.6M49.7 295.9h.6M45.7 284.4h.6M42.5 279.6h.6M43.0 285.9h.6M49.5 282.8h.6M41.8 286.7h.6M44.0 294.9h.6M45.1 295.9h.6M44.2 280.1h.6M45.1 281.3h.6M49.2 285.3h.6M43.6 284.1h.6M43.5 291.6h.6M46.2 287.2h.6M50.4 283.3h.6M48.4 292.2h.6M46.5 283.9h.6M44.4 294.0h.6M40.7 292.9h.6M47.5 289.7h.6M47.5 284.0h.6M52.5 287.4h.6M48.8 285.8h.6M43.6 293.8h.6M40.6 286.8h.6M41.2 277.1h.6M49.6 287.2h.6M44.0 289.3h.6M43.8 288.5h.6M44.5 288.2h.6M42.9 292.4h.6M39.6 276.3h.6M37.3 282.8h.6M45.6 290.6h.6M48.7 277.5h.6M37.9 290.9h.6M53.2 290.9h.6M44.5 293.5h.6M52.6 293.3h.6M46.0 285.2h.6M42.5 284.3h.6M39.5 289.2h.6M49.8 285.2h.6M48.6 291.2h.6M44.5 286.7h.6M51.9 282.4h.6M41.9 284.5h.6M41.6 290.6h.6M47.8 285.3h.6M48.0 275.9h.6M49.5 280.7h.6M49.1 283.0h.6M47.9 291.4h.6M38.5 298.6h.6M38.7 284.3h.6M48.2 290.9h.6M46.1 285.1h.6M48.8 289.4h.6M43.6 294.1h.6M52.3 283.4h.6M43.3 280.5h.6M39.6 288.2h.6M49.5 278.1h.6M44.0 289.2h.6M42.4 292.5h.6M47.9 286.8h.6M50.5 289.3h.6M50.2 291.0h.6M44.0 296.6h.6M42.0 289.5h.6M43.6 282.0h.6M39.2 294.4h.6M51.3 294.0h.6M45.6 290.9h.6M46.4 290.9h.6M47.3 293.9h.6M45.8 283.8h.6M45.0 286.4h.6M41.7 298.1h.6M38.6 294.7h.6M43.8 286.4h.6M45.4 290.1h.6M37.1 290.3h.6M44.4 287.0h.6M45.2 286.4h.6M50.1 281.6h.6M41.6 290.3h.6M44.2 292.9h.6M45.5 298.2h.6M49.8 281.4h.6M50.0 281.9h.6M46.5 284.8h.6M38.7 292.2h.6M47.7 285.2h.6M41.2 282.3h.6M44.4 294.0h.6M43.1 286.7h.6M43.3 279.5h.6M43.4 283.2h.6M50.5 288.2h.6M51.0 286.6h.6M45.9 295.8h.6M47.2 287.6h.6M47.3 289.2h.6M50.3 283.3h.6M43.0 281.6h.6M50.6 291.1h.6M43.7 290.6h.6M53.8 292.0h.6M44.7 281.2h.6M50.5 285.2h.6M38.0 293.2h.6M41.3 284.6h.6M48.7 285.6h.6M45.9 283.3h.6M46.5 291.1h.6M43.7 292.1h.6M48.5 279.9h.6M53.3 288.1h.6M49.1 296.0h.6M41.0 280.6h.6M43.5 298.5h.6M52.5 292.2h.6M40.7 284.7h.6M44.2 287.8h.6M39.9 287.4h.6M42.9 289.9h.6M40.7 283.7h.6M45.7 291.2h.6M45.5 288.2h.6M44.4 283.3h.6M43.1 281.7h.6M47.5 289.5h.6M44.3 281.8h.6M43.2 286.0h.6M49.7 285.0h.6M46.0 283.0h.6M48.0 285.4h.6M43.5 284.9h.6M50.4 279.3h.6M42.3 279.4h.6M48.6 288.7h.6M43.4 290.8h.6M45.8 284.0h.6M44.8 290.7h.6M49.3 297.8h.6M46.3 287.4h.6M45.5 282.0h.6M44.3 290.5h.6M43.3 285.2h.6M39.2 290.7h.6M49.8 287.0h.6M45.8 288.2h.6M45.3 285.7h.6M49.6 288.9h.6M43.4 279.5h.6M49.7 285.8h.6M47.6 283.9h.6M39.6 290.7h.6M50.3 277.0h.6M45.8 286.4h.6M38.1 297.7h.6M42.8 290.2h.6M45.2 298.5h.6M40.9 284.6h.6M46.3 291.4h.6M45.0 294.0h.6M50.2 289.6h.6M38.9 281.3h.6M37.7 284.1h.6M49.1 296.9h.6M46.0 292.4h.6M43.3 285.3h.6M48.3 277.0h.6M44.2 281.7h.6M46.2 290.6h.6M46.0 295.4h.6M45.5 294.7h.6M44.9 281.7h.6M43.9 284.9h.6M40.0 285.6h.6M48.7 287.5h.6M48.1 281.6h.6M52.8 281.5h.6M39.5 288.2h.6M47.7 295.0h.6M48.4 292.9h.6M38.1 288.2h.6M51.7 279.8h.6M48.0 292.2h.6M43.6 281.0h.6M51.0 287.1h.6M45.8 287.8h.6M46.6 290.8h.6M45.8 293.0h.6M44.9 278.8h.6M41.5 290.4h.6M41.0 288.4h.6M48.4 283.1h.6M44.9 279.4h.6M39.4 290.0h.6M46.0 280.3h.6M43.1 282.8h.6M43.5 283.1h.6M42.8 279.0h.6M43.2 294.5h.6M44.1 291.0h.6M43.5 284.5h.6M51.5 288.6h.6M42.4 291.3h.6M38.8 277.9h.6M43.7 284.4h.6M45.4 279.5h.6M46.9 285.8h.6M43.9 289.0h.6M43.4 293.3h.6M41.1 288.8h.6M40.6 283.9h.6M47.0 279.1h.6M42.4 284.0h.6M38.5 283.7h.6M49.2 292.6h.6M40.3 282.3h.6M46.3 283.9h.6M43.6 277.6h.6M40.1 285.9h.6M41.8 291.0h.6M42.5 289.3h.6M47.2 279.6h.6M50.3 285.7h.6M49.5 291.3h.6M38.1 277.4h.6M38.3 291.9h.6M44.9 292.6h.6M40.0 291.6h.6M44.8 290.6h.6M47.7 287.6h.6M51.0 278.4h.6M43.2 293.2h.6M40.3 291.4h.6M45.1 288.7h.6M48.0 279.7h.6M48.4 291.3h.6" stroke="#000" stroke-width=".6" opacity="0.3"/>
<ellipse cx="44" cy="287" rx="7" ry="8.5" fill="#000" opacity="0.5" filter="url(#b2)"/>
<path d="M41.5 282L50.5 278.2L51.5 280L51.2 288L50 292.5L46.5 292L42.5 288Z" fill="#000" opacity="1" filter="url(#b1)"/>
<ellipse cx="62.4" cy="267.9" rx="2.4" ry="2" fill="#000" opacity="0.85" filter="url(#b08)"/>
<ellipse cx="62.4" cy="283" rx="1.2" ry="3.5" fill="#000" opacity="0.25" filter="url(#b08)"/>
<path d="M58.9 283.4h.6M61.0 279.2h.6M60.4 284.0h.6M63.9 291.9h.6M64.1 281.3h.6M60.4 286.7h.6M63.3 283.2h.6M60.7 278.7h.6M62.1 288.3h.6M64.2 279.6h.6M60.3 282.6h.6M63.3 280.3h.6M62.5 286.2h.6M60.3 289.5h.6M64.1 283.2h.6M62.7 284.9h.6M61.5 285.6h.6M62.5 280.3h.6M62.3 282.0h.6M61.8 285.5h.6M63.3 286.3h.6M61.8 285.3h.6M62.0 289.0h.6M61.1 286.6h.6M61.7 276.9h.6M63.3 278.3h.6M61.3 282.8h.6M62.9 282.6h.6M62.8 284.0h.6M60.4 287.4h.6M64.1 280.9h.6M63.2 282.0h.6M61.4 282.0h.6M60.0 280.7h.6M63.2 286.6h.6M62.9 283.8h.6M61.6 286.4h.6M64.6 284.2h.6M64.5 283.4h.6M62.1 286.2h.6" stroke="#000" stroke-width=".6" opacity="0.25"/>
</g>
<rect x="36.6" y="264.6" width="39.7" height="34.3" fill="none" stroke="#777" stroke-width="0.5"/>
<line x1="55.9" y1="264.6" x2="55.9" y2="298.90000000000003" stroke="#888" stroke-width="0.5"/>
<line x1="36.6" y1="275" x2="76.30000000000001" y2="275" stroke="#888" stroke-width="0.5"/>
<rect x="37.2" y="265.40000000000003" width="7" height="3" fill="#fff" stroke="#444" stroke-width="0.3"/>
<text x="40.7" y="267.8" font-size="2.6" text-anchor="middle" font-weight="bold" fill="#000" stroke="#000" stroke-width="0.1">21.8</text>
<rect x="37.2" y="295.1" width="8" height="3" fill="#fff" stroke="#444" stroke-width="0.3"/>
<text x="41.2" y="297.50000000000006" font-size="2.6" text-anchor="middle" font-weight="bold" fill="#000" stroke="#000" stroke-width="0.1">75.7</text>
<text x="75.30000000000001" y="268.1" font-size="2.8" text-anchor="end" fill="#222" stroke="#222" stroke-width="0.08">1.86</text>
<text x="75.30000000000001" y="297.40000000000003" font-size="2.8" text-anchor="end" fill="#222" stroke="#222" stroke-width="0.08">1.06</text>
<text x="82" y="268.5" font-size="2.3" text-anchor="end" fill="#555" stroke="#555" stroke-width="0.08">10⁴</text>
<text x="82" y="275.5" font-size="2.3" text-anchor="end" fill="#555" stroke="#555" stroke-width="0.08">10³</text>
<text x="82" y="284.5" font-size="2.3" text-anchor="end" fill="#555" stroke="#555" stroke-width="0.08">10²</text>
<text x="82" y="292.5" font-size="2.3" text-anchor="end" fill="#555" stroke="#555" stroke-width="0.08">10¹</text>
<text x="82" y="298.5" font-size="2.3" text-anchor="end" fill="#555" stroke="#555" stroke-width="0.08">0</text>
<text x="86" y="302.20000000000005" font-size="2.3" text-anchor="middle" fill="#555" stroke="#555" stroke-width="0.08">0</text>
<text x="92" y="302.20000000000005" font-size="2.3" text-anchor="middle" fill="#555" stroke="#555" stroke-width="0.08">10¹</text>
<text x="102" y="302.20000000000005" font-size="2.3" text-anchor="middle" fill="#555" stroke="#555" stroke-width="0.08">10²</text>
<text x="112" y="302.20000000000005" font-size="2.3" text-anchor="middle" fill="#555" stroke="#555" stroke-width="0.08">10³</text>
<text x="121" y="302.20000000000005" font-size="2.3" text-anchor="middle" fill="#555" stroke="#555" stroke-width="0.08">10⁴</text>
<clipPath id="c14"><rect x="84" y="264.6" width="39" height="34.6"/></clipPath><g clip-path="url(#c14)">
<path d="M83 264L100.5 264L100.5 268L96 271.5L90 273.5L83 273.8Z" fill="#000" opacity="1" filter="url(#b08)"/>
<ellipse cx="93" cy="277" rx="6" ry="1.2" fill="#000" opacity="0.2" filter="url(#b1)"/>
<path d="M92.5 286.6h.6M89.2 288.8h.6M91.7 278.3h.6M94.3 298.4h.6M93.7 290.8h.6M94.5 293.4h.6M95.7 286.0h.6M86.3 290.8h.6M94.0 284.7h.6M90.6 290.9h.6M99.7 284.4h.6M87.3 288.0h.6M88.0 285.1h.6M87.2 295.1h.6M94.1 289.1h.6M94.9 293.3h.6M87.2 291.5h.6M88.9 279.0h.6M93.9 284.6h.6M99.1 286.5h.6M90.6 282.9h.6M91.1 287.6h.6M95.1 283.5h.6M88.4 281.7h.6M88.6 285.6h.6M91.2 284.0h.6M96.4 283.7h.6M93.1 287.2h.6M93.8 288.6h.6M89.8 288.0h.6M89.4 287.2h.6M97.6 293.1h.6M98.6 283.1h.6M97.8 290.7h.6M95.1 286.4h.6M100.5 282.8h.6M93.2 280.0h.6M90.5 290.4h.6M93.1 289.7h.6M98.4 281.9h.6M84.6 286.2h.6M91.3 293.7h.6M87.8 292.5h.6M90.0 283.9h.6M87.2 284.5h.6M93.2 298.9h.6M96.6 293.7h.6M91.3 298.3h.6M91.5 296.7h.6M86.0 291.7h.6M86.8 286.2h.6M91.0 277.2h.6M93.8 288.5h.6M91.4 278.6h.6M88.7 294.2h.6M89.9 286.9h.6M91.4 286.8h.6M86.6 287.2h.6M90.4 280.1h.6M84.6 289.3h.6M89.7 284.3h.6M89.2 289.4h.6M97.0 285.5h.6M87.3 290.6h.6M97.3 290.2h.6M87.8 293.7h.6M89.8 281.0h.6M91.8 283.9h.6M95.6 283.4h.6M97.5 292.3h.6M85.5 285.6h.6M90.1 283.3h.6M93.7 286.6h.6M100.2 289.7h.6M96.5 293.8h.6M94.1 292.9h.6M88.6 294.0h.6M96.7 294.4h.6M89.2 284.8h.6M97.6 287.6h.6M86.3 291.9h.6M93.2 276.8h.6M87.9 286.1h.6M88.0 295.3h.6M90.7 279.7h.6M95.7 290.1h.6M85.0 293.6h.6M85.4 282.7h.6M99.1 285.1h.6M92.2 283.1h.6M90.5 276.0h.6M90.5 283.4h.6M96.5 285.4h.6M87.8 285.2h.6M93.2 286.1h.6M93.6 298.6h.6M88.8 280.3h.6M88.2 293.0h.6M95.2 288.7h.6M96.0 286.4h.6M95.1 286.5h.6M91.1 281.6h.6M91.7 287.4h.6M87.5 283.7h.6M90.1 296.3h.6M94.3 292.0h.6M98.4 292.1h.6M100.1 296.4h.6M95.5 287.4h.6M92.6 287.5h.6M88.4 278.9h.6M94.0 280.1h.6M95.4 298.3h.6M92.5 282.5h.6M88.9 291.6h.6M91.5 285.5h.6M93.3 281.2h.6M87.0 290.3h.6M88.5 291.7h.6M89.6 288.5h.6M91.2 295.5h.6M90.6 288.5h.6M86.5 288.9h.6M91.2 289.8h.6M92.3 289.8h.6M93.9 294.0h.6M87.3 284.9h.6M93.2 279.2h.6M94.6 285.2h.6M95.1 296.9h.6M101.1 283.9h.6M92.3 283.5h.6M85.3 288.8h.6M89.0 280.7h.6M90.4 284.5h.6M86.5 289.2h.6M94.6 290.2h.6M88.7 282.7h.6M96.7 282.9h.6M85.3 281.0h.6M98.8 286.9h.6M89.9 288.4h.6M92.0 286.2h.6M91.1 291.8h.6M96.6 281.6h.6M91.3 287.6h.6M95.3 292.4h.6M91.5 291.2h.6M97.8 295.2h.6M88.0 289.0h.6M93.7 281.7h.6M90.3 285.3h.6M96.3 288.3h.6M89.9 289.6h.6M92.5 283.4h.6M93.8 279.9h.6M92.9 285.3h.6M92.5 284.0h.6M100.4 284.2h.6M95.8 288.4h.6M97.6 284.1h.6M85.9 292.1h.6M97.0 291.9h.6M99.1 288.2h.6M87.7 291.0h.6M95.0 296.1h.6M90.1 286.8h.6M85.4 287.3h.6M88.6 288.1h.6M88.4 290.6h.6M91.5 284.1h.6M94.8 291.1h.6M90.7 287.0h.6M95.9 291.0h.6M89.6 280.5h.6M88.9 289.3h.6M96.4 282.5h.6M93.8 280.7h.6M91.8 286.7h.6M99.5 277.3h.6M89.6 277.1h.6M89.6 286.2h.6M92.0 294.0h.6M87.6 284.9h.6M99.1 288.3h.6M87.3 288.2h.6M86.6 283.0h.6M89.4 279.3h.6M100.7 285.7h.6M93.1 286.6h.6M91.5 283.3h.6M94.0 285.5h.6M87.9 293.3h.6M99.3 290.6h.6M94.5 286.2h.6M92.5 292.2h.6M92.1 295.7h.6M98.9 289.4h.6M93.1 283.2h.6M89.9 284.3h.6M90.3 282.9h.6M93.8 289.9h.6M91.2 297.4h.6M93.2 287.7h.6M92.9 284.6h.6M95.6 282.8h.6M93.3 281.9h.6M86.5 294.6h.6M98.4 285.4h.6M93.2 285.3h.6M87.4 290.5h.6M88.7 291.5h.6M93.5 284.5h.6M92.3 288.3h.6M91.2 286.7h.6M97.9 283.8h.6M92.7 293.9h.6M93.9 285.7h.6M86.5 286.5h.6M91.9 295.6h.6M95.0 294.0h.6M94.2 289.4h.6M84.3 284.7h.6M90.9 287.5h.6M86.0 279.3h.6M92.8 286.5h.6M92.0 286.7h.6M90.8 281.5h.6M96.1 290.3h.6M91.8 297.8h.6M88.5 292.7h.6M91.7 288.1h.6M96.1 288.0h.6M91.9 281.2h.6M93.3 290.3h.6M89.9 281.3h.6M96.6 288.8h.6M97.6 287.6h.6M95.4 288.8h.6M93.2 286.8h.6M94.7 292.9h.6M92.4 282.2h.6M96.7 293.6h.6M86.3 289.4h.6M99.3 291.5h.6M89.6 289.6h.6M93.7 281.9h.6M90.6 286.2h.6M90.4 295.5h.6M88.5 295.1h.6M91.6 286.6h.6M90.9 296.9h.6M101.3 289.4h.6M87.3 286.5h.6M91.0 294.3h.6M89.2 283.8h.6M86.9 287.6h.6M97.0 298.6h.6M99.9 289.6h.6M85.0 283.4h.6M94.4 288.1h.6M88.1 287.6h.6M90.4 291.3h.6M93.4 292.3h.6M88.7 296.4h.6M98.5 290.9h.6M86.8 282.0h.6M91.0 287.4h.6M87.7 287.3h.6M84.5 287.0h.6M85.5 289.6h.6M89.9 279.8h.6M89.8 286.9h.6M98.2 291.9h.6M90.0 292.6h.6M91.6 292.6h.6M89.9 289.6h.6M90.4 293.4h.6M100.4 297.1h.6M98.7 287.2h.6M99.6 286.4h.6M91.8 283.0h.6M96.5 278.9h.6M91.5 291.9h.6M86.5 290.7h.6M86.7 286.2h.6M93.6 295.9h.6M93.0 287.4h.6M85.7 283.1h.6M93.0 288.3h.6M86.0 294.2h.6M89.4 288.7h.6M97.8 284.8h.6M90.7 288.2h.6M92.1 297.6h.6M98.8 284.4h.6M98.1 279.5h.6M88.6 284.0h.6M88.9 288.9h.6M93.2 282.9h.6M93.8 284.3h.6M94.5 289.6h.6M86.5 282.8h.6M96.6 287.5h.6M93.3 286.1h.6M99.4 290.5h.6M88.5 289.2h.6M86.7 285.7h.6M90.2 282.2h.6M87.8 293.9h.6M87.6 286.7h.6M86.0 294.9h.6M87.3 292.1h.6M95.0 291.0h.6M87.6 286.6h.6M84.9 281.4h.6M93.5 287.9h.6M96.9 290.5h.6M98.1 289.5h.6M91.2 289.0h.6M96.1 293.3h.6M95.1 285.3h.6M86.9 293.6h.6M97.0 282.3h.6M92.1 282.5h.6M90.2 285.6h.6M91.7 285.4h.6M93.8 279.1h.6M95.5 283.7h.6M97.9 289.0h.6M91.2 290.7h.6M101.5 296.2h.6M88.1 296.2h.6M91.2 289.0h.6M90.2 286.0h.6M94.7 289.1h.6M95.5 285.1h.6M87.7 285.7h.6M90.7 290.0h.6M100.8 288.8h.6M100.8 293.1h.6M96.7 278.0h.6M90.2 287.8h.6M92.0 277.0h.6M93.4 298.2h.6M98.7 289.6h.6M94.5 288.0h.6M96.6 279.9h.6M94.5 296.1h.6M87.3 287.5h.6M84.8 293.4h.6M95.7 285.7h.6M90.3 287.7h.6M89.5 286.1h.6M92.7 284.6h.6M88.0 286.7h.6M91.7 282.4h.6M84.8 287.2h.6M92.1 295.1h.6M89.2 287.9h.6M91.0 284.4h.6M85.5 277.0h.6M87.5 285.0h.6M93.7 280.9h.6M88.4 285.4h.6M94.9 294.6h.6M94.8 291.9h.6M98.0 291.8h.6M92.9 291.0h.6M96.6 288.9h.6M96.8 284.9h.6M86.6 287.7h.6M91.0 282.1h.6M90.3 285.6h.6M93.5 288.1h.6M89.2 286.4h.6M85.8 284.3h.6M93.2 278.2h.6M90.3 283.6h.6M92.2 291.3h.6M91.4 293.3h.6M89.3 289.9h.6M87.3 278.7h.6M86.9 286.3h.6M94.3 298.3h.6M93.9 291.5h.6M87.7 297.5h.6M88.8 287.2h.6M101.2 293.1h.6M93.9 281.0h.6M93.7 284.3h.6M98.3 290.9h.6M88.1 288.4h.6M96.9 281.1h.6M90.8 291.7h.6M87.5 285.5h.6M88.7 293.8h.6M95.6 281.5h.6M97.1 297.1h.6M90.3 289.8h.6M94.8 291.9h.6M90.5 289.2h.6M91.5 277.6h.6M96.1 289.6h.6M87.9 283.0h.6M84.3 288.9h.6M93.3 288.8h.6M96.6 286.5h.6M86.4 288.3h.6M99.5 295.7h.6M91.9 298.7h.6M87.4 284.7h.6M92.2 282.8h.6M93.9 276.7h.6M93.1 282.4h.6M88.4 289.5h.6M91.4 285.0h.6M92.0 283.8h.6M98.2 289.9h.6M93.4 295.9h.6M101.0 279.4h.6M92.6 281.0h.6M95.1 284.6h.6M88.6 286.4h.6M97.5 282.4h.6M93.7 286.4h.6M90.4 288.6h.6M100.5 285.5h.6M93.0 290.1h.6M84.5 286.4h.6M94.6 290.0h.6M92.4 282.3h.6M90.2 291.2h.6M88.4 293.2h.6M93.9 297.0h.6M84.2 287.8h.6M84.3 281.6h.6M101.5 292.0h.6M93.7 281.9h.6M92.1 290.7h.6M98.4 276.5h.6M91.5 281.3h.6M92.2 286.1h.6M99.0 297.3h.6M90.0 293.3h.6M93.5 289.2h.6M91.5 281.9h.6M85.4 296.6h.6M93.3 293.3h.6M92.6 280.1h.6M91.0 283.4h.6M86.7 288.8h.6M88.4 289.8h.6M92.7 285.0h.6M87.6 286.5h.6M97.0 294.0h.6M97.8 283.1h.6M87.7 289.2h.6M91.8 291.6h.6M94.0 279.8h.6M93.1 296.5h.6M91.4 287.6h.6M92.2 279.0h.6M95.4 290.3h.6M96.1 284.8h.6M88.5 281.9h.6M91.3 287.7h.6M94.7 282.5h.6M88.3 281.3h.6M89.5 292.8h.6M96.2 288.1h.6M97.4 290.4h.6M89.8 291.7h.6M85.8 283.8h.6M93.0 288.0h.6M88.8 286.1h.6M86.8 283.4h.6M96.6 294.8h.6M84.5 292.2h.6M88.4 279.8h.6M89.3 288.5h.6M97.2 294.1h.6M92.7 295.0h.6M90.9 286.4h.6M94.5 286.7h.6M87.4 285.3h.6M90.9 285.2h.6M84.6 285.1h.6M89.1 288.6h.6M94.6 285.5h.6M94.9 283.5h.6M89.2 289.7h.6M90.0 291.9h.6M95.9 284.4h.6M89.0 281.1h.6M91.2 288.1h.6M95.1 289.7h.6M95.0 279.3h.6M89.1 287.4h.6M95.7 287.1h.6M93.1 282.1h.6M97.5 288.3h.6M85.5 286.2h.6M90.7 288.7h.6M101.4 281.0h.6M98.4 280.8h.6M91.5 281.4h.6M91.6 294.1h.6M100.3 293.0h.6M91.3 292.6h.6M84.6 287.0h.6M90.5 280.5h.6M97.7 282.6h.6M97.7 286.5h.6M97.1 291.4h.6M98.6 282.6h.6M85.6 288.8h.6M92.3 294.0h.6M91.9 289.0h.6M98.0 289.7h.6M91.4 288.5h.6M97.7 295.3h.6M99.4 290.6h.6M87.2 292.9h.6M90.5 283.3h.6M91.5 283.7h.6M85.8 288.3h.6M87.5 292.9h.6M93.6 280.7h.6M94.1 290.2h.6M86.3 292.4h.6M90.1 286.2h.6M89.4 291.9h.6M93.8 296.1h.6M94.8 288.3h.6M97.6 287.0h.6M84.9 294.0h.6M97.3 290.9h.6M97.0 277.9h.6M94.2 280.2h.6M89.4 283.3h.6M97.2 283.2h.6M96.7 292.2h.6M93.7 290.2h.6M97.9 289.2h.6M95.5 290.8h.6M94.6 287.4h.6M95.1 282.5h.6M91.2 281.1h.6M91.4 294.1h.6M85.7 282.0h.6M94.6 284.1h.6M97.6 288.1h.6M94.3 293.9h.6M95.4 287.2h.6M95.9 292.8h.6M91.8 282.9h.6M87.6 279.7h.6M93.8 294.2h.6M94.8 286.6h.6M86.7 290.5h.6M91.7 296.2h.6M92.1 287.9h.6M92.6 280.2h.6M99.9 285.3h.6M92.7 289.4h.6M95.0 283.4h.6M88.7 286.3h.6M87.5 283.0h.6M95.7 286.2h.6M95.1 286.3h.6M93.9 284.2h.6M99.5 284.5h.6M94.4 298.3h.6M99.6 284.0h.6M88.8 289.4h.6M93.5 295.3h.6M90.0 291.3h.6M91.3 284.5h.6M99.2 296.5h.6M95.1 289.8h.6M90.3 298.4h.6M87.7 294.7h.6M89.1 291.6h.6M92.9 285.9h.6M91.2 289.3h.6M90.0 283.9h.6M98.9 283.5h.6M92.7 281.4h.6M86.1 285.1h.6M95.8 292.9h.6M87.2 282.6h.6M91.7 293.8h.6M92.9 281.1h.6M91.7 278.7h.6M93.5 280.2h.6M87.6 277.2h.6M88.2 284.4h.6M96.2 285.4h.6M90.9 284.9h.6M92.5 285.6h.6M86.2 286.4h.6M95.0 278.4h.6M91.3 283.0h.6M84.6 286.2h.6M97.3 284.3h.6M95.4 287.1h.6M86.4 295.0h.6M96.9 286.0h.6M96.0 291.2h.6M100.1 293.2h.6M92.7 292.4h.6M91.1 281.9h.6M90.5 285.3h.6M98.0 288.4h.6M94.7 283.3h.6M95.8 284.6h.6M84.7 291.6h.6M93.2 296.1h.6M100.4 287.9h.6M92.3 280.1h.6M98.6 290.9h.6" stroke="#000" stroke-width=".6" opacity="0.3"/>
<ellipse cx="91" cy="288" rx="7.5" ry="8.5" fill="#000" opacity="0.5" filter="url(#b2)"/>
<path d="M85.2 283L98.5 279.4L99.3 281L98.5 288L97.5 293.5L92 293.5L86 289Z" fill="#000" opacity="1" filter="url(#b1)"/>
<ellipse cx="110" cy="268.5" rx="2" ry="1.8" fill="#000" opacity="0.55" filter="url(#b08)"/>
<ellipse cx="110" cy="284.5" rx="1.4" ry="4" fill="#000" opacity="0.45" filter="url(#b08)"/>
<path d="M108.6 277.0h.6M111.8 288.7h.6M111.2 290.3h.6M110.6 281.7h.6M110.3 284.6h.6M109.3 284.0h.6M106.7 280.0h.6M109.7 275.6h.6M110.2 281.9h.6M112.9 290.0h.6M111.1 283.7h.6M107.7 280.0h.6M109.6 288.2h.6M107.5 283.7h.6M111.5 286.7h.6M108.8 283.8h.6M110.5 288.6h.6M109.5 283.4h.6M109.8 279.9h.6M109.3 287.2h.6M109.5 282.3h.6M109.1 281.2h.6M110.9 285.6h.6M110.5 285.1h.6M110.1 287.0h.6M109.2 283.1h.6M108.7 289.3h.6M110.9 284.7h.6M110.5 287.1h.6M110.9 286.8h.6M110.0 284.0h.6M111.2 287.2h.6M110.5 288.8h.6M109.1 284.5h.6M108.7 288.8h.6M110.8 284.6h.6M109.5 283.9h.6M107.0 287.6h.6M110.8 286.6h.6M109.1 282.9h.6M109.4 284.1h.6M109.2 281.0h.6M112.2 281.9h.6M110.3 286.0h.6M111.5 289.3h.6M109.6 286.9h.6M111.1 285.8h.6M107.6 277.3h.6M109.1 291.2h.6M111.2 283.9h.6" stroke="#000" stroke-width=".6" opacity="0.25"/>
</g>
<rect x="84" y="264.6" width="39" height="34.6" fill="none" stroke="#777" stroke-width="0.5"/>
<line x1="103.5" y1="264.6" x2="103.5" y2="299.20000000000005" stroke="#888" stroke-width="0.5"/>
<line x1="84" y1="274.8" x2="123" y2="274.8" stroke="#888" stroke-width="0.5"/>
<rect x="84.6" y="265.40000000000003" width="7" height="3" fill="#fff" stroke="#444" stroke-width="0.3"/>
<text x="88.1" y="267.8" font-size="2.6" text-anchor="middle" font-weight="bold" fill="#000" stroke="#000" stroke-width="0.1">25.7</text>
<rect x="84.6" y="295.40000000000003" width="8" height="3" fill="#fff" stroke="#444" stroke-width="0.3"/>
<text x="88.6" y="297.80000000000007" font-size="2.6" text-anchor="middle" font-weight="bold" fill="#000" stroke="#000" stroke-width="0.1">72.0</text>
<text x="122" y="268.1" font-size="2.8" text-anchor="end" fill="#222" stroke="#222" stroke-width="0.08">0.4</text>
<text x="122" y="297.70000000000005" font-size="2.8" text-anchor="end" fill="#222" stroke="#222" stroke-width="0.08">1.5</text>
<line x1="145.7" y1="223.1" x2="145.7" y2="257.2" stroke="#000" stroke-width="0.6"/>
<line x1="144.7" y1="257.2" x2="145.7" y2="257.2" stroke="#000" stroke-width="0.5"/>
<text x="144.1" y="257.9" font-size="2.0" text-anchor="end" font-weight="bold" fill="#222" stroke="#222" stroke-width="0.1">0</text>
<line x1="144.7" y1="250.38" x2="145.7" y2="250.38" stroke="#000" stroke-width="0.5"/>
<text x="144.1" y="251.07999999999998" font-size="2.0" text-anchor="end" font-weight="bold" fill="#222" stroke="#222" stroke-width="0.1">20</text>
<line x1="144.7" y1="243.56" x2="145.7" y2="243.56" stroke="#000" stroke-width="0.5"/>
<text x="144.1" y="244.26" font-size="2.0" text-anchor="end" font-weight="bold" fill="#222" stroke="#222" stroke-width="0.1">40</text>
<line x1="144.7" y1="236.73999999999998" x2="145.7" y2="236.73999999999998" stroke="#000" stroke-width="0.5"/>
<text x="144.1" y="237.43999999999997" font-size="2.0" text-anchor="end" font-weight="bold" fill="#222" stroke="#222" stroke-width="0.1">60</text>
<line x1="144.7" y1="229.92" x2="145.7" y2="229.92" stroke="#000" stroke-width="0.5"/>
<text x="144.1" y="230.61999999999998" font-size="2.0" text-anchor="end" font-weight="bold" fill="#222" stroke="#222" stroke-width="0.1">80</text>
<line x1="144.7" y1="223.1" x2="145.7" y2="223.1" stroke="#000" stroke-width="0.5"/>
<text x="144.1" y="223.79999999999998" font-size="2.0" text-anchor="end" font-weight="bold" fill="#222" stroke="#222" stroke-width="0.1">100</text>
<rect x="147.4" y="223.1" width="8.799999999999983" height="34.099999999999994" fill="#fff" stroke="#555" stroke-width="0.4"/>
<rect x="147.4" y="247.4" width="8.799999999999983" height="9.799999999999983" fill="#000" stroke="#000" stroke-width="0.4"/>
<rect x="159.7" y="223.1" width="8.600000000000023" height="34.099999999999994" fill="#fff" stroke="#555" stroke-width="0.4"/>
<rect x="159.7" y="252.6" width="8.600000000000023" height="4.599999999999994" fill="#000" stroke="#000" stroke-width="0.4"/>
<line x1="145.7" y1="257.2" x2="169.3" y2="257.2" stroke="#000" stroke-width="0.6"/>
<text x="138.5" y="241.14999999999998" font-size="2.8" text-anchor="middle" fill="#111" transform="rotate(-90 138.5 241.14999999999998)" textLength="40" lengthAdjust="spacingAndGlyphs" stroke="#111" stroke-width="0.08">% of FoxP3⁺ population (spleen)</text>
<rect x="147.6" y="223.4" width="1.6" height="24" fill="#bbb" stroke="none" stroke-width="0"/>
<line x1="146.7" y1="265.3" x2="146.7" y2="299.5" stroke="#000" stroke-width="0.6"/>
<line x1="145.7" y1="299.5" x2="146.7" y2="299.5" stroke="#000" stroke-width="0.5"/>
<text x="145.1" y="300.2" font-size="2.0" text-anchor="end" font-weight="bold" fill="#222" stroke="#222" stroke-width="0.1">0</text>
<line x1="145.7" y1="292.66" x2="146.7" y2="292.66" stroke="#000" stroke-width="0.5"/>
<text x="145.1" y="293.36" font-size="2.0" text-anchor="end" font-weight="bold" fill="#222" stroke="#222" stroke-width="0.1">20</text>
<line x1="145.7" y1="285.82" x2="146.7" y2="285.82" stroke="#000" stroke-width="0.5"/>
<text x="145.1" y="286.52" font-size="2.0" text-anchor="end" font-weight="bold" fill="#222" stroke="#222" stroke-width="0.1">40</text>
<line x1="145.7" y1="278.98" x2="146.7" y2="278.98" stroke="#000" stroke-width="0.5"/>
<text x="145.1" y="279.68" font-size="2.0" text-anchor="end" font-weight="bold" fill="#222" stroke="#222" stroke-width="0.1">60</text>
<line x1="145.7" y1="272.14" x2="146.7" y2="272.14" stroke="#000" stroke-width="0.5"/>
<text x="145.1" y="272.84" font-size="2.0" text-anchor="end" font-weight="bold" fill="#222" stroke="#222" stroke-width="0.1">80</text>
<line x1="145.7" y1="265.3" x2="146.7" y2="265.3" stroke="#000" stroke-width="0.5"/>
<text x="145.1" y="266.0" font-size="2.0" text-anchor="end" font-weight="bold" fill="#222" stroke="#222" stroke-width="0.1">100</text>
<rect x="148.1" y="265.3" width="8.800000000000011" height="34.19999999999999" fill="#fff" stroke="#555" stroke-width="0.4"/>
<rect x="148.1" y="281.6" width="8.800000000000011" height="17.899999999999977" fill="#000" stroke="#000" stroke-width="0.4"/>
<rect x="160.8" y="265.3" width="8.5" height="34.19999999999999" fill="#fff" stroke="#555" stroke-width="0.4"/>
<rect x="160.8" y="293.6" width="8.5" height="5.899999999999977" fill="#000" stroke="#000" stroke-width="0.4"/>
<line x1="146.7" y1="299.5" x2="170.3" y2="299.5" stroke="#000" stroke-width="0.6"/>
<text x="138.5" y="283.4" font-size="2.8" text-anchor="middle" fill="#111" transform="rotate(-90 138.5 283.4)" textLength="40" lengthAdjust="spacingAndGlyphs" stroke="#111" stroke-width="0.08">% of FoxP3⁺ population (mLN)</text>
<text x="152.8" y="303.6" font-size="3.0" text-anchor="end" fill="#111" transform="rotate(-42 152.8 303.6)" textLength="13.5" lengthAdjust="spacingAndGlyphs" stroke="#111" stroke-width="0.15">Irradiation</text>
<text x="165.8" y="303.6" font-size="3.0" text-anchor="end" fill="#111" transform="rotate(-42 165.8 303.6)" textLength="18.5" lengthAdjust="spacingAndGlyphs" stroke="#111" stroke-width="0.15">No Irradiation</text>
<rect x="60" y="318.8" width="8.5" height="3.8" fill="#000" stroke="#000" stroke-width="0.5"/>
<rect x="60" y="326.2" width="8.5" height="3.8" fill="#fff" stroke="#333" stroke-width="0.5"/>
<text x="72.1" y="322.7" font-size="5.2" text-anchor="start" fill="#111" textLength="31.4" lengthAdjust="spacingAndGlyphs" stroke="#111" stroke-width="0.08">CD8⁺FoxP3⁺</text>
<text x="72.1" y="330.2" font-size="5.2" text-anchor="start" fill="#111" textLength="31.4" lengthAdjust="spacingAndGlyphs" stroke="#111" stroke-width="0.08">CD4⁺FoxP3⁺</text>
<text x="274" y="193.9" font-size="6.7" text-anchor="middle" font-weight="bold" fill="#000" textLength="34.2" lengthAdjust="spacingAndGlyphs">Control Ab</text>
<text x="343.9" y="194" font-size="6.7" text-anchor="middle" font-weight="bold" fill="#000" textLength="33" lengthAdjust="spacingAndGlyphs">Anti-TGFβ</text>
<text x="415.2" y="194" font-size="6.7" text-anchor="middle" font-weight="bold" fill="#000" textLength="35.8" lengthAdjust="spacingAndGlyphs">Anti-IL-10R</text>
<line x1="234.8" y1="202" x2="234.8" y2="225.2" stroke="#333" stroke-width="0.6"/>
<text x="236.6" y="239.9" font-size="4.9" text-anchor="middle" fill="#111" transform="rotate(-90 236.6 239.9)" textLength="25.7" lengthAdjust="spacingAndGlyphs" stroke="#111" stroke-width="0.08">FoxP3 GFP</text>
<line x1="252.7" y1="261.3" x2="439.5" y2="261.3" stroke="#000" stroke-width="0.8"/>
<text x="346.5" y="269.3" font-size="5.2" text-anchor="middle" fill="#111" textLength="28" lengthAdjust="spacingAndGlyphs" stroke="#111" stroke-width="0.08">Proliferation</text>
<text x="247.5" y="205.0" font-size="2.9" text-anchor="end" fill="#444" stroke="#444" stroke-width="0.08">10⁴</text>
<text x="247.5" y="217.5" font-size="2.9" text-anchor="end" fill="#444" stroke="#444" stroke-width="0.08">10³</text>
<text x="247.5" y="230.5" font-size="2.9" text-anchor="end" fill="#444" stroke="#444" stroke-width="0.08">10²</text>
<text x="247.5" y="242.0" font-size="2.9" text-anchor="end" fill="#444" stroke="#444" stroke-width="0.08">10¹</text>
<text x="247.5" y="247.5" font-size="2.9" text-anchor="end" fill="#444" stroke="#444" stroke-width="0.08">0</text>
<text x="255.3" y="257.5" font-size="2.9" text-anchor="middle" fill="#444" stroke="#444" stroke-width="0.08">0</text>
<text x="261.3" y="257.5" font-size="2.9" text-anchor="middle" fill="#444" stroke="#444" stroke-width="0.08">10¹</text>
<text x="274.3" y="257.5" font-size="2.9" text-anchor="middle" fill="#444" stroke="#444" stroke-width="0.08">10²</text>
<text x="286.8" y="257.5" font-size="2.9" text-anchor="middle" fill="#444" stroke="#444" stroke-width="0.08">10³</text>
<text x="298.8" y="257.5" font-size="2.9" text-anchor="middle" fill="#444" stroke="#444" stroke-width="0.08">10⁴</text>
<clipPath id="c15"><rect x="249.3" y="200.5" width="52" height="51.8"/></clipPath><g clip-path="url(#c15)">
<path d="M265.9 215.1h.6M265.5 216.3h.6M263.1 213.3h.6M264.8 211.2h.6M261.6 212.3h.6M261.6 216.6h.6M268.7 215.6h.6M262.1 215.3h.6M265.8 210.9h.6M269.1 215.6h.6M267.7 209.1h.6M262.5 219.8h.6M262.6 218.7h.6M266.9 213.0h.6M263.0 212.2h.6M264.0 208.5h.6M269.9 220.9h.6M266.1 214.6h.6M263.6 214.0h.6M263.8 217.3h.6M263.0 214.1h.6M270.1 218.1h.6M263.4 209.9h.6M271.3 212.3h.6M264.4 214.5h.6M267.9 213.2h.6M264.3 213.3h.6M261.8 217.0h.6M264.0 214.9h.6M263.2 216.6h.6M271.6 212.7h.6M265.6 214.3h.6M270.2 213.1h.6M269.1 215.2h.6M268.3 213.1h.6M263.0 213.7h.6M268.3 214.1h.6M268.0 218.4h.6M260.5 211.7h.6M263.6 212.7h.6M267.2 211.6h.6M262.7 214.1h.6M265.3 214.7h.6M265.4 210.4h.6M263.7 215.6h.6M266.4 215.5h.6M261.9 212.7h.6M259.8 213.7h.6M262.4 216.1h.6M264.4 217.3h.6M272.2 215.1h.6M266.8 211.3h.6M263.8 208.2h.6M263.3 220.4h.6M267.4 217.7h.6M264.7 213.7h.6M265.9 213.3h.6M267.0 216.1h.6M261.2 209.1h.6M264.7 213.9h.6M260.8 216.2h.6M269.7 215.8h.6M261.0 214.9h.6M262.4 216.9h.6M266.5 215.3h.6M268.2 216.0h.6M273.6 210.9h.6M265.9 216.6h.6M267.9 207.6h.6M268.8 213.2h.6M262.2 218.9h.6M264.9 216.4h.6M267.3 216.0h.6M268.8 215.3h.6M269.5 214.5h.6M262.6 218.1h.6M265.6 216.4h.6M260.8 207.9h.6M265.8 215.1h.6M270.3 211.2h.6M262.7 215.1h.6M269.3 215.2h.6M267.1 216.6h.6M272.2 218.2h.6M264.5 210.3h.6M259.9 213.7h.6M262.5 214.7h.6M264.9 208.5h.6M268.5 216.0h.6M262.7 211.1h.6M270.0 215.1h.6M264.6 211.9h.6M263.2 218.4h.6M263.1 214.4h.6M264.1 214.0h.6M261.5 217.6h.6M265.7 216.5h.6M262.3 214.0h.6M271.8 214.3h.6M264.0 210.8h.6M263.3 215.8h.6M264.0 212.8h.6M268.9 218.6h.6M265.1 221.4h.6M264.2 213.4h.6M260.3 211.9h.6M263.0 220.7h.6M261.8 214.2h.6M265.9 215.7h.6M258.2 213.9h.6" stroke="#000" stroke-width=".6" opacity="0.3"/>
<ellipse cx="265.5" cy="214.5" rx="2.6" ry="2.1" fill="#000" opacity="0.9" filter="url(#b08)"/>
<path d="M274.5 238.4h.6M281.8 234.5h.6M285.2 240.3h.6M290.4 234.4h.6M273.5 238.9h.6M284.4 236.6h.6M270.8 238.8h.6M292.7 235.3h.6M288.3 234.1h.6M289.3 233.7h.6M292.3 238.6h.6M292.8 237.3h.6M273.0 235.2h.6M276.0 239.8h.6M278.8 241.0h.6M283.0 237.0h.6M279.7 237.8h.6M287.8 243.8h.6M280.1 239.0h.6M292.2 244.1h.6M277.0 234.4h.6M279.4 243.5h.6M280.4 242.5h.6M282.7 241.1h.6M287.5 238.4h.6M278.8 239.1h.6M290.2 238.0h.6M273.3 238.5h.6M291.0 234.2h.6M275.1 241.7h.6M273.0 243.3h.6M293.0 236.3h.6M285.3 243.3h.6M291.3 231.3h.6M272.3 239.2h.6M293.0 244.8h.6M287.2 238.5h.6M277.1 241.6h.6M284.2 246.3h.6M299.4 241.9h.6M277.7 238.6h.6M292.9 240.0h.6M288.4 236.7h.6M298.8 237.4h.6M285.9 232.0h.6M295.7 248.0h.6M295.3 235.1h.6M285.2 239.6h.6M287.0 236.8h.6M287.9 239.6h.6M274.9 235.2h.6M297.5 239.9h.6M287.8 246.7h.6M279.0 243.6h.6M293.3 236.3h.6M282.9 240.3h.6M271.8 232.6h.6M279.3 243.9h.6M282.3 245.0h.6M270.6 237.8h.6M287.0 243.2h.6M290.4 243.0h.6M289.9 239.6h.6M296.7 242.1h.6M279.1 242.3h.6M289.2 239.8h.6M289.0 238.0h.6M281.1 233.0h.6M281.0 244.3h.6M289.2 241.5h.6M271.7 238.9h.6M286.2 243.1h.6M285.0 236.6h.6M288.8 239.5h.6M275.3 239.1h.6M286.5 238.7h.6M280.7 238.9h.6M284.9 241.7h.6M275.4 237.2h.6M289.2 237.4h.6M276.9 234.3h.6M272.8 235.4h.6M283.7 241.4h.6M285.4 239.6h.6M289.1 238.7h.6M273.9 239.4h.6M285.4 246.8h.6M284.3 246.9h.6M283.0 233.9h.6M282.0 238.1h.6M283.4 237.8h.6M282.9 238.9h.6M283.9 243.0h.6M284.2 242.5h.6M276.5 239.9h.6M283.4 239.7h.6M274.7 236.7h.6M271.8 240.6h.6M294.2 238.9h.6M273.0 237.7h.6M292.8 233.0h.6M281.5 239.4h.6M280.4 240.0h.6M287.6 240.4h.6M291.3 242.9h.6M271.6 235.1h.6M282.4 239.4h.6M285.7 234.8h.6M274.1 245.6h.6M285.3 240.3h.6M298.0 232.0h.6M286.0 238.2h.6M283.2 244.2h.6M283.3 233.7h.6M274.9 234.2h.6M293.2 236.8h.6M275.0 238.3h.6M273.2 240.7h.6M285.0 239.8h.6M293.2 237.6h.6M291.4 232.8h.6M291.6 245.8h.6M277.5 242.0h.6M276.1 239.4h.6M288.3 237.1h.6M275.4 238.6h.6M283.6 240.5h.6M284.7 232.6h.6M292.8 240.8h.6M272.3 238.5h.6M292.5 246.9h.6M283.0 237.0h.6M294.1 238.8h.6M283.9 233.1h.6M275.8 240.5h.6M299.0 240.5h.6M282.8 237.7h.6M274.9 234.6h.6M290.2 245.9h.6M281.6 235.9h.6M271.6 237.4h.6M292.4 232.9h.6M281.8 243.6h.6M296.8 236.5h.6M286.2 240.8h.6M285.5 238.8h.6M285.7 239.7h.6M282.7 238.3h.6M281.3 247.6h.6M284.2 243.1h.6M277.0 244.5h.6M292.6 239.6h.6M299.1 235.8h.6M284.6 236.7h.6M275.9 241.1h.6M291.0 243.2h.6M283.9 237.5h.6M273.2 235.4h.6M295.1 234.1h.6M283.3 237.3h.6M278.6 234.3h.6M280.9 240.8h.6M281.9 240.2h.6M278.7 235.2h.6M290.6 238.6h.6M282.1 241.0h.6M292.0 237.0h.6M284.7 238.2h.6M295.0 234.1h.6M278.3 238.8h.6M288.0 243.2h.6M297.3 237.9h.6M288.4 239.2h.6M278.0 239.9h.6M283.7 243.8h.6M282.1 233.8h.6M286.2 236.8h.6M285.1 240.5h.6M269.9 232.7h.6M286.9 242.1h.6M279.3 238.8h.6M288.0 236.8h.6M283.4 237.1h.6M292.3 238.9h.6M276.3 239.9h.6M278.2 237.8h.6M274.1 238.2h.6M290.4 241.6h.6M288.9 235.8h.6M283.9 238.9h.6M282.1 237.9h.6M272.1 246.0h.6M278.1 239.5h.6M285.6 234.9h.6M279.2 240.4h.6M283.8 241.0h.6M276.0 238.7h.6M276.5 239.1h.6M278.8 237.1h.6M288.8 243.1h.6M283.5 239.9h.6M276.5 237.2h.6M280.6 240.5h.6M297.8 232.1h.6M293.3 244.2h.6M288.8 237.8h.6M290.1 233.6h.6M273.3 239.6h.6M279.3 241.7h.6M277.0 232.2h.6M282.8 241.2h.6M272.3 239.3h.6M284.9 240.6h.6M290.5 240.0h.6M278.6 234.1h.6M289.1 238.0h.6M291.5 243.5h.6M279.2 237.0h.6M294.3 239.8h.6M275.2 238.4h.6M280.9 243.6h.6M274.0 236.6h.6M290.6 242.2h.6M285.9 237.1h.6M276.7 229.5h.6M289.6 240.1h.6M284.7 234.3h.6M269.9 237.5h.6M280.7 243.5h.6M278.0 242.1h.6M291.9 242.0h.6M283.0 237.2h.6M280.6 234.0h.6M278.6 236.1h.6M293.2 244.3h.6M286.4 233.2h.6M282.7 237.1h.6M293.8 235.3h.6M287.4 238.8h.6M290.9 236.9h.6M297.2 240.3h.6M282.8 238.2h.6M280.4 243.1h.6M290.6 238.1h.6M291.7 244.9h.6M293.1 240.7h.6M276.4 235.6h.6M290.5 238.7h.6M281.9 243.7h.6M289.9 244.4h.6M281.8 235.4h.6M283.3 242.3h.6M275.6 238.9h.6M289.1 239.9h.6M287.9 229.8h.6M288.4 242.7h.6M276.9 240.2h.6M284.0 238.9h.6M274.2 236.1h.6M278.7 239.2h.6M287.4 237.2h.6M284.4 237.7h.6M286.0 235.8h.6M282.7 237.0h.6M290.4 236.1h.6M275.0 237.4h.6M293.0 240.5h.6M280.8 238.6h.6M277.8 236.0h.6M286.6 236.5h.6M277.3 237.7h.6M284.6 241.0h.6M280.3 239.8h.6M287.5 245.5h.6M285.2 230.8h.6M286.6 235.1h.6M287.1 239.5h.6M275.7 230.3h.6M288.3 236.0h.6M292.5 233.7h.6M273.8 233.5h.6M286.2 244.5h.6M285.7 234.5h.6M288.8 233.6h.6M284.6 244.6h.6M283.6 233.6h.6M284.1 240.3h.6M271.7 240.8h.6M284.7 230.5h.6M288.2 235.0h.6M280.3 243.3h.6M289.3 236.9h.6M290.0 246.5h.6M296.5 237.0h.6M298.7 238.0h.6M275.1 235.4h.6M283.0 245.6h.6M281.7 235.3h.6M287.4 239.2h.6M293.4 234.9h.6M290.1 235.1h.6M280.4 242.5h.6M279.7 240.8h.6M280.5 242.5h.6M286.8 240.7h.6M297.4 234.6h.6M290.3 239.7h.6M275.8 238.8h.6M286.8 234.7h.6M280.3 243.7h.6M281.5 233.8h.6M280.3 240.5h.6M281.7 240.5h.6M289.9 247.3h.6M291.7 246.6h.6M286.0 236.3h.6M286.8 238.2h.6M278.6 245.9h.6M273.1 237.4h.6M297.8 236.3h.6M285.0 244.7h.6M276.2 242.6h.6M286.1 236.1h.6M284.5 241.1h.6M298.9 247.9h.6M286.8 237.1h.6M287.1 240.1h.6M275.7 234.0h.6M278.0 238.7h.6M283.6 241.8h.6M282.0 238.7h.6M293.8 234.3h.6M270.0 244.3h.6M292.3 235.9h.6M294.3 240.2h.6M278.8 245.2h.6M271.6 236.1h.6M285.1 241.9h.6M285.1 242.6h.6M275.6 238.1h.6M295.6 237.8h.6M279.7 236.8h.6M284.2 238.1h.6M296.5 243.9h.6M283.4 242.4h.6M278.5 241.4h.6M292.3 237.3h.6M282.2 240.1h.6M293.1 237.2h.6M290.0 238.9h.6M279.4 243.3h.6M296.0 234.4h.6M285.8 237.7h.6M274.8 239.4h.6M283.8 236.7h.6M273.6 241.9h.6M293.0 239.2h.6M297.5 238.7h.6M271.1 234.3h.6M283.4 237.5h.6M281.7 238.9h.6M289.9 244.9h.6M287.8 238.2h.6M279.9 233.1h.6M295.7 237.7h.6M283.2 233.8h.6M287.5 238.7h.6M277.9 240.7h.6M282.6 241.2h.6M278.7 237.9h.6M296.5 238.0h.6M285.6 235.6h.6M274.1 237.9h.6M283.3 234.5h.6M280.0 240.3h.6M285.9 245.3h.6M278.2 234.6h.6M287.6 237.6h.6M289.1 236.2h.6M269.5 245.9h.6M280.5 241.3h.6M296.8 237.3h.6M272.9 239.9h.6M289.6 240.9h.6M270.6 237.9h.6M294.6 233.4h.6M279.2 234.3h.6M293.1 242.7h.6M288.7 235.8h.6M288.2 240.8h.6M296.9 234.3h.6M283.1 241.3h.6M283.0 235.2h.6M281.1 247.0h.6M291.1 243.3h.6M287.9 238.6h.6M281.5 238.1h.6M281.9 238.0h.6M274.3 237.3h.6M285.1 235.2h.6M295.8 245.0h.6M277.0 234.6h.6M278.6 238.3h.6M271.7 240.0h.6M275.9 239.7h.6M281.7 241.8h.6M279.4 241.6h.6M280.6 234.2h.6M291.8 239.2h.6M297.0 239.0h.6M283.0 246.4h.6M277.4 234.4h.6M286.9 234.1h.6M283.2 232.4h.6M295.2 241.4h.6M287.7 236.6h.6M272.7 244.2h.6M289.6 237.8h.6M275.0 239.1h.6M279.6 237.8h.6M272.7 244.0h.6M285.5 246.5h.6M287.5 238.7h.6M289.6 237.4h.6M290.8 242.0h.6M295.0 239.0h.6M282.8 244.0h.6M283.0 236.8h.6M292.6 237.4h.6M291.4 243.4h.6M277.7 238.9h.6M285.4 238.5h.6M282.0 244.1h.6M285.3 239.7h.6M284.6 236.9h.6M287.2 242.5h.6M276.1 240.9h.6M296.3 242.1h.6M295.7 239.4h.6M280.1 237.1h.6M283.3 247.6h.6M283.4 236.0h.6M294.9 243.1h.6M287.8 240.7h.6M280.8 234.3h.6M283.2 237.4h.6M272.4 248.4h.6M281.9 235.6h.6M282.8 240.5h.6M285.0 244.3h.6M283.2 244.9h.6M283.9 239.3h.6M286.2 239.2h.6M277.4 232.6h.6M271.3 236.8h.6M279.9 238.3h.6M285.2 242.6h.6M270.7 236.2h.6M288.4 235.7h.6M287.3 236.1h.6M273.8 236.1h.6M280.5 233.2h.6M282.5 236.2h.6M292.3 234.0h.6M287.6 236.4h.6M278.6 241.1h.6M289.6 235.1h.6M273.7 233.3h.6M277.7 242.4h.6M277.4 239.2h.6M273.7 238.7h.6M293.4 241.5h.6M281.1 241.0h.6M276.9 232.6h.6M278.4 232.4h.6M288.0 242.5h.6M284.7 240.4h.6M282.1 237.2h.6M289.1 235.1h.6M269.6 241.7h.6M277.6 246.1h.6M281.5 233.6h.6M288.0 234.8h.6M275.8 243.3h.6M290.3 244.4h.6M298.3 244.4h.6M290.5 237.8h.6M278.0 244.0h.6M293.1 237.7h.6M275.2 240.5h.6M296.5 243.7h.6M276.6 234.1h.6M286.3 237.3h.6M280.9 244.6h.6M288.8 243.3h.6M277.6 238.7h.6M293.5 241.4h.6M294.6 243.0h.6M287.2 237.4h.6M278.1 234.8h.6M278.8 237.1h.6M284.6 248.1h.6M284.8 237.2h.6M286.2 242.6h.6M280.5 239.8h.6M294.1 235.4h.6M281.3 242.5h.6M287.2 241.5h.6M284.5 246.9h.6M281.3 238.6h.6M289.9 237.0h.6M297.2 240.4h.6M284.1 232.2h.6M297.1 244.4h.6M289.8 243.7h.6M296.8 238.6h.6M275.5 242.5h.6M272.8 238.3h.6M284.5 235.2h.6M284.5 233.3h.6M283.9 244.8h.6M279.8 238.0h.6M275.1 237.2h.6M269.6 238.2h.6M279.0 231.3h.6M292.3 245.6h.6M284.9 238.6h.6M269.6 242.4h.6M280.7 247.7h.6M298.0 241.6h.6M295.2 238.5h.6M274.4 238.8h.6M278.9 241.1h.6M283.2 235.2h.6M282.2 238.2h.6M282.2 245.2h.6M271.2 237.2h.6M289.2 245.8h.6M273.4 239.9h.6M282.9 238.2h.6M271.5 238.5h.6M289.1 242.3h.6M279.1 238.5h.6M285.5 236.1h.6M274.2 239.9h.6M291.7 244.8h.6M289.0 239.0h.6M286.1 233.5h.6M280.6 231.2h.6M279.9 232.6h.6M289.6 247.7h.6M282.3 235.4h.6M285.9 236.2h.6M289.3 233.6h.6M294.7 245.0h.6M282.9 234.8h.6M286.9 234.9h.6M286.1 238.4h.6M295.0 241.8h.6M274.8 239.1h.6M279.4 244.2h.6M293.2 238.7h.6M285.7 235.2h.6M274.9 239.9h.6M288.0 236.0h.6M297.5 240.8h.6M298.0 232.9h.6M281.2 240.8h.6M289.7 240.3h.6M277.7 237.9h.6M273.1 241.5h.6M276.9 239.7h.6M292.2 245.2h.6M293.9 239.7h.6M275.8 242.8h.6M269.9 238.4h.6M280.4 238.4h.6M287.6 238.4h.6M291.6 240.1h.6M278.0 234.6h.6M293.8 241.8h.6M280.6 233.4h.6M278.2 237.1h.6M287.9 239.8h.6M290.4 242.2h.6M278.2 235.3h.6M280.9 235.9h.6M288.5 243.7h.6M287.9 235.7h.6M294.1 246.0h.6M293.3 242.5h.6M277.6 241.5h.6M288.6 237.4h.6M291.4 231.2h.6M296.5 229.4h.6M285.0 237.5h.6M282.8 240.5h.6M282.3 243.1h.6M269.8 243.4h.6M296.3 237.3h.6M286.4 239.5h.6M291.7 235.9h.6M291.9 234.6h.6M276.8 237.9h.6M283.7 229.9h.6M278.5 238.5h.6M278.8 240.8h.6M288.0 236.0h.6M276.6 237.8h.6M300.2 242.8h.6M277.8 233.7h.6M275.7 247.5h.6M276.4 239.7h.6M295.9 240.8h.6M277.6 234.6h.6M290.3 242.0h.6M282.5 239.2h.6M293.9 239.8h.6M293.7 242.6h.6M286.7 245.7h.6M281.0 242.3h.6M276.3 243.8h.6M270.9 234.5h.6M277.4 246.6h.6M287.1 246.2h.6M290.1 233.7h.6M284.6 240.6h.6M280.1 242.7h.6M290.2 238.5h.6M280.7 235.3h.6M284.7 240.8h.6M285.8 239.9h.6M283.3 238.6h.6M283.9 236.4h.6M279.7 246.0h.6M293.1 244.2h.6M299.2 238.1h.6M283.1 241.3h.6M286.0 237.7h.6M276.7 242.8h.6M288.9 234.4h.6M277.4 239.1h.6M280.5 233.1h.6M287.7 235.2h.6M285.0 235.2h.6M290.4 243.3h.6M288.6 239.7h.6M291.8 238.9h.6M276.0 245.9h.6M297.3 235.9h.6M282.0 243.1h.6M278.8 233.6h.6M291.8 236.9h.6M283.8 237.7h.6M288.5 236.5h.6M284.0 238.3h.6M276.7 241.4h.6M274.6 239.4h.6M299.7 238.5h.6M282.3 239.9h.6M288.4 245.7h.6M282.1 234.5h.6M283.9 236.4h.6M275.4 239.6h.6M279.8 242.7h.6M291.7 242.5h.6M278.2 235.2h.6M287.8 231.8h.6M278.8 235.8h.6M279.4 241.6h.6M286.9 238.4h.6M289.2 241.9h.6M288.9 244.1h.6M296.1 237.7h.6M275.1 237.6h.6M277.2 242.0h.6M282.6 235.7h.6M285.6 241.4h.6M294.5 239.8h.6M282.2 236.8h.6M276.3 237.0h.6M287.1 240.6h.6M286.4 230.5h.6M281.4 243.9h.6M275.3 240.9h.6M280.0 243.1h.6M287.8 241.4h.6M289.1 243.0h.6M276.5 235.7h.6M280.0 244.0h.6M281.7 240.6h.6M278.0 240.3h.6M290.3 233.5h.6M293.0 237.7h.6M285.4 233.5h.6M287.2 239.8h.6M299.5 233.5h.6M282.2 239.9h.6M288.1 245.9h.6M275.6 243.6h.6M282.4 236.0h.6M288.7 240.2h.6M283.8 241.8h.6M272.1 239.2h.6M278.1 238.7h.6M285.7 238.5h.6M287.0 235.2h.6M284.3 238.7h.6M275.0 239.7h.6M300.0 241.3h.6M273.1 246.1h.6M290.3 241.2h.6M295.1 232.4h.6M286.4 238.1h.6M286.8 231.8h.6M293.2 234.7h.6M288.3 243.1h.6M285.4 239.7h.6M274.3 236.5h.6M286.5 238.0h.6M289.4 235.3h.6M284.0 235.9h.6M271.5 239.6h.6M283.2 239.9h.6M280.3 244.4h.6M274.4 238.5h.6M295.8 242.4h.6M276.9 237.4h.6M284.8 237.0h.6M286.0 246.8h.6M293.0 247.3h.6M294.7 228.6h.6M288.5 234.2h.6M287.9 245.6h.6M287.9 230.0h.6M284.2 237.7h.6M291.5 233.9h.6M281.9 238.5h.6M284.9 240.4h.6M292.9 239.7h.6M296.5 240.0h.6M285.4 235.1h.6M281.5 237.2h.6M294.7 237.9h.6M283.9 240.7h.6M283.8 241.9h.6M279.6 236.2h.6M282.1 242.8h.6M276.2 231.1h.6M284.9 236.9h.6M287.3 238.2h.6M296.6 240.3h.6M280.4 238.0h.6M297.1 236.6h.6M286.9 245.3h.6M290.1 242.7h.6M275.9 239.8h.6M295.6 241.8h.6M269.9 243.6h.6M291.0 239.7h.6M290.1 235.4h.6M296.4 244.2h.6M290.6 242.7h.6M274.6 238.4h.6M284.3 241.8h.6M274.1 239.5h.6M294.0 235.6h.6M297.4 241.1h.6M280.2 235.7h.6M297.0 237.2h.6M278.3 238.6h.6M293.0 243.8h.6M281.5 231.5h.6M295.9 239.4h.6M281.8 239.3h.6M271.2 245.0h.6M288.0 246.9h.6M273.2 235.6h.6M272.0 244.0h.6M279.2 239.8h.6M277.9 234.6h.6M278.8 240.1h.6M280.4 237.3h.6M284.9 236.9h.6M283.8 234.7h.6M272.0 234.0h.6M275.5 241.8h.6M271.8 234.1h.6M293.1 235.5h.6M281.1 238.0h.6M280.5 240.8h.6M285.1 243.2h.6M282.0 240.1h.6M277.3 243.4h.6M273.9 233.7h.6M278.3 236.5h.6M270.9 232.3h.6M276.1 239.5h.6M296.8 236.3h.6M276.7 239.3h.6M290.7 244.0h.6M290.0 236.4h.6M290.6 230.4h.6M286.4 245.2h.6M291.1 247.8h.6M280.5 239.5h.6M283.1 242.1h.6M293.4 238.8h.6M289.3 240.5h.6M285.6 233.8h.6M285.9 242.3h.6M279.7 232.9h.6M292.1 245.2h.6M282.4 242.9h.6M273.3 243.9h.6M281.9 243.5h.6M274.9 240.1h.6M278.9 231.8h.6M271.3 241.1h.6M279.6 241.9h.6M287.4 242.0h.6M281.4 236.6h.6M282.3 240.6h.6M277.7 241.0h.6M284.3 239.1h.6M295.0 242.6h.6M269.8 234.7h.6M286.0 235.6h.6M277.3 240.2h.6M294.1 237.1h.6M289.5 241.0h.6M278.7 242.5h.6M279.9 245.4h.6M280.5 234.1h.6M278.8 231.9h.6M287.7 234.0h.6M287.7 239.7h.6M286.1 239.4h.6M287.7 242.4h.6M275.3 241.0h.6M272.4 237.8h.6M274.8 243.8h.6M287.3 237.3h.6M281.9 235.1h.6M289.5 235.7h.6M288.8 243.8h.6M291.2 244.0h.6M277.0 232.7h.6M281.4 237.7h.6M285.1 234.4h.6M287.6 239.9h.6M279.3 232.7h.6M276.2 237.9h.6M295.3 245.0h.6M276.6 242.4h.6M284.4 241.9h.6M284.2 236.8h.6M273.4 240.9h.6M277.4 236.0h.6M289.8 247.3h.6M297.4 236.8h.6M298.8 232.3h.6M289.7 239.9h.6" stroke="#000" stroke-width=".6" opacity="0.35"/>
<path d="M275.0 240.1h.6M270.2 235.9h.6M270.0 236.7h.6M276.5 233.0h.6M277.6 238.7h.6M273.5 237.7h.6M280.0 233.1h.6M276.4 238.0h.6M278.1 240.7h.6M286.1 238.3h.6M280.4 234.3h.6M274.6 235.7h.6M276.5 243.7h.6M272.3 239.3h.6M283.0 244.8h.6M280.5 238.0h.6M278.4 239.0h.6M272.1 235.1h.6M277.2 233.3h.6M270.8 235.5h.6M280.5 235.8h.6M273.7 235.7h.6M276.6 241.8h.6M287.9 243.1h.6M277.4 235.1h.6M282.4 230.4h.6M284.3 239.0h.6M271.8 241.4h.6M279.0 240.8h.6M274.5 232.9h.6M281.5 240.3h.6M272.8 239.5h.6M284.0 239.3h.6M281.5 242.6h.6M273.2 239.8h.6M273.0 240.6h.6M277.1 241.5h.6M276.7 238.5h.6M276.4 240.6h.6M280.3 231.9h.6M274.4 242.3h.6M272.2 240.6h.6M278.4 241.0h.6M278.7 237.5h.6M282.6 234.7h.6M281.4 236.2h.6M275.2 242.3h.6M274.5 239.1h.6M277.2 235.8h.6M276.5 231.5h.6M272.8 237.9h.6M279.6 238.0h.6M269.5 238.1h.6M284.4 239.2h.6M278.3 238.9h.6M275.6 236.0h.6M276.1 239.3h.6M271.3 242.2h.6M277.0 244.1h.6M276.6 242.0h.6M269.8 240.7h.6M275.4 237.9h.6M270.6 242.7h.6M277.3 242.5h.6M281.7 235.8h.6M274.7 234.8h.6M275.1 237.4h.6M272.0 239.0h.6M273.3 239.0h.6M282.2 241.6h.6M278.1 243.6h.6M276.7 239.4h.6M276.3 233.2h.6M276.4 234.6h.6M284.1 240.0h.6M272.4 242.2h.6M276.5 235.9h.6M281.7 241.4h.6M279.5 243.5h.6M274.7 239.4h.6M271.5 237.0h.6M279.0 247.2h.6M279.6 234.1h.6M281.5 240.4h.6M277.9 236.9h.6M271.3 235.6h.6M285.7 242.3h.6M271.1 238.8h.6M270.2 236.7h.6M277.3 245.4h.6M280.8 234.4h.6M271.8 243.4h.6M286.4 241.9h.6M277.6 241.0h.6M272.9 236.9h.6M271.6 238.2h.6M274.0 239.5h.6M273.9 243.0h.6M270.2 242.1h.6M277.3 243.1h.6M275.8 245.1h.6M274.2 245.1h.6M271.5 241.2h.6M277.8 238.3h.6M277.7 238.7h.6M278.1 240.2h.6M269.6 239.0h.6M279.7 235.5h.6M278.6 240.9h.6M281.1 239.1h.6M271.7 237.0h.6M273.5 242.6h.6M282.0 240.6h.6M273.6 242.8h.6M270.2 243.3h.6M274.4 239.5h.6M271.1 242.3h.6M279.1 243.6h.6M274.2 246.7h.6M278.4 241.6h.6M272.9 239.8h.6M273.5 241.2h.6M277.1 236.2h.6M280.8 233.3h.6M274.4 241.1h.6M284.9 242.6h.6M270.8 238.9h.6M277.7 249.0h.6M276.9 241.5h.6M277.6 237.2h.6M275.9 238.6h.6M274.9 239.0h.6M272.7 235.8h.6M277.2 241.3h.6M284.4 246.7h.6M274.9 239.0h.6M278.0 241.0h.6M273.9 237.4h.6M290.7 239.0h.6M278.8 239.1h.6M271.3 236.6h.6M287.8 234.6h.6M281.9 239.6h.6M282.9 239.9h.6M280.9 238.3h.6M274.6 242.9h.6M271.1 233.2h.6M279.2 239.9h.6M273.7 240.5h.6M276.3 235.7h.6M274.9 241.9h.6M271.3 247.5h.6M275.3 235.1h.6M282.7 239.5h.6M278.0 245.2h.6M276.4 238.8h.6M286.0 239.5h.6M273.2 238.5h.6M279.5 243.6h.6M273.2 236.7h.6M277.9 240.9h.6M275.2 237.5h.6M275.5 233.6h.6M280.9 239.2h.6M270.5 241.8h.6M282.1 241.4h.6M289.2 237.6h.6M271.4 240.4h.6M277.9 242.8h.6M275.8 235.6h.6M271.9 243.5h.6M276.3 238.8h.6M281.2 236.3h.6M279.6 233.7h.6M276.5 237.3h.6M280.5 242.0h.6M276.4 239.3h.6M279.0 247.4h.6M284.9 245.1h.6M275.9 236.0h.6M270.4 238.0h.6M270.2 243.2h.6M274.3 233.2h.6M270.9 245.0h.6M280.3 240.4h.6M272.0 236.3h.6M283.4 242.3h.6M278.8 234.5h.6M279.6 245.0h.6M273.2 232.7h.6M270.5 238.5h.6M274.9 240.9h.6M273.9 239.4h.6M279.4 244.9h.6M285.6 239.9h.6M272.0 232.3h.6M273.8 234.8h.6M277.5 240.8h.6M282.1 233.9h.6M279.7 247.7h.6M271.7 233.8h.6M276.7 235.9h.6M273.1 240.6h.6M279.8 242.8h.6M269.9 243.7h.6M275.4 240.5h.6M281.9 240.0h.6M286.6 238.0h.6M271.6 234.0h.6M284.8 240.0h.6M273.4 237.6h.6M283.7 240.1h.6M281.7 240.7h.6M283.3 239.9h.6M288.4 241.0h.6M276.5 237.9h.6M288.7 239.5h.6M280.4 233.6h.6M275.6 232.5h.6M275.9 240.4h.6M269.7 239.8h.6M281.5 236.6h.6M276.5 239.8h.6M282.0 246.5h.6M283.6 239.1h.6M281.6 237.4h.6M280.9 235.4h.6M272.2 240.9h.6M279.5 239.8h.6M283.3 241.1h.6M276.2 238.9h.6M275.0 239.4h.6M272.8 237.1h.6M273.9 237.8h.6M282.7 236.4h.6M276.1 232.4h.6M274.8 239.4h.6M270.3 236.9h.6M276.4 234.5h.6M273.0 238.6h.6M277.3 240.5h.6M271.7 243.7h.6M281.3 240.5h.6M274.5 238.1h.6M287.6 245.3h.6M276.6 237.1h.6M281.7 238.6h.6M279.4 245.8h.6M273.5 240.6h.6M276.4 243.7h.6M275.2 238.8h.6M279.7 240.8h.6M276.6 233.6h.6M282.0 241.8h.6M277.3 237.0h.6M269.8 238.8h.6M273.4 237.6h.6M274.0 234.8h.6M279.7 238.5h.6M276.9 240.8h.6M273.7 235.9h.6M280.1 243.2h.6M282.2 242.4h.6M278.2 237.4h.6M274.0 238.0h.6M275.5 235.4h.6M278.1 241.9h.6M273.8 232.8h.6M274.5 244.1h.6M271.0 242.4h.6M272.9 238.8h.6M276.7 239.4h.6M279.9 237.9h.6M271.6 232.7h.6M269.7 242.9h.6M277.1 244.1h.6M271.4 236.4h.6M277.2 237.6h.6M270.1 242.5h.6M275.3 237.5h.6M275.4 239.6h.6M274.9 239.0h.6M282.3 236.5h.6M277.5 237.8h.6M273.8 240.1h.6M271.1 241.8h.6M282.8 230.7h.6M271.3 244.2h.6M281.8 232.2h.6M276.4 245.0h.6M282.4 240.8h.6M279.6 237.6h.6M272.3 242.8h.6M272.1 243.2h.6M278.0 240.0h.6M279.3 239.9h.6M272.7 238.3h.6M270.1 245.0h.6M274.4 231.2h.6M280.0 237.6h.6M279.4 243.0h.6M277.2 236.9h.6M274.9 240.0h.6M278.2 236.4h.6M281.4 240.2h.6M271.0 245.3h.6M283.0 241.2h.6M272.8 238.2h.6M282.8 232.2h.6M269.3 236.7h.6M273.3 240.3h.6M283.4 240.2h.6M271.0 240.1h.6M280.1 245.2h.6M271.5 239.0h.6M269.5 242.9h.6M271.4 238.0h.6M276.5 242.9h.6M272.0 237.2h.6M271.5 241.5h.6M275.3 242.2h.6M276.2 240.4h.6M277.3 235.7h.6M284.7 243.6h.6M276.3 240.9h.6M274.0 239.4h.6M276.0 235.8h.6M277.1 232.7h.6M281.0 239.0h.6M279.7 233.1h.6M275.7 245.9h.6M273.4 242.9h.6M272.6 238.9h.6M272.7 238.8h.6M271.5 250.2h.6M270.2 242.7h.6M274.1 242.8h.6M274.4 238.4h.6M273.2 235.6h.6M275.9 237.5h.6M276.1 241.1h.6M272.8 245.7h.6M277.4 236.5h.6M274.8 241.5h.6M277.1 238.4h.6M270.3 231.2h.6M272.2 244.4h.6M273.9 241.6h.6M274.8 240.9h.6M275.5 239.2h.6M281.9 234.0h.6M279.8 237.1h.6M274.9 238.8h.6M287.0 248.3h.6M276.0 244.7h.6M278.6 236.7h.6M279.8 234.0h.6M278.3 237.2h.6M279.8 237.3h.6M277.4 239.1h.6M276.8 242.6h.6M274.9 231.4h.6M274.2 243.6h.6M276.7 243.9h.6M270.9 233.9h.6M278.0 232.9h.6M280.9 242.1h.6M277.0 242.9h.6M284.2 242.7h.6M274.1 243.5h.6M273.3 233.5h.6M274.0 238.2h.6M273.5 246.0h.6M270.0 241.1h.6M284.5 241.9h.6M283.0 236.0h.6M279.0 239.8h.6M277.7 241.9h.6M277.2 234.8h.6M280.3 238.6h.6M273.6 232.2h.6M275.9 240.7h.6M280.1 232.1h.6M280.1 233.3h.6M280.8 236.9h.6M278.0 233.5h.6M280.0 241.2h.6M281.7 244.4h.6M279.7 238.7h.6M275.8 238.7h.6M271.8 238.9h.6M273.0 236.1h.6M278.4 241.5h.6M279.3 236.8h.6M279.5 237.4h.6M277.9 238.4h.6M277.8 245.6h.6M283.1 239.2h.6M275.9 237.9h.6M284.0 233.7h.6M273.3 235.6h.6M274.8 235.5h.6M275.6 239.6h.6M271.1 242.2h.6M274.8 238.5h.6M272.0 242.6h.6M284.8 238.8h.6M277.2 232.9h.6M285.9 238.6h.6M278.9 238.8h.6M272.0 237.5h.6M287.3 241.3h.6M275.7 235.4h.6M280.1 236.5h.6M278.4 239.1h.6M271.8 239.2h.6M278.0 231.6h.6M283.7 240.1h.6M279.1 236.9h.6M269.5 239.8h.6M283.3 238.4h.6M279.3 239.6h.6M275.8 242.2h.6M275.7 245.0h.6M274.0 232.0h.6M277.1 240.8h.6M286.5 234.0h.6M275.3 240.7h.6M270.2 237.7h.6M270.2 246.7h.6M270.6 235.3h.6M275.5 235.4h.6M277.7 239.9h.6M281.4 240.5h.6M276.8 238.9h.6M270.2 237.5h.6M269.9 239.1h.6M280.9 241.7h.6M283.9 239.2h.6M274.8 243.2h.6M273.4 237.9h.6M279.9 242.9h.6M269.9 237.1h.6M279.2 232.7h.6M272.8 239.4h.6M272.0 246.7h.6M285.8 241.9h.6M270.9 239.0h.6M271.2 238.8h.6M272.7 236.9h.6M276.3 241.3h.6M272.0 244.3h.6M274.0 239.3h.6M272.8 233.3h.6M280.2 242.0h.6M275.9 238.5h.6M278.0 236.6h.6M279.3 241.4h.6M279.4 238.3h.6M277.7 236.5h.6M281.3 241.2h.6M279.3 240.7h.6M273.4 238.7h.6M278.2 231.5h.6M279.8 244.4h.6M277.8 236.1h.6" stroke="#000" stroke-width=".6" opacity="0.35"/>
<path d="M260.8 248.6h.6M264.0 244.7h.6M269.8 247.6h.6M259.7 249.1h.6M260.1 245.9h.6M258.0 242.0h.6M265.0 244.8h.6M261.7 241.2h.6M259.3 243.6h.6M263.9 240.1h.6M259.9 247.0h.6M262.9 242.6h.6M263.5 244.5h.6M260.1 248.6h.6M254.9 241.9h.6M265.9 247.6h.6M263.1 242.4h.6M262.2 246.2h.6M263.8 249.0h.6M254.6 244.7h.6M266.6 244.8h.6M265.2 246.4h.6M267.7 247.3h.6M265.7 240.1h.6M255.8 245.4h.6M259.5 246.7h.6M261.7 242.3h.6M261.9 242.6h.6M258.4 245.5h.6M263.2 248.2h.6M263.1 245.3h.6M262.1 243.3h.6M263.5 238.2h.6M264.3 251.0h.6M266.2 241.4h.6M264.5 245.5h.6M267.8 244.1h.6M257.4 240.4h.6M264.8 249.4h.6M257.3 244.7h.6M272.9 243.7h.6M262.2 247.9h.6M256.3 244.5h.6M256.9 243.6h.6M263.2 240.6h.6M262.6 247.9h.6M261.8 244.5h.6M257.8 243.9h.6M265.9 245.9h.6M268.4 241.2h.6M258.7 245.1h.6M263.0 242.6h.6M259.6 242.8h.6M263.7 242.8h.6M258.2 248.2h.6M263.7 242.3h.6M251.8 243.5h.6M258.0 241.8h.6M264.1 241.9h.6M263.2 242.0h.6M264.1 242.6h.6M268.7 243.2h.6M260.6 246.3h.6M261.9 243.1h.6M259.0 243.6h.6M255.1 243.9h.6M264.9 245.2h.6M261.0 250.0h.6M260.6 242.2h.6M260.3 243.6h.6M267.0 246.1h.6M257.6 244.7h.6M261.3 248.5h.6M264.0 243.4h.6M265.7 247.1h.6M263.8 245.5h.6M262.8 245.0h.6M261.2 242.5h.6M264.2 243.3h.6M257.7 248.4h.6M261.2 242.9h.6M259.1 244.4h.6M261.5 242.7h.6M267.3 242.9h.6M258.1 249.4h.6M264.7 245.8h.6M262.4 244.4h.6M260.4 242.0h.6M255.3 247.5h.6M258.3 239.9h.6M260.9 236.7h.6M258.4 247.2h.6M259.6 242.7h.6M269.7 246.7h.6M264.5 244.2h.6M261.4 249.9h.6M263.2 245.5h.6M261.9 247.2h.6M263.6 244.8h.6M258.8 242.9h.6M263.5 245.5h.6M264.1 241.8h.6M251.5 240.4h.6M259.3 243.4h.6M256.2 246.1h.6M261.1 241.8h.6M265.1 244.7h.6M260.2 243.9h.6M260.3 246.5h.6M252.9 246.8h.6M264.4 245.4h.6M271.6 245.1h.6M263.4 246.4h.6M264.7 240.3h.6M255.4 241.5h.6M266.7 245.8h.6M251.6 247.6h.6M267.0 247.0h.6M255.6 245.0h.6M264.6 248.0h.6M258.3 249.2h.6M265.3 243.9h.6M259.0 243.7h.6M261.8 240.6h.6M263.5 247.0h.6M264.2 245.6h.6M273.1 245.5h.6M260.4 247.8h.6M262.0 245.0h.6M269.5 250.9h.6M257.8 248.6h.6M259.6 249.5h.6M258.9 252.3h.6M258.7 243.1h.6M261.1 246.0h.6M261.4 249.1h.6M266.0 242.5h.6M263.9 243.5h.6M257.3 241.8h.6M260.8 246.7h.6M261.1 245.0h.6M258.3 238.1h.6M265.0 250.8h.6M256.9 241.5h.6M265.1 246.6h.6M265.5 247.8h.6M256.5 243.6h.6M260.7 248.0h.6M259.2 238.6h.6M266.8 242.6h.6M259.5 242.6h.6M257.5 246.9h.6M262.1 244.9h.6M263.3 242.1h.6M257.2 248.7h.6M260.5 242.4h.6M256.5 242.8h.6M252.5 247.0h.6M259.9 248.6h.6M263.2 243.9h.6M257.3 244.0h.6M249.9 247.4h.6M260.2 242.8h.6M269.1 242.5h.6M267.6 247.2h.6M260.2 244.6h.6M268.2 236.8h.6M265.1 242.3h.6M265.8 245.4h.6M256.0 243.8h.6M255.9 237.2h.6M255.1 243.1h.6M253.2 241.5h.6M264.3 249.8h.6M266.2 250.3h.6M259.9 247.0h.6M255.6 244.1h.6M261.1 247.1h.6M256.3 248.8h.6M264.7 246.0h.6M259.7 245.1h.6M262.0 248.9h.6M257.6 243.6h.6M255.9 246.1h.6M262.2 242.1h.6M267.2 248.3h.6M264.5 246.6h.6M267.5 249.7h.6M263.4 242.6h.6M258.7 242.1h.6M263.1 245.5h.6M260.7 242.6h.6M260.4 247.8h.6M256.9 244.5h.6M263.4 242.6h.6M259.8 245.8h.6M263.5 248.4h.6M259.9 247.2h.6M263.8 245.2h.6M253.6 239.6h.6M258.6 242.2h.6M264.1 242.9h.6M262.2 243.9h.6M251.7 243.7h.6M258.0 246.9h.6M259.9 245.4h.6M257.2 244.5h.6M262.0 242.7h.6M269.7 246.7h.6M267.4 249.4h.6M256.8 243.1h.6M263.4 247.4h.6M260.8 244.2h.6M261.4 240.4h.6M263.6 241.6h.6M266.9 241.4h.6M257.2 249.6h.6M260.0 247.4h.6M262.1 247.7h.6M266.3 245.1h.6M261.9 245.6h.6M259.6 240.8h.6M258.7 244.2h.6M261.8 244.0h.6M264.6 246.2h.6M261.4 247.5h.6M269.7 240.9h.6M261.8 246.5h.6M259.5 246.7h.6M266.3 247.1h.6M264.6 246.3h.6M267.1 248.1h.6M260.2 245.8h.6M260.8 242.4h.6M260.6 247.4h.6M260.5 247.9h.6M263.2 246.4h.6M257.7 242.7h.6M265.6 247.0h.6M258.3 240.9h.6M257.0 246.3h.6M257.4 250.1h.6M255.2 245.7h.6M259.7 241.5h.6M263.5 247.0h.6M260.5 241.7h.6M263.9 247.1h.6M259.4 237.3h.6M261.6 242.6h.6M261.5 248.9h.6M260.6 247.1h.6M268.3 238.0h.6M265.6 240.6h.6M258.6 244.0h.6M259.2 246.3h.6M258.9 243.7h.6M264.3 242.7h.6M251.5 244.6h.6M258.7 240.3h.6M270.1 246.3h.6M260.4 244.7h.6M250.4 247.5h.6M257.2 246.9h.6M251.7 248.1h.6M261.9 240.9h.6M261.7 246.5h.6M259.7 251.0h.6M258.5 249.3h.6M265.7 241.6h.6M254.0 244.9h.6M266.6 242.7h.6M259.2 239.1h.6M265.0 245.2h.6M261.7 241.1h.6M258.1 244.4h.6M263.8 239.8h.6M264.3 245.5h.6M257.6 246.2h.6M262.7 239.3h.6M262.1 242.9h.6M262.4 247.0h.6M261.6 243.2h.6M262.9 243.8h.6M262.4 247.1h.6M264.5 243.9h.6M261.9 246.3h.6M260.8 243.9h.6M267.5 249.8h.6M258.7 242.0h.6M260.1 238.2h.6M268.2 246.7h.6M269.4 247.1h.6M252.5 241.3h.6M265.2 244.4h.6M263.5 245.8h.6M257.7 239.9h.6M263.6 244.5h.6M265.5 245.8h.6M254.5 242.6h.6M259.4 245.2h.6M255.5 237.5h.6M263.8 240.3h.6M263.0 247.7h.6M265.0 247.1h.6M265.7 240.0h.6M258.8 246.2h.6M267.3 243.2h.6M255.5 243.5h.6M267.7 245.9h.6M254.9 242.5h.6M263.6 247.6h.6M264.1 249.4h.6M262.1 246.1h.6M262.6 247.7h.6M261.3 247.4h.6M264.3 243.0h.6M263.4 244.7h.6M261.8 244.3h.6M262.2 245.3h.6M256.0 241.7h.6M261.5 242.1h.6M254.8 250.9h.6M260.6 240.5h.6M264.8 245.2h.6M263.1 244.7h.6M260.0 245.8h.6M255.5 245.6h.6M265.1 247.1h.6M264.1 244.9h.6M266.1 247.0h.6M253.2 242.8h.6M255.7 243.0h.6M268.7 242.4h.6M264.8 241.3h.6M254.8 241.3h.6M260.4 242.5h.6M251.9 242.2h.6M261.3 243.2h.6M256.1 239.6h.6M258.3 246.8h.6M265.7 251.4h.6M260.8 242.5h.6M256.9 246.8h.6M259.0 243.3h.6M255.8 244.3h.6M263.7 241.8h.6M262.9 243.5h.6M263.3 241.6h.6M258.4 241.8h.6" stroke="#000" stroke-width=".6" opacity="0.35"/>
<ellipse cx="283.3" cy="239.0" rx="12.5" ry="4" fill="#000" opacity="0.24" filter="url(#b15)"/>
<path d="M262.1 234.8h.6M255.6 237.3h.6M266.8 243.4h.6M262.3 236.8h.6M268.7 231.8h.6M274.5 244.5h.6M264.2 241.0h.6M271.1 228.9h.6M257.9 239.1h.6M261.0 243.4h.6M264.0 232.7h.6M256.2 249.1h.6M258.0 230.5h.6M258.0 235.3h.6M265.1 237.5h.6M254.5 249.1h.6M270.0 238.8h.6M253.8 241.4h.6M264.4 237.5h.6M267.3 249.7h.6M261.3 237.5h.6M263.4 239.9h.6M261.4 248.8h.6M267.7 246.7h.6M255.7 242.3h.6M260.5 227.3h.6M269.8 228.7h.6M256.2 223.8h.6M256.4 240.9h.6M269.7 245.0h.6M263.9 244.6h.6M260.4 238.1h.6M261.6 232.7h.6M269.1 228.6h.6M263.3 239.4h.6M254.3 229.9h.6M264.3 233.0h.6M263.0 235.6h.6M262.3 235.2h.6M261.2 244.2h.6M254.3 232.0h.6M264.4 241.2h.6M265.9 240.1h.6M250.4 245.4h.6M258.6 237.8h.6M255.6 243.3h.6M263.1 230.9h.6M265.1 245.3h.6M265.6 225.6h.6M266.0 242.5h.6M274.2 243.3h.6M271.5 240.1h.6M253.2 225.9h.6M268.4 242.4h.6M263.3 247.7h.6M261.9 239.5h.6M263.9 238.9h.6M259.8 238.4h.6M264.7 247.0h.6M262.4 241.2h.6M265.2 232.6h.6M257.3 239.2h.6M260.6 232.0h.6M259.5 227.4h.6M268.0 241.8h.6M268.5 223.3h.6M262.1 240.2h.6M258.6 244.3h.6M262.2 241.3h.6M262.1 236.6h.6M260.0 238.8h.6M269.1 237.7h.6M258.5 234.3h.6M266.7 248.0h.6M265.5 241.4h.6M266.1 231.6h.6M260.1 241.8h.6M264.2 251.4h.6M259.8 244.3h.6M270.4 232.5h.6M261.7 243.0h.6M264.4 240.8h.6M270.1 246.7h.6M257.5 233.8h.6M257.8 237.1h.6M266.1 239.8h.6M267.1 242.6h.6M259.4 225.6h.6M259.7 230.5h.6M255.7 236.2h.6M272.1 235.1h.6M266.2 242.8h.6M262.6 232.7h.6M271.9 238.5h.6M272.5 240.4h.6M261.9 238.6h.6M260.0 234.1h.6M265.4 233.3h.6M265.9 231.3h.6M253.4 236.7h.6M267.9 233.6h.6M272.2 246.5h.6M261.7 246.6h.6M261.0 238.2h.6M264.6 238.1h.6M268.6 231.1h.6M257.1 228.0h.6M260.8 237.0h.6M256.7 242.5h.6M255.2 232.0h.6M270.1 234.4h.6M263.5 219.9h.6M262.5 238.9h.6M261.5 242.8h.6M261.1 238.7h.6M258.6 237.4h.6M262.2 244.8h.6M258.9 231.5h.6M260.4 234.6h.6M261.0 246.8h.6M260.1 250.5h.6M268.4 238.6h.6M261.8 239.3h.6M258.1 242.2h.6M264.9 236.5h.6M259.9 241.9h.6M255.7 234.7h.6M257.4 227.2h.6M257.3 242.3h.6M268.7 232.4h.6M259.5 242.3h.6M263.1 234.0h.6M259.0 245.5h.6M253.3 229.2h.6M262.3 240.6h.6M258.0 232.2h.6M268.0 239.6h.6M256.2 240.8h.6M261.0 246.1h.6M266.9 232.4h.6M258.6 238.3h.6M259.9 242.0h.6M261.0 250.0h.6M257.1 229.0h.6M259.6 235.0h.6M259.7 234.3h.6M257.8 241.3h.6M262.0 236.3h.6M255.0 242.0h.6M269.2 237.3h.6M262.3 246.1h.6M262.0 244.0h.6M260.2 233.3h.6M269.5 229.4h.6M265.9 246.7h.6M263.2 238.8h.6M267.4 231.8h.6M261.8 240.7h.6M263.1 227.8h.6M263.5 235.6h.6M269.1 251.8h.6M255.0 240.4h.6M260.5 222.8h.6M265.4 254.2h.6M260.1 249.7h.6M269.8 241.8h.6M263.2 250.1h.6M253.4 237.2h.6M257.5 241.7h.6M262.7 240.8h.6M264.9 252.5h.6M269.8 239.3h.6M261.1 247.2h.6M264.4 245.3h.6M249.1 246.2h.6M267.8 221.8h.6M262.8 241.1h.6M253.7 246.2h.6M264.2 232.1h.6M258.0 238.1h.6M262.7 235.3h.6M263.9 247.0h.6M263.1 238.1h.6M272.0 245.9h.6M260.5 238.5h.6M259.4 237.6h.6M260.4 232.9h.6M265.8 236.1h.6M258.1 235.0h.6M257.2 237.7h.6M261.3 232.8h.6M267.1 240.0h.6M266.5 239.3h.6M265.4 228.7h.6M260.8 244.9h.6M259.7 240.9h.6M254.9 227.0h.6M255.0 251.4h.6M265.3 233.0h.6M264.3 237.8h.6M264.2 235.7h.6M262.1 245.4h.6M266.3 239.6h.6M265.4 239.4h.6M264.0 232.2h.6M261.4 247.9h.6M263.0 241.5h.6M270.3 246.1h.6M271.6 245.6h.6M270.9 231.7h.6M265.0 239.1h.6M254.3 240.7h.6M263.7 239.7h.6M264.7 238.9h.6M271.0 236.2h.6M262.8 227.8h.6M261.5 242.3h.6M264.8 243.0h.6M263.2 240.2h.6M260.0 249.2h.6M257.4 237.3h.6M255.8 245.0h.6M260.9 238.3h.6M255.7 249.0h.6M259.4 245.9h.6M262.6 238.6h.6M261.7 234.0h.6M265.0 243.2h.6M274.5 228.4h.6M261.4 232.8h.6M260.1 230.1h.6M257.5 243.7h.6M259.7 236.8h.6M266.8 240.3h.6M264.1 237.9h.6M263.0 235.7h.6M269.2 237.8h.6M259.4 236.4h.6M263.8 234.7h.6M270.5 241.4h.6M265.7 239.6h.6M257.3 235.7h.6M265.3 239.7h.6M259.9 229.8h.6M258.3 242.1h.6M251.5 250.3h.6M249.7 233.4h.6M269.6 237.0h.6M260.7 226.6h.6M260.3 241.0h.6M258.6 239.6h.6M259.4 235.1h.6M260.1 247.7h.6M268.8 247.2h.6M256.8 231.2h.6M257.5 237.0h.6M266.6 248.3h.6M255.1 244.4h.6M260.0 235.7h.6M266.9 227.8h.6M267.1 251.9h.6M268.4 233.2h.6M264.1 242.1h.6M257.4 248.9h.6M262.0 245.8h.6M261.7 235.4h.6M260.3 242.8h.6M265.0 246.8h.6M254.4 227.5h.6M266.4 237.3h.6M268.8 242.6h.6M261.4 240.2h.6M260.6 232.7h.6M263.6 235.6h.6M262.0 237.3h.6M255.8 237.7h.6M264.0 232.5h.6M265.9 234.9h.6M273.4 223.2h.6M268.4 249.4h.6M263.7 232.5h.6M262.0 251.3h.6M261.4 241.6h.6M262.7 236.2h.6M264.2 247.8h.6M271.3 230.2h.6M260.8 236.7h.6M267.9 235.1h.6M258.9 235.3h.6M262.8 242.4h.6M264.7 231.6h.6M256.1 257.2h.6M262.4 232.6h.6M268.8 232.0h.6M260.8 246.0h.6M265.3 249.8h.6M263.2 243.4h.6M258.6 237.9h.6M270.2 241.5h.6M262.3 232.2h.6M267.3 251.6h.6M264.5 248.8h.6M265.0 233.5h.6M266.1 235.0h.6M263.9 247.1h.6M263.3 239.6h.6M256.2 234.9h.6M262.6 229.0h.6M266.6 243.7h.6M263.6 234.0h.6M257.0 232.8h.6M263.2 236.2h.6M254.8 238.6h.6M257.9 230.2h.6M261.0 238.1h.6M264.9 228.3h.6M262.4 242.5h.6M265.2 233.5h.6M258.2 237.8h.6M262.0 241.9h.6M253.7 235.1h.6M262.2 240.3h.6M266.3 226.2h.6M261.0 234.7h.6M260.3 232.5h.6M261.4 242.6h.6M263.3 239.6h.6M259.7 251.7h.6M254.9 241.7h.6M263.9 243.6h.6M259.8 241.7h.6M257.6 237.1h.6M268.3 238.5h.6M270.0 242.9h.6M258.2 239.8h.6M257.9 239.6h.6M268.4 230.7h.6M266.7 225.4h.6M257.7 242.4h.6M260.4 249.7h.6M258.0 229.8h.6M263.6 227.9h.6M259.1 234.4h.6M256.0 236.9h.6M261.5 236.0h.6M264.4 232.5h.6M261.7 226.6h.6M255.8 241.0h.6M257.2 242.3h.6M270.4 241.0h.6M260.3 235.6h.6M269.0 229.9h.6M257.6 247.7h.6M266.1 241.9h.6M260.9 234.3h.6M259.8 234.1h.6M259.1 239.6h.6M254.6 251.5h.6M254.9 233.8h.6M262.6 237.9h.6M261.2 235.5h.6M265.8 233.3h.6M265.0 235.3h.6M268.0 245.1h.6M267.2 252.9h.6M261.9 235.6h.6M262.7 230.1h.6M263.6 236.1h.6M269.8 223.3h.6M264.5 234.9h.6M263.2 253.2h.6M254.8 238.7h.6M256.9 239.8h.6M253.2 239.7h.6M265.3 233.7h.6M267.0 244.0h.6M261.3 248.4h.6M262.4 239.8h.6M264.0 237.6h.6M253.6 241.9h.6M262.7 230.7h.6M276.2 234.8h.6M263.6 248.3h.6M272.7 238.4h.6M265.0 240.2h.6M258.4 239.9h.6M257.5 245.1h.6M271.1 233.0h.6M263.6 234.5h.6M270.5 235.4h.6M261.3 241.5h.6M268.8 235.7h.6M261.8 230.4h.6M260.9 250.7h.6M267.6 229.8h.6M265.7 229.9h.6M271.7 238.5h.6M261.1 246.0h.6M260.5 237.2h.6M265.0 245.1h.6M266.0 246.5h.6M252.6 229.9h.6M255.4 235.4h.6M263.0 231.3h.6M265.8 225.9h.6M261.2 233.7h.6M259.9 240.7h.6M263.9 253.4h.6M265.5 234.5h.6M262.4 239.1h.6M262.9 231.5h.6M258.5 247.7h.6M255.9 232.3h.6M268.7 236.3h.6M256.4 242.8h.6M268.0 231.2h.6M257.8 232.4h.6M269.5 227.2h.6M255.8 239.5h.6M258.2 240.3h.6M264.6 231.3h.6M268.3 234.8h.6M270.0 243.7h.6M272.0 234.9h.6M268.6 239.0h.6M267.6 228.3h.6M271.2 244.6h.6M256.4 241.1h.6M267.4 231.5h.6M268.6 228.7h.6M258.6 237.1h.6M259.9 224.9h.6M262.7 242.0h.6M262.8 240.2h.6M263.3 235.5h.6M262.8 245.2h.6M268.8 242.1h.6M265.4 251.4h.6M259.4 235.0h.6M266.3 237.3h.6M265.6 235.8h.6M266.9 244.5h.6M266.2 234.4h.6M267.2 241.9h.6M265.3 235.4h.6M269.3 233.5h.6M266.0 243.0h.6M265.3 246.5h.6M268.4 240.2h.6M274.5 239.8h.6M266.8 231.3h.6M261.9 242.7h.6M259.6 234.3h.6M265.3 235.3h.6M258.9 242.9h.6M262.2 230.9h.6M269.4 241.5h.6M259.4 241.0h.6M267.7 238.1h.6M256.7 221.2h.6M263.6 237.8h.6M263.2 239.2h.6M259.4 235.7h.6M268.8 230.2h.6M259.2 232.4h.6M266.3 250.0h.6M259.6 242.1h.6M256.8 229.8h.6M270.5 233.0h.6M270.9 230.8h.6M261.8 237.1h.6M266.0 232.6h.6M257.5 232.4h.6M271.2 226.1h.6M255.7 236.4h.6M256.7 237.2h.6M263.5 239.0h.6M265.4 230.2h.6M265.4 237.7h.6M262.7 232.5h.6M259.1 234.2h.6M271.9 243.5h.6M260.0 229.7h.6M260.3 240.8h.6M264.7 248.4h.6M262.7 247.3h.6M260.8 238.1h.6M268.8 233.4h.6M275.3 235.9h.6M271.4 233.5h.6M261.8 234.5h.6M263.7 243.7h.6M269.1 243.4h.6M263.8 231.8h.6M258.3 255.8h.6M256.3 244.4h.6M259.4 236.6h.6M267.4 231.9h.6M259.0 235.5h.6M255.2 237.0h.6M266.1 240.6h.6M267.6 240.4h.6M260.4 236.9h.6M259.7 233.6h.6M260.2 248.2h.6M264.9 239.3h.6M252.9 238.8h.6M258.2 237.8h.6M255.3 254.9h.6M261.1 236.7h.6M255.6 226.1h.6M265.6 242.8h.6M263.7 239.2h.6M254.2 238.5h.6M256.1 241.8h.6M262.6 234.4h.6M265.2 225.0h.6M261.6 249.2h.6M259.0 239.2h.6M263.7 230.9h.6M266.2 246.5h.6M263.3 231.5h.6M258.6 240.4h.6M270.0 243.9h.6M265.9 246.3h.6M266.8 252.4h.6M264.3 243.5h.6M266.9 240.5h.6M253.5 243.8h.6M272.4 242.3h.6M258.2 248.6h.6M254.7 245.3h.6M253.9 247.8h.6M267.3 242.5h.6M267.5 233.9h.6M256.8 248.9h.6M260.6 243.1h.6M258.6 251.2h.6M261.2 250.8h.6M267.5 233.2h.6M259.0 235.7h.6M254.4 232.9h.6M259.5 243.5h.6M264.1 238.9h.6M267.0 237.7h.6M263.0 238.6h.6M255.6 244.0h.6M268.8 248.4h.6M260.4 252.5h.6M263.5 245.2h.6M261.7 240.0h.6M264.5 245.2h.6M260.8 241.7h.6M265.8 245.5h.6M265.9 229.2h.6M271.3 233.4h.6M266.6 233.6h.6M261.1 235.4h.6M253.1 235.1h.6M261.1 250.1h.6M261.8 235.4h.6M265.6 243.3h.6M262.5 242.4h.6M254.9 233.7h.6M272.7 231.4h.6M255.1 228.3h.6M258.9 250.6h.6M271.9 249.0h.6M276.5 249.5h.6M267.2 226.3h.6M269.5 235.8h.6M263.8 230.6h.6M263.0 227.9h.6M271.5 248.6h.6M262.6 228.8h.6M263.4 235.4h.6M260.8 243.9h.6M266.5 239.3h.6M269.0 243.9h.6M265.0 240.6h.6M263.1 224.3h.6M255.4 242.1h.6M264.9 243.1h.6M261.9 229.9h.6M268.4 235.5h.6M262.5 233.4h.6M262.4 233.9h.6M258.2 240.5h.6M260.6 239.5h.6M263.2 237.9h.6M261.0 233.1h.6M264.7 244.8h.6M261.2 248.6h.6M263.6 246.2h.6M256.1 238.9h.6M260.6 228.0h.6M255.2 243.1h.6M272.7 221.0h.6M261.1 248.1h.6M265.4 235.0h.6M250.4 239.1h.6M270.1 247.6h.6M255.1 240.8h.6M264.7 230.7h.6M255.2 233.5h.6M267.1 231.3h.6M261.7 237.2h.6M267.0 252.1h.6M264.3 245.1h.6M275.0 223.0h.6M271.1 240.5h.6M270.9 246.5h.6M266.7 236.7h.6M260.9 238.1h.6M261.0 243.5h.6M265.2 246.5h.6M264.0 238.5h.6M268.1 242.6h.6M255.6 246.7h.6M261.5 232.6h.6M260.3 232.8h.6M261.9 232.4h.6M257.1 235.2h.6M266.8 238.9h.6M263.0 241.4h.6M264.4 236.3h.6M266.1 243.1h.6M251.7 234.5h.6M262.5 248.1h.6M264.5 224.6h.6M263.9 240.4h.6M263.0 239.2h.6M267.0 244.2h.6M254.4 231.2h.6M263.8 228.0h.6M272.2 234.0h.6M263.1 245.4h.6M259.2 232.4h.6M265.0 232.1h.6M266.3 241.3h.6M266.0 238.4h.6M259.4 231.9h.6M253.7 227.2h.6M260.0 243.8h.6M267.3 228.1h.6M263.8 236.1h.6M263.8 234.5h.6M261.3 248.8h.6M259.5 232.5h.6M268.4 242.4h.6M263.5 252.2h.6M266.3 236.1h.6M266.8 236.5h.6M260.7 245.0h.6M256.2 241.7h.6M260.4 234.4h.6M262.9 231.5h.6M265.7 232.5h.6M261.3 237.1h.6M262.9 249.9h.6M256.2 237.3h.6M266.1 256.9h.6M262.8 245.3h.6M265.8 233.6h.6M264.5 246.3h.6M265.3 237.2h.6M262.9 230.8h.6M257.0 232.7h.6M270.6 234.1h.6M268.1 234.2h.6M269.1 232.7h.6M256.0 240.4h.6M266.3 234.3h.6M262.2 233.8h.6M257.8 244.7h.6M269.8 241.6h.6M266.5 238.4h.6M262.4 233.0h.6M265.4 240.4h.6M266.9 241.5h.6M257.5 228.9h.6M261.5 239.2h.6M255.1 238.5h.6M255.1 239.9h.6M255.7 236.1h.6M263.1 235.9h.6M263.3 237.0h.6M254.4 233.4h.6M261.7 237.8h.6M255.7 244.8h.6M266.3 230.4h.6M263.2 232.9h.6M258.1 231.7h.6M270.4 237.7h.6M267.8 235.3h.6M258.3 241.5h.6M268.9 253.2h.6M260.0 239.3h.6M255.9 235.0h.6M268.4 243.4h.6" stroke="#000" stroke-width=".6" opacity="0.3"/>
<ellipse cx="262.8" cy="238.5" rx="9" ry="10" fill="#000" opacity="0.35" filter="url(#b2)"/>
<path d="M256.1 234.5L262.3 229.5L270.3 229.0L271.1 236.5L269.3 245.5L264.3 247.5L258.3 245.5L255.60000000000002 240.5Z" fill="#000" opacity="1" filter="url(#b1)"/>
</g>
<rect x="249.3" y="200.5" width="52" height="51.8" fill="none" stroke="#777" stroke-width="0.5"/>
<rect x="256.4" y="207.4" width="20.5" height="16.19999999999999" fill="none" stroke="#333" stroke-width="0.5"/>
<text x="300.1" y="204.9" font-size="3.1" text-anchor="end" fill="#222" textLength="12" lengthAdjust="spacingAndGlyphs" stroke="#222" stroke-width="0.08">3.1 ± 0.9</text>
<text x="317.0" y="205.3" font-size="2.9" text-anchor="end" fill="#444" stroke="#444" stroke-width="0.08">10⁴</text>
<text x="317.0" y="217.8" font-size="2.9" text-anchor="end" fill="#444" stroke="#444" stroke-width="0.08">10³</text>
<text x="317.0" y="230.8" font-size="2.9" text-anchor="end" fill="#444" stroke="#444" stroke-width="0.08">10²</text>
<text x="317.0" y="242.3" font-size="2.9" text-anchor="end" fill="#444" stroke="#444" stroke-width="0.08">10¹</text>
<text x="317.0" y="247.8" font-size="2.9" text-anchor="end" fill="#444" stroke="#444" stroke-width="0.08">0</text>
<text x="324.8" y="257.6" font-size="2.9" text-anchor="middle" fill="#444" stroke="#444" stroke-width="0.08">0</text>
<text x="330.8" y="257.6" font-size="2.9" text-anchor="middle" fill="#444" stroke="#444" stroke-width="0.08">10¹</text>
<text x="343.8" y="257.6" font-size="2.9" text-anchor="middle" fill="#444" stroke="#444" stroke-width="0.08">10²</text>
<text x="356.3" y="257.6" font-size="2.9" text-anchor="middle" fill="#444" stroke="#444" stroke-width="0.08">10³</text>
<text x="368.3" y="257.6" font-size="2.9" text-anchor="middle" fill="#444" stroke="#444" stroke-width="0.08">10⁴</text>
<clipPath id="c16"><rect x="318.8" y="200.8" width="51.8" height="51.6"/></clipPath><g clip-path="url(#c16)">
<path d="M333.7 211.3h.6M334.9 220.8h.6M331.1 215.4h.6M331.9 213.5h.6M336.3 212.5h.6M335.0 214.3h.6M334.2 215.2h.6M329.4 215.7h.6M341.1 214.6h.6M330.3 216.7h.6M333.5 213.9h.6M334.5 218.1h.6M333.7 213.3h.6M336.8 213.3h.6M335.0 217.1h.6M335.7 216.5h.6M335.9 219.0h.6M335.9 215.7h.6M334.0 217.0h.6M329.5 211.9h.6M340.3 214.3h.6M337.2 219.0h.6M332.9 217.3h.6M331.9 213.9h.6M339.3 214.7h.6M332.3 213.7h.6M337.7 217.4h.6M338.6 208.6h.6M330.4 213.4h.6M338.5 212.3h.6M329.9 217.5h.6M340.1 214.7h.6M335.0 214.3h.6M337.8 216.6h.6M337.7 213.0h.6M338.3 220.1h.6M337.8 217.3h.6M334.7 214.2h.6M342.2 215.0h.6M334.8 213.3h.6M337.9 218.9h.6M332.7 209.7h.6M333.6 215.9h.6M333.1 214.3h.6M339.0 217.6h.6M331.7 215.8h.6M334.7 216.0h.6M335.7 216.4h.6M332.3 216.1h.6M330.0 213.6h.6M332.0 213.7h.6M336.5 218.1h.6M333.6 218.5h.6M334.1 214.6h.6M331.2 213.9h.6M342.9 216.0h.6M337.6 216.8h.6M330.1 213.4h.6M336.4 211.6h.6M338.6 214.4h.6M332.7 213.2h.6M339.2 216.0h.6M338.9 210.3h.6M339.4 214.9h.6M336.7 218.6h.6M331.6 214.1h.6M337.8 216.4h.6M337.6 211.2h.6M336.6 215.2h.6M337.7 211.4h.6M334.2 214.8h.6M340.8 215.3h.6M330.9 212.1h.6M334.7 207.9h.6M334.3 218.2h.6M337.0 210.0h.6M333.4 218.0h.6M331.1 213.7h.6M331.6 212.6h.6M338.5 216.0h.6M334.1 215.9h.6M334.6 214.2h.6M336.1 216.8h.6M337.1 214.9h.6M340.6 214.9h.6M330.9 218.8h.6M333.6 212.3h.6M335.7 215.3h.6M335.0 211.5h.6M334.6 216.3h.6M340.6 216.2h.6M339.3 218.9h.6M338.5 217.2h.6M338.1 216.6h.6M331.9 210.9h.6M332.9 216.4h.6M339.6 214.3h.6M334.0 218.7h.6M338.8 215.6h.6M334.9 210.1h.6M339.3 216.0h.6M335.0 215.1h.6M334.4 216.3h.6M335.2 214.4h.6M337.8 211.4h.6M335.5 213.4h.6M338.9 220.5h.6" stroke="#000" stroke-width=".6" opacity="0.3"/>
<ellipse cx="335.3" cy="215" rx="2.6" ry="2.1" fill="#000" opacity="0.2" filter="url(#b08)"/>
<path d="M358.4 243.9h.6M363.4 239.4h.6M354.4 245.6h.6M357.4 242.1h.6M339.5 239.7h.6M363.9 236.6h.6M350.7 240.6h.6M359.1 235.2h.6M355.2 241.8h.6M343.5 242.4h.6M339.6 243.0h.6M359.8 244.4h.6M351.9 239.8h.6M347.1 244.1h.6M353.0 238.9h.6M345.1 237.4h.6M348.1 239.4h.6M339.7 238.2h.6M359.0 237.9h.6M353.2 235.6h.6M350.3 239.8h.6M350.2 242.3h.6M344.2 237.8h.6M358.6 243.4h.6M339.8 240.8h.6M350.6 239.1h.6M354.7 238.7h.6M358.0 238.4h.6M361.1 241.4h.6M339.6 241.3h.6M353.8 231.8h.6M342.3 235.8h.6M360.4 240.7h.6M354.0 233.9h.6M355.5 239.4h.6M356.9 241.5h.6M356.1 237.6h.6M354.6 228.5h.6M360.4 241.5h.6M356.0 235.9h.6M355.6 237.5h.6M354.7 243.0h.6M358.6 239.1h.6M355.3 239.5h.6M353.3 237.7h.6M358.9 237.4h.6M354.6 240.7h.6M352.9 239.8h.6M365.4 240.9h.6M355.4 237.5h.6M347.8 239.6h.6M355.8 243.9h.6M346.6 243.8h.6M352.9 239.9h.6M361.6 242.3h.6M357.9 236.5h.6M354.1 238.5h.6M363.4 236.0h.6M364.4 239.8h.6M349.4 239.8h.6M357.8 235.1h.6M364.0 238.6h.6M362.6 237.6h.6M349.7 242.0h.6M359.5 239.4h.6M342.3 243.1h.6M360.8 233.5h.6M342.3 238.4h.6M358.3 239.9h.6M343.1 240.3h.6M357.8 241.3h.6M352.9 236.7h.6M348.0 242.6h.6M356.1 239.6h.6M357.3 242.0h.6M357.6 243.0h.6M343.6 243.5h.6M361.0 237.1h.6M359.5 236.6h.6M357.2 237.6h.6M344.2 242.3h.6M352.8 245.9h.6M342.1 241.0h.6M347.8 234.9h.6M347.7 236.7h.6M357.8 241.7h.6M368.2 230.5h.6M356.2 237.8h.6M362.1 240.9h.6M349.6 237.0h.6M368.8 235.7h.6M345.7 235.7h.6M357.5 240.4h.6M360.2 233.8h.6M356.2 235.7h.6M355.2 233.4h.6M347.1 238.0h.6M354.4 230.7h.6M357.3 236.6h.6M355.0 241.8h.6M366.2 243.6h.6M363.2 243.2h.6M343.1 237.1h.6M353.7 239.2h.6M364.5 241.5h.6M360.4 240.8h.6M341.8 244.2h.6M357.0 239.0h.6M343.5 233.0h.6M359.6 242.5h.6M343.2 232.8h.6M356.4 236.5h.6M364.5 241.2h.6M355.1 229.3h.6M367.7 238.3h.6M345.2 240.6h.6M351.0 241.6h.6M368.5 235.0h.6M363.0 235.9h.6M357.1 241.4h.6M369.3 239.7h.6M358.0 238.1h.6M350.7 237.1h.6M340.9 232.5h.6M349.8 241.7h.6M355.4 244.8h.6M343.0 237.4h.6M352.9 244.0h.6M347.1 241.2h.6M363.7 243.6h.6M351.5 238.8h.6M362.5 238.6h.6M360.0 239.6h.6M362.9 241.0h.6M358.4 238.1h.6M359.2 238.8h.6M355.8 238.2h.6M358.2 241.0h.6M353.2 243.9h.6M358.2 236.9h.6M346.0 243.9h.6M351.2 237.2h.6M345.0 236.8h.6M360.0 241.5h.6M354.0 242.4h.6M362.8 242.5h.6M339.6 239.2h.6M351.0 246.1h.6M367.8 240.9h.6M347.2 243.4h.6M353.4 237.2h.6M363.9 240.3h.6M355.0 236.6h.6M348.6 246.2h.6M349.0 233.7h.6M366.0 237.9h.6M353.5 239.6h.6M357.1 240.4h.6M357.7 240.8h.6M357.1 248.9h.6M357.5 244.4h.6M354.7 236.6h.6M352.6 233.1h.6M366.0 237.6h.6M352.2 237.0h.6M349.8 235.8h.6M353.7 240.1h.6M356.0 244.2h.6M357.1 234.7h.6M368.1 236.3h.6M352.6 239.0h.6M347.7 246.7h.6M351.0 240.5h.6M348.2 236.9h.6M353.3 239.1h.6M357.6 235.8h.6M363.0 242.6h.6M358.0 237.7h.6M364.6 239.4h.6M360.1 241.2h.6M345.2 240.3h.6M360.6 234.6h.6M365.4 235.4h.6M340.1 242.3h.6M361.3 242.2h.6M352.1 244.5h.6M364.2 243.3h.6M357.1 238.4h.6M353.0 237.1h.6M353.0 246.0h.6M349.7 244.0h.6M354.0 243.7h.6M369.9 233.0h.6M349.5 238.1h.6M352.2 237.6h.6M356.6 238.3h.6M355.5 239.4h.6M357.4 229.8h.6M368.7 238.9h.6M361.5 245.9h.6M346.5 240.5h.6M355.6 241.3h.6M342.2 237.2h.6M366.5 237.3h.6M352.5 234.9h.6M355.3 240.7h.6M358.4 247.3h.6M352.9 242.4h.6M343.8 239.0h.6M350.5 240.3h.6M365.0 239.2h.6M359.5 242.1h.6M358.5 241.3h.6M349.2 243.2h.6M355.1 236.7h.6M355.8 242.2h.6M362.4 239.0h.6M347.7 242.1h.6M356.9 246.2h.6M353.0 238.5h.6M343.0 237.6h.6M340.6 230.6h.6M353.8 239.8h.6M364.9 237.4h.6M358.2 239.1h.6M346.9 238.3h.6M353.8 238.3h.6M355.5 241.0h.6M345.2 237.9h.6M358.3 236.0h.6M363.8 236.3h.6M356.4 239.3h.6M353.2 237.0h.6M354.9 239.3h.6M360.1 230.7h.6M356.5 239.7h.6M348.0 241.9h.6M351.0 240.0h.6M365.6 244.8h.6M348.3 242.8h.6M356.0 249.8h.6M362.4 237.1h.6M357.3 240.7h.6M355.7 233.1h.6M355.7 236.0h.6M355.4 242.8h.6M361.6 237.7h.6M352.3 232.4h.6M360.4 241.4h.6M357.5 237.2h.6M341.0 240.2h.6M360.5 244.2h.6M355.7 242.7h.6M342.4 244.3h.6M368.5 236.7h.6M346.3 240.2h.6M361.5 238.1h.6M364.1 239.3h.6M361.4 236.4h.6M347.9 233.8h.6M360.2 235.7h.6M361.6 239.7h.6M351.2 237.7h.6M351.1 231.1h.6M357.3 238.2h.6M359.4 234.6h.6M350.5 235.6h.6M349.7 239.4h.6M356.1 234.1h.6M351.4 245.8h.6M364.1 241.1h.6M354.9 237.4h.6M352.2 237.0h.6M343.2 234.3h.6M350.2 244.3h.6M347.8 232.8h.6M358.1 238.8h.6M352.8 238.5h.6M345.8 243.7h.6M365.5 237.2h.6M356.2 239.2h.6M355.5 240.0h.6M357.4 240.2h.6M358.1 235.0h.6M353.1 241.5h.6M343.8 241.3h.6M363.4 246.8h.6M366.4 237.2h.6M364.6 234.0h.6M358.9 241.7h.6M346.0 238.9h.6M350.1 237.2h.6M365.8 240.1h.6M354.2 241.2h.6M353.5 243.7h.6M345.7 236.8h.6M349.0 235.9h.6M350.9 238.7h.6M356.5 238.5h.6M350.3 236.5h.6M366.1 240.2h.6M355.3 234.0h.6M344.1 238.8h.6M357.3 241.4h.6M354.2 240.6h.6M352.5 237.2h.6M351.3 238.0h.6M359.0 244.5h.6M353.2 240.1h.6M362.8 232.2h.6M340.6 249.2h.6M355.2 239.2h.6M354.6 237.4h.6M348.7 239.7h.6M346.3 239.1h.6M356.9 237.4h.6M351.2 238.2h.6M360.4 237.3h.6M348.8 241.3h.6M364.0 235.8h.6M364.9 235.4h.6M364.4 243.1h.6M357.6 242.7h.6M358.6 243.8h.6M356.9 242.1h.6M363.5 238.4h.6M348.1 242.5h.6M366.0 235.9h.6M359.6 235.4h.6M359.1 241.5h.6M352.3 239.8h.6M358.7 243.8h.6M358.8 235.9h.6M343.5 237.0h.6M345.3 234.2h.6M368.0 241.9h.6M345.2 239.0h.6M357.6 236.5h.6M344.8 238.8h.6M357.6 243.3h.6M345.7 236.2h.6M359.7 239.9h.6M343.5 239.3h.6M351.1 241.8h.6M362.3 240.5h.6M354.8 239.1h.6M356.1 238.7h.6M346.4 237.4h.6M355.2 241.6h.6M358.8 244.2h.6M346.3 233.6h.6M352.2 241.5h.6M364.3 232.8h.6M343.8 232.5h.6M347.4 249.9h.6M352.0 239.9h.6M362.9 244.2h.6M346.1 240.5h.6M351.3 235.7h.6M358.6 233.7h.6M345.8 240.6h.6M344.8 237.9h.6M352.0 239.9h.6M359.8 236.3h.6M351.1 244.3h.6M355.3 241.8h.6M349.3 235.7h.6M357.9 238.9h.6M345.6 233.5h.6M346.0 237.9h.6M349.4 239.7h.6M340.7 235.1h.6M362.5 242.3h.6M360.9 242.6h.6M363.9 239.7h.6M358.0 244.5h.6M365.9 232.8h.6M356.0 241.8h.6M343.8 240.2h.6M362.0 241.2h.6M363.2 230.7h.6M349.1 239.0h.6M351.5 248.7h.6M350.7 237.9h.6M366.6 239.2h.6M360.4 241.6h.6M361.3 240.8h.6M365.1 238.7h.6M360.9 242.3h.6M348.1 240.0h.6M361.7 237.1h.6M361.9 238.5h.6M362.7 244.7h.6M360.1 245.4h.6M347.3 240.4h.6M342.3 233.3h.6M363.3 234.4h.6M346.6 238.2h.6M359.2 240.5h.6M360.3 242.4h.6M355.2 238.4h.6M361.0 240.9h.6M356.0 236.7h.6M360.3 231.1h.6M344.6 238.7h.6M352.5 242.2h.6M366.1 233.5h.6M357.3 239.1h.6M366.6 243.9h.6M366.1 238.9h.6M350.1 244.6h.6M360.7 239.8h.6M363.7 241.2h.6M349.3 236.6h.6M356.4 234.9h.6M345.7 247.2h.6M348.7 238.8h.6M350.8 236.9h.6M352.2 238.9h.6M360.6 240.3h.6M357.1 239.3h.6M360.3 237.4h.6M364.2 240.5h.6M359.5 237.3h.6M350.1 240.7h.6M359.0 240.6h.6M362.9 238.0h.6M355.4 240.6h.6M356.6 230.9h.6M353.4 240.0h.6M361.2 233.6h.6M342.8 241.1h.6M352.9 236.2h.6M352.8 227.5h.6M370.0 245.3h.6M351.5 238.7h.6M356.9 241.3h.6M353.4 235.5h.6M358.0 235.0h.6M355.9 237.9h.6M350.3 242.7h.6M350.3 241.8h.6M361.1 242.6h.6M343.0 239.7h.6M356.8 239.5h.6M359.2 239.7h.6M356.9 246.2h.6M357.1 235.9h.6M365.9 244.1h.6M347.9 239.1h.6M352.3 239.7h.6M358.3 244.4h.6M349.5 239.8h.6M359.4 238.4h.6M341.8 242.8h.6M349.0 242.7h.6M342.7 245.3h.6M346.4 236.9h.6M358.8 238.9h.6M351.3 243.4h.6M366.6 245.9h.6M356.5 237.7h.6M356.3 238.4h.6M350.2 244.5h.6M355.2 240.6h.6M362.0 244.0h.6M354.4 244.7h.6M360.3 238.1h.6M359.7 240.8h.6M355.8 234.9h.6M346.8 233.3h.6M345.9 239.0h.6M355.4 239.5h.6M353.1 234.1h.6M359.4 244.9h.6M348.0 239.2h.6M356.7 237.4h.6M360.5 235.3h.6M363.6 235.0h.6M360.9 240.1h.6M347.4 241.0h.6M356.7 235.7h.6M359.5 234.0h.6M353.0 237.8h.6M355.5 238.5h.6M350.5 244.2h.6M357.7 239.8h.6M348.3 235.3h.6M354.3 243.0h.6M360.0 239.9h.6M339.9 246.2h.6M344.4 237.2h.6M355.2 244.3h.6M349.6 244.1h.6M361.6 242.3h.6M355.0 239.3h.6M348.6 240.5h.6M364.2 240.3h.6M358.3 234.7h.6M360.3 236.2h.6M342.2 240.8h.6M360.9 231.6h.6M341.0 241.4h.6M362.6 240.8h.6M361.3 245.0h.6M362.0 241.8h.6M349.5 242.0h.6M357.8 240.2h.6M359.0 239.7h.6M355.3 233.7h.6M352.1 235.8h.6M354.4 235.9h.6M344.3 241.3h.6M367.2 237.6h.6M347.3 242.2h.6M358.0 240.5h.6M361.0 239.6h.6M364.0 241.0h.6M353.1 240.8h.6M364.6 244.8h.6M354.8 248.1h.6M352.5 233.5h.6M345.1 233.4h.6M356.8 237.6h.6M354.1 235.9h.6M355.6 236.2h.6M352.6 242.6h.6M353.9 241.8h.6M344.0 231.7h.6M359.4 238.8h.6M350.0 231.8h.6M351.0 238.6h.6M358.4 233.6h.6M340.9 238.3h.6M352.3 241.6h.6M353.8 239.5h.6M349.7 233.9h.6M345.5 247.8h.6M354.5 237.4h.6M359.7 238.9h.6M352.9 243.0h.6M354.8 233.0h.6M340.5 240.1h.6M353.8 237.0h.6M343.0 240.2h.6M361.4 237.8h.6M358.0 238.8h.6M349.3 243.1h.6M350.7 237.4h.6M370.4 240.9h.6M353.7 241.0h.6M357.1 241.7h.6M358.7 242.2h.6M361.9 238.3h.6M345.6 232.8h.6M345.5 246.3h.6M366.8 232.6h.6M356.4 238.3h.6M365.6 235.5h.6M346.3 245.1h.6M351.3 242.9h.6M361.3 237.2h.6M364.1 234.3h.6M365.2 234.9h.6M357.6 246.1h.6M348.2 235.5h.6M342.7 238.5h.6M351.4 245.3h.6M368.1 243.4h.6M359.1 239.5h.6M361.7 236.3h.6M343.7 239.3h.6M348.0 239.5h.6M355.4 246.0h.6M343.9 244.5h.6M355.8 233.6h.6M352.6 235.1h.6M343.7 235.4h.6M342.5 241.0h.6M350.9 235.7h.6M349.1 238.4h.6M350.9 231.9h.6M368.7 237.6h.6M353.8 243.0h.6M352.0 236.0h.6M352.9 230.8h.6M364.7 234.7h.6M350.3 235.2h.6M341.5 234.3h.6M343.7 227.8h.6M347.5 237.1h.6M357.3 235.2h.6M347.6 239.9h.6M359.3 241.8h.6M352.1 240.5h.6M341.4 243.1h.6M350.1 230.2h.6M354.9 240.3h.6M357.1 241.9h.6M356.7 241.5h.6M351.3 243.4h.6M368.7 244.1h.6M353.3 240.4h.6M348.5 238.0h.6M354.1 244.0h.6M351.9 242.9h.6M343.5 236.7h.6M344.3 236.4h.6M354.3 238.7h.6M346.2 237.9h.6M352.7 241.5h.6M351.5 243.0h.6M355.3 242.7h.6M364.7 238.2h.6M364.6 238.6h.6M348.8 239.7h.6M367.8 239.5h.6M356.9 236.0h.6M353.7 242.9h.6M349.3 240.5h.6M343.8 236.3h.6M352.8 245.1h.6M358.0 241.8h.6M351.5 233.3h.6M349.2 242.2h.6M363.3 235.3h.6M354.2 237.1h.6M358.3 238.4h.6M357.0 242.1h.6M353.5 237.3h.6M352.6 236.7h.6M355.3 236.8h.6M362.7 244.8h.6M363.2 239.3h.6M346.8 241.3h.6M359.7 240.2h.6M348.4 237.5h.6M364.8 238.8h.6M361.3 241.3h.6M350.0 241.1h.6M350.8 242.7h.6M353.6 238.2h.6M350.9 236.8h.6M343.6 236.6h.6M346.6 247.4h.6M358.6 240.7h.6M353.1 237.7h.6M360.2 235.0h.6M350.3 233.8h.6M355.3 244.3h.6M343.6 235.2h.6M363.1 237.1h.6M362.0 238.5h.6M353.0 237.4h.6M353.6 236.2h.6M356.8 236.8h.6M353.1 241.5h.6M353.6 234.0h.6M354.9 240.9h.6M351.3 240.9h.6M363.7 238.0h.6M355.0 238.5h.6M356.0 234.5h.6M353.2 241.6h.6M362.1 244.2h.6M349.0 230.4h.6M356.1 237.7h.6M362.2 235.0h.6M354.0 234.8h.6M353.5 244.6h.6M362.7 241.0h.6M360.5 240.4h.6M352.7 244.4h.6M362.2 240.0h.6M362.1 240.6h.6M363.3 233.3h.6M347.1 237.5h.6M355.6 237.6h.6M356.3 237.0h.6M358.2 247.5h.6M349.2 237.9h.6M346.3 241.9h.6M343.6 242.8h.6M352.2 236.5h.6M367.9 237.9h.6M360.6 246.0h.6M344.1 237.5h.6M362.6 240.9h.6M357.4 241.1h.6M355.6 231.9h.6M364.8 241.8h.6M360.7 242.2h.6M354.7 236.7h.6M356.9 238.5h.6M359.8 234.4h.6M363.5 243.7h.6M346.3 232.7h.6M354.8 237.3h.6M352.5 236.6h.6M342.2 241.4h.6M342.1 240.4h.6M354.6 235.7h.6M353.2 240.1h.6M358.2 240.2h.6M361.4 232.6h.6M347.6 231.9h.6M347.9 239.2h.6M357.7 237.8h.6M343.0 241.8h.6M353.2 243.1h.6M341.6 230.9h.6M364.2 241.1h.6M356.0 242.8h.6M366.7 238.1h.6M348.8 243.6h.6M358.6 235.8h.6M361.8 236.6h.6M362.2 239.5h.6M346.0 239.2h.6M352.6 238.8h.6M355.5 240.7h.6M358.9 240.9h.6M350.3 244.0h.6M360.1 240.6h.6M356.4 239.5h.6M349.4 234.7h.6M358.5 243.6h.6M357.7 236.9h.6M355.6 240.3h.6M347.2 240.2h.6M368.4 236.9h.6M346.5 237.9h.6M354.4 237.7h.6M357.6 237.5h.6M356.0 240.2h.6M343.3 235.0h.6M345.3 234.6h.6M360.8 237.1h.6M364.3 243.5h.6M350.7 235.3h.6M349.9 243.4h.6M366.7 237.2h.6M360.0 243.1h.6M356.4 241.4h.6M358.2 240.9h.6M342.6 243.5h.6M364.5 237.6h.6M345.7 239.8h.6M354.3 241.2h.6M354.5 239.5h.6M346.6 243.3h.6M352.7 243.0h.6M356.4 234.3h.6M358.3 241.4h.6M352.8 239.5h.6M350.3 239.1h.6M357.3 237.6h.6M350.7 242.6h.6M346.3 238.0h.6M368.4 242.6h.6M350.5 237.0h.6M343.3 242.2h.6M358.3 246.8h.6M354.2 241.9h.6M359.0 236.8h.6M367.4 243.3h.6M363.8 236.8h.6M353.3 237.9h.6M355.7 241.4h.6M354.6 234.1h.6M361.1 240.8h.6M352.6 242.0h.6M348.7 238.8h.6M360.9 243.1h.6M357.2 237.6h.6M357.6 239.5h.6M351.2 243.9h.6M342.5 239.2h.6M367.2 230.0h.6M365.2 242.4h.6M354.8 231.6h.6M358.4 238.1h.6M353.8 241.8h.6M354.2 236.9h.6M351.6 243.1h.6M364.5 240.5h.6M360.5 243.0h.6M355.9 243.1h.6M351.3 244.1h.6M340.3 243.8h.6M344.8 238.3h.6M362.9 245.6h.6M356.6 251.6h.6M362.4 240.8h.6M359.7 240.9h.6M352.6 240.0h.6M363.5 239.5h.6M362.1 241.3h.6M354.4 240.2h.6M365.0 241.7h.6M353.2 236.6h.6M355.2 237.5h.6M370.4 239.4h.6M351.3 237.0h.6M356.1 236.4h.6M362.2 232.8h.6M349.2 235.4h.6M348.7 244.1h.6M364.9 232.8h.6M362.1 244.0h.6M354.6 241.7h.6M353.0 236.9h.6M352.2 238.0h.6M359.4 244.8h.6M345.7 239.5h.6M360.9 245.6h.6M359.3 234.4h.6M357.6 237.9h.6M353.1 238.1h.6M357.1 241.0h.6M345.9 237.6h.6M349.1 249.1h.6M363.0 235.3h.6M359.2 239.3h.6M350.2 241.3h.6M357.1 235.1h.6M351.1 239.0h.6M351.4 243.4h.6M353.9 239.0h.6M352.6 245.4h.6M359.3 237.3h.6M355.9 243.7h.6M349.8 239.6h.6M345.9 239.5h.6M354.0 236.1h.6M367.3 238.8h.6M355.4 245.4h.6M354.5 233.7h.6M359.2 237.6h.6M350.7 241.1h.6M360.7 243.7h.6M366.8 242.2h.6M347.8 244.4h.6M363.9 238.9h.6M364.5 233.8h.6M360.8 235.9h.6M341.4 237.9h.6M349.3 237.9h.6M361.5 235.6h.6M348.9 234.5h.6M352.2 235.0h.6M352.9 241.0h.6M347.5 242.7h.6M355.3 239.2h.6" stroke="#000" stroke-width=".6" opacity="0.35"/>
<path d="M341.5 247.3h.6M343.7 232.2h.6M348.5 242.4h.6M341.3 236.7h.6M351.9 238.4h.6M351.5 236.1h.6M342.2 238.3h.6M341.9 235.6h.6M343.7 241.3h.6M345.3 242.2h.6M340.8 238.0h.6M355.0 239.5h.6M348.0 236.8h.6M347.4 234.1h.6M357.7 231.1h.6M350.1 237.8h.6M346.9 238.3h.6M351.5 238.1h.6M348.2 237.6h.6M354.9 238.4h.6M347.0 241.1h.6M353.1 237.2h.6M344.0 234.5h.6M345.7 240.4h.6M357.1 235.2h.6M346.4 235.8h.6M346.5 238.5h.6M349.9 239.3h.6M345.2 241.0h.6M349.1 237.6h.6M351.5 237.1h.6M341.5 236.3h.6M342.6 241.3h.6M349.9 236.9h.6M348.3 241.3h.6M350.3 238.4h.6M343.5 240.4h.6M350.6 238.6h.6M355.5 238.8h.6M352.6 236.5h.6M344.0 243.1h.6M342.6 238.2h.6M350.3 235.2h.6M347.5 239.2h.6M351.4 233.1h.6M344.6 236.4h.6M347.7 243.7h.6M344.3 239.8h.6M341.9 247.0h.6M356.9 235.5h.6M347.5 237.9h.6M341.0 236.5h.6M342.0 238.2h.6M352.3 240.6h.6M355.7 240.2h.6M353.3 247.0h.6M348.1 237.4h.6M350.6 239.5h.6M345.8 247.2h.6M350.1 236.1h.6M347.9 244.2h.6M347.7 236.0h.6M349.3 243.5h.6M347.2 240.9h.6M345.4 238.9h.6M362.0 235.8h.6M347.7 237.6h.6M345.4 242.2h.6M346.5 244.1h.6M343.8 239.7h.6M353.6 236.2h.6M341.8 236.9h.6M346.5 243.8h.6M345.0 242.0h.6M343.9 239.5h.6M349.1 236.9h.6M350.0 238.2h.6M344.3 240.6h.6M347.7 235.6h.6M339.5 235.8h.6M346.1 241.4h.6M348.6 238.6h.6M345.0 227.7h.6M340.9 241.2h.6M350.0 236.6h.6M339.6 243.0h.6M348.2 237.4h.6M341.7 238.2h.6M343.7 235.7h.6M351.5 238.8h.6M341.4 236.8h.6M353.4 239.2h.6M349.6 239.8h.6M351.5 237.6h.6M346.7 236.3h.6M348.5 240.3h.6M348.8 237.4h.6M343.7 236.2h.6M350.9 235.2h.6M349.8 242.3h.6M343.2 239.2h.6M354.1 232.8h.6M349.4 240.1h.6M347.0 233.7h.6M347.6 241.3h.6M355.7 241.9h.6M343.2 238.7h.6M345.7 239.9h.6M348.9 244.1h.6M346.7 240.2h.6M340.3 240.8h.6M345.2 236.2h.6M345.0 235.0h.6M348.0 240.0h.6M344.2 244.3h.6M340.4 239.0h.6M339.5 242.6h.6M345.7 243.9h.6M340.8 242.5h.6M351.6 238.2h.6M343.2 236.3h.6M349.2 238.8h.6M346.5 233.9h.6M348.5 235.3h.6M345.8 237.4h.6M344.6 236.7h.6M342.9 238.3h.6M346.2 243.9h.6M348.8 240.1h.6M340.6 238.7h.6M341.5 237.8h.6M352.9 239.0h.6M350.5 239.2h.6M342.3 231.7h.6M341.7 244.4h.6M356.9 240.9h.6M344.9 238.6h.6M348.0 236.4h.6M355.5 245.3h.6M340.1 242.1h.6M343.1 243.2h.6M348.1 241.2h.6M347.8 235.3h.6M346.0 233.1h.6M342.6 235.2h.6M348.1 241.7h.6M351.6 236.8h.6M343.4 234.8h.6M341.8 239.8h.6M347.9 237.3h.6M352.2 244.0h.6M346.4 233.4h.6M342.6 245.3h.6M346.5 234.8h.6M356.3 237.7h.6M343.9 236.8h.6M346.6 237.4h.6M348.1 238.5h.6M348.5 242.7h.6M353.7 235.5h.6M351.5 237.7h.6M353.2 237.8h.6M361.0 241.5h.6M351.7 242.9h.6M344.1 239.5h.6M343.8 239.8h.6M354.9 237.2h.6M342.4 238.4h.6M350.8 244.3h.6M353.4 240.3h.6M350.7 240.8h.6M347.2 239.6h.6M352.0 243.5h.6M343.2 228.8h.6M349.0 243.4h.6M348.7 242.9h.6M348.6 240.7h.6M343.1 238.1h.6M347.9 240.9h.6M344.4 245.7h.6M348.1 234.5h.6M351.1 247.4h.6M342.2 239.9h.6M347.8 239.3h.6M347.3 244.1h.6M345.4 243.4h.6M347.4 242.2h.6M351.7 236.2h.6M352.6 231.4h.6M347.7 243.4h.6M350.1 239.5h.6M348.1 247.7h.6M346.3 234.8h.6M349.4 241.1h.6M344.7 243.2h.6M346.6 238.2h.6M345.7 237.6h.6M347.8 236.2h.6M341.4 238.4h.6M357.0 231.8h.6M341.0 238.4h.6M342.2 241.0h.6M345.7 240.5h.6M347.0 239.1h.6M342.6 245.8h.6M346.7 235.4h.6M340.1 226.6h.6M351.8 243.8h.6M348.7 237.3h.6M343.5 240.4h.6M352.2 246.9h.6M345.3 239.3h.6M346.6 242.7h.6M343.3 241.7h.6M341.5 242.9h.6M356.8 234.4h.6M340.9 240.7h.6M349.1 236.9h.6M340.5 239.1h.6M342.8 236.4h.6M347.0 234.6h.6M348.0 233.6h.6M344.9 240.1h.6M345.4 232.4h.6M343.2 235.6h.6M343.4 235.1h.6M347.6 237.7h.6M342.5 241.7h.6M349.9 238.9h.6M343.1 232.2h.6M345.3 237.2h.6M345.1 234.7h.6M342.4 234.7h.6M356.7 235.9h.6M354.4 243.4h.6M354.4 242.5h.6M340.9 237.9h.6M342.6 237.5h.6M350.6 242.4h.6M349.7 240.3h.6M357.6 240.6h.6M347.7 240.3h.6M348.5 239.1h.6M348.6 235.5h.6M346.6 236.2h.6M349.0 237.8h.6M346.3 241.9h.6M347.5 244.8h.6M345.3 240.8h.6M348.9 237.0h.6M347.7 239.0h.6M350.4 235.7h.6M342.3 240.2h.6M346.8 234.2h.6M348.8 239.6h.6M346.9 238.1h.6M343.4 241.5h.6M343.7 241.8h.6M343.4 240.4h.6M340.3 242.2h.6M342.8 240.0h.6M347.5 239.7h.6M344.0 234.0h.6M341.6 234.4h.6M343.8 240.7h.6M347.0 237.4h.6M342.6 240.9h.6M347.2 240.6h.6M350.9 238.0h.6M347.2 238.8h.6M347.7 239.7h.6M350.8 244.1h.6M342.1 237.8h.6M342.7 239.2h.6M340.4 240.5h.6M346.6 241.9h.6M352.7 240.3h.6M339.4 241.2h.6M341.5 240.6h.6M342.1 235.4h.6M348.8 237.5h.6M344.1 239.2h.6M348.6 236.9h.6M347.3 238.3h.6M352.7 245.0h.6M344.5 236.4h.6M339.5 245.5h.6M354.2 241.7h.6M342.5 238.0h.6M347.9 246.0h.6M348.2 243.2h.6M349.9 238.5h.6M346.9 237.9h.6M344.8 236.2h.6M345.6 242.7h.6M354.6 241.6h.6M342.5 238.9h.6M345.1 237.7h.6M348.1 232.8h.6M344.8 237.5h.6M354.2 242.3h.6M345.8 236.8h.6M339.9 238.8h.6M349.4 243.6h.6M340.3 238.9h.6M348.6 241.0h.6M346.1 239.5h.6M344.8 242.6h.6M350.8 242.0h.6M341.0 240.7h.6M344.5 241.5h.6M351.1 238.2h.6M340.0 239.7h.6M347.8 235.5h.6M346.2 237.8h.6M350.8 236.6h.6M343.4 235.9h.6M347.6 241.6h.6M346.8 242.3h.6M343.9 235.6h.6M342.3 239.5h.6M355.9 241.1h.6M347.9 240.1h.6M349.7 238.1h.6M353.2 240.0h.6M351.4 235.7h.6M345.4 237.9h.6M348.7 233.8h.6M344.6 241.9h.6M351.1 238.9h.6M349.4 242.0h.6M351.1 240.0h.6M341.7 241.2h.6M342.9 237.4h.6M342.2 237.9h.6M344.6 237.1h.6M346.2 239.9h.6M349.6 238.2h.6M350.4 242.3h.6M341.3 238.7h.6M342.7 236.4h.6M348.5 237.8h.6M346.0 231.5h.6M346.2 240.1h.6M350.4 238.5h.6M340.3 236.3h.6M343.9 237.8h.6M341.6 236.5h.6M340.5 237.0h.6M348.4 238.8h.6M344.8 240.5h.6M353.0 242.5h.6M343.9 240.9h.6M350.4 241.0h.6M358.2 238.1h.6M344.5 240.7h.6M343.4 236.9h.6M343.0 241.1h.6M345.6 238.7h.6M349.0 235.8h.6M355.4 238.4h.6M340.3 237.5h.6M345.5 239.8h.6M344.5 232.1h.6M353.9 246.3h.6M348.9 236.5h.6M353.1 237.3h.6M358.0 235.9h.6M343.4 240.7h.6M344.3 240.7h.6M347.5 238.4h.6M342.9 231.1h.6M347.7 240.1h.6M342.1 238.6h.6M353.5 235.9h.6M343.3 234.1h.6M347.5 233.9h.6M343.1 235.9h.6M346.4 242.0h.6M343.9 233.5h.6M351.1 238.3h.6M344.0 236.1h.6M347.9 241.7h.6M342.7 239.0h.6M343.3 235.8h.6M349.1 239.6h.6M340.9 236.9h.6M340.9 247.5h.6M342.5 240.0h.6M341.3 241.6h.6M346.4 239.2h.6M347.5 240.3h.6M345.2 242.0h.6M350.6 237.4h.6M344.5 243.5h.6M350.1 243.1h.6M340.0 241.4h.6M346.4 235.1h.6M349.5 235.8h.6M355.1 236.0h.6M341.7 235.1h.6M346.8 234.5h.6M358.7 240.7h.6M347.7 233.1h.6M350.2 242.6h.6M350.9 237.6h.6M341.8 234.8h.6M346.6 228.4h.6M351.1 239.9h.6M351.7 243.5h.6M344.2 243.3h.6M346.3 245.0h.6M351.5 235.3h.6M349.0 240.8h.6M347.1 234.9h.6M352.9 241.6h.6M353.3 239.7h.6M342.5 235.9h.6M348.2 241.0h.6M344.7 239.4h.6M343.7 241.6h.6M350.5 240.5h.6M343.4 240.0h.6M348.2 237.5h.6M351.9 238.1h.6M346.0 237.1h.6M353.7 245.9h.6M348.5 239.6h.6M339.5 234.0h.6M342.7 238.6h.6M344.9 235.3h.6M346.5 240.0h.6M351.0 236.6h.6M339.3 238.8h.6M345.5 238.6h.6M344.0 240.6h.6M347.6 238.0h.6M343.0 242.1h.6M348.6 243.8h.6M349.4 240.9h.6M347.7 235.7h.6M346.7 240.0h.6M350.0 240.0h.6M349.4 241.0h.6M347.7 238.8h.6M344.9 242.0h.6M352.4 235.0h.6M351.8 243.2h.6M348.1 235.6h.6M354.0 242.9h.6M346.4 242.0h.6M344.5 239.3h.6M345.2 241.6h.6M348.7 239.9h.6M351.2 237.7h.6M345.0 233.7h.6M347.0 241.0h.6M341.7 241.7h.6" stroke="#000" stroke-width=".6" opacity="0.35"/>
<path d="M331.2 246.6h.6M332.5 241.5h.6M329.3 244.7h.6M335.9 242.8h.6M337.4 240.3h.6M330.6 242.7h.6M332.3 244.9h.6M333.0 246.5h.6M332.0 242.1h.6M333.8 245.3h.6M322.1 243.5h.6M332.1 245.3h.6M324.0 246.2h.6M331.9 241.9h.6M326.2 242.4h.6M335.7 250.9h.6M333.7 243.0h.6M325.3 241.0h.6M333.8 243.1h.6M331.0 246.4h.6M334.5 242.5h.6M335.0 246.8h.6M327.7 244.3h.6M327.0 247.2h.6M327.3 243.4h.6M330.2 248.3h.6M333.1 244.4h.6M333.0 246.0h.6M329.9 246.7h.6M328.9 242.8h.6M330.7 245.6h.6M329.3 242.1h.6M326.3 245.8h.6M330.0 248.2h.6M330.3 246.5h.6M335.8 246.1h.6M333.7 243.6h.6M332.0 250.6h.6M332.1 240.0h.6M333.7 240.7h.6M339.1 249.9h.6M339.5 239.1h.6M331.9 235.6h.6M339.4 247.5h.6M327.3 248.9h.6M325.5 246.7h.6M335.6 249.1h.6M331.4 245.4h.6M332.5 246.1h.6M331.0 247.0h.6M335.2 247.1h.6M329.0 249.0h.6M328.4 242.8h.6M333.4 240.9h.6M332.1 249.3h.6M332.9 241.3h.6M332.3 244.8h.6M329.0 243.6h.6M335.2 247.3h.6M331.4 245.7h.6M330.8 246.6h.6M328.9 249.3h.6M334.8 246.4h.6M327.2 246.9h.6M332.6 239.4h.6M328.5 244.4h.6M326.4 243.4h.6M336.2 249.8h.6M334.6 242.7h.6M327.4 244.7h.6M331.5 241.6h.6M331.4 245.5h.6M330.2 243.8h.6M336.3 244.4h.6M332.3 240.7h.6M333.3 240.5h.6M332.1 239.7h.6M332.2 243.9h.6M331.1 241.5h.6M333.9 242.4h.6M326.1 247.7h.6M333.1 249.6h.6M328.5 242.4h.6M332.2 249.5h.6M336.1 246.4h.6M333.9 243.4h.6M329.7 245.3h.6M329.6 244.1h.6M330.1 243.4h.6M327.1 243.3h.6M326.0 247.1h.6M320.3 243.6h.6M329.4 241.7h.6M333.2 243.5h.6M339.0 240.4h.6M336.9 246.2h.6M332.9 243.8h.6M324.5 243.5h.6M331.5 241.5h.6M335.4 241.6h.6M327.5 243.6h.6M332.4 242.4h.6M330.8 249.5h.6M333.7 245.6h.6M327.6 248.2h.6M331.3 248.0h.6M330.0 241.9h.6M335.8 242.0h.6M331.2 247.2h.6M333.1 240.3h.6M332.5 250.0h.6M335.0 242.1h.6M338.0 245.8h.6M326.6 249.7h.6M328.5 247.7h.6M335.0 246.8h.6M331.5 247.5h.6M327.2 245.0h.6M323.9 246.9h.6M326.9 249.5h.6M326.9 242.2h.6M329.4 248.4h.6M333.3 246.1h.6M336.8 240.9h.6M334.7 245.3h.6M324.7 242.3h.6M334.9 241.4h.6M332.1 243.7h.6M327.5 242.1h.6M325.7 243.6h.6M341.8 241.3h.6M328.9 244.6h.6M332.2 244.6h.6M326.1 241.9h.6M328.3 242.7h.6M329.5 245.9h.6M331.2 247.0h.6M328.8 248.4h.6M329.7 244.9h.6M331.2 247.5h.6M323.6 242.7h.6M329.1 246.7h.6M332.9 245.4h.6M337.5 246.3h.6M336.2 245.1h.6M333.9 241.9h.6M335.5 242.1h.6M334.9 246.6h.6M327.2 245.0h.6M331.0 243.8h.6M328.3 247.7h.6M327.4 245.0h.6M331.3 240.8h.6M333.2 244.6h.6M329.4 243.6h.6M328.4 243.0h.6M326.0 247.4h.6M334.5 243.6h.6M326.0 239.3h.6M326.3 250.4h.6M327.3 243.1h.6M329.6 239.1h.6M328.9 244.1h.6M332.9 244.6h.6M333.2 244.0h.6M326.9 245.9h.6M332.1 244.8h.6M325.5 249.1h.6M333.0 247.1h.6M331.0 240.2h.6M326.7 247.9h.6M340.7 238.0h.6M336.4 246.2h.6M331.7 244.9h.6M334.7 246.4h.6M335.4 243.6h.6M331.8 244.2h.6M327.3 244.0h.6M328.6 246.4h.6M331.3 250.4h.6M332.2 243.2h.6M336.2 244.9h.6M329.3 243.7h.6M335.3 243.0h.6M330.6 247.1h.6M338.8 249.9h.6M331.8 248.2h.6M332.0 242.8h.6M329.9 244.9h.6M333.2 244.0h.6M330.4 245.8h.6M332.2 250.7h.6M334.5 246.2h.6M337.9 243.9h.6M337.8 248.0h.6M338.8 248.3h.6M330.0 249.7h.6M333.5 246.5h.6M329.8 245.9h.6M320.6 239.9h.6M334.5 244.5h.6M328.8 246.7h.6M335.4 247.5h.6M327.6 248.1h.6M332.3 245.8h.6M336.0 247.5h.6M335.3 245.9h.6M327.8 244.1h.6M334.9 241.1h.6M329.5 242.9h.6M327.7 244.5h.6M331.0 241.7h.6M332.6 242.1h.6M335.9 245.9h.6M327.5 245.6h.6M325.6 245.2h.6M324.7 245.9h.6M335.9 240.3h.6M329.7 246.7h.6M333.1 243.1h.6M335.1 246.3h.6M326.4 248.7h.6M325.9 243.0h.6M331.4 239.9h.6M330.9 245.9h.6M335.4 240.9h.6M332.2 245.9h.6M328.4 240.2h.6M328.5 245.0h.6M330.0 246.2h.6M328.6 243.5h.6M329.2 242.8h.6M323.8 242.5h.6M329.4 243.1h.6M325.1 242.6h.6M331.7 247.8h.6M328.1 243.7h.6M328.1 245.1h.6M328.8 248.9h.6M333.3 247.2h.6M330.9 244.8h.6M337.6 245.4h.6M338.1 246.3h.6M332.3 243.5h.6M329.9 235.1h.6M335.8 244.8h.6M328.8 245.2h.6M323.5 243.8h.6M326.8 247.3h.6M336.6 243.9h.6M337.6 245.8h.6M333.8 243.9h.6M331.8 243.2h.6M333.7 241.3h.6M330.8 248.0h.6M332.6 237.0h.6M327.9 245.1h.6M335.3 244.5h.6M334.6 248.2h.6M326.4 244.2h.6M334.8 243.6h.6M333.5 248.7h.6M329.3 245.6h.6M328.6 248.9h.6M337.1 237.7h.6M332.1 239.3h.6M324.8 244.6h.6M343.7 242.5h.6M329.6 246.3h.6M332.1 245.8h.6M336.0 245.3h.6M326.5 243.6h.6M330.0 242.2h.6M329.2 243.7h.6M332.8 241.5h.6M333.3 243.6h.6M328.7 243.0h.6M335.2 244.4h.6M328.9 242.4h.6M331.9 242.0h.6M329.5 246.8h.6M335.5 240.4h.6M332.2 248.7h.6M334.8 242.6h.6M331.9 243.7h.6M328.4 247.9h.6M333.9 245.4h.6M334.8 247.8h.6M332.2 245.4h.6M332.8 239.5h.6M330.3 244.5h.6M321.9 247.2h.6M331.8 245.1h.6M330.4 247.5h.6M334.0 243.7h.6M325.1 247.8h.6M336.7 246.9h.6M334.8 244.4h.6M330.7 245.9h.6M330.6 238.6h.6M325.0 248.2h.6M326.5 241.4h.6M334.3 248.3h.6M329.6 244.1h.6M326.6 241.4h.6M325.5 243.2h.6M332.6 241.7h.6M325.1 245.2h.6M332.3 244.5h.6M334.4 244.8h.6M335.4 243.5h.6M329.5 242.4h.6M331.8 245.5h.6M328.9 246.1h.6M333.8 245.2h.6M326.8 246.0h.6M326.3 241.6h.6M331.0 246.0h.6M331.6 244.7h.6M333.3 247.6h.6M328.9 246.1h.6M332.1 244.9h.6M337.3 241.2h.6M333.1 248.6h.6M340.0 246.1h.6M331.2 243.4h.6M325.1 245.4h.6M336.0 245.0h.6M329.3 244.9h.6M331.8 245.4h.6M337.4 247.0h.6M337.1 244.2h.6M334.7 241.0h.6M329.0 245.0h.6M328.4 243.8h.6M330.1 243.9h.6M334.5 239.7h.6M340.1 242.2h.6M332.8 248.1h.6M327.3 249.4h.6M328.3 246.9h.6M332.2 245.6h.6M344.3 240.1h.6M336.3 250.4h.6M331.0 243.4h.6M333.7 239.1h.6M333.2 243.5h.6M331.3 241.8h.6M327.2 239.6h.6" stroke="#000" stroke-width=".6" opacity="0.35"/>
<ellipse cx="353.3" cy="239.3" rx="12.5" ry="4" fill="#000" opacity="0.27999999999999997" filter="url(#b15)"/>
<path d="M326.0 237.3h.6M328.0 250.9h.6M324.5 240.3h.6M327.5 235.2h.6M333.7 237.9h.6M338.4 244.1h.6M333.1 232.3h.6M328.3 246.4h.6M332.3 254.3h.6M339.9 229.0h.6M332.1 233.4h.6M333.4 243.5h.6M328.9 242.1h.6M327.4 239.9h.6M334.7 235.1h.6M334.4 248.4h.6M331.1 231.7h.6M333.6 234.9h.6M331.4 246.8h.6M331.6 232.3h.6M337.4 236.7h.6M335.2 231.4h.6M334.2 231.3h.6M330.6 235.5h.6M327.7 238.8h.6M327.0 237.8h.6M331.1 252.8h.6M331.2 239.6h.6M330.6 225.2h.6M334.5 226.4h.6M333.9 238.9h.6M332.1 233.1h.6M341.8 235.4h.6M332.4 242.1h.6M330.8 235.1h.6M339.7 233.4h.6M329.9 238.5h.6M325.1 235.8h.6M328.1 233.3h.6M319.1 229.6h.6M335.7 238.3h.6M339.7 244.9h.6M326.1 242.3h.6M334.1 254.2h.6M333.8 231.2h.6M335.0 247.6h.6M332.6 242.0h.6M331.6 236.0h.6M330.1 255.8h.6M329.7 239.2h.6M331.7 233.3h.6M333.2 239.1h.6M336.8 244.7h.6M332.4 233.6h.6M335.3 242.7h.6M326.7 233.4h.6M334.6 228.2h.6M331.7 242.8h.6M332.2 245.6h.6M336.2 243.5h.6M326.1 243.8h.6M327.0 239.2h.6M328.3 240.8h.6M329.7 242.9h.6M332.2 235.8h.6M327.7 242.4h.6M340.5 242.7h.6M319.5 245.0h.6M331.5 246.2h.6M336.8 233.3h.6M331.1 231.0h.6M335.9 235.2h.6M337.2 231.3h.6M332.9 237.2h.6M336.9 235.1h.6M331.1 241.0h.6M328.5 242.1h.6M337.1 240.7h.6M337.6 237.8h.6M325.4 229.4h.6M333.8 245.3h.6M333.1 230.1h.6M329.9 235.7h.6M328.1 233.4h.6M341.0 242.9h.6M336.8 238.7h.6M331.3 236.1h.6M342.4 239.5h.6M337.0 229.7h.6M330.6 227.8h.6M333.0 226.8h.6M329.7 243.2h.6M333.1 232.5h.6M334.6 244.3h.6M330.7 241.7h.6M338.2 242.2h.6M333.0 247.0h.6M328.7 236.7h.6M332.1 240.8h.6M332.8 240.7h.6M323.2 231.1h.6M326.2 237.4h.6M334.9 236.8h.6M325.7 244.6h.6M331.8 246.4h.6M336.7 245.7h.6M331.6 231.0h.6M335.6 234.2h.6M326.4 236.6h.6M336.9 241.9h.6M329.9 247.7h.6M325.2 238.9h.6M332.8 240.6h.6M343.9 239.7h.6M333.0 234.9h.6M333.4 238.0h.6M337.2 230.5h.6M337.8 258.1h.6M327.6 251.2h.6M322.2 241.1h.6M328.8 241.4h.6M326.8 243.8h.6M336.2 244.1h.6M327.5 243.7h.6M335.4 237.6h.6M328.9 238.4h.6M335.3 246.7h.6M325.5 238.3h.6M328.8 235.1h.6M323.7 236.0h.6M336.6 236.3h.6M340.0 237.9h.6M333.0 238.3h.6M326.0 236.4h.6M344.7 241.1h.6M332.5 242.1h.6M339.9 241.2h.6M335.3 246.2h.6M327.1 226.2h.6M328.3 242.0h.6M333.9 226.0h.6M328.5 244.2h.6M331.8 241.6h.6M331.4 238.7h.6M325.1 233.0h.6M328.1 240.5h.6M332.1 245.6h.6M316.8 240.5h.6M323.7 245.9h.6M326.2 239.0h.6M324.0 235.8h.6M323.9 227.5h.6M325.2 238.8h.6M328.0 246.9h.6M329.0 246.3h.6M328.3 242.8h.6M333.7 235.4h.6M333.6 242.7h.6M338.2 237.4h.6M334.7 241.4h.6M327.5 239.3h.6M324.8 251.2h.6M340.9 240.5h.6M334.8 234.2h.6M325.8 236.6h.6M334.9 245.7h.6M324.6 229.8h.6M336.7 232.5h.6M332.6 234.1h.6M336.4 245.5h.6M326.9 240.4h.6M333.6 241.7h.6M339.0 231.7h.6M329.4 247.1h.6M337.3 230.8h.6M330.8 226.7h.6M335.8 241.1h.6M332.3 242.8h.6M331.0 220.0h.6M327.2 235.5h.6M330.4 244.1h.6M329.9 228.8h.6M330.1 231.3h.6M333.2 241.5h.6M343.5 239.8h.6M321.1 250.4h.6M333.6 243.4h.6M328.8 243.1h.6M331.9 240.2h.6M333.4 225.1h.6M329.0 240.3h.6M319.3 239.0h.6M340.7 230.6h.6M328.8 242.0h.6M328.4 231.6h.6M324.7 228.8h.6M327.5 242.1h.6M329.5 232.2h.6M333.3 232.1h.6M326.9 240.7h.6M335.2 232.0h.6M333.6 248.0h.6M327.8 252.4h.6M331.8 246.4h.6M326.9 238.5h.6M329.1 230.8h.6M333.6 242.0h.6M328.8 223.4h.6M331.8 245.6h.6M334.8 237.4h.6M328.4 237.3h.6M332.7 248.1h.6M334.4 232.2h.6M336.6 228.3h.6M333.3 238.2h.6M328.7 248.5h.6M334.7 235.4h.6M336.2 243.6h.6M330.2 231.5h.6M336.6 227.3h.6M326.1 253.2h.6M330.7 250.3h.6M333.6 247.7h.6M325.9 246.9h.6M325.0 233.4h.6M335.9 242.8h.6M327.8 248.9h.6M328.7 245.3h.6M337.5 233.5h.6M323.8 239.4h.6M318.9 240.2h.6M319.8 237.5h.6M326.3 237.8h.6M330.9 238.0h.6M334.7 239.0h.6M338.0 233.7h.6M330.6 231.6h.6M329.7 230.1h.6M328.1 246.0h.6M337.7 239.6h.6M327.9 239.3h.6M336.5 244.1h.6M339.0 241.3h.6M335.1 232.3h.6M331.0 236.4h.6M332.7 246.1h.6M330.6 240.2h.6M331.6 237.0h.6M335.2 242.0h.6M332.6 235.9h.6M319.7 235.6h.6M330.9 232.3h.6M328.4 235.7h.6M333.1 230.2h.6M330.0 251.7h.6M341.2 233.6h.6M329.4 250.8h.6M321.9 242.2h.6M333.2 232.7h.6M326.0 231.5h.6M331.9 245.5h.6M343.2 231.4h.6M335.0 235.8h.6M339.2 226.5h.6M332.4 241.4h.6M324.7 242.7h.6M327.5 231.5h.6M342.3 230.1h.6M332.4 241.0h.6M327.5 235.5h.6M350.3 241.2h.6M337.9 241.8h.6M333.6 237.3h.6M333.6 235.5h.6M340.7 228.2h.6M330.5 242.0h.6M333.2 240.2h.6M328.9 236.2h.6M329.4 246.0h.6M334.5 227.8h.6M333.2 241.4h.6M324.0 248.4h.6M342.8 231.6h.6M327.9 246.1h.6M328.8 236.5h.6M329.5 234.8h.6M334.7 245.3h.6M330.8 237.4h.6M333.0 227.6h.6M328.7 234.5h.6M336.9 239.5h.6M336.4 245.7h.6M333.6 233.0h.6M339.2 238.7h.6M328.5 229.4h.6M333.1 232.0h.6M322.4 246.8h.6M328.2 239.1h.6M331.1 229.6h.6M325.2 233.6h.6M327.0 244.3h.6M328.7 242.6h.6M329.3 228.5h.6M330.2 248.0h.6M329.9 239.2h.6M332.7 235.5h.6M332.6 242.6h.6M336.3 233.6h.6M337.8 235.2h.6M323.7 238.9h.6M328.9 238.2h.6M334.4 244.4h.6M331.5 241.9h.6M323.6 253.2h.6M334.9 246.7h.6M338.9 243.3h.6M326.1 226.6h.6M328.9 234.4h.6M332.0 231.7h.6M336.2 238.1h.6M333.7 249.4h.6M342.7 233.6h.6M326.5 240.7h.6M328.6 252.7h.6M324.9 246.3h.6M327.0 239.3h.6M330.8 230.5h.6M333.6 239.5h.6M330.9 234.8h.6M321.7 246.4h.6M330.6 234.2h.6M328.5 244.1h.6M330.3 244.0h.6M323.3 241.9h.6M330.2 235.8h.6M337.5 231.5h.6M338.6 236.7h.6M331.9 240.9h.6M327.9 242.3h.6M331.7 238.8h.6M332.2 237.8h.6M326.4 242.0h.6M333.9 235.7h.6M334.3 232.8h.6M332.6 234.7h.6M328.4 232.6h.6M336.5 241.0h.6M342.9 231.2h.6M330.4 235.8h.6M336.3 239.8h.6M327.1 242.7h.6M326.5 229.3h.6M330.3 237.5h.6M336.4 239.2h.6M326.7 232.7h.6M326.4 226.8h.6M338.2 231.0h.6M331.8 238.8h.6M330.8 242.6h.6M335.1 239.8h.6M333.2 248.1h.6M324.5 232.6h.6M327.2 238.7h.6M327.9 249.0h.6M322.2 251.4h.6M328.1 248.8h.6M330.6 233.4h.6M325.7 233.6h.6M331.8 240.1h.6M321.1 250.5h.6M334.8 242.1h.6M336.4 235.8h.6M334.6 241.7h.6M323.7 230.6h.6M325.2 241.7h.6M338.2 249.7h.6M337.2 237.8h.6M324.9 243.2h.6M336.0 236.5h.6M328.6 236.0h.6M333.4 240.0h.6M333.3 236.5h.6M323.2 251.2h.6M338.9 248.3h.6M329.8 237.1h.6M340.6 232.6h.6M341.9 242.2h.6M322.0 233.2h.6M320.9 232.4h.6M331.1 242.8h.6M329.9 211.8h.6M338.5 234.5h.6M330.2 253.6h.6M344.3 241.9h.6M343.1 238.0h.6M328.3 227.0h.6M335.4 236.4h.6M327.2 236.0h.6M327.0 247.5h.6M335.7 229.2h.6M335.1 238.9h.6M331.8 251.8h.6M328.3 231.5h.6M330.2 240.9h.6M332.2 245.5h.6M325.0 248.1h.6M326.5 241.7h.6M331.2 237.7h.6M338.2 229.4h.6M338.1 235.6h.6M329.0 225.4h.6M333.0 236.9h.6M334.4 233.0h.6M338.7 239.8h.6M344.2 239.9h.6M329.4 232.1h.6M337.0 235.4h.6M332.9 232.6h.6M342.6 238.4h.6M329.3 232.8h.6M331.9 238.0h.6M332.1 239.6h.6M338.8 231.2h.6M329.8 242.5h.6M338.1 238.7h.6M336.9 240.1h.6M330.4 228.7h.6M333.4 233.6h.6M326.9 220.9h.6M343.2 233.7h.6M333.2 231.7h.6M331.2 238.1h.6M327.3 244.8h.6M330.0 240.4h.6M325.3 240.2h.6M330.0 242.5h.6M333.3 232.2h.6M339.2 246.4h.6M337.4 242.2h.6M325.0 249.1h.6M332.1 232.9h.6M330.0 235.3h.6M329.6 223.0h.6M337.6 239.2h.6M324.0 230.8h.6M338.9 242.2h.6M331.9 235.5h.6M334.4 241.4h.6M326.3 242.3h.6M335.6 244.5h.6M326.2 235.5h.6M332.5 230.9h.6M329.0 236.4h.6M337.2 233.0h.6M326.5 240.9h.6M334.2 233.8h.6M335.9 247.3h.6M331.3 241.8h.6M342.3 237.4h.6M329.6 235.7h.6M340.8 240.8h.6M332.0 233.1h.6M329.5 250.2h.6M324.1 248.1h.6M330.4 237.0h.6M326.6 236.3h.6M333.6 240.6h.6M326.8 245.8h.6M321.5 235.5h.6M339.9 239.3h.6M333.0 236.5h.6M328.3 250.4h.6M334.9 245.1h.6M331.1 245.2h.6M337.5 237.2h.6M337.4 245.7h.6M331.8 237.1h.6M332.0 237.4h.6M340.6 239.0h.6M332.7 238.4h.6M331.0 237.5h.6M342.3 245.2h.6M335.5 252.7h.6M334.1 239.1h.6M337.5 230.0h.6M331.6 234.3h.6M328.6 242.9h.6M330.5 242.9h.6M330.8 238.0h.6M333.2 247.1h.6M327.7 232.3h.6M324.5 242.5h.6M342.1 229.1h.6M326.7 230.1h.6M331.5 246.4h.6M326.5 233.1h.6M335.0 238.5h.6M335.4 237.0h.6M331.3 239.0h.6M334.2 243.2h.6M332.4 236.6h.6M336.1 243.0h.6M329.7 241.3h.6M337.4 235.9h.6M326.6 228.6h.6M335.5 239.0h.6M328.1 248.2h.6M327.4 241.4h.6M324.9 235.6h.6M319.2 244.8h.6M325.6 240.3h.6M330.2 236.4h.6M333.5 249.5h.6M333.8 241.3h.6M326.9 240.7h.6M337.2 232.5h.6M333.5 246.5h.6M329.4 229.0h.6M335.7 234.7h.6M335.4 231.9h.6M347.8 236.2h.6M330.2 240.2h.6M336.4 246.9h.6M337.8 232.9h.6M330.9 229.1h.6M330.8 246.8h.6M333.0 250.4h.6M337.0 234.1h.6M331.0 243.5h.6M337.3 236.4h.6M341.9 241.5h.6M326.1 226.8h.6M328.4 227.7h.6M328.5 244.2h.6M332.3 239.6h.6M333.3 242.9h.6M329.6 241.0h.6M331.0 240.6h.6M334.7 239.1h.6M331.3 234.7h.6M345.1 239.7h.6M332.5 228.6h.6M332.9 241.3h.6M332.7 235.5h.6M337.7 233.7h.6M338.1 238.0h.6M323.0 245.9h.6M328.8 250.6h.6M339.8 234.7h.6M330.7 234.4h.6M330.6 245.4h.6M339.5 232.8h.6M331.5 238.9h.6M330.6 229.7h.6M330.0 233.2h.6M329.8 242.6h.6M331.8 234.6h.6M337.1 250.9h.6M322.5 236.2h.6M335.7 238.3h.6M333.4 239.9h.6M337.4 247.0h.6M331.2 232.7h.6M337.2 243.7h.6M340.2 228.5h.6M320.7 237.7h.6M336.2 246.4h.6M329.1 237.3h.6M328.5 238.1h.6M327.6 230.4h.6M333.3 239.6h.6M324.6 241.7h.6M339.2 233.8h.6M330.7 236.2h.6M332.6 234.3h.6M328.3 230.7h.6M337.2 237.2h.6M327.1 234.2h.6M327.4 244.0h.6M330.0 237.0h.6M331.8 235.2h.6M334.0 248.0h.6M330.6 239.1h.6M333.3 244.8h.6M329.6 226.0h.6M329.9 239.1h.6M334.0 247.7h.6M334.7 251.6h.6M324.5 228.9h.6M330.6 239.5h.6M331.8 229.8h.6M329.0 246.2h.6M332.8 249.8h.6M337.2 230.6h.6M328.7 227.9h.6M327.1 239.9h.6M331.1 236.7h.6M326.5 235.6h.6M335.1 243.7h.6M328.1 232.7h.6M333.9 235.5h.6M336.7 229.8h.6M333.5 240.4h.6M332.9 235.8h.6M335.9 234.2h.6M334.5 234.8h.6M340.5 237.3h.6M334.5 244.0h.6M329.6 230.8h.6M330.5 231.5h.6M325.4 246.2h.6M335.7 237.1h.6M328.4 245.9h.6M331.7 228.4h.6M340.2 238.0h.6M329.6 237.7h.6M327.6 242.8h.6M329.3 247.6h.6M334.1 233.9h.6M326.9 238.8h.6M332.0 243.2h.6M328.3 239.7h.6M329.9 236.1h.6M343.5 244.2h.6M328.5 234.9h.6M328.2 243.5h.6M325.4 255.0h.6M340.2 241.6h.6M338.6 244.6h.6M331.4 234.7h.6M335.3 237.8h.6M335.7 238.3h.6M330.5 240.6h.6M322.1 255.2h.6M325.0 232.7h.6M336.6 257.4h.6M328.3 240.1h.6M339.0 253.3h.6M328.2 249.9h.6M337.1 238.4h.6M328.4 243.4h.6M335.1 239.9h.6M333.4 238.0h.6M336.6 254.1h.6M326.6 236.1h.6M335.9 241.3h.6M336.9 234.9h.6M328.1 236.9h.6M325.2 244.1h.6M337.7 231.5h.6M325.6 238.8h.6M332.6 232.8h.6M326.2 238.9h.6M331.7 234.8h.6M323.4 242.0h.6M320.5 226.7h.6M334.4 245.8h.6M331.7 234.9h.6M326.9 234.5h.6M324.3 226.5h.6M328.5 223.3h.6M330.8 246.6h.6M333.7 239.3h.6M342.4 243.3h.6M334.2 235.2h.6M332.7 229.8h.6M333.8 246.5h.6M336.5 234.9h.6M333.2 237.0h.6M332.5 250.8h.6M331.1 233.9h.6M329.8 245.8h.6M334.5 231.7h.6M331.5 239.9h.6M329.6 238.6h.6M336.3 225.1h.6M326.9 232.2h.6M335.6 241.5h.6M328.9 228.1h.6M335.5 243.3h.6M326.4 231.9h.6M327.8 236.6h.6M323.3 237.0h.6M330.4 239.0h.6M320.3 234.7h.6M334.0 234.8h.6M328.4 228.7h.6M339.4 238.3h.6M331.0 236.9h.6M327.5 247.0h.6M329.9 241.4h.6M338.6 227.1h.6M331.6 229.7h.6M326.5 238.8h.6M339.4 241.5h.6M330.1 232.9h.6M341.7 244.6h.6M323.9 230.6h.6M331.4 244.8h.6M337.4 243.8h.6" stroke="#000" stroke-width=".6" opacity="0.3"/>
<ellipse cx="332.8" cy="238.8" rx="9" ry="10" fill="#000" opacity="0.35" filter="url(#b2)"/>
<path d="M326.1 234.8L332.3 229.8L340.3 229.3L341.1 236.8L339.3 245.8L334.3 247.8L328.3 245.8L325.6 240.8Z" fill="#000" opacity="1" filter="url(#b1)"/>
</g>
<rect x="318.8" y="200.8" width="51.8" height="51.6" fill="none" stroke="#777" stroke-width="0.5"/>
<rect x="325" y="207.4" width="20.5" height="16.299999999999983" fill="none" stroke="#333" stroke-width="0.5"/>
<text x="369.40000000000003" y="205.20000000000002" font-size="3.1" text-anchor="end" fill="#222" textLength="12" lengthAdjust="spacingAndGlyphs" stroke="#222" stroke-width="0.08">1.1 ± 0.4</text>
<text x="387.2" y="205.3" font-size="2.9" text-anchor="end" fill="#444" stroke="#444" stroke-width="0.08">10⁴</text>
<text x="387.2" y="217.8" font-size="2.9" text-anchor="end" fill="#444" stroke="#444" stroke-width="0.08">10³</text>
<text x="387.2" y="230.8" font-size="2.9" text-anchor="end" fill="#444" stroke="#444" stroke-width="0.08">10²</text>
<text x="387.2" y="242.3" font-size="2.9" text-anchor="end" fill="#444" stroke="#444" stroke-width="0.08">10¹</text>
<text x="387.2" y="247.8" font-size="2.9" text-anchor="end" fill="#444" stroke="#444" stroke-width="0.08">0</text>
<text x="395" y="256.8" font-size="2.9" text-anchor="middle" fill="#444" stroke="#444" stroke-width="0.08">0</text>
<text x="401" y="256.8" font-size="2.9" text-anchor="middle" fill="#444" stroke="#444" stroke-width="0.08">10¹</text>
<text x="414" y="256.8" font-size="2.9" text-anchor="middle" fill="#444" stroke="#444" stroke-width="0.08">10²</text>
<text x="426.5" y="256.8" font-size="2.9" text-anchor="middle" fill="#444" stroke="#444" stroke-width="0.08">10³</text>
<text x="438.5" y="256.8" font-size="2.9" text-anchor="middle" fill="#444" stroke="#444" stroke-width="0.08">10⁴</text>
<clipPath id="c17"><rect x="389" y="200.8" width="52.5" height="50.8"/></clipPath><g clip-path="url(#c17)">
<path d="M403.2 214.8h.6M405.1 216.5h.6M410.0 211.7h.6M405.4 211.7h.6M404.4 217.7h.6M405.0 210.0h.6M406.6 215.1h.6M408.6 214.6h.6M400.6 217.5h.6M407.0 213.4h.6M404.8 214.8h.6M404.0 216.6h.6M405.7 214.0h.6M404.1 212.8h.6M404.0 214.7h.6M398.7 213.2h.6M403.7 214.9h.6M404.1 215.7h.6M403.5 213.4h.6M406.4 215.0h.6M403.3 213.4h.6M407.0 216.8h.6M409.1 214.2h.6M406.8 212.3h.6M398.1 212.6h.6M409.8 217.8h.6M401.6 216.1h.6M410.8 216.7h.6M408.2 217.6h.6M409.4 212.2h.6M406.8 218.0h.6M405.4 214.6h.6M405.3 209.7h.6M409.7 216.9h.6M408.8 220.7h.6M401.5 213.5h.6M402.8 213.9h.6M405.9 214.5h.6M397.3 218.1h.6M405.6 218.1h.6M407.8 211.1h.6M400.3 222.0h.6M403.5 216.0h.6M403.1 211.9h.6M403.7 213.1h.6M410.2 216.2h.6M404.9 215.7h.6M404.0 211.2h.6M411.7 216.1h.6M401.2 210.9h.6M407.5 216.7h.6M403.3 213.1h.6M405.9 210.7h.6M405.5 213.7h.6M398.3 215.4h.6M406.1 214.2h.6M407.8 215.4h.6M401.0 218.4h.6M400.7 211.3h.6M404.6 215.2h.6M406.0 213.2h.6M404.6 213.9h.6M409.2 215.4h.6M400.7 217.6h.6M400.9 216.1h.6M403.3 211.7h.6M407.2 216.8h.6M413.8 213.2h.6M402.3 212.3h.6M410.8 220.2h.6M409.6 213.2h.6M411.9 216.3h.6M406.3 219.3h.6M406.4 218.8h.6M405.8 217.9h.6M405.8 219.5h.6M404.0 219.6h.6M411.7 213.2h.6M408.6 213.8h.6M406.2 208.1h.6M402.6 217.3h.6M410.4 214.9h.6M405.1 213.2h.6M401.2 218.6h.6M409.3 211.4h.6M411.0 218.1h.6M405.7 215.9h.6M410.7 214.2h.6M407.6 216.1h.6M402.9 219.6h.6M405.1 212.6h.6M408.4 216.9h.6M408.0 212.2h.6M398.0 212.1h.6M411.3 213.5h.6M404.1 215.8h.6M401.0 219.5h.6M403.8 214.1h.6M404.8 217.0h.6M408.1 219.2h.6M406.0 213.9h.6M410.0 215.5h.6M406.4 216.2h.6M407.4 214.6h.6M407.3 211.5h.6M405.3 218.2h.6M405.1 217.3h.6M406.4 215.9h.6M408.2 212.6h.6" stroke="#000" stroke-width=".6" opacity="0.3"/>
<ellipse cx="406" cy="215" rx="2.6" ry="2.1" fill="#000" opacity="0.75" filter="url(#b08)"/>
<path d="M415.4 246.5h.6M425.5 231.2h.6M431.1 239.3h.6M433.5 242.1h.6M428.5 244.1h.6M421.9 232.6h.6M427.5 237.5h.6M431.1 241.8h.6M421.1 242.5h.6M426.8 242.5h.6M418.8 238.0h.6M418.8 236.7h.6M421.4 243.1h.6M417.7 240.6h.6M425.4 240.8h.6M423.1 240.1h.6M414.7 241.6h.6M424.0 235.9h.6M424.4 241.0h.6M429.7 240.1h.6M421.1 235.6h.6M427.1 235.4h.6M426.7 238.7h.6M431.3 237.8h.6M434.5 241.0h.6M421.6 241.7h.6M424.5 238.7h.6M415.2 237.0h.6M426.1 238.2h.6M424.8 240.7h.6M430.4 241.7h.6M412.1 239.0h.6M433.6 241.8h.6M436.9 236.5h.6M438.3 238.5h.6M432.3 243.5h.6M424.6 235.7h.6M433.6 238.4h.6M423.3 236.2h.6M415.2 245.1h.6M428.6 241.7h.6M419.7 236.2h.6M427.4 235.2h.6M428.0 235.8h.6M437.1 238.5h.6M437.6 242.2h.6M433.5 238.5h.6M440.3 239.5h.6M430.3 236.1h.6M413.8 245.4h.6M424.2 244.4h.6M427.1 238.1h.6M427.9 236.3h.6M429.6 241.5h.6M434.7 238.5h.6M413.1 235.0h.6M416.2 240.8h.6M435.0 237.4h.6M430.7 234.1h.6M412.7 250.1h.6M431.7 243.4h.6M426.0 231.1h.6M424.0 232.0h.6M427.9 231.5h.6M422.0 236.8h.6M420.2 236.0h.6M416.5 235.8h.6M435.1 234.6h.6M419.9 233.9h.6M418.7 233.8h.6M432.7 235.3h.6M412.1 240.5h.6M429.6 242.2h.6M415.5 237.4h.6M418.9 240.0h.6M431.2 244.0h.6M416.7 245.3h.6M428.0 245.2h.6M439.6 237.2h.6M421.3 240.5h.6M416.9 233.5h.6M423.5 232.3h.6M435.4 239.7h.6M429.5 237.9h.6M417.4 237.3h.6M423.4 241.0h.6M410.9 249.4h.6M423.3 234.4h.6M420.2 245.5h.6M419.1 240.7h.6M423.8 234.6h.6M440.1 239.3h.6M426.3 243.4h.6M429.3 240.7h.6M435.7 236.8h.6M427.2 243.1h.6M428.6 241.4h.6M422.7 232.6h.6M415.7 237.9h.6M432.3 232.8h.6M430.0 244.6h.6M420.8 238.6h.6M435.3 239.2h.6M428.3 233.0h.6M436.7 241.6h.6M428.2 234.2h.6M427.8 234.2h.6M421.9 232.8h.6M430.8 241.5h.6M431.9 243.8h.6M427.4 240.5h.6M426.8 244.5h.6M416.1 242.9h.6M411.1 236.4h.6M427.2 237.3h.6M435.3 239.3h.6M415.5 237.8h.6M418.8 243.1h.6M416.6 245.5h.6M415.7 242.2h.6M424.6 244.7h.6M423.6 242.6h.6M435.6 238.9h.6M422.1 245.4h.6M425.3 238.3h.6M432.2 239.4h.6M415.8 234.7h.6M423.0 236.7h.6M432.6 239.3h.6M418.3 238.3h.6M429.4 237.8h.6M420.4 238.7h.6M427.8 234.9h.6M410.7 244.0h.6M438.6 244.0h.6M415.7 247.7h.6M419.1 244.5h.6M424.9 237.3h.6M417.2 232.0h.6M437.5 237.1h.6M427.5 237.7h.6M440.0 240.0h.6M425.1 235.1h.6M423.4 239.7h.6M422.6 237.4h.6M422.5 236.6h.6M438.1 245.2h.6M431.7 243.9h.6M430.5 241.0h.6M432.9 236.9h.6M434.4 235.0h.6M415.8 237.2h.6M425.1 240.5h.6M426.0 237.8h.6M437.9 239.2h.6M426.5 235.6h.6M423.7 236.6h.6M430.4 244.1h.6M438.2 234.9h.6M425.3 240.9h.6M426.9 241.3h.6M415.3 239.0h.6M419.3 238.6h.6M419.7 247.0h.6M423.3 243.3h.6M422.7 242.2h.6M425.1 236.7h.6M426.1 240.0h.6M426.9 243.1h.6M418.4 243.2h.6M419.6 239.0h.6M425.4 239.7h.6M430.7 245.4h.6M412.4 237.3h.6M410.7 233.9h.6M440.7 234.2h.6M432.5 235.9h.6M420.6 232.4h.6M422.2 240.6h.6M430.7 242.1h.6M423.9 244.5h.6M426.4 238.3h.6M421.6 232.7h.6M426.3 236.9h.6M423.8 240.4h.6M417.1 233.1h.6M437.4 237.5h.6M428.7 236.9h.6M430.7 241.3h.6M423.1 238.6h.6M436.3 236.8h.6M424.9 241.6h.6M429.0 238.7h.6M417.4 236.8h.6M427.4 240.0h.6M424.4 238.1h.6M420.4 241.8h.6M421.8 240.0h.6M435.3 238.9h.6M425.5 238.7h.6M419.8 236.6h.6M414.4 243.2h.6M427.8 236.8h.6M415.4 237.5h.6M415.9 238.2h.6M413.6 237.1h.6M410.9 237.1h.6M412.6 239.0h.6M432.8 239.7h.6M430.9 235.9h.6M421.1 240.7h.6M429.1 240.8h.6M421.8 239.7h.6M427.7 237.5h.6M419.4 241.1h.6M414.9 237.6h.6M429.1 239.4h.6M421.5 239.3h.6M424.6 236.6h.6M437.1 246.0h.6M426.2 244.8h.6M422.1 240.2h.6M427.1 239.0h.6M412.7 240.9h.6M421.6 244.0h.6M431.1 236.2h.6M422.9 231.2h.6M416.8 240.8h.6M425.2 233.6h.6M433.4 246.4h.6M419.7 236.5h.6M425.0 242.7h.6M423.6 230.2h.6M430.5 241.4h.6M415.4 237.0h.6M423.7 242.6h.6M430.8 240.7h.6M432.3 241.2h.6M432.6 235.0h.6M422.4 239.2h.6M422.8 244.4h.6M418.7 235.6h.6M435.3 240.6h.6M435.3 239.4h.6M417.1 240.3h.6M420.9 240.8h.6M434.2 239.3h.6M435.1 240.2h.6M427.9 242.1h.6M415.8 242.1h.6M425.8 239.2h.6M432.8 240.1h.6M413.6 234.1h.6M417.9 237.1h.6M430.8 238.6h.6M427.7 244.1h.6M425.2 229.7h.6M413.0 232.9h.6M428.7 240.3h.6M423.5 235.4h.6M424.0 243.0h.6M423.5 239.0h.6M428.5 235.3h.6M435.3 244.1h.6M421.3 240.3h.6M418.5 243.2h.6M433.3 237.9h.6M418.2 243.0h.6M419.2 238.5h.6M415.1 234.6h.6M425.3 236.6h.6M423.9 240.6h.6M427.5 243.2h.6M434.3 235.7h.6M415.0 234.4h.6M430.9 242.2h.6M433.1 239.5h.6M429.7 240.7h.6M430.0 237.5h.6M434.6 240.4h.6M414.0 237.2h.6M413.9 246.0h.6M424.0 237.9h.6M424.3 237.1h.6M421.7 237.1h.6M426.3 240.4h.6M433.6 242.0h.6M421.5 236.4h.6M423.6 235.0h.6M414.9 236.5h.6M422.0 240.6h.6M421.4 244.1h.6M429.5 242.4h.6M423.0 238.3h.6M417.3 241.9h.6M416.1 236.8h.6M422.8 240.5h.6M428.0 240.6h.6M433.4 238.3h.6M430.8 237.2h.6M419.1 241.7h.6M425.1 239.3h.6M435.1 246.0h.6M421.1 241.9h.6M420.3 236.6h.6M430.8 244.8h.6M415.2 236.4h.6M431.9 243.9h.6M421.8 236.1h.6M424.0 240.1h.6M432.0 240.1h.6M424.2 229.5h.6M416.6 238.5h.6M420.4 236.5h.6M430.0 235.5h.6M431.8 241.2h.6M429.9 232.4h.6M424.8 239.8h.6M415.2 236.3h.6M433.5 235.7h.6M427.3 233.3h.6M417.9 237.9h.6M435.1 233.9h.6M436.0 237.3h.6M415.8 241.1h.6M414.6 237.7h.6M422.0 237.6h.6M435.6 233.8h.6M419.1 237.1h.6M415.3 234.8h.6M427.3 239.8h.6M413.0 239.4h.6M421.6 242.9h.6M411.3 240.1h.6M412.8 236.5h.6M433.5 238.9h.6M423.3 241.2h.6M418.1 242.6h.6M422.9 238.3h.6M418.4 232.6h.6M420.3 242.0h.6M419.3 239.8h.6M426.0 241.0h.6M424.9 236.8h.6M436.8 242.3h.6M431.0 238.5h.6M421.5 240.9h.6M439.2 243.8h.6M418.9 232.5h.6M415.9 244.8h.6M416.9 240.6h.6M418.3 236.6h.6M432.2 232.9h.6M417.2 235.7h.6M426.3 239.1h.6M416.8 236.8h.6M422.7 237.0h.6M420.5 241.7h.6M411.9 234.3h.6M435.7 239.0h.6M438.4 239.2h.6M425.0 233.9h.6M424.3 240.7h.6M434.4 243.9h.6M419.8 241.2h.6M424.0 236.9h.6M436.9 237.1h.6M434.0 237.1h.6M423.6 238.9h.6M426.7 241.9h.6M430.3 236.2h.6M421.8 244.3h.6M438.5 234.2h.6M410.9 236.7h.6M429.4 238.9h.6M421.4 237.3h.6M411.4 245.8h.6M421.7 233.8h.6M417.4 239.0h.6M427.2 236.6h.6M419.8 244.9h.6M411.6 246.8h.6M425.4 236.8h.6M428.6 235.2h.6M419.4 247.0h.6M434.5 242.0h.6M439.1 234.6h.6M422.7 240.0h.6M429.0 237.4h.6M423.6 238.9h.6M418.2 228.3h.6M436.1 243.2h.6M430.3 240.4h.6M417.9 243.6h.6M423.6 235.3h.6M421.7 240.1h.6M414.4 239.1h.6M426.2 244.7h.6M430.3 239.0h.6M417.1 236.2h.6M434.6 238.9h.6M412.6 237.8h.6M416.7 242.8h.6M419.1 241.5h.6M434.6 244.3h.6M418.0 240.2h.6M423.4 239.9h.6M421.4 237.9h.6M422.8 247.8h.6M410.9 246.1h.6M425.3 237.6h.6M426.5 236.5h.6M436.9 240.6h.6M439.6 236.4h.6M421.6 235.4h.6M416.7 241.4h.6M427.0 243.8h.6M419.5 241.2h.6M429.3 238.1h.6M426.4 234.2h.6M428.3 243.9h.6M431.0 245.8h.6M424.0 243.7h.6M413.7 249.9h.6M432.1 242.8h.6M429.6 238.5h.6M434.6 239.3h.6M424.2 236.7h.6M423.7 242.3h.6M415.3 240.0h.6M411.4 232.5h.6M429.4 238.0h.6M425.3 237.6h.6M412.2 231.4h.6M432.4 239.5h.6M431.0 235.6h.6M430.6 243.3h.6M430.9 235.4h.6M410.4 239.0h.6M436.5 233.9h.6M419.5 239.2h.6M417.2 240.3h.6M438.4 234.7h.6M417.6 236.9h.6M421.3 239.2h.6M422.4 243.8h.6M428.0 240.6h.6M431.8 242.5h.6M431.2 247.1h.6M414.1 237.9h.6M437.6 234.5h.6M425.4 232.0h.6M429.8 243.1h.6M427.6 239.0h.6M420.9 243.7h.6M427.6 231.3h.6M417.3 242.2h.6M435.6 231.4h.6M424.6 239.7h.6M438.1 240.4h.6M433.5 237.0h.6M415.7 237.1h.6M422.6 238.4h.6M429.0 232.9h.6M436.6 236.0h.6M420.4 241.5h.6M416.0 234.2h.6M431.3 239.8h.6M425.5 242.0h.6M420.4 232.6h.6M429.3 241.8h.6M420.9 235.1h.6M416.4 233.1h.6M426.0 243.2h.6M416.3 244.6h.6M426.0 238.3h.6M424.9 231.6h.6M428.5 242.4h.6M415.2 237.8h.6M429.3 243.0h.6M427.4 238.0h.6M419.9 234.6h.6M431.1 244.2h.6M417.3 239.6h.6M432.5 242.9h.6M419.5 237.7h.6M431.5 236.8h.6M424.3 239.7h.6M418.1 242.0h.6M433.7 241.1h.6M411.1 239.8h.6M435.4 244.9h.6M423.3 238.9h.6M421.9 234.3h.6M423.4 241.8h.6M440.1 242.9h.6M419.0 237.4h.6M412.3 243.5h.6M420.7 239.9h.6M437.8 232.2h.6M434.3 242.1h.6M431.9 240.8h.6M417.6 236.3h.6M438.4 239.3h.6M422.0 238.1h.6M428.7 242.3h.6M430.2 240.7h.6M430.5 240.3h.6M435.0 248.2h.6M435.9 241.8h.6M419.1 240.9h.6M413.1 236.8h.6M422.2 237.1h.6M427.9 243.5h.6M425.7 238.2h.6M427.0 245.1h.6M427.4 244.2h.6M436.6 243.1h.6M423.2 236.4h.6M412.5 240.2h.6M418.5 234.6h.6M415.0 237.4h.6M430.9 231.2h.6M420.1 235.6h.6M423.0 238.8h.6M426.5 236.1h.6M426.1 240.6h.6M418.5 243.1h.6M423.0 243.7h.6M422.9 241.7h.6M419.7 245.8h.6M411.2 243.8h.6M423.7 231.2h.6M435.7 242.2h.6M424.6 242.9h.6M422.3 242.2h.6M431.7 234.4h.6M433.8 236.0h.6M418.0 236.2h.6M431.3 237.7h.6M417.7 234.3h.6M433.5 242.5h.6M435.0 235.5h.6M432.2 238.8h.6M428.4 237.4h.6M435.4 240.8h.6M417.9 239.9h.6M412.0 238.1h.6M421.8 235.7h.6M425.4 243.7h.6M440.6 231.8h.6M437.5 237.8h.6M420.1 240.6h.6M426.0 234.0h.6M440.8 241.6h.6M435.6 241.4h.6M411.1 232.3h.6M420.6 241.4h.6M422.4 237.5h.6M433.4 237.4h.6M436.7 239.3h.6M439.2 243.3h.6M437.7 245.4h.6M422.5 242.7h.6M421.6 237.9h.6M429.4 239.6h.6M426.2 231.7h.6M426.6 236.8h.6M415.6 240.2h.6M432.8 235.7h.6M434.4 235.9h.6M436.7 242.2h.6M428.6 239.2h.6M413.3 241.5h.6M419.7 238.6h.6M421.9 238.1h.6M430.5 236.2h.6M413.7 245.3h.6M416.1 239.6h.6M432.9 241.6h.6M433.8 242.4h.6M415.8 235.2h.6M429.8 240.6h.6M425.4 233.7h.6M433.8 236.5h.6M420.1 238.0h.6M439.9 236.9h.6M430.5 243.1h.6M411.3 238.4h.6M423.8 234.4h.6M423.8 238.1h.6M419.5 236.3h.6M430.1 236.8h.6M422.6 237.0h.6M426.7 237.1h.6M429.2 244.8h.6M418.7 242.0h.6M422.9 235.9h.6M423.7 230.4h.6M421.1 239.7h.6M416.5 245.4h.6M427.3 243.4h.6M440.6 243.7h.6M429.2 240.7h.6M421.9 242.9h.6M421.0 242.5h.6M410.1 245.4h.6M420.0 241.3h.6M416.7 244.9h.6M431.6 237.5h.6M426.2 235.4h.6M432.8 238.5h.6M429.7 241.2h.6M434.3 240.4h.6M422.9 240.7h.6M419.3 234.4h.6M430.2 239.0h.6M415.3 236.1h.6M430.2 241.1h.6M418.5 243.5h.6M430.1 238.3h.6M414.6 247.2h.6M421.2 237.9h.6M422.6 240.3h.6M431.9 238.3h.6M423.8 247.0h.6M426.7 241.0h.6M426.1 240.3h.6M430.8 244.0h.6M434.8 243.5h.6M432.9 243.0h.6M421.4 238.5h.6M423.5 237.9h.6M433.3 240.6h.6M435.6 243.5h.6M411.6 241.4h.6M421.9 240.2h.6M433.0 237.1h.6M411.9 239.4h.6M429.9 237.5h.6M419.2 239.5h.6M427.5 244.2h.6M421.6 246.9h.6M430.6 235.9h.6M411.8 238.4h.6M421.9 239.8h.6M426.7 239.4h.6M420.5 238.5h.6M427.5 241.3h.6M436.3 247.2h.6M432.7 242.6h.6M411.4 237.5h.6M415.1 235.5h.6M426.6 239.9h.6M434.1 244.3h.6M423.4 239.9h.6M430.6 238.3h.6M417.1 243.4h.6M430.1 234.0h.6M424.7 237.4h.6M429.7 238.4h.6M414.1 244.2h.6M420.1 242.2h.6M419.9 240.2h.6M421.7 240.3h.6M427.6 240.0h.6M412.5 240.5h.6M424.0 238.1h.6M410.4 237.2h.6M415.6 241.4h.6M425.6 240.3h.6M426.6 245.7h.6M431.3 235.7h.6M424.7 237.6h.6M423.8 236.8h.6M410.0 245.0h.6M415.2 240.5h.6M434.7 231.4h.6M426.1 241.8h.6M439.1 241.0h.6M427.3 236.9h.6M421.1 241.1h.6M430.2 243.0h.6M425.3 242.0h.6M412.9 238.9h.6M417.1 239.4h.6M418.3 240.8h.6M418.1 240.2h.6M424.4 239.6h.6M428.5 242.7h.6M424.2 238.4h.6M437.7 245.0h.6M420.0 239.4h.6M417.3 240.6h.6M414.2 235.3h.6M417.8 237.3h.6M420.4 240.9h.6M425.3 244.8h.6M424.2 240.1h.6M427.5 241.4h.6M420.5 230.5h.6M419.5 241.2h.6M425.1 238.5h.6M419.4 241.9h.6M430.8 240.7h.6M421.7 240.1h.6M414.7 233.0h.6M421.0 242.6h.6M434.7 238.1h.6M422.9 238.2h.6M427.9 239.7h.6M427.7 245.7h.6M428.4 241.7h.6M424.1 243.6h.6M421.1 238.2h.6M437.6 236.3h.6M430.1 238.2h.6M424.3 239.9h.6M428.9 242.3h.6M420.0 232.7h.6M421.0 244.8h.6M422.8 245.1h.6M422.0 245.5h.6M428.2 241.1h.6M412.6 237.3h.6M416.1 240.9h.6M413.3 228.5h.6M420.4 238.7h.6M429.5 241.8h.6M415.0 236.4h.6M438.3 237.6h.6M418.6 243.7h.6M430.4 241.3h.6M416.6 241.6h.6M429.2 236.6h.6M427.3 235.9h.6M418.7 240.6h.6M423.8 238.7h.6M436.5 240.0h.6M419.1 234.9h.6M410.2 237.2h.6M419.3 236.2h.6M417.7 249.1h.6M431.5 247.7h.6M431.2 240.3h.6M429.2 233.5h.6M421.9 242.3h.6M417.5 245.8h.6M420.9 233.3h.6M426.9 236.8h.6M418.8 246.1h.6M431.8 237.2h.6M429.6 236.7h.6M422.2 238.7h.6M425.3 241.8h.6M419.9 246.6h.6M431.1 235.5h.6M426.6 236.5h.6M414.0 233.6h.6M432.9 237.7h.6M421.9 241.8h.6M427.6 238.3h.6M421.4 236.5h.6M426.9 239.9h.6M412.3 239.1h.6M421.1 243.0h.6M436.8 234.7h.6M427.3 237.5h.6M429.4 235.4h.6M426.4 234.0h.6M426.3 243.1h.6M430.9 243.8h.6M429.4 238.3h.6M415.7 236.8h.6M413.2 230.9h.6M415.4 243.7h.6M422.1 244.3h.6M421.7 241.0h.6M435.5 241.6h.6M429.0 238.6h.6M425.1 235.2h.6M439.5 238.1h.6M432.2 239.6h.6M416.7 234.5h.6M420.8 243.6h.6M429.3 241.2h.6M431.7 236.7h.6M420.3 242.2h.6M424.6 239.1h.6M411.1 235.8h.6M419.4 232.8h.6M424.8 242.5h.6M419.0 239.6h.6M424.5 242.4h.6M434.8 233.5h.6M423.9 238.5h.6M436.3 243.3h.6M410.3 242.2h.6M427.5 239.5h.6M417.1 243.8h.6M433.7 233.1h.6M429.3 247.8h.6M424.4 240.4h.6M432.9 238.2h.6M426.5 235.0h.6M425.1 240.3h.6M421.9 241.0h.6M419.7 235.7h.6M433.5 236.9h.6M434.1 236.5h.6M437.5 241.4h.6M440.4 233.1h.6M425.7 233.5h.6M419.0 239.4h.6M416.8 237.5h.6M419.8 243.1h.6M426.9 233.8h.6M422.2 235.0h.6M418.6 244.4h.6M428.2 242.5h.6M422.9 235.9h.6M429.6 235.6h.6M420.3 236.3h.6M425.2 238.2h.6M438.0 230.9h.6M424.3 242.4h.6M415.8 238.4h.6M425.8 237.2h.6M422.0 245.8h.6M417.0 239.6h.6M423.9 238.5h.6M417.0 241.3h.6M417.1 241.9h.6M434.3 244.0h.6M412.8 238.7h.6M410.9 237.2h.6M419.0 241.7h.6M422.2 242.2h.6M429.8 235.9h.6M433.5 243.9h.6M427.8 236.2h.6M429.9 238.1h.6M429.7 233.6h.6M418.4 245.1h.6M428.5 236.8h.6M413.2 238.1h.6M423.0 239.0h.6M414.0 248.3h.6M424.9 245.7h.6M433.5 244.4h.6M422.0 237.7h.6M415.7 234.3h.6M426.7 239.3h.6M433.7 236.8h.6M423.8 241.7h.6" stroke="#000" stroke-width=".6" opacity="0.35"/>
<path d="M415.5 242.8h.6M419.0 241.4h.6M413.4 241.0h.6M415.3 244.3h.6M423.8 239.5h.6M424.4 239.9h.6M421.9 235.8h.6M410.4 235.3h.6M417.9 237.4h.6M420.0 234.0h.6M411.7 233.5h.6M419.1 236.4h.6M424.0 244.8h.6M415.3 242.9h.6M421.4 239.0h.6M414.1 244.9h.6M419.8 239.5h.6M414.7 243.7h.6M414.7 239.6h.6M410.9 238.6h.6M414.0 241.3h.6M420.1 240.3h.6M418.2 243.4h.6M415.1 238.2h.6M424.4 240.7h.6M417.8 237.2h.6M421.4 235.8h.6M413.0 242.6h.6M416.1 236.9h.6M414.5 243.1h.6M419.9 238.1h.6M421.3 241.6h.6M415.9 239.6h.6M417.7 239.6h.6M414.0 239.3h.6M418.8 238.2h.6M414.7 235.2h.6M420.6 237.6h.6M416.9 234.0h.6M412.7 236.1h.6M417.8 237.3h.6M418.6 241.3h.6M411.6 238.7h.6M423.4 232.7h.6M417.3 240.0h.6M410.5 244.5h.6M412.3 238.6h.6M423.1 233.5h.6M419.4 241.6h.6M411.0 247.3h.6M415.8 236.2h.6M418.7 235.8h.6M412.7 242.0h.6M412.9 241.7h.6M421.6 235.4h.6M420.5 237.8h.6M422.7 233.0h.6M423.9 238.7h.6M421.8 240.4h.6M421.1 235.7h.6M417.4 233.7h.6M417.5 241.2h.6M422.9 242.0h.6M419.3 233.6h.6M411.8 237.3h.6M416.4 242.6h.6M416.1 237.1h.6M418.1 236.1h.6M412.4 238.4h.6M416.1 244.3h.6M417.7 237.2h.6M422.2 242.0h.6M418.7 237.1h.6M420.3 240.3h.6M419.8 239.6h.6M414.8 240.1h.6M417.7 240.8h.6M419.0 233.1h.6M414.0 241.7h.6M413.8 239.6h.6M423.8 246.0h.6M424.6 241.6h.6M421.4 240.9h.6M427.0 239.5h.6M412.1 232.5h.6M417.4 235.3h.6M420.4 243.7h.6M422.8 235.6h.6M416.8 240.1h.6M419.7 238.9h.6M411.7 239.6h.6M426.5 239.0h.6M423.8 238.5h.6M417.7 237.8h.6M410.7 244.8h.6M411.8 241.0h.6M416.2 238.6h.6M415.2 240.2h.6M416.1 239.5h.6M413.3 237.9h.6M416.3 242.0h.6M421.8 239.3h.6M416.6 240.8h.6M417.0 238.2h.6M422.0 230.2h.6M417.4 242.6h.6M418.3 233.2h.6M420.7 235.3h.6M424.5 238.1h.6M421.5 232.0h.6M416.0 240.1h.6M411.2 237.3h.6M416.1 237.5h.6M419.2 240.5h.6M411.6 245.3h.6M413.1 239.0h.6M417.4 237.8h.6M418.3 234.2h.6M421.8 246.3h.6M416.0 237.6h.6M418.3 238.6h.6M420.2 243.2h.6M417.1 235.4h.6M410.7 236.5h.6M414.6 239.6h.6M413.1 234.2h.6M417.7 242.4h.6M415.8 237.7h.6M421.8 239.4h.6M419.2 242.0h.6M415.7 234.3h.6M413.2 243.7h.6M422.5 239.6h.6M415.1 240.5h.6M413.2 233.6h.6M417.6 239.5h.6M423.6 239.3h.6M420.8 243.7h.6M415.6 237.5h.6M427.1 238.7h.6M422.8 234.3h.6M413.3 239.7h.6M422.6 235.6h.6M415.0 245.5h.6M423.3 241.7h.6M416.3 240.6h.6M414.9 233.1h.6M423.0 243.5h.6M415.3 240.1h.6M426.1 239.2h.6M417.0 235.9h.6M418.3 241.2h.6M412.7 241.9h.6M416.9 239.6h.6M414.0 244.2h.6M426.4 235.5h.6M417.7 239.6h.6M411.3 240.5h.6M416.7 234.5h.6M419.3 242.0h.6M415.1 241.7h.6M417.5 246.5h.6M421.0 239.2h.6M420.1 236.9h.6M418.6 243.0h.6M424.4 240.0h.6M414.8 242.4h.6M420.8 239.5h.6M416.0 240.7h.6M423.0 247.7h.6M413.2 241.3h.6M414.3 236.2h.6M414.6 239.9h.6M418.7 235.8h.6M422.7 240.5h.6M418.7 239.7h.6M419.6 245.1h.6M416.1 244.7h.6M415.6 241.1h.6M418.8 242.0h.6M421.1 240.5h.6M419.5 237.0h.6M418.8 238.0h.6M420.1 231.0h.6M418.7 237.3h.6M421.8 238.7h.6M412.9 241.1h.6M421.9 237.8h.6M418.0 244.3h.6M416.2 238.9h.6M417.7 239.9h.6M419.6 238.5h.6M420.3 241.2h.6M425.0 234.4h.6M417.4 237.8h.6M415.1 235.9h.6M416.5 238.6h.6M418.8 243.4h.6M411.5 240.7h.6M416.5 242.4h.6M417.9 234.7h.6M410.9 241.7h.6M426.3 238.8h.6M428.2 239.0h.6M415.2 239.8h.6M412.6 242.5h.6M418.3 238.6h.6M414.5 236.9h.6M418.4 234.4h.6M417.1 233.4h.6M418.8 246.2h.6M429.8 244.9h.6M419.7 237.9h.6M412.0 237.7h.6M417.0 237.9h.6M425.3 237.0h.6M422.3 239.0h.6M420.1 234.5h.6M416.5 237.6h.6M423.4 241.6h.6M418.1 232.8h.6M416.3 238.6h.6M414.9 241.2h.6M415.3 240.1h.6M422.9 244.3h.6M412.6 234.0h.6M419.5 239.4h.6M419.5 235.8h.6M420.1 238.6h.6M415.1 236.4h.6M416.4 243.0h.6M417.9 246.2h.6M414.9 243.9h.6M420.3 239.6h.6M422.3 232.4h.6M417.1 236.5h.6M415.8 240.1h.6M419.5 234.4h.6M419.6 237.5h.6M415.3 240.2h.6M418.4 242.9h.6M410.4 236.7h.6M414.9 237.4h.6M422.2 243.8h.6M424.0 243.2h.6M415.5 237.5h.6M415.7 237.5h.6M423.8 241.0h.6M419.6 243.9h.6M424.0 237.5h.6M422.9 242.6h.6M421.0 238.6h.6M419.8 240.0h.6M419.0 237.9h.6M415.8 239.5h.6M416.8 237.0h.6M414.3 238.0h.6M423.8 236.5h.6M422.1 243.2h.6M412.7 235.1h.6M417.7 237.5h.6M426.8 239.7h.6M424.6 237.9h.6M410.9 240.0h.6M420.8 241.9h.6M411.1 244.6h.6M424.6 246.9h.6M411.0 238.1h.6M425.7 238.6h.6M417.4 235.6h.6M413.4 242.1h.6M421.7 242.1h.6M415.9 240.7h.6M420.7 242.0h.6M420.3 243.1h.6M411.4 244.1h.6M412.6 236.9h.6M421.2 237.8h.6M415.1 233.9h.6M419.4 238.5h.6M414.1 229.4h.6M413.0 237.7h.6M416.3 231.1h.6M413.9 242.8h.6M416.5 243.1h.6M414.1 236.8h.6M427.6 240.0h.6M427.3 242.4h.6M414.1 240.8h.6M416.8 240.7h.6M420.6 231.5h.6M420.8 235.2h.6M418.1 238.8h.6M428.1 238.5h.6M420.4 238.7h.6M414.7 238.4h.6M418.7 244.7h.6M416.8 244.3h.6M411.4 238.2h.6M410.1 237.1h.6M423.2 239.7h.6M422.7 236.1h.6M416.1 235.3h.6M410.6 239.1h.6M428.4 235.1h.6M411.8 238.2h.6M414.4 242.1h.6M412.9 245.3h.6M425.4 239.3h.6M422.7 239.4h.6M417.9 240.0h.6M418.6 242.7h.6M422.6 235.7h.6M413.4 235.4h.6M415.0 236.0h.6M416.5 237.2h.6M415.9 235.6h.6M417.2 237.7h.6M420.0 239.4h.6M411.5 236.1h.6M418.5 237.8h.6M415.9 237.7h.6M413.2 244.7h.6M427.5 241.7h.6M420.2 240.5h.6M418.3 237.5h.6M421.7 241.8h.6M419.1 236.1h.6M416.8 236.2h.6M417.8 239.7h.6M421.9 242.7h.6M413.1 244.8h.6M413.9 238.1h.6M419.1 240.4h.6M424.0 242.2h.6M410.7 232.5h.6M413.1 241.7h.6M416.7 236.2h.6M417.1 247.6h.6M416.6 239.1h.6M410.0 233.1h.6M418.2 243.1h.6M411.1 243.6h.6M420.4 244.3h.6M414.9 236.3h.6M421.0 240.6h.6M414.1 242.3h.6M416.0 236.6h.6M417.4 236.1h.6M417.6 240.1h.6M423.3 236.2h.6M418.4 243.3h.6M421.2 237.3h.6M410.9 240.2h.6M413.4 239.4h.6M416.3 243.2h.6M411.2 238.4h.6M424.1 237.7h.6M410.5 236.4h.6M418.5 242.1h.6M418.4 234.9h.6M418.7 239.1h.6M420.4 237.5h.6M418.2 236.7h.6M417.9 241.7h.6M416.7 245.2h.6M418.4 238.5h.6M418.6 236.4h.6M414.8 239.8h.6M420.1 241.3h.6M410.9 240.2h.6M420.6 237.6h.6M414.2 238.8h.6M413.2 240.8h.6M422.9 240.5h.6M417.0 235.5h.6M414.0 237.5h.6M420.4 238.3h.6M420.6 239.9h.6M414.3 242.7h.6M418.9 240.7h.6M417.3 236.7h.6M414.3 241.4h.6M415.2 239.6h.6M420.9 238.5h.6M427.5 231.2h.6M416.9 236.6h.6M410.1 235.5h.6M410.9 239.4h.6M416.4 236.8h.6M418.9 239.0h.6M422.4 235.5h.6M416.7 244.3h.6M426.9 236.5h.6M412.1 239.8h.6M414.1 238.1h.6M420.8 244.2h.6M414.9 236.3h.6M422.1 236.0h.6M420.1 238.8h.6M412.2 243.8h.6M420.1 238.7h.6M421.0 238.7h.6M416.7 241.6h.6M415.7 248.0h.6M419.4 236.0h.6M410.0 243.1h.6M421.6 237.5h.6M424.9 238.7h.6M426.6 235.5h.6M417.5 238.9h.6M416.5 240.1h.6M411.1 235.5h.6M423.1 236.4h.6M420.8 239.8h.6M420.1 237.1h.6M413.2 237.8h.6M427.5 243.0h.6M413.5 243.7h.6M420.0 237.6h.6M413.8 242.3h.6M412.9 233.8h.6M417.9 237.5h.6M411.7 235.4h.6M412.3 238.6h.6M413.8 236.4h.6M420.4 239.2h.6M421.3 243.3h.6M414.0 240.2h.6M419.8 248.7h.6M417.0 233.9h.6M411.2 236.2h.6M418.8 246.2h.6M422.5 237.7h.6M415.8 235.4h.6M412.7 233.9h.6M422.6 241.4h.6M421.5 248.1h.6M415.5 241.4h.6M411.2 235.7h.6M417.3 241.5h.6M414.9 248.3h.6M413.9 238.4h.6M424.5 238.9h.6M418.5 240.9h.6M416.4 237.7h.6M417.8 237.3h.6M416.3 240.6h.6M418.7 239.5h.6M415.6 240.1h.6" stroke="#000" stroke-width=".6" opacity="0.35"/>
<path d="M396.2 245.2h.6M400.1 244.2h.6M400.3 247.0h.6M398.1 245.6h.6M403.7 245.4h.6M410.2 243.4h.6M398.3 240.1h.6M403.9 247.3h.6M409.7 246.1h.6M409.4 241.5h.6M402.7 247.0h.6M399.4 250.1h.6M399.0 245.3h.6M406.1 247.1h.6M413.2 241.5h.6M405.0 243.6h.6M404.5 241.0h.6M395.0 246.0h.6M406.5 242.5h.6M405.1 241.1h.6M397.5 238.0h.6M399.6 246.6h.6M405.0 243.7h.6M399.8 245.8h.6M400.9 245.3h.6M395.5 239.9h.6M393.8 248.5h.6M401.0 246.7h.6M407.2 241.9h.6M403.2 245.0h.6M401.3 243.5h.6M401.0 243.6h.6M409.1 240.5h.6M407.3 243.8h.6M396.6 245.5h.6M400.6 248.1h.6M398.9 242.4h.6M397.8 245.6h.6M406.4 247.5h.6M406.6 244.5h.6M399.7 244.5h.6M403.0 240.4h.6M403.9 240.2h.6M401.0 243.7h.6M393.9 240.2h.6M399.2 240.5h.6M402.5 247.6h.6M406.0 244.3h.6M401.2 245.7h.6M405.1 248.9h.6M405.2 245.8h.6M395.4 245.4h.6M398.6 241.9h.6M403.0 248.0h.6M408.2 241.7h.6M396.0 245.1h.6M403.7 243.9h.6M405.0 242.9h.6M399.7 244.9h.6M392.7 247.4h.6M403.9 247.5h.6M396.5 244.3h.6M395.6 241.0h.6M404.9 241.9h.6M400.6 246.3h.6M399.7 244.6h.6M399.0 243.5h.6M403.6 247.7h.6M400.1 244.3h.6M399.4 244.0h.6M408.4 240.1h.6M401.4 244.1h.6M402.6 244.6h.6M407.8 243.5h.6M407.5 242.3h.6M405.6 249.1h.6M399.9 242.4h.6M404.7 247.1h.6M402.0 244.1h.6M397.1 250.8h.6M399.9 242.7h.6M409.9 242.4h.6M404.7 245.3h.6M397.2 244.1h.6M407.4 246.1h.6M400.6 242.3h.6M402.8 242.4h.6M403.2 247.2h.6M400.8 247.9h.6M404.7 244.0h.6M402.8 249.2h.6M409.7 245.1h.6M406.8 245.1h.6M400.4 244.0h.6M406.6 240.8h.6M404.7 246.0h.6M405.7 243.5h.6M405.0 245.3h.6M404.7 246.5h.6M398.7 241.2h.6M405.5 245.8h.6M398.3 241.4h.6M398.3 244.7h.6M400.6 244.1h.6M410.6 240.3h.6M408.1 243.4h.6M397.4 245.6h.6M403.7 247.5h.6M398.5 239.5h.6M405.3 244.6h.6M397.7 242.1h.6M403.3 242.3h.6M404.1 246.7h.6M394.0 247.1h.6M401.1 246.2h.6M403.7 244.4h.6M394.4 246.2h.6M396.7 242.4h.6M406.9 247.6h.6M404.6 246.8h.6M404.0 247.4h.6M403.5 250.2h.6M400.7 242.6h.6M402.3 247.3h.6M395.3 248.0h.6M403.2 248.7h.6M395.7 248.1h.6M394.3 243.8h.6M398.4 247.4h.6M408.7 239.9h.6M403.8 248.1h.6M405.0 238.3h.6M399.2 242.7h.6M403.6 238.3h.6M400.9 242.7h.6M405.4 249.6h.6M398.9 238.8h.6M400.9 244.6h.6M397.3 247.1h.6M406.2 237.9h.6M395.7 241.0h.6M400.2 243.4h.6M398.8 245.9h.6M403.4 247.2h.6M403.0 245.4h.6M407.0 251.6h.6M405.7 248.5h.6M400.2 243.0h.6M400.0 245.6h.6M393.2 247.4h.6M402.9 245.1h.6M399.9 241.9h.6M407.3 244.4h.6M403.5 241.7h.6M403.1 246.9h.6M398.2 244.7h.6M405.2 247.8h.6M407.7 243.2h.6M396.7 236.8h.6M401.3 249.3h.6M407.3 243.7h.6M404.9 248.9h.6M397.8 245.2h.6M401.5 245.5h.6M408.5 245.9h.6M403.7 248.1h.6M406.6 245.9h.6M404.6 246.5h.6M404.5 247.1h.6M405.7 248.3h.6M401.9 249.3h.6M402.2 245.7h.6M403.7 249.1h.6M402.2 242.3h.6M402.8 239.9h.6M400.8 246.2h.6M403.2 245.9h.6M403.0 239.4h.6M400.4 246.6h.6M404.1 242.6h.6M407.6 246.4h.6M405.3 242.8h.6M405.7 246.1h.6M409.7 244.8h.6M400.0 243.6h.6M411.4 244.2h.6M398.1 239.2h.6M400.4 242.5h.6M402.6 247.1h.6M401.9 250.2h.6M406.3 247.9h.6M406.8 246.1h.6M406.5 245.5h.6M403.4 244.3h.6M399.9 245.3h.6M398.9 247.3h.6M409.4 241.8h.6M409.0 244.6h.6M406.3 245.7h.6M404.4 241.9h.6M401.1 243.3h.6M401.1 244.4h.6M398.6 243.8h.6M397.4 247.1h.6M405.6 238.3h.6M404.6 245.7h.6M399.3 247.7h.6M398.2 246.4h.6M401.1 246.6h.6M401.0 246.5h.6M403.3 249.3h.6M407.6 247.8h.6M399.2 244.0h.6M411.2 241.0h.6M403.6 244.0h.6M408.7 243.7h.6M407.4 240.7h.6M399.3 242.4h.6M398.4 243.7h.6M396.1 246.0h.6M397.3 248.2h.6M404.4 247.9h.6M395.3 249.9h.6M393.6 240.8h.6M394.9 244.7h.6M395.1 243.8h.6M399.5 240.8h.6M404.2 244.0h.6M405.2 242.4h.6M398.4 243.3h.6M408.9 242.2h.6M399.3 246.9h.6M397.8 237.3h.6M400.9 244.2h.6M397.8 243.1h.6M403.5 239.6h.6M404.1 247.7h.6M400.8 241.7h.6M403.7 248.7h.6M401.1 246.2h.6M405.8 249.7h.6M406.5 242.2h.6M396.9 245.2h.6M406.5 243.9h.6M402.6 244.5h.6M402.0 241.8h.6M402.7 247.9h.6M399.3 248.3h.6M395.8 241.2h.6M399.4 247.9h.6M406.4 245.4h.6M405.7 249.4h.6M403.5 245.0h.6M400.6 244.6h.6M400.4 246.3h.6M402.5 243.5h.6M406.3 241.8h.6M403.1 243.3h.6M400.1 248.9h.6M402.3 249.4h.6M404.2 241.7h.6M404.1 244.2h.6M404.2 249.0h.6M399.0 243.0h.6M400.8 243.4h.6M405.4 243.8h.6M402.4 242.2h.6M403.0 242.0h.6M397.9 239.0h.6M402.6 241.2h.6M403.9 244.3h.6M399.4 245.1h.6M397.9 246.0h.6M395.0 243.0h.6M401.5 243.0h.6M402.9 241.7h.6M401.6 239.9h.6M391.2 249.7h.6M401.2 239.0h.6M400.1 243.3h.6M394.8 249.5h.6M402.9 245.1h.6M398.6 245.9h.6M404.1 243.6h.6M392.8 247.9h.6M402.9 243.1h.6M404.8 243.7h.6M400.9 245.2h.6M404.4 247.7h.6M409.5 246.8h.6M399.0 238.9h.6M403.9 239.9h.6M396.7 239.6h.6M404.0 248.5h.6M400.8 239.5h.6M396.4 239.6h.6M409.5 242.8h.6M396.2 251.0h.6M405.1 244.9h.6M395.8 241.2h.6M401.8 242.0h.6M401.5 241.6h.6M402.0 237.3h.6M410.6 241.3h.6M402.4 241.7h.6M403.5 240.5h.6M397.5 249.0h.6M401.4 246.2h.6M397.1 246.6h.6M408.8 246.4h.6M400.1 242.7h.6M397.7 244.7h.6M400.4 241.3h.6M397.2 241.0h.6M395.5 244.3h.6M393.2 247.0h.6M405.5 248.0h.6M399.0 243.7h.6M400.7 243.5h.6M401.1 242.1h.6M401.8 247.4h.6M408.3 248.4h.6M403.6 248.2h.6M401.4 247.1h.6M399.7 241.7h.6M397.6 245.5h.6M412.8 244.8h.6M396.9 244.7h.6M410.2 244.3h.6M400.2 247.0h.6M411.1 247.7h.6M399.2 246.0h.6M400.9 242.8h.6M403.6 245.5h.6M401.3 240.8h.6M402.4 246.3h.6M395.0 245.1h.6M402.0 248.3h.6M404.7 240.7h.6M405.5 240.9h.6M398.8 239.5h.6M398.2 237.6h.6M397.9 241.3h.6M401.5 244.2h.6M401.5 243.5h.6M401.9 243.6h.6M405.4 245.6h.6M403.3 250.0h.6" stroke="#000" stroke-width=".6" opacity="0.35"/>
<ellipse cx="424" cy="239.3" rx="12.5" ry="4" fill="#000" opacity="0.2" filter="url(#b15)"/>
<path d="M404.0 244.5h.6M401.4 225.1h.6M399.6 238.3h.6M400.7 234.6h.6M402.6 243.0h.6M400.0 243.5h.6M403.2 235.0h.6M409.3 237.9h.6M407.7 235.1h.6M397.4 235.9h.6M405.0 243.4h.6M396.6 231.9h.6M402.5 242.7h.6M402.6 226.7h.6M404.0 254.6h.6M411.5 237.6h.6M406.5 242.0h.6M402.0 237.6h.6M397.0 230.7h.6M406.2 243.7h.6M405.0 237.1h.6M404.7 237.0h.6M388.3 232.7h.6M406.3 236.5h.6M405.9 223.5h.6M387.9 234.5h.6M397.8 247.3h.6M412.6 246.5h.6M400.5 244.3h.6M413.8 230.2h.6M399.3 244.1h.6M407.7 234.2h.6M405.1 241.1h.6M394.9 244.0h.6M404.1 242.7h.6M407.3 235.3h.6M399.7 231.7h.6M401.6 240.3h.6M406.4 238.6h.6M400.8 235.9h.6M398.8 233.4h.6M403.0 235.3h.6M397.9 232.5h.6M409.7 244.0h.6M400.3 246.0h.6M407.3 242.9h.6M403.2 236.7h.6M405.9 225.0h.6M409.5 242.3h.6M398.4 246.0h.6M404.9 242.3h.6M398.6 232.3h.6M409.9 240.8h.6M408.6 238.7h.6M402.0 227.1h.6M411.4 231.2h.6M398.3 225.9h.6M398.9 247.6h.6M403.7 228.1h.6M393.3 243.2h.6M406.7 235.3h.6M404.1 234.5h.6M408.5 235.7h.6M405.5 231.7h.6M409.4 234.7h.6M402.3 240.5h.6M405.1 238.8h.6M401.8 243.9h.6M411.3 238.5h.6M403.9 244.7h.6M414.9 235.9h.6M398.6 235.2h.6M399.5 239.9h.6M403.1 245.6h.6M409.6 228.0h.6M406.2 231.5h.6M401.1 228.4h.6M404.2 244.0h.6M403.6 240.9h.6M396.2 237.9h.6M403.2 238.5h.6M408.3 232.6h.6M407.0 240.4h.6M403.9 241.2h.6M403.9 230.4h.6M411.7 250.9h.6M403.5 241.6h.6M398.3 259.9h.6M397.8 247.3h.6M405.3 251.3h.6M402.8 237.3h.6M401.7 236.9h.6M401.2 239.4h.6M410.1 234.2h.6M398.5 239.5h.6M405.1 238.7h.6M402.5 235.1h.6M411.7 236.3h.6M407.4 239.4h.6M405.0 222.6h.6M395.9 227.7h.6M403.9 240.9h.6M404.3 233.6h.6M412.1 240.7h.6M392.9 238.1h.6M405.3 239.0h.6M403.8 239.6h.6M405.4 238.9h.6M408.9 245.2h.6M404.3 237.1h.6M398.9 241.0h.6M401.7 242.1h.6M410.6 235.7h.6M403.7 238.1h.6M406.1 232.8h.6M407.8 251.4h.6M397.1 241.7h.6M405.4 247.6h.6M412.4 240.0h.6M405.2 240.5h.6M401.1 246.4h.6M396.9 243.9h.6M399.0 235.8h.6M401.2 243.2h.6M405.4 229.7h.6M396.8 244.8h.6M408.3 234.3h.6M408.4 236.5h.6M398.3 235.0h.6M408.3 235.2h.6M390.4 236.0h.6M394.7 245.3h.6M400.8 224.8h.6M409.4 245.2h.6M403.7 241.8h.6M397.8 234.8h.6M405.9 240.0h.6M412.9 240.8h.6M402.4 247.9h.6M412.4 236.6h.6M406.6 248.4h.6M404.7 238.2h.6M407.2 241.5h.6M408.0 226.9h.6M401.5 246.8h.6M408.7 231.7h.6M395.9 241.0h.6M401.4 245.3h.6M402.6 240.5h.6M399.9 235.7h.6M410.6 225.7h.6M403.6 226.0h.6M408.3 247.6h.6M416.7 245.9h.6M409.0 234.9h.6M396.0 237.4h.6M401.2 249.5h.6M401.7 240.6h.6M395.0 246.0h.6M407.6 245.6h.6M401.2 234.5h.6M404.7 243.2h.6M386.3 236.5h.6M409.0 249.1h.6M389.2 229.8h.6M404.0 236.0h.6M409.4 234.7h.6M397.7 231.8h.6M405.0 236.4h.6M404.3 238.9h.6M402.3 233.1h.6M409.9 246.0h.6M405.3 229.2h.6M401.6 238.9h.6M403.6 241.9h.6M402.4 243.9h.6M403.7 228.7h.6M405.0 227.3h.6M405.0 233.1h.6M414.1 238.2h.6M400.0 242.3h.6M398.9 230.3h.6M399.6 238.6h.6M407.6 234.5h.6M401.7 233.8h.6M397.9 225.7h.6M396.9 238.5h.6M396.6 245.1h.6M407.1 247.4h.6M403.5 236.7h.6M405.3 238.4h.6M403.0 247.0h.6M407.2 237.1h.6M405.9 241.4h.6M402.5 250.4h.6M410.0 236.2h.6M398.9 241.6h.6M402.8 241.2h.6M404.1 240.5h.6M399.8 235.0h.6M403.1 238.3h.6M401.9 237.2h.6M403.0 240.3h.6M406.6 240.4h.6M403.4 225.4h.6M401.6 245.1h.6M404.2 250.8h.6M398.3 230.3h.6M400.7 235.6h.6M404.2 237.5h.6M408.3 230.1h.6M410.6 238.5h.6M409.0 238.4h.6M400.0 230.4h.6M402.8 239.6h.6M403.5 230.6h.6M412.1 242.8h.6M403.8 237.8h.6M402.4 241.5h.6M407.2 242.0h.6M405.6 253.8h.6M401.1 240.3h.6M402.5 235.9h.6M402.4 235.3h.6M402.2 238.0h.6M398.6 249.3h.6M399.1 233.1h.6M404.4 235.5h.6M401.6 245.0h.6M408.2 239.4h.6M415.1 238.3h.6M410.6 234.9h.6M398.7 236.2h.6M406.6 241.7h.6M407.0 239.3h.6M404.9 237.2h.6M397.8 239.8h.6M396.9 247.9h.6M398.5 240.1h.6M393.7 227.7h.6M408.9 244.4h.6M398.8 233.3h.6M405.7 222.9h.6M406.9 236.8h.6M404.4 227.5h.6M401.6 242.4h.6M406.7 241.2h.6M403.3 230.6h.6M399.7 243.7h.6M401.8 232.4h.6M402.0 244.0h.6M410.4 238.0h.6M400.0 233.5h.6M399.8 237.7h.6M396.6 241.6h.6M400.5 240.2h.6M400.5 237.1h.6M395.6 232.0h.6M403.4 235.6h.6M410.6 238.7h.6M401.9 235.5h.6M398.5 246.6h.6M392.1 237.7h.6M403.4 236.6h.6M404.7 241.0h.6M404.0 251.1h.6M401.2 239.5h.6M402.0 248.6h.6M408.4 244.9h.6M403.7 242.9h.6M398.2 236.3h.6M394.8 231.1h.6M403.7 236.3h.6M397.1 219.8h.6M407.0 231.4h.6M398.8 237.5h.6M411.4 243.5h.6M407.0 236.9h.6M399.2 222.9h.6M400.0 237.1h.6M407.7 243.3h.6M412.6 247.8h.6M396.7 237.2h.6M404.4 241.1h.6M403.9 227.9h.6M402.1 246.0h.6M396.6 233.5h.6M408.0 248.6h.6M396.7 243.9h.6M404.4 234.1h.6M396.8 237.0h.6M411.5 234.0h.6M401.0 229.3h.6M406.8 233.8h.6M405.8 249.2h.6M410.6 235.4h.6M405.7 240.3h.6M403.9 223.6h.6M402.4 236.6h.6M414.0 233.4h.6M394.6 240.9h.6M407.6 236.0h.6M404.5 238.9h.6M402.8 251.5h.6M401.3 226.8h.6M395.6 234.1h.6M401.4 236.2h.6M412.7 240.3h.6M389.3 235.4h.6M403.3 240.1h.6M409.8 232.8h.6M414.5 227.9h.6M401.9 235.7h.6M393.7 244.1h.6M403.8 243.9h.6M401.0 227.6h.6M409.2 241.0h.6M406.5 237.8h.6M391.2 239.1h.6M411.6 239.4h.6M394.4 237.9h.6M412.5 246.0h.6M397.5 241.2h.6M399.6 255.6h.6M405.4 232.7h.6M408.6 248.3h.6M410.5 223.9h.6M409.7 236.9h.6M412.8 249.7h.6M405.6 243.7h.6M400.7 246.5h.6M408.1 233.5h.6M399.7 246.2h.6M403.8 239.5h.6M399.1 232.8h.6M415.8 243.2h.6M403.2 245.9h.6M407.0 242.9h.6M399.2 241.4h.6M402.9 231.2h.6M391.4 242.3h.6M393.4 241.5h.6M394.1 237.0h.6M404.7 236.7h.6M411.3 241.3h.6M402.9 238.1h.6M399.9 234.8h.6M393.8 247.9h.6M406.5 234.8h.6M409.0 238.5h.6M400.0 225.1h.6M393.4 244.7h.6M404.1 232.7h.6M392.0 243.2h.6M413.6 243.6h.6M405.8 227.7h.6M406.7 230.8h.6M398.1 239.9h.6M395.7 236.8h.6M395.7 227.7h.6M400.1 240.1h.6M401.1 237.0h.6M401.1 238.5h.6M407.7 252.0h.6M397.7 244.8h.6M401.7 237.6h.6M405.2 244.8h.6M400.9 243.1h.6M401.6 234.9h.6M412.1 246.0h.6M400.0 235.3h.6M404.4 250.3h.6M399.7 246.9h.6M406.5 226.7h.6M400.4 237.8h.6M404.0 249.1h.6M406.6 250.3h.6M394.9 236.0h.6M403.9 235.4h.6M402.6 232.5h.6M398.8 234.6h.6M405.5 242.5h.6M400.6 231.8h.6M403.7 247.1h.6M399.6 227.9h.6M408.9 254.8h.6M409.2 235.0h.6M408.5 240.0h.6M402.0 234.8h.6M405.4 243.8h.6M407.5 229.9h.6M404.1 242.7h.6M403.4 237.6h.6M408.4 244.9h.6M405.4 235.4h.6M402.1 237.4h.6M411.8 241.9h.6M399.7 232.5h.6M403.5 226.4h.6M403.8 243.0h.6M409.9 240.6h.6M395.0 229.5h.6M406.5 244.1h.6M400.0 246.3h.6M384.1 241.1h.6M401.4 236.6h.6M398.3 231.5h.6M396.3 233.2h.6M407.1 239.3h.6M405.0 235.6h.6M401.3 233.9h.6M405.8 241.3h.6M404.1 248.3h.6M409.9 230.2h.6M407.4 253.1h.6M406.0 242.5h.6M397.5 240.3h.6M409.4 231.7h.6M400.9 237.7h.6M398.8 236.7h.6M395.5 236.7h.6M399.9 247.0h.6M418.5 232.3h.6M402.5 232.8h.6M402.3 238.2h.6M400.7 248.3h.6M403.2 241.8h.6M397.0 250.8h.6M397.4 240.6h.6M401.5 231.8h.6M408.6 242.9h.6M392.1 232.8h.6M398.5 240.6h.6M397.8 248.0h.6M401.8 222.2h.6M403.8 240.0h.6M397.9 233.5h.6M395.7 235.6h.6M404.2 243.5h.6M399.2 237.6h.6M398.8 235.2h.6M397.3 236.0h.6M403.8 241.3h.6M395.8 239.1h.6M401.8 240.3h.6M410.6 245.7h.6M400.6 244.9h.6M405.0 233.8h.6M413.8 246.5h.6M406.1 237.2h.6M402.7 241.7h.6M407.3 236.9h.6M401.7 246.2h.6M400.2 246.8h.6M407.9 234.9h.6M390.4 246.4h.6M404.3 231.5h.6M408.9 233.8h.6M397.7 244.7h.6M397.0 243.1h.6M400.5 230.4h.6M389.7 229.0h.6M409.1 235.3h.6M396.4 249.4h.6M406.3 237.7h.6M403.2 241.9h.6M404.3 239.0h.6M405.0 230.2h.6M407.4 230.9h.6M395.7 232.4h.6M400.0 237.9h.6M400.2 248.3h.6M397.7 251.5h.6M401.2 228.6h.6M407.3 227.5h.6M400.3 252.7h.6M407.5 254.2h.6M407.8 229.7h.6M393.1 243.3h.6M413.1 228.6h.6M403.4 236.1h.6M402.8 240.2h.6M398.6 241.0h.6M405.5 226.0h.6M398.4 235.9h.6M407.6 243.1h.6M409.1 231.1h.6M403.6 243.7h.6M404.2 243.6h.6M413.8 224.8h.6M398.5 252.8h.6M394.7 238.7h.6M394.3 242.9h.6M412.4 246.8h.6M407.2 235.1h.6M398.4 239.1h.6M403.4 222.0h.6M394.0 238.2h.6M404.4 235.3h.6M398.1 224.3h.6M401.2 247.1h.6M399.5 241.7h.6M402.6 229.7h.6M402.2 240.3h.6M404.9 252.1h.6M409.9 242.8h.6M408.9 240.9h.6M405.7 242.4h.6M410.8 244.5h.6M403.4 239.8h.6M410.4 238.0h.6M402.5 233.0h.6M402.3 249.4h.6M410.7 238.8h.6M407.1 244.2h.6M401.6 243.2h.6M401.9 239.0h.6M401.8 224.0h.6M404.2 228.8h.6M407.1 246.3h.6M398.0 242.4h.6M399.0 229.8h.6M397.5 239.1h.6M400.1 234.5h.6M402.4 248.8h.6M400.6 231.1h.6M399.4 249.8h.6M403.9 234.3h.6M401.5 237.4h.6M412.3 240.7h.6M394.6 220.5h.6M407.9 230.5h.6M397.2 253.7h.6M411.2 229.4h.6M412.4 231.8h.6M406.6 227.3h.6M392.2 225.1h.6M402.1 238.0h.6M408.7 235.9h.6M410.9 234.3h.6M406.6 226.3h.6M395.2 244.8h.6M403.2 235.9h.6M406.0 234.2h.6M410.9 240.3h.6M405.9 229.5h.6M397.8 233.9h.6M402.3 240.8h.6M400.9 235.6h.6M402.8 230.2h.6M395.7 246.7h.6M413.8 241.1h.6M396.0 232.4h.6M409.6 238.3h.6M403.6 243.1h.6M399.2 240.6h.6M409.5 232.2h.6M404.8 247.8h.6M412.5 233.9h.6M402.1 239.1h.6M393.7 226.0h.6M402.4 247.4h.6M403.7 230.1h.6M405.8 233.7h.6M401.4 232.7h.6M395.2 252.0h.6M405.8 244.8h.6M402.1 239.4h.6M405.3 246.1h.6M405.7 227.0h.6M391.5 233.2h.6M406.7 243.2h.6M402.0 244.7h.6M393.5 241.4h.6M403.1 238.1h.6M398.6 245.9h.6M405.8 240.6h.6M407.5 245.4h.6M392.6 245.3h.6M412.1 233.2h.6M397.9 238.6h.6M410.1 245.4h.6M407.8 233.6h.6M399.5 239.7h.6M399.4 238.1h.6M404.4 248.0h.6M400.2 236.7h.6M406.0 233.8h.6M403.0 244.5h.6M398.7 247.8h.6M409.5 242.8h.6M394.7 244.1h.6M403.4 231.8h.6M403.2 245.3h.6M409.5 230.2h.6M402.6 248.2h.6M403.8 243.8h.6M409.1 251.0h.6M412.0 224.1h.6M405.1 238.8h.6M406.8 238.6h.6M415.3 237.6h.6M399.8 237.4h.6M398.6 232.1h.6M406.2 230.3h.6M400.9 233.9h.6M402.0 245.5h.6M407.6 238.2h.6M399.4 239.0h.6M398.0 235.3h.6M401.6 230.1h.6M397.8 230.2h.6M407.7 236.5h.6M399.8 229.0h.6M410.3 236.6h.6M396.4 237.9h.6M401.5 251.3h.6M401.8 233.6h.6M404.8 235.9h.6M401.0 241.9h.6M412.0 249.2h.6M395.6 240.4h.6M409.0 237.8h.6M399.0 243.5h.6M404.5 234.0h.6M401.4 251.2h.6M407.2 240.6h.6M401.6 233.6h.6M405.0 237.1h.6M401.1 240.1h.6M407.1 242.2h.6M397.3 226.9h.6M399.2 239.7h.6M397.4 238.2h.6M403.7 245.9h.6M405.9 238.5h.6M404.4 230.3h.6M405.2 245.4h.6M413.6 237.1h.6M410.1 237.0h.6M401.4 236.2h.6M399.6 228.5h.6M394.1 244.0h.6M410.6 237.0h.6M402.6 226.6h.6M411.1 237.9h.6M404.2 252.3h.6M409.7 237.3h.6M408.3 239.9h.6M400.7 239.7h.6M403.9 247.4h.6M400.1 244.6h.6M407.9 236.8h.6M399.2 231.8h.6M413.1 228.0h.6M403.0 246.5h.6M402.3 232.2h.6M397.2 232.6h.6M409.6 231.4h.6M392.4 236.8h.6M397.7 250.0h.6M410.5 247.6h.6M406.7 232.7h.6M397.6 234.0h.6M395.7 246.4h.6M405.1 218.7h.6M403.8 235.1h.6M407.9 238.4h.6M392.4 237.0h.6M395.0 242.6h.6M395.2 246.9h.6M402.8 243.5h.6M394.0 233.1h.6M404.1 240.3h.6M404.1 240.5h.6M402.3 244.3h.6M408.8 231.8h.6M412.7 234.6h.6M398.5 241.0h.6M401.7 249.2h.6M414.8 245.9h.6M404.7 236.6h.6M399.3 237.4h.6M411.8 251.3h.6M399.4 246.9h.6M405.4 230.5h.6M401.7 242.3h.6M405.8 248.2h.6M399.1 260.1h.6M407.4 234.5h.6M398.6 243.7h.6M408.0 240.7h.6M402.1 237.1h.6M403.2 232.7h.6M405.3 239.0h.6M401.0 233.0h.6M396.5 227.0h.6M398.2 243.4h.6M408.0 232.5h.6M403.4 234.3h.6" stroke="#000" stroke-width=".6" opacity="0.3"/>
<ellipse cx="403.5" cy="238.8" rx="9" ry="10" fill="#000" opacity="0.35" filter="url(#b2)"/>
<path d="M396.8 234.8L403 229.8L411 229.3L411.8 236.8L410 245.8L405 247.8L399 245.8L396.3 240.8Z" fill="#000" opacity="1" filter="url(#b1)"/>
</g>
<rect x="389" y="200.8" width="52.5" height="50.8" fill="none" stroke="#777" stroke-width="0.5"/>
<rect x="396.1" y="207.2" width="20.599999999999966" height="16.5" fill="none" stroke="#333" stroke-width="0.5"/>
<text x="440.3" y="205.20000000000002" font-size="3.1" text-anchor="end" fill="#222" textLength="12" lengthAdjust="spacingAndGlyphs" stroke="#222" stroke-width="0.08">2.4 ± 0.5</text>
<line x1="295.4" y1="287.3" x2="295.4" y2="335" stroke="#000" stroke-width="0.6"/>
<line x1="294.09999999999997" y1="288.1" x2="295.4" y2="288.1" stroke="#000" stroke-width="0.6"/>
<text x="293.59999999999997" y="289.36" font-size="3.5" text-anchor="end" font-weight="bold" fill="#000" stroke="#000" stroke-width="0.1">0.020</text>
<line x1="294.09999999999997" y1="299.8" x2="295.4" y2="299.8" stroke="#000" stroke-width="0.6"/>
<text x="293.59999999999997" y="301.06" font-size="3.5" text-anchor="end" font-weight="bold" fill="#000" stroke="#000" stroke-width="0.1">0.015</text>
<line x1="294.09999999999997" y1="311.6" x2="295.4" y2="311.6" stroke="#000" stroke-width="0.6"/>
<text x="293.59999999999997" y="312.86" font-size="3.5" text-anchor="end" font-weight="bold" fill="#000" stroke="#000" stroke-width="0.1">0.010</text>
<line x1="294.09999999999997" y1="323.3" x2="295.4" y2="323.3" stroke="#000" stroke-width="0.6"/>
<text x="293.59999999999997" y="324.56" font-size="3.5" text-anchor="end" font-weight="bold" fill="#000" stroke="#000" stroke-width="0.1">0.005</text>
<line x1="294.09999999999997" y1="335" x2="295.4" y2="335" stroke="#000" stroke-width="0.6"/>
<text x="293.59999999999997" y="336.26" font-size="3.5" text-anchor="end" font-weight="bold" fill="#000" stroke="#000" stroke-width="0.1">0.000</text>
<line x1="295.4" y1="335" x2="329.9" y2="335" stroke="#000" stroke-width="0.6"/>
<line x1="301.2" y1="296.2" x2="301.2" y2="294.7" stroke="#000" stroke-width="0.6"/>
<line x1="299.7" y1="294.7" x2="302.7" y2="294.7" stroke="#000" stroke-width="0.6"/>
<rect x="297.2" y="296.2" width="8.0" height="38.80000000000001" fill="#000" stroke="#000" stroke-width="0.6"/>
<line x1="312.45" y1="321.9" x2="312.45" y2="320.3" stroke="#000" stroke-width="0.6"/>
<line x1="310.95" y1="320.3" x2="313.95" y2="320.3" stroke="#000" stroke-width="0.6"/>
<rect x="308.2" y="321.9" width="8.5" height="13.100000000000023" fill="#fff" stroke="#000" stroke-width="0.6"/>
<line x1="323.79999999999995" y1="301.8" x2="323.79999999999995" y2="297.8" stroke="#000" stroke-width="0.6"/>
<line x1="322.29999999999995" y1="297.8" x2="325.29999999999995" y2="297.8" stroke="#000" stroke-width="0.6"/>
<rect x="319.7" y="301.8" width="8.199999999999989" height="33.19999999999999" fill="#999" stroke="#000" stroke-width="0.6"/>
<text x="281.6" y="311.5" font-size="3.9" text-anchor="middle" font-weight="bold" fill="#000" transform="rotate(-90 281.6 311.5)" textLength="17" lengthAdjust="spacingAndGlyphs" stroke="#000" stroke-width="0.1">x10³/mLN</text>
<line x1="300.2" y1="289.5" x2="312.6" y2="289.5" stroke="#333" stroke-width="0.5"/>
<line x1="300.2" y1="288.7" x2="300.2" y2="290.3" stroke="#333" stroke-width="0.5"/>
<line x1="312.6" y1="288.7" x2="312.6" y2="290.3" stroke="#333" stroke-width="0.5"/>
<text x="306.75" y="290.844" font-size="4.2" text-anchor="middle" font-weight="bold" fill="#000" stroke="#000" stroke-width="0.1" letter-spacing="0.7000000000000001">**</text>
<line x1="355.4" y1="288.3" x2="355.4" y2="334.8" stroke="#000" stroke-width="0.6"/>
<line x1="354.09999999999997" y1="289.1" x2="355.4" y2="289.1" stroke="#000" stroke-width="0.6"/>
<text x="353.79999999999995" y="290.36" font-size="3.5" text-anchor="end" font-weight="bold" fill="#000" stroke="#000" stroke-width="0.1">0.8</text>
<line x1="354.09999999999997" y1="300.5" x2="355.4" y2="300.5" stroke="#000" stroke-width="0.6"/>
<text x="353.79999999999995" y="301.76" font-size="3.5" text-anchor="end" font-weight="bold" fill="#000" stroke="#000" stroke-width="0.1">0.6</text>
<line x1="354.09999999999997" y1="312" x2="355.4" y2="312" stroke="#000" stroke-width="0.6"/>
<text x="353.79999999999995" y="313.26" font-size="3.5" text-anchor="end" font-weight="bold" fill="#000" stroke="#000" stroke-width="0.1">0.4</text>
<line x1="354.09999999999997" y1="323.4" x2="355.4" y2="323.4" stroke="#000" stroke-width="0.6"/>
<text x="353.79999999999995" y="324.65999999999997" font-size="3.5" text-anchor="end" font-weight="bold" fill="#000" stroke="#000" stroke-width="0.1">0.2</text>
<line x1="354.09999999999997" y1="334.8" x2="355.4" y2="334.8" stroke="#000" stroke-width="0.6"/>
<text x="353.79999999999995" y="336.06" font-size="3.5" text-anchor="end" font-weight="bold" fill="#000" stroke="#000" stroke-width="0.1">0.0</text>
<line x1="355.4" y1="334.8" x2="388.7" y2="334.8" stroke="#000" stroke-width="0.6"/>
<line x1="360.95000000000005" y1="302.6" x2="360.95000000000005" y2="298.6" stroke="#000" stroke-width="0.6"/>
<line x1="359.45000000000005" y1="298.6" x2="362.45000000000005" y2="298.6" stroke="#000" stroke-width="0.6"/>
<rect x="357.1" y="302.6" width="7.699999999999989" height="32.19999999999999" fill="#000" stroke="#000" stroke-width="0.6"/>
<line x1="372.0" y1="303.2" x2="372.0" y2="299.6" stroke="#000" stroke-width="0.6"/>
<line x1="370.5" y1="299.6" x2="373.5" y2="299.6" stroke="#000" stroke-width="0.6"/>
<rect x="368.2" y="303.2" width="7.600000000000023" height="31.600000000000023" fill="#fff" stroke="#000" stroke-width="0.6"/>
<line x1="382.79999999999995" y1="298.8" x2="382.79999999999995" y2="292.1" stroke="#000" stroke-width="0.6"/>
<line x1="381.29999999999995" y1="292.1" x2="384.29999999999995" y2="292.1" stroke="#000" stroke-width="0.6"/>
<rect x="378.9" y="298.8" width="7.800000000000011" height="36.0" fill="#999" stroke="#000" stroke-width="0.6"/>
<text x="346.2" y="311.6" font-size="3.9" text-anchor="middle" font-weight="bold" fill="#000" transform="rotate(-90 346.2 311.6)" textLength="16.8" lengthAdjust="spacingAndGlyphs" stroke="#000" stroke-width="0.1">x10³/mLN</text>
<text x="310.2" y="283.9" font-size="5.3" text-anchor="middle" fill="#111" textLength="32.7" lengthAdjust="spacingAndGlyphs" stroke="#111" stroke-width="0.08">CD8⁺FoxP3⁺</text>
<text x="371" y="283.9" font-size="5.3" text-anchor="middle" fill="#111" textLength="35" lengthAdjust="spacingAndGlyphs" stroke="#111" stroke-width="0.08">CD8⁺FoxP3ⁿᵉᵍ</text>
<rect x="408.1" y="298.9" width="8.1" height="4" fill="#000" stroke="#000" stroke-width="0.5"/>
<text x="419.1" y="302.7" font-size="5.15" text-anchor="start" fill="#111" stroke="#111" stroke-width="0.08">Control Antibody</text>
<rect x="408.1" y="305.65" width="8.1" height="4" fill="#fff" stroke="#000" stroke-width="0.5"/>
<text x="419.1" y="309.45" font-size="5.15" text-anchor="start" fill="#111" stroke="#111" stroke-width="0.08">Anti-TGFβ</text>
<rect x="408.1" y="312.4" width="8.1" height="4" fill="#999" stroke="#000" stroke-width="0.5"/>
<text x="419.1" y="316.2" font-size="5.15" text-anchor="start" fill="#111" stroke="#111" stroke-width="0.08">Anti-IL-10R</text>
</svg>
</body></html>
